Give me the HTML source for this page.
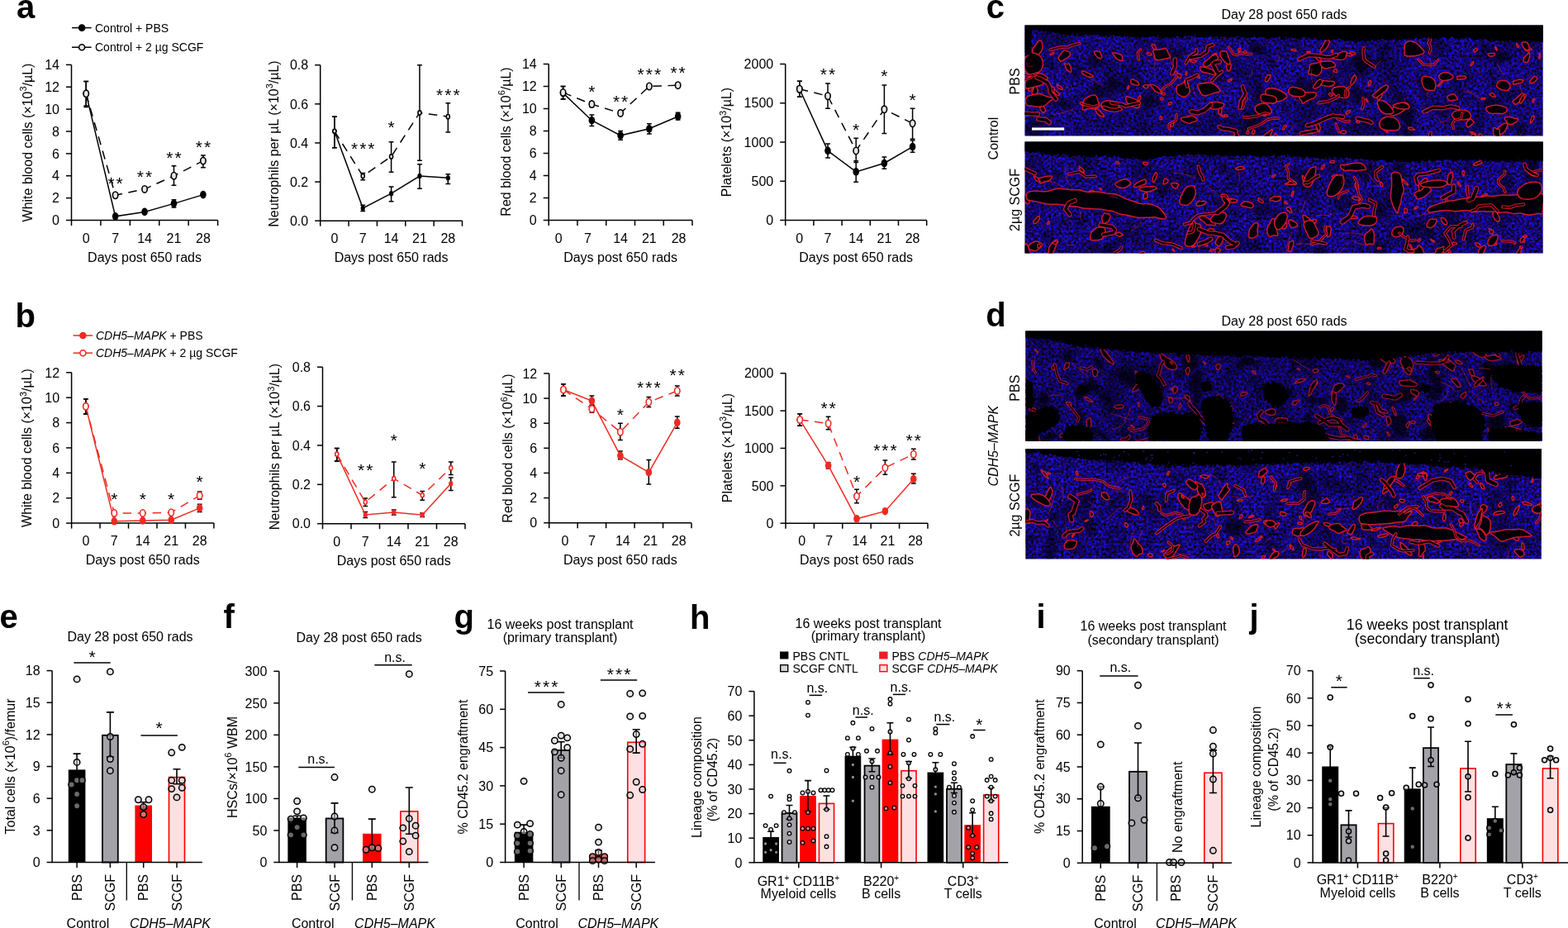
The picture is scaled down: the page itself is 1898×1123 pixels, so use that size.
<!DOCTYPE html>
<html><head><meta charset="utf-8"><title>Figure</title>
<style>html,body{margin:0;padding:0;background:#fff;width:1898px;height:1123px;overflow:hidden}svg{display:block}</style>
</head><body>
<svg width="1898" height="1123" viewBox="0 0 1898 1123" font-family='"Liberation Sans", sans-serif' font-size="16" fill="#000">
<rect width="1898" height="1123" fill="#fff"/>
<defs><filter id="tex0" x="1200" y="0" width="700" height="720" filterUnits="userSpaceOnUse" color-interpolation-filters="sRGB">
<feTurbulence type="fractalNoise" baseFrequency="0.33" numOctaves="3" seed="7" result="n"/>
<feColorMatrix in="n" type="matrix" values="0.05 0.32 0 0 -0.1  0.12 0 0 0 -0.03  1.85 0 0 0 -0.45  0 0 0 0 1" result="c0"/>
<feGaussianBlur in="c0" stdDeviation="0.45" result="c"/>
<feTurbulence type="fractalNoise" baseFrequency="0.03" numOctaves="2" seed="3" result="m"/>
<feColorMatrix in="m" type="matrix" values="1.3 0 0 0 0.28  1.3 0 0 0 0.28  1.3 0 0 0 0.28  0 0 0 0 1" result="mm"/>
<feComposite in="c" in2="mm" operator="arithmetic" k1="1" k2="0" k3="0" k4="0"/>
</filter><filter id="tex1" x="1200" y="0" width="700" height="720" filterUnits="userSpaceOnUse" color-interpolation-filters="sRGB">
<feTurbulence type="fractalNoise" baseFrequency="0.33" numOctaves="3" seed="11" result="n"/>
<feColorMatrix in="n" type="matrix" values="0.05 0.32 0 0 -0.1  0.12 0 0 0 -0.03  1.85 0 0 0 -0.45  0 0 0 0 1" result="c0"/>
<feGaussianBlur in="c0" stdDeviation="0.45" result="c"/>
<feTurbulence type="fractalNoise" baseFrequency="0.03" numOctaves="2" seed="5" result="m"/>
<feColorMatrix in="m" type="matrix" values="1.3 0 0 0 0.28  1.3 0 0 0 0.28  1.3 0 0 0 0.28  0 0 0 0 1" result="mm"/>
<feComposite in="c" in2="mm" operator="arithmetic" k1="1" k2="0" k3="0" k4="0"/>
</filter><filter id="soft" x="-20%" y="-20%" width="140%" height="140%"><feGaussianBlur stdDeviation="2.2"/></filter><filter id="soft2" x="-5%" y="-5%" width="110%" height="110%"><feGaussianBlur stdDeviation="0.65"/></filter><filter id="rag" x="1230" y="20" width="650" height="670" filterUnits="userSpaceOnUse"><feTurbulence type="fractalNoise" baseFrequency="0.3" numOctaves="2" seed="4" result="t"/><feDisplacementMap in="SourceGraphic" in2="t" scale="7" xChannelSelector="R" yChannelSelector="G" result="d"/><feGaussianBlur in="d" stdDeviation="0.4"/></filter></defs>
<clipPath id="mc0"><rect x="1240.5" y="30.5" width="627.2" height="134.1"/></clipPath>
<g clip-path="url(#mc0)">
<rect x="1240.5" y="30.5" width="627.2" height="134.1" fill="#1a10a8" filter="url(#tex0)"/>
<g filter="url(#soft)" fill="#000" fill-opacity="0.5">
<path d="M1526.6 133.8 Q1523.8 134.6 1522.3 130.5 Q1520.8 126.4 1519.2 123.2 Q1517.5 120 1517.7 114.2 Q1518 108.3 1519.9 103.4 Q1521.8 98.5 1523.9 103 Q1526 107.4 1527.6 109.1 Q1529.3 110.8 1528.9 115 Q1528.5 119.3 1528.9 126.2 Q1529.3 133 1526.6 133.8Z"/>
<path d="M1671.2 77 Q1666.9 78.1 1666.9 72.9 Q1666.8 67.6 1668 64 Q1669.1 60.4 1670 55.1 Q1671 49.8 1674.5 50.9 Q1678 51.9 1680.6 52.3 Q1683.2 52.7 1684.1 56 Q1684.9 59.4 1682.6 62.9 Q1680.3 66.3 1677.9 71.1 Q1675.6 76 1671.2 77Z"/>
<path d="M1518.8 157.4 Q1516.8 160.5 1514.3 158.2 Q1511.8 156 1511 152.6 Q1510.3 149.3 1508.6 144.5 Q1506.8 139.7 1509.8 136.3 Q1512.8 132.8 1516.6 133.4 Q1520.4 134.1 1522.7 137.6 Q1525.1 141.1 1524.3 145.2 Q1523.6 149.3 1522.2 151.8 Q1520.8 154.3 1518.8 157.4Z"/>
<path d="M1412.5 71.8 Q1410.4 70.8 1408.2 68.9 Q1405.9 67 1410.6 63.2 Q1415.3 59.3 1419.6 59.8 Q1424 60.2 1427 59.5 Q1430 58.7 1434.5 58.9 Q1439 59 1434.7 62.7 Q1430.3 66.3 1426.5 70.2 Q1422.7 74.1 1418.7 73.4 Q1414.7 72.7 1412.5 71.8Z"/>
<path d="M1296.4 126.4 Q1298.2 128.2 1299 130.8 Q1299.8 133.4 1293.7 132.5 Q1287.6 131.6 1284.2 129 Q1280.8 126.5 1278.3 124.9 Q1275.7 123.3 1276.9 122.3 Q1278 121.3 1280.4 121.1 Q1282.7 120.9 1286.9 120.2 Q1291 119.6 1292.8 122.1 Q1294.7 124.7 1296.4 126.4Z"/>
<path d="M1599.9 105 Q1598.8 108.6 1596 109.5 Q1593.2 110.4 1591.2 111.8 Q1589.1 113.3 1587.8 111.4 Q1586.4 109.5 1585.8 107.4 Q1585.2 105.4 1584.7 101.5 Q1584.2 97.6 1587.6 96.1 Q1590.9 94.7 1593.1 96.9 Q1595.2 99.1 1598.1 100.2 Q1601.1 101.4 1599.9 105Z"/>
<path d="M1389.7 102.2 Q1393.1 106.3 1386.5 106.2 Q1379.9 106.1 1376.3 106.2 Q1372.7 106.3 1366.9 105.6 Q1361.1 104.9 1360.7 101.5 Q1360.2 98.1 1361.2 95.9 Q1362.1 93.7 1365.7 93.8 Q1369.4 93.8 1372.7 94.5 Q1375.9 95.2 1381.1 96.7 Q1386.3 98.2 1389.7 102.2Z"/>
<path d="M1385.8 124.3 Q1383.7 123 1384.2 120.7 Q1384.7 118.3 1387.2 116 Q1389.7 113.6 1392.7 115.4 Q1395.8 117.2 1397.4 118.3 Q1399 119.4 1402.1 121.4 Q1405.2 123.3 1402.5 125.8 Q1399.8 128.3 1396.1 127.7 Q1392.3 127.1 1390.2 126.4 Q1388 125.6 1385.8 124.3Z"/>
<path d="M1698.8 165 Q1696.8 161.1 1696.9 157.6 Q1697.1 154.2 1699 153.1 Q1700.9 152 1702.6 152.1 Q1704.3 152.1 1707.9 151.1 Q1711.4 150 1710.9 154.5 Q1710.3 158.9 1711.3 162.8 Q1712.2 166.7 1709.3 166.5 Q1706.3 166.3 1703.5 167.6 Q1700.7 168.9 1698.8 165Z"/>
<path d="M1619.9 87.6 Q1620 90 1619.4 92.9 Q1618.9 95.8 1616.3 97.9 Q1613.8 100.1 1611.4 98.1 Q1609 96.1 1608.9 93.1 Q1608.8 90 1607.7 86.5 Q1606.7 82.9 1609.9 82.8 Q1613.2 82.7 1614.8 83.3 Q1616.4 84 1618.1 84.6 Q1619.9 85.3 1619.9 87.6Z"/>
<path d="M1520.3 68.1 Q1518.9 68.6 1517.3 68.2 Q1515.7 67.7 1513.9 65.7 Q1512.1 63.7 1513.1 60.5 Q1514.1 57.3 1516.8 56.6 Q1519.5 55.9 1521.8 56.3 Q1524.1 56.8 1525.2 59 Q1526.3 61.3 1525.1 63.4 Q1523.8 65.6 1522.7 66.6 Q1521.6 67.6 1520.3 68.1Z"/>
<path d="M1266.3 151.3 Q1266.6 156 1264 159.2 Q1261.4 162.4 1257.5 165.1 Q1253.7 167.7 1249.6 165.1 Q1245.5 162.4 1239.5 160.7 Q1233.5 159 1238.7 155.5 Q1243.8 152.1 1244.6 148.5 Q1245.4 144.9 1250.4 143.7 Q1255.4 142.5 1260.7 144.6 Q1266 146.7 1266.3 151.3Z"/>
<path d="M1711.5 143.4 Q1710.3 147.8 1706 148.9 Q1701.6 150.1 1697 145.9 Q1692.4 141.8 1692.4 136.1 Q1692.3 130.5 1691.8 125.1 Q1691.3 119.6 1695.1 117.2 Q1698.9 114.8 1703.4 118.2 Q1707.8 121.7 1710.9 126 Q1714.1 130.3 1713.4 134.7 Q1712.6 139.1 1711.5 143.4Z"/>
<path d="M1599.3 125.9 Q1598.1 122.8 1599.2 119.7 Q1600.4 116.5 1602.6 116 Q1604.9 115.4 1607.1 114.8 Q1609.3 114.1 1610.6 116.8 Q1611.9 119.5 1611.6 122.3 Q1611.3 125.2 1610.7 128.4 Q1610 131.6 1607.7 129.7 Q1605.4 127.9 1603 128.5 Q1600.6 129.1 1599.3 125.9Z"/>
<path d="M1255.2 129.3 Q1252.9 130.6 1252 128.9 Q1251.1 127.2 1251.8 123.7 Q1252.5 120.1 1255.7 118.3 Q1259 116.4 1260.4 116.4 Q1261.9 116.4 1263.5 116.1 Q1265.2 115.8 1266 117.7 Q1266.7 119.6 1264 122.3 Q1261.3 125.1 1259.4 126.5 Q1257.5 128 1255.2 129.3Z"/>
<path d="M1815.7 134.6 Q1814.6 138.2 1811.1 136.9 Q1807.5 135.7 1804.4 135.1 Q1801.4 134.4 1798.6 131.4 Q1795.8 128.3 1796.8 123.8 Q1797.8 119.4 1801.8 117.1 Q1805.9 114.8 1809.4 117.4 Q1812.9 120 1815.8 122.1 Q1818.7 124.2 1817.7 127.6 Q1816.7 131 1815.7 134.6Z"/>
<path d="M1318.5 125.2 Q1313.2 126.9 1314.6 120.9 Q1316.1 114.8 1317.7 111.3 Q1319.3 107.8 1321.6 103.8 Q1323.9 99.9 1327.4 99.9 Q1330.8 99.9 1332.7 101.8 Q1334.5 103.7 1335.5 106.8 Q1336.4 109.9 1334.5 114.7 Q1332.5 119.4 1328.2 121.4 Q1323.8 123.5 1318.5 125.2Z"/>
<path d="M1447.9 148.1 Q1448.2 149.7 1450.8 153.2 Q1453.4 156.7 1446.3 154.2 Q1439.1 151.7 1433.1 151.6 Q1427.1 151.6 1424.3 148.7 Q1421.5 145.8 1423.7 144.1 Q1425.9 142.4 1427.8 140.2 Q1429.8 138 1435.3 141 Q1440.9 144 1444.3 145.3 Q1447.7 146.5 1447.9 148.1Z"/>
<path d="M1534.3 62.7 Q1534.1 63.9 1534.9 66.3 Q1535.8 68.6 1530.9 66.9 Q1526 65.2 1521.2 62.9 Q1516.3 60.7 1513.4 57.8 Q1510.6 54.9 1510.6 52.7 Q1510.7 50.5 1514.8 50.4 Q1518.9 50.2 1524.9 53.2 Q1530.9 56.2 1532.7 58.9 Q1534.5 61.5 1534.3 62.7Z"/>
<path d="M1537.9 81.6 Q1536.2 79.4 1535 78.1 Q1533.8 76.8 1533.6 75.1 Q1533.5 73.5 1534.2 71.7 Q1535 69.9 1537.4 70.5 Q1539.7 71.2 1541.8 72.6 Q1543.8 73.9 1544.9 76.2 Q1546 78.5 1544.4 79.7 Q1542.8 80.9 1541.2 82.3 Q1539.7 83.7 1537.9 81.6Z"/>
<path d="M1822.6 69.6 Q1823.2 72.8 1821.1 75.3 Q1819 77.8 1813.4 78.3 Q1807.8 78.8 1803.6 74.4 Q1799.5 70.1 1796.2 66.6 Q1792.9 63.2 1792.5 59.1 Q1792 55.1 1797.7 54.5 Q1803.4 53.9 1810.3 55.6 Q1817.1 57.3 1819.6 61.9 Q1822.1 66.4 1822.6 69.6Z"/>
<path d="M1646.2 94.7 Q1642.1 93.9 1641.7 89.2 Q1641.4 84.5 1638.8 80.6 Q1636.3 76.8 1639.5 71.2 Q1642.6 65.7 1647.6 63.4 Q1652.6 61.1 1655.2 64.9 Q1657.7 68.8 1659.8 72.4 Q1662 76 1658.7 80.3 Q1655.4 84.5 1652.9 90.1 Q1650.4 95.6 1646.2 94.7Z"/>
<path d="M1778.8 101.6 Q1776.1 102 1774.3 100.3 Q1772.4 98.5 1772.9 96.6 Q1773.3 94.7 1772.1 92.3 Q1770.8 89.9 1773.6 90.4 Q1776.4 91 1778.8 89.6 Q1781.1 88.2 1781.4 90.7 Q1781.6 93.2 1782.1 94.8 Q1782.6 96.5 1782 98.8 Q1781.5 101.2 1778.8 101.6Z"/>
<path d="M1320.1 81.8 Q1317.3 79.5 1315.9 75.9 Q1314.5 72.2 1318.7 69.4 Q1322.8 66.7 1326.5 63.5 Q1330.3 60.4 1332 64.3 Q1333.7 68.2 1335.2 69.8 Q1336.8 71.4 1337.1 74.4 Q1337.4 77.3 1334 78.8 Q1330.7 80.3 1326.8 82.2 Q1322.9 84.1 1320.1 81.8Z"/>
<path d="M1648.9 121.6 Q1648.8 124.7 1646.6 127 Q1644.4 129.3 1639.7 125.5 Q1635 121.8 1634.5 116.6 Q1634 111.4 1631.1 105.7 Q1628.2 100 1630.6 97.5 Q1633.1 95 1637.7 99.1 Q1642.4 103.3 1645.8 107.3 Q1649.2 111.4 1649.1 115 Q1649 118.6 1648.9 121.6Z"/>
<path d="M1566.2 113.3 Q1564.3 112.5 1566.1 111.4 Q1567.9 110.3 1570.7 108.9 Q1573.6 107.6 1578.2 107.7 Q1582.8 107.7 1585.3 108.4 Q1587.9 109.1 1589 110.2 Q1590.1 111.3 1585.4 112 Q1580.7 112.7 1577.7 113.7 Q1574.8 114.8 1571.4 114.4 Q1568.1 114.1 1566.2 113.3Z"/>
<path d="M1846.8 157.4 Q1847.8 159.4 1846.8 162 Q1845.9 164.6 1842.4 165 Q1838.9 165.4 1836.8 162.7 Q1834.7 160.1 1834.3 157.9 Q1833.8 155.7 1834.9 154.1 Q1836 152.6 1837.5 150.6 Q1839 148.7 1842.5 148.7 Q1846 148.8 1845.9 152 Q1845.8 155.3 1846.8 157.4Z"/>
<path d="M1727.3 64.7 Q1725.8 65 1725 63.7 Q1724.3 62.4 1724.2 60.2 Q1724.1 58 1726.2 57.1 Q1728.3 56.2 1730.2 54 Q1732.2 51.8 1732.5 54.1 Q1732.8 56.5 1733.8 57.7 Q1734.8 59 1733.3 60.8 Q1731.8 62.7 1730.4 63.6 Q1728.9 64.5 1727.3 64.7Z"/>
<path d="M1574.1 110.5 Q1572.5 110.9 1571.1 110.1 Q1569.6 109.4 1567.9 107.4 Q1566.1 105.4 1566.8 101.9 Q1567.5 98.3 1569.7 96.6 Q1571.8 94.9 1574.4 93.9 Q1577 92.9 1578.3 96.2 Q1579.6 99.5 1580.3 103.3 Q1581 107.1 1578.4 108.6 Q1575.8 110.1 1574.1 110.5Z"/>
<path d="M1714.2 155.9 Q1716.9 162.2 1712.4 157.8 Q1707.9 153.5 1704.4 152.6 Q1700.8 151.8 1697.4 145.4 Q1694 139 1696.2 137.7 Q1698.4 136.4 1699.2 135.1 Q1700 133.8 1702.3 133.5 Q1704.7 133.3 1707.3 138.5 Q1709.9 143.7 1710.7 146.7 Q1711.5 149.7 1714.2 155.9Z"/>
<path d="M1768.5 116.5 Q1767.5 118.5 1765.2 113.9 Q1763 109.3 1761.6 107.3 Q1760.2 105.2 1758.1 100.5 Q1756.1 95.8 1755.6 90.7 Q1755.2 85.7 1756.9 84.8 Q1758.5 83.9 1760.9 90.5 Q1763.2 97.2 1765.1 100.5 Q1767 103.8 1768.2 109.1 Q1769.5 114.5 1768.5 116.5Z"/>
<path d="M1562.2 131.4 Q1560 132.3 1560.3 133.7 Q1560.6 135 1558.2 134.8 Q1555.9 134.7 1553.5 133.7 Q1551.1 132.7 1551.1 131.4 Q1551 130.1 1551.2 129.3 Q1551.4 128.4 1552.7 128.1 Q1554 127.8 1556.4 127.5 Q1558.9 127.1 1561.6 128.8 Q1564.3 130.4 1562.2 131.4Z"/>
<path d="M1827 73.3 Q1822.7 74.5 1819.6 73.2 Q1816.5 72 1814.2 70.8 Q1811.9 69.7 1812.1 67.7 Q1812.3 65.8 1815.1 64.3 Q1817.8 62.9 1821.5 62.1 Q1825.1 61.3 1826 63.2 Q1827 65.2 1830.6 66.2 Q1834.1 67.2 1832.7 69.7 Q1831.3 72.1 1827 73.3Z"/>
<path d="M1363.3 110.2 Q1362.3 111.8 1361.5 113.6 Q1360.6 115.5 1357 112.7 Q1353.3 109.8 1347.9 108.2 Q1342.5 106.6 1340.9 102.7 Q1339.3 98.8 1341.2 97 Q1343.1 95.2 1347 95.1 Q1350.8 95.1 1355.6 98.5 Q1360.3 102 1362.3 105.3 Q1364.3 108.6 1363.3 110.2Z"/>
<path d="M1632.5 122.8 Q1632.1 127.8 1627 127.7 Q1622 127.7 1616.3 124.8 Q1610.7 121.9 1606.3 116.4 Q1601.8 110.8 1603.1 106.9 Q1604.4 102.9 1604.8 98.1 Q1605.2 93.2 1611 94.6 Q1616.8 96 1621.8 101.2 Q1626.8 106.4 1629.8 112.1 Q1632.8 117.7 1632.5 122.8Z"/>
<path d="M1726.7 110.2 Q1726.8 112.5 1724.5 109.7 Q1722.2 106.9 1720.5 105.5 Q1718.7 104.2 1716.3 100 Q1713.8 95.8 1713.1 92.4 Q1712.5 89 1714.5 90.3 Q1716.5 91.6 1718.1 91.1 Q1719.7 90.6 1722.5 95.9 Q1725.3 101.3 1725.9 104.6 Q1726.5 107.9 1726.7 110.2Z"/>
<path d="M1643.9 120.2 Q1641.5 118.4 1642.8 116.1 Q1644.1 113.8 1648 112.5 Q1651.9 111.1 1657.1 111 Q1662.3 111 1661.5 114.1 Q1660.7 117.2 1663.4 118.9 Q1666.1 120.7 1663.6 122.7 Q1661.2 124.8 1656.9 124 Q1652.7 123.2 1649.5 122.6 Q1646.3 122 1643.9 120.2Z"/>
<path d="M1278.9 83.9 Q1281.1 87.3 1278.4 86.4 Q1275.7 85.5 1273.2 83.8 Q1270.7 82.1 1267.4 79.5 Q1264.2 76.8 1264.4 74.7 Q1264.5 72.6 1264.5 70.3 Q1264.5 68 1267.8 70 Q1271 71.9 1274 74.2 Q1276.9 76.4 1276.8 78.5 Q1276.6 80.5 1278.9 83.9Z"/>
<path d="M1621.4 138 Q1620 141.4 1617.8 142.9 Q1615.6 144.5 1613.4 146.4 Q1611.2 148.2 1609.5 147.1 Q1607.9 146 1609.6 142.6 Q1611.3 139.2 1611.3 135.1 Q1611.4 131 1614.2 130.6 Q1617.1 130.1 1619.1 130.1 Q1621.2 130 1622 132.3 Q1622.8 134.6 1621.4 138Z"/>
<path d="M1481.2 97 Q1479.4 99.8 1475.6 98.3 Q1471.8 96.8 1469.5 94.3 Q1467.2 91.7 1464.9 89.5 Q1462.7 87.3 1463.3 85.2 Q1463.9 83.2 1464.8 81.7 Q1465.8 80.1 1468.4 78.6 Q1471 77 1473.6 81.1 Q1476.3 85.3 1479.7 89.7 Q1483 94.2 1481.2 97Z"/>
</g>
<g fill="#000" fill-opacity="0.92" stroke="#f01c2c" stroke-opacity="0.85" stroke-width="1.5" filter="url(#soft2)">
<path d="M1722.6 60.5 Q1725.5 63.8 1721.3 65.4 Q1717.2 66.9 1713.6 67.6 Q1710.1 68.2 1704.8 68 Q1699.5 67.8 1700.1 64 Q1700.8 60.2 1700.1 57.5 Q1699.3 54.8 1701.7 51.9 Q1704.1 49 1709.3 50.2 Q1714.4 51.5 1717.1 54.4 Q1719.7 57.3 1722.6 60.5Z"/>
<path d="M1853.1 148.9 Q1852.3 149.6 1852.3 148.4 Q1852.4 147.2 1852.8 145.9 Q1853.2 144.6 1853.6 142.9 Q1854.1 141.1 1854.8 140.9 Q1855.5 140.8 1856.2 140.3 Q1856.9 139.8 1857.1 140.9 Q1857.3 142 1856.4 144 Q1855.6 146 1854.7 147 Q1853.9 148.1 1853.1 148.9Z"/>
<path d="M1597.4 101.9 Q1594.3 100.9 1596.2 99.3 Q1598.1 97.7 1601.3 97.7 Q1604.5 97.7 1606.5 98 Q1608.4 98.4 1612.2 98.6 Q1616 98.8 1615.6 100.6 Q1615.3 102.4 1612.8 103.5 Q1610.3 104.6 1607.4 104.4 Q1604.4 104.3 1602.5 103.6 Q1600.6 102.9 1597.4 101.9Z"/>
<path d="M1667.8 120.3 Q1667.1 119.7 1666.9 118.9 Q1666.6 118.1 1666.4 116.4 Q1666.2 114.7 1668.3 113.1 Q1670.4 111.5 1672.3 111.2 Q1674.2 110.8 1673.6 112.9 Q1672.9 114.9 1672.8 115.8 Q1672.6 116.7 1671.9 117.9 Q1671.3 119 1669.9 120 Q1668.5 120.9 1667.8 120.3Z"/>
<path d="M1636.9 66.8 Q1637.1 67.5 1636.1 67.7 Q1635.2 67.9 1633.6 67.8 Q1632 67.7 1630.5 67 Q1629 66.4 1627.9 65.7 Q1626.8 65.1 1627.4 64.8 Q1628 64.6 1628.8 64.4 Q1629.6 64.3 1631.3 64.4 Q1633 64.5 1634.8 65.3 Q1636.7 66.1 1636.9 66.8Z"/>
<path d="M1283.1 73.5 Q1282.2 72.2 1281.4 71.1 Q1280.6 69.9 1282.2 67.9 Q1283.8 65.9 1285.8 63.1 Q1287.9 60.4 1289.8 61.1 Q1291.7 61.9 1293.5 62.4 Q1295.3 63 1295.4 65.5 Q1295.5 67.9 1292.1 69.8 Q1288.8 71.6 1286.4 73.2 Q1284 74.8 1283.1 73.5Z"/>
<path d="M1712 156.7 Q1713.5 157.5 1711.8 157.3 Q1710.1 157.2 1709.4 157.1 Q1708.6 157.1 1707.3 156.9 Q1706 156.7 1705.3 156 Q1704.7 155.3 1704.6 154.6 Q1704.5 153.9 1705.9 154.1 Q1707.2 154.2 1708.6 154.2 Q1709.9 154.2 1710.2 155 Q1710.6 155.8 1712 156.7Z"/>
<path d="M1373 129.3 Q1372.5 129.5 1372.8 128.8 Q1373 128.2 1373.3 127.7 Q1373.6 127.3 1374 126.8 Q1374.4 126.3 1375 125.8 Q1375.6 125.3 1375.7 125.7 Q1375.7 126.2 1375.4 126.7 Q1375.1 127.2 1374.9 127.8 Q1374.7 128.5 1374.1 128.8 Q1373.5 129.2 1373 129.3Z"/>
<path d="M1810.9 163.7 Q1809.4 163.1 1809.5 161.5 Q1809.6 159.9 1811.2 157.7 Q1812.8 155.5 1816 152.4 Q1819.2 149.3 1822.7 148.9 Q1826.1 148.6 1824.9 151.5 Q1823.7 154.5 1823.1 156.4 Q1822.5 158.2 1820.1 160.3 Q1817.7 162.3 1815 163.3 Q1812.4 164.3 1810.9 163.7Z"/>
<path d="M1487 99 Q1486.5 98.8 1486.2 98.4 Q1486 97.9 1486.7 97.2 Q1487.4 96.5 1488.2 96.2 Q1488.9 96 1489.8 95.6 Q1490.7 95.1 1491.1 95.4 Q1491.5 95.8 1490.8 96.6 Q1490 97.4 1489.4 97.7 Q1488.9 98 1488.2 98.6 Q1487.5 99.1 1487 99Z"/>
<path d="M1576.1 123.8 Q1575.8 121.3 1573.8 120.1 Q1571.9 118.9 1573.6 115.6 Q1575.3 112.2 1579.1 112.1 Q1582.8 112 1584.8 111.9 Q1586.7 111.8 1590.3 111.7 Q1593.9 111.6 1593.1 115.1 Q1592.3 118.5 1587.7 119.8 Q1583 121.1 1579.7 123.7 Q1576.4 126.4 1576.1 123.8Z"/>
<path d="M1336.2 140.2 Q1336.8 141.7 1335.2 141.3 Q1333.6 141 1331.8 140.3 Q1330 139.7 1328.7 137.9 Q1327.3 136.2 1326.8 135 Q1326.3 133.9 1325.6 132.1 Q1325 130.4 1327.2 131.5 Q1329.4 132.5 1331.2 134.1 Q1333 135.6 1334.3 137.2 Q1335.6 138.7 1336.2 140.2Z"/>
<path d="M1684.4 139.6 Q1682.4 138.8 1682 136.7 Q1681.7 134.7 1684.7 131.8 Q1687.7 128.8 1691.8 126.7 Q1695.8 124.6 1699.3 124.3 Q1702.8 123.9 1704.2 125.5 Q1705.5 127.2 1702.8 130.2 Q1700 133.2 1696.8 135.3 Q1693.5 137.4 1689.9 138.9 Q1686.3 140.4 1684.4 139.6Z"/>
<path d="M1741.1 104.2 Q1739.8 105.1 1740.6 103.8 Q1741.3 102.5 1742 101.6 Q1742.7 100.7 1743.4 100.1 Q1744.1 99.4 1744.9 98.8 Q1745.8 98.2 1745.9 98.6 Q1746 99 1746.4 99.5 Q1746.7 100 1745.3 100.9 Q1743.9 101.8 1743.2 102.6 Q1742.4 103.3 1741.1 104.2Z"/>
<path d="M1320.3 126.4 Q1320.3 127.4 1319.5 128.2 Q1318.8 129 1316.2 129.4 Q1313.7 129.8 1311.7 128.3 Q1309.8 126.8 1308.5 126.2 Q1307.3 125.5 1307.2 124.8 Q1307.1 124.1 1308.4 123.8 Q1309.8 123.5 1311.9 123.8 Q1314 124.1 1317.1 124.7 Q1320.2 125.3 1320.3 126.4Z"/>
<path d="M1615.7 80.3 Q1616.2 80.9 1615.4 80.7 Q1614.7 80.6 1614.1 80.4 Q1613.4 80.3 1612.5 79.8 Q1611.6 79.3 1611.5 78.8 Q1611.4 78.3 1611.7 78.2 Q1612 78.1 1612.4 77.8 Q1612.7 77.5 1613.7 78 Q1614.7 78.5 1615 79.1 Q1615.3 79.7 1615.7 80.3Z"/>
<path d="M1588.3 160.2 Q1590 160.8 1588.9 161.3 Q1587.9 161.8 1586.1 161.6 Q1584.3 161.4 1582.8 161.1 Q1581.3 160.9 1580.4 160.3 Q1579.5 159.7 1580 159.3 Q1580.5 158.9 1580.7 158.2 Q1580.9 157.5 1582.9 157.9 Q1585 158.3 1585.8 158.9 Q1586.6 159.5 1588.3 160.2Z"/>
<path d="M1245.7 110.3 Q1244.9 109.7 1245.1 108.6 Q1245.3 107.5 1245.6 106.8 Q1245.8 106 1246.4 105.2 Q1247 104.4 1247.8 104.3 Q1248.5 104.1 1249.7 103.9 Q1250.8 103.8 1250.4 105.1 Q1249.9 106.4 1249.4 107.5 Q1248.8 108.6 1247.6 109.8 Q1246.5 110.9 1245.7 110.3Z"/>
<path d="M1410.1 113 Q1410.7 113.4 1410.4 114 Q1410 114.6 1409.1 114.9 Q1408.2 115.2 1407.5 114.7 Q1406.9 114.2 1406.3 114 Q1405.8 113.8 1405.4 113.3 Q1405 112.8 1405.9 112.7 Q1406.9 112.6 1407.5 112.3 Q1408.1 112 1408.8 112.3 Q1409.5 112.5 1410.1 113Z"/>
<path d="M1833.5 126 Q1832.8 124.6 1831.4 123.7 Q1830 122.7 1833.7 120.3 Q1837.5 117.9 1839.8 115.1 Q1842.1 112.2 1843.3 113.2 Q1844.5 114.2 1846.2 114.3 Q1847.9 114.5 1846.8 116.6 Q1845.6 118.7 1843 120.3 Q1840.4 121.9 1837.4 124.6 Q1834.3 127.3 1833.5 126Z"/>
<path d="M1436.4 91.1 Q1436.1 91.5 1435.8 90.9 Q1435.5 90.4 1435.2 89.9 Q1434.9 89.4 1435.1 88.7 Q1435.2 88.1 1435.3 87.5 Q1435.3 86.9 1435.6 86.8 Q1435.9 86.7 1436.3 86.9 Q1436.7 87.1 1436.8 88.2 Q1437 89.2 1436.8 89.9 Q1436.6 90.7 1436.4 91.1Z"/>
<path d="M1247.8 102.5 Q1246.9 103 1246.7 101 Q1246.6 99.1 1245.5 98.1 Q1244.4 97.1 1245.4 94.1 Q1246.4 91.1 1247.5 91 Q1248.6 90.9 1249.6 90 Q1250.7 89 1250.7 91.3 Q1250.6 93.6 1250.5 95.6 Q1250.3 97.7 1249.5 99.9 Q1248.8 102.1 1247.8 102.5Z"/>
<path d="M1429.5 93.1 Q1429.5 93.8 1429.1 94.5 Q1428.8 95.3 1427.7 94.3 Q1426.7 93.3 1425.3 92.5 Q1424 91.6 1424.2 90.6 Q1424.4 89.6 1424.8 88.9 Q1425.2 88.2 1426.4 88.8 Q1427.5 89.5 1428.7 90 Q1430 90.5 1429.7 91.5 Q1429.5 92.5 1429.5 93.1Z"/>
<path d="M1333.3 66.9 Q1334.1 68.4 1333.4 69.8 Q1332.8 71.3 1330.2 70.2 Q1327.7 69.2 1326.7 67.4 Q1325.8 65.7 1324.9 64.5 Q1324.1 63.2 1324.8 62.5 Q1325.5 61.8 1326.8 61.8 Q1328.1 61.8 1329.9 62.2 Q1331.6 62.6 1332.1 64 Q1332.5 65.5 1333.3 66.9Z"/>
<path d="M1814.6 106 Q1813.4 105.7 1813.9 104.2 Q1814.4 102.7 1815.2 101.6 Q1815.9 100.4 1817 99.5 Q1818.2 98.5 1818.9 99 Q1819.5 99.4 1820.5 99.4 Q1821.5 99.4 1821.7 100.5 Q1821.8 101.7 1820.6 103.4 Q1819.5 105.1 1817.7 105.6 Q1815.9 106.2 1814.6 106Z"/>
<path d="M1656 123.4 Q1655.8 123.7 1655.3 123.2 Q1654.8 122.7 1654.4 122.5 Q1654.1 122.2 1653.7 121.6 Q1653.4 121 1653.2 120.2 Q1653 119.5 1653.4 119.3 Q1653.7 119.1 1654.2 119.6 Q1654.8 120.1 1655 120.8 Q1655.3 121.5 1655.7 122.3 Q1656.2 123 1656 123.4Z"/>
<path d="M1809.7 115.9 Q1810.5 116.7 1810 117.3 Q1809.6 117.9 1808.1 117.3 Q1806.7 116.7 1805.5 116.1 Q1804.3 115.6 1803.6 114.7 Q1802.8 113.8 1803.8 113.6 Q1804.9 113.5 1805.2 112.8 Q1805.6 112.2 1806.9 112.9 Q1808.2 113.6 1808.6 114.3 Q1809 115.1 1809.7 115.9Z"/>
<path d="M1296.7 86.1 Q1296.6 88 1294.8 86.8 Q1293.1 85.7 1291.9 84.8 Q1290.6 83.9 1290.4 82.4 Q1290.2 80.9 1288.9 78.5 Q1287.7 76.1 1289.6 77.1 Q1291.5 78.1 1292.7 77.3 Q1293.9 76.5 1294.9 78.6 Q1295.9 80.8 1296.4 82.5 Q1296.8 84.3 1296.7 86.1Z"/>
<path d="M1585.6 89.8 Q1582.4 89.9 1584 86.9 Q1585.6 84 1585.3 80.6 Q1585 77.3 1588.9 77.2 Q1592.7 77 1596.9 75.4 Q1601.2 73.8 1600.3 77.5 Q1599.5 81.2 1599.9 83.7 Q1600.3 86.3 1597.6 89.5 Q1595 92.7 1591.9 91.2 Q1588.9 89.8 1585.6 89.8Z"/>
<path d="M1582.1 63.2 Q1581.1 63.2 1581.6 62.9 Q1582.2 62.6 1583 62.5 Q1583.8 62.4 1584.6 62.3 Q1585.3 62.2 1586 62.4 Q1586.6 62.6 1586.3 62.9 Q1586 63.2 1585.7 63.4 Q1585.3 63.7 1584.5 63.8 Q1583.7 63.9 1583.4 63.6 Q1583.1 63.3 1582.1 63.2Z"/>
<path d="M1365.5 107.6 Q1365.3 107.8 1364.9 107.8 Q1364.6 107.8 1364.7 107 Q1364.8 106.3 1364.9 105.5 Q1365 104.7 1365.4 104.4 Q1365.8 104.1 1366.2 103.9 Q1366.6 103.7 1366.5 104.6 Q1366.3 105.5 1366.5 106.2 Q1366.7 106.8 1366.2 107.1 Q1365.8 107.5 1365.5 107.6Z"/>
<path d="M1841.2 124.7 Q1840.3 125.4 1839.8 124.6 Q1839.2 123.9 1839.5 122.2 Q1839.7 120.6 1840.6 119.3 Q1841.5 118 1842.5 116.4 Q1843.6 114.8 1844.3 115.4 Q1845 116 1845.1 117.4 Q1845.3 118.8 1844.4 120.4 Q1843.5 121.9 1842.8 123 Q1842.1 124 1841.2 124.7Z"/>
<path d="M1597.2 158.8 Q1596.9 160.7 1595.9 159.2 Q1594.9 157.6 1594.5 156.3 Q1594.1 155 1593.3 153.4 Q1592.4 151.8 1592.7 150.1 Q1593.1 148.3 1594.2 148.4 Q1595.3 148.5 1596.2 149.8 Q1597.1 151.1 1597.8 152.8 Q1598.5 154.6 1598 155.8 Q1597.4 157 1597.2 158.8Z"/>
<path d="M1612.9 64 Q1612.7 64.5 1612.5 63.9 Q1612.3 63.4 1611.9 63.1 Q1611.5 62.8 1611.6 61.9 Q1611.8 61.1 1612.1 60.8 Q1612.4 60.6 1612.7 60.5 Q1613 60.5 1613.3 60.9 Q1613.6 61.2 1613.5 61.9 Q1613.5 62.6 1613.3 63.1 Q1613.1 63.5 1612.9 64Z"/>
<path d="M1815.1 167.1 Q1814.1 169 1812.5 167.1 Q1811 165.2 1809.3 164.3 Q1807.5 163.5 1807.5 161 Q1807.4 158.5 1807.8 155.9 Q1808.1 153.3 1810.1 155 Q1812 156.7 1813.7 156.2 Q1815.5 155.8 1815.3 158.4 Q1815 161 1815.6 163.1 Q1816.1 165.3 1815.1 167.1Z"/>
<path d="M1838.6 56.4 Q1837.9 56.2 1837.8 56.9 Q1837.7 57.6 1836.9 56.8 Q1836.1 55.9 1835.8 55 Q1835.6 54.1 1835.5 53.5 Q1835.5 52.9 1835.6 52.5 Q1835.8 52.1 1836.4 52.9 Q1837 53.7 1837.3 54.1 Q1837.7 54.6 1838.4 55.6 Q1839.2 56.7 1838.6 56.4Z"/>
<path d="M1435.9 116.4 Q1434.3 117.6 1432.2 117.2 Q1430.2 116.7 1427 114.8 Q1423.8 112.9 1424 107.9 Q1424.3 102.9 1427.6 102.5 Q1431 102 1433.4 99 Q1435.7 96 1437.3 100.1 Q1438.9 104.2 1439.9 107.4 Q1441 110.7 1439.3 112.9 Q1437.6 115.2 1435.9 116.4Z"/>
<path d="M1794.4 165.2 Q1795.1 166 1794 165.6 Q1793 165.3 1792.5 165.1 Q1792 165 1791.1 164.7 Q1790.2 164.4 1790.2 163.8 Q1790.3 163.3 1790.1 162.5 Q1789.9 161.7 1790.8 161.8 Q1791.7 161.8 1792.7 162.4 Q1793.6 163.1 1793.7 163.7 Q1793.8 164.4 1794.4 165.2Z"/>
<path d="M1680 159.7 Q1679.7 160 1679.5 160.5 Q1679.3 160.9 1678.1 159.8 Q1676.8 158.8 1676.1 158.1 Q1675.3 157.4 1674.9 156.7 Q1674.5 156 1674.2 155.3 Q1673.9 154.5 1674.9 154.8 Q1675.8 155.1 1677 156.2 Q1678.2 157.4 1679.3 158.4 Q1680.3 159.4 1680 159.7Z"/>
<path d="M1793.1 120.2 Q1792.2 120.2 1792.8 119.8 Q1793.4 119.4 1793.9 118.9 Q1794.4 118.5 1795.2 118.6 Q1796 118.7 1797.3 118.5 Q1798.6 118.2 1798.1 118.7 Q1797.7 119.3 1797.2 119.7 Q1796.8 120.1 1795.9 120.4 Q1795 120.6 1794.5 120.4 Q1794.1 120.2 1793.1 120.2Z"/>
<path d="M1618.5 86.1 Q1618.9 86.6 1618.8 87.2 Q1618.8 87.9 1617.7 87.6 Q1616.6 87.3 1615.9 87.1 Q1615.2 86.8 1614.5 86.3 Q1613.8 85.8 1614.3 85.4 Q1614.9 85 1615.1 84.2 Q1615.4 83.5 1616.7 83.6 Q1617.9 83.8 1618 84.7 Q1618.1 85.6 1618.5 86.1Z"/>
<path d="M1531.1 140.3 Q1530 139.9 1529.2 140 Q1528.4 140.1 1527.9 139 Q1527.3 137.9 1527.7 136.7 Q1528.2 135.6 1528.6 134.4 Q1529.1 133.3 1530.1 133.1 Q1531.1 132.9 1531.6 134.1 Q1532.2 135.3 1532.3 136.6 Q1532.5 137.8 1532.3 139.3 Q1532.1 140.8 1531.1 140.3Z"/>
<path d="M1664 118.1 Q1663.4 117 1662.1 116.5 Q1660.8 115.9 1663.7 113.3 Q1666.7 110.7 1669.3 108.4 Q1671.8 106.1 1675.3 104.2 Q1678.7 102.4 1679.7 103.5 Q1680.8 104.7 1679.2 107.6 Q1677.6 110.5 1674 112.7 Q1670.3 115 1667.5 117.1 Q1664.6 119.1 1664 118.1Z"/>
<path d="M1378.3 122.8 Q1377.6 123.7 1377.5 122.8 Q1377.3 121.8 1377.4 120.4 Q1377.4 119 1378.2 117.8 Q1379 116.6 1379.5 116 Q1379.9 115.4 1380.1 115.7 Q1380.3 116 1380.6 116.3 Q1381 116.5 1380.6 118 Q1380.1 119.5 1379.6 120.7 Q1379 121.9 1378.3 122.8Z"/>
<path d="M1405.5 144.5 Q1404.9 144.7 1404.4 144.5 Q1403.8 144.3 1404 143.4 Q1404.2 142.5 1404.5 142 Q1404.7 141.5 1405 141 Q1405.4 140.6 1405.7 140.9 Q1406 141.2 1406.3 141.5 Q1406.7 141.7 1406.8 142.5 Q1406.9 143.2 1406.4 143.8 Q1406 144.4 1405.5 144.5Z"/>
<path d="M1408.1 119.9 Q1408.1 120.3 1407.7 120.4 Q1407.3 120.6 1406.7 120.8 Q1406.1 121 1405.3 120.5 Q1404.5 120 1404.2 119.2 Q1403.9 118.5 1404.7 118.5 Q1405.5 118.4 1405.9 118.1 Q1406.2 117.9 1406.8 118.2 Q1407.5 118.5 1407.7 119 Q1408 119.5 1408.1 119.9Z"/>
<path d="M1846.2 60.1 Q1846 59.4 1845.9 58.6 Q1845.8 57.7 1846.9 56.9 Q1848.1 56.1 1849.3 56.9 Q1850.6 57.8 1851.6 58.1 Q1852.6 58.4 1853.8 59.3 Q1855 60.2 1853 60.5 Q1850.9 60.8 1849.8 61.3 Q1848.6 61.7 1847.5 61.3 Q1846.4 60.9 1846.2 60.1Z"/>
<path d="M1505.5 64.8 Q1504.8 64.8 1505 64.1 Q1505.2 63.4 1505.4 62.9 Q1505.7 62.4 1506.1 61.8 Q1506.6 61.2 1507.1 61.4 Q1507.6 61.6 1508.1 61.9 Q1508.5 62.1 1508.8 62.7 Q1509.1 63.4 1508.2 63.8 Q1507.4 64.3 1506.8 64.5 Q1506.2 64.7 1505.5 64.8Z"/>
<path d="M1855.5 123.6 Q1855.3 123.1 1855.1 123 Q1854.8 122.9 1854.8 122.3 Q1854.8 121.7 1855.2 120.9 Q1855.6 120 1856.1 119.8 Q1856.6 119.7 1857.1 119.6 Q1857.6 119.5 1857.4 120.4 Q1857.1 121.2 1856.8 121.9 Q1856.5 122.5 1856.1 123.3 Q1855.7 124.1 1855.5 123.6Z"/>
<path d="M1481.9 141.6 Q1481.9 142.1 1481.2 141.9 Q1480.5 141.8 1480 141.6 Q1479.4 141.4 1478.9 141 Q1478.3 140.6 1477.8 140.1 Q1477.3 139.5 1477.6 139.3 Q1478 139.2 1478.5 139.1 Q1479 139.1 1479.9 139.4 Q1480.9 139.6 1481.4 140.4 Q1482 141.2 1481.9 141.6Z"/>
<path d="M1780.3 79.6 Q1779.8 79.8 1779.8 79.3 Q1779.9 78.7 1780.4 77.9 Q1780.9 77.1 1781.4 76.4 Q1781.8 75.7 1782.4 75.2 Q1782.9 74.7 1783.3 74.7 Q1783.6 74.7 1783.8 75.2 Q1784 75.8 1783.1 77.1 Q1782.2 78.4 1781.5 78.9 Q1780.8 79.3 1780.3 79.6Z"/>
<path d="M1459.5 80.7 Q1457.3 80.3 1456.7 78.2 Q1456 76.2 1460.2 73.3 Q1464.4 70.3 1466.3 68.1 Q1468.2 65.9 1470.6 65.1 Q1472.9 64.2 1472.8 66 Q1472.6 67.8 1474.2 69.1 Q1475.8 70.5 1472.1 72.9 Q1468.3 75.4 1465 78.3 Q1461.7 81.1 1459.5 80.7Z"/>
<path d="M1568.7 60.7 Q1568.8 61 1569 61.5 Q1569.2 62 1567.8 61.8 Q1566.5 61.5 1565.5 61.5 Q1564.5 61.4 1563.7 61.1 Q1562.9 60.7 1562.8 60.2 Q1562.6 59.7 1563.8 59.7 Q1565 59.7 1566.1 59.5 Q1567.2 59.2 1567.9 59.8 Q1568.6 60.3 1568.7 60.7Z"/>
<path d="M1696.9 129.3 Q1697.3 130.1 1696.8 129.8 Q1696.2 129.5 1695.7 129.1 Q1695.2 128.7 1694.5 128 Q1693.8 127.3 1694 127 Q1694.2 126.7 1694.4 126.5 Q1694.5 126.3 1694.9 126.5 Q1695.3 126.7 1695.8 127.2 Q1696.2 127.7 1696.3 128.2 Q1696.5 128.6 1696.9 129.3Z"/>
<path d="M1252.1 125.1 Q1251.4 124.3 1251.2 123.1 Q1251 121.9 1252.6 120.8 Q1254.3 119.7 1256 120.6 Q1257.8 121.6 1259.7 121.9 Q1261.6 122.2 1261.7 123.5 Q1261.8 124.8 1260.8 126.2 Q1259.9 127.6 1257.5 128 Q1255 128.3 1253.9 127.1 Q1252.8 125.9 1252.1 125.1Z"/>
<path d="M1640.8 64.6 Q1640.8 65.2 1640.2 65.6 Q1639.6 65.9 1638.6 66.1 Q1637.6 66.3 1636.5 65.9 Q1635.4 65.4 1634.9 64.9 Q1634.5 64.4 1634.2 63.9 Q1633.9 63.3 1634.7 63 Q1635.6 62.7 1636.7 63.1 Q1637.9 63.4 1639.4 63.7 Q1640.9 63.9 1640.8 64.6Z"/>
<path d="M1393.8 65.8 Q1394.1 66.5 1393.6 66.9 Q1393.1 67.2 1391.9 66.9 Q1390.8 66.5 1389.6 65.9 Q1388.5 65.3 1388.8 64.8 Q1389.1 64.3 1388.8 63.7 Q1388.6 63.1 1389.3 63.2 Q1390.1 63.2 1390.9 63.7 Q1391.7 64.2 1392.5 64.7 Q1393.4 65.2 1393.8 65.8Z"/>
<path d="M1277.7 112.4 Q1277.1 112.9 1276.2 112.4 Q1275.3 111.9 1274.3 111.4 Q1273.3 111 1271.8 109.3 Q1270.3 107.5 1270.6 106.2 Q1271 104.9 1272.1 105 Q1273.2 105.1 1274.2 105.1 Q1275.3 105 1276 106.9 Q1276.7 108.8 1277.5 110.3 Q1278.3 111.9 1277.7 112.4Z"/>
<path d="M1623.2 160.7 Q1622.1 160.4 1622.7 159.7 Q1623.2 158.9 1624.3 158.4 Q1625.4 157.8 1626.6 157.9 Q1627.7 157.9 1628.5 158.2 Q1629.3 158.5 1629.2 159.1 Q1629.1 159.6 1629 160.4 Q1629 161.2 1627.5 161.6 Q1626 162 1625.1 161.6 Q1624.2 161.1 1623.2 160.7Z"/>
<path d="M1812.5 60.3 Q1812.2 60.6 1811.9 61 Q1811.6 61.5 1811.1 60.5 Q1810.5 59.5 1810.2 59 Q1809.9 58.5 1809.8 58 Q1809.8 57.6 1809.9 57 Q1809.9 56.5 1810.5 57 Q1811.1 57.6 1811.4 58.1 Q1811.7 58.7 1812.2 59.3 Q1812.7 60 1812.5 60.3Z"/>
<path d="M1487.8 85.7 Q1486.8 86 1486.1 85.2 Q1485.3 84.4 1484.8 82.9 Q1484.3 81.5 1484.7 79.4 Q1485 77.3 1486.2 77.2 Q1487.4 77.1 1488.1 77.2 Q1488.9 77.3 1489.9 77.8 Q1490.9 78.4 1490.2 80.1 Q1489.5 81.9 1489.2 83.7 Q1488.8 85.4 1487.8 85.7Z"/>
<path d="M1686.1 133.3 Q1687.8 136.2 1684.9 137.3 Q1682.1 138.3 1678.5 138 Q1674.9 137.6 1672.2 135.1 Q1669.5 132.5 1668.7 130.1 Q1667.9 127.6 1667.3 124.5 Q1666.6 121.3 1670.6 121.5 Q1674.5 121.7 1677.6 123.9 Q1680.6 126.1 1682.6 128.2 Q1684.5 130.3 1686.1 133.3Z"/>
<path d="M1448.3 74.4 Q1447.4 74.8 1447 75 Q1446.6 75.3 1445.8 75.7 Q1445 76.1 1443.8 75.4 Q1442.6 74.7 1441.3 74.3 Q1440 73.8 1439.5 73.1 Q1439 72.5 1440.6 72.5 Q1442.2 72.5 1443.7 72.9 Q1445.1 73.3 1447.2 73.6 Q1449.3 73.9 1448.3 74.4Z"/>
<path d="M1784.2 62.6 Q1784 62.1 1783.7 61.6 Q1783.4 61.2 1784.2 60.6 Q1785.1 59.9 1785.8 59.1 Q1786.6 58.4 1787.1 58.6 Q1787.6 58.8 1787.9 59.1 Q1788.1 59.5 1788.2 60 Q1788.3 60.6 1787.4 61.5 Q1786.6 62.3 1785.5 62.7 Q1784.5 63.1 1784.2 62.6Z"/>
<path d="M1590.1 106.5 Q1588.6 105.5 1590.5 103.4 Q1592.3 101.4 1593 100 Q1593.7 98.6 1595.9 97 Q1598 95.5 1599.2 96.5 Q1600.4 97.4 1600.8 98.3 Q1601.2 99.2 1600.2 100.3 Q1599.2 101.5 1598.3 103.3 Q1597.3 105 1594.5 106.3 Q1591.6 107.6 1590.1 106.5Z"/>
<path d="M1847.7 75.6 Q1846.6 75.1 1845.2 75 Q1843.8 74.9 1844.2 72.1 Q1844.6 69.2 1846.6 68 Q1848.5 66.7 1849.8 64.3 Q1851.1 61.8 1851.3 63.7 Q1851.6 65.6 1851.5 66.8 Q1851.5 68 1851.3 69.6 Q1851 71.2 1849.9 73.7 Q1848.8 76.1 1847.7 75.6Z"/>
<path d="M1863.6 71 Q1863.3 71.1 1863.1 70.5 Q1862.9 70 1862.9 69.1 Q1862.9 68.2 1863 67 Q1863 65.7 1863.5 64.8 Q1863.9 63.9 1864.1 64.6 Q1864.3 65.4 1864.4 65.9 Q1864.6 66.5 1864.6 67.5 Q1864.5 68.6 1864.3 69.8 Q1864 71 1863.6 71Z"/>
<path d="M1852.9 100.4 Q1851.8 100.4 1851.7 99.4 Q1851.7 98.4 1852.7 97.3 Q1853.8 96.1 1855.5 93.7 Q1857.2 91.3 1858.3 92.5 Q1859.4 93.6 1860.6 94.1 Q1861.7 94.6 1860.3 96.1 Q1858.9 97.7 1857.8 99.1 Q1856.6 100.4 1855.3 100.4 Q1854 100.4 1852.9 100.4Z"/>
<path d="M1599.4 73.1 Q1600 74.4 1598.9 74.3 Q1597.7 74.1 1596.3 73.2 Q1594.9 72.3 1594.1 71.2 Q1593.2 70.1 1592.8 69.3 Q1592.4 68.4 1591.4 66.5 Q1590.4 64.6 1592.5 66.1 Q1594.6 67.5 1595.8 68.6 Q1596.9 69.8 1597.8 70.8 Q1598.7 71.9 1599.4 73.1Z"/>
<path d="M1544.6 166.8 Q1543.8 166.7 1543.2 166.8 Q1542.5 166.9 1542.4 165.8 Q1542.2 164.8 1542.5 164.1 Q1542.8 163.5 1542.9 162.6 Q1543 161.8 1543.6 161.6 Q1544.2 161.5 1544.7 162.1 Q1545.2 162.8 1545.1 163.7 Q1545.1 164.6 1545.2 165.8 Q1545.3 166.9 1544.6 166.8Z"/>
<path d="M1781.4 166.9 Q1780.8 166.3 1780.8 165.5 Q1780.8 164.8 1780.9 164 Q1781 163.2 1781.8 162.5 Q1782.5 161.9 1783.2 161.8 Q1784 161.7 1784.8 161.8 Q1785.6 161.9 1786.1 162.8 Q1786.5 163.8 1785.3 164.8 Q1784 165.8 1783 166.7 Q1782 167.5 1781.4 166.9Z"/>
<path d="M1246.8 87.9 Q1245.9 92.1 1244.8 90.2 Q1243.8 88.4 1243.6 84.1 Q1243.5 79.8 1244.3 76.1 Q1245.2 72.4 1246.1 68.3 Q1247 64.2 1248.2 64.2 Q1249.5 64.2 1250.1 67.6 Q1250.7 71 1250.8 76 Q1250.8 80.9 1249.3 82.3 Q1247.8 83.6 1246.8 87.9Z"/>
<path d="M1831.8 101.2 Q1832.4 100.1 1831.5 99.4 Q1830.5 98.8 1832.8 98 Q1835.1 97.2 1837.1 96.6 Q1839.1 96 1840.6 96.2 Q1842.1 96.4 1843.1 97.1 Q1844.2 97.7 1843 99 Q1841.7 100.3 1838.9 100.8 Q1836.2 101.4 1833.7 101.9 Q1831.2 102.4 1831.8 101.2Z"/>
<path d="M1469.8 86.6 Q1471.1 87.9 1471 89.6 Q1470.8 91.2 1466.9 89.9 Q1463 88.7 1459.2 88.1 Q1455.3 87.6 1453.9 85.7 Q1452.4 83.8 1452.4 82.1 Q1452.3 80.5 1456 81.1 Q1459.7 81.8 1462.1 82.4 Q1464.5 83.1 1466.5 84.2 Q1468.4 85.2 1469.8 86.6Z"/>
<path d="M1461.3 103.9 Q1460.8 103.8 1460.4 103.8 Q1460.1 103.9 1459.6 103.4 Q1459 102.9 1459.2 102.2 Q1459.3 101.4 1459.1 100.5 Q1459 99.5 1459.5 99.9 Q1460 100.2 1460.4 100.3 Q1460.9 100.4 1460.9 101.2 Q1461 102 1461.4 103 Q1461.8 104 1461.3 103.9Z"/>
<path d="M1509.4 162 Q1509.1 162.1 1508.9 161.8 Q1508.8 161.5 1508.8 160.8 Q1508.9 160.1 1509.6 159.2 Q1510.3 158.2 1510.8 158.4 Q1511.3 158.6 1511.4 158.9 Q1511.6 159.2 1511.6 159.6 Q1511.7 160.1 1511.4 161 Q1511.2 162 1510.5 162 Q1509.8 162 1509.4 162Z"/>
<path d="M1636.9 102.6 Q1635.6 104.1 1635.1 102.8 Q1634.6 101.5 1635.3 99 Q1635.9 96.5 1636.9 94.5 Q1638 92.6 1639 91.3 Q1640.1 90 1640.3 91.3 Q1640.5 92.6 1641.4 93 Q1642.3 93.3 1641.4 95.8 Q1640.5 98.3 1639.3 99.7 Q1638.2 101.1 1636.9 102.6Z"/>
<path d="M1657.2 103.6 Q1656.7 104.5 1656.4 103.8 Q1656.2 103.2 1656.6 102 Q1657 100.9 1657.2 99.7 Q1657.3 98.4 1657.9 98 Q1658.5 97.5 1659 97.4 Q1659.5 97.4 1659.6 98.3 Q1659.6 99.2 1659.5 100.7 Q1659.3 102.1 1658.5 102.5 Q1657.8 102.8 1657.2 103.6Z"/>
<path d="M1529.4 170.9 Q1527.2 171.8 1528.3 169.2 Q1529.5 166.6 1530 164.5 Q1530.4 162.5 1532.7 161.6 Q1534.9 160.7 1537.6 158 Q1540.3 155.4 1540.1 157.3 Q1540 159.2 1539 161.1 Q1537.9 163 1537 165.3 Q1536.1 167.6 1533.8 168.9 Q1531.6 170.1 1529.4 170.9Z"/>
<path d="M1823.5 146.9 Q1823.2 145.9 1821.6 144.2 Q1820 142.5 1823.4 141.8 Q1826.8 141.1 1829.4 142 Q1831.9 142.9 1835.3 143.4 Q1838.7 143.8 1837.5 145.4 Q1836.4 147 1834.7 148.2 Q1833.1 149.4 1830 150.3 Q1826.8 151.2 1825.3 149.5 Q1823.8 147.9 1823.5 146.9Z"/>
<path d="M1414.7 126.7 Q1414.1 126.8 1414.3 126.3 Q1414.5 125.8 1414.5 125.2 Q1414.6 124.6 1415.4 124.1 Q1416.2 123.5 1416.9 123.5 Q1417.6 123.4 1417.7 123.9 Q1417.9 124.4 1417.9 124.9 Q1417.9 125.5 1417.1 126.2 Q1416.4 126.8 1415.8 126.7 Q1415.2 126.6 1414.7 126.7Z"/>
<path d="M1467.8 67.1 Q1467.4 66.8 1468.1 66.3 Q1468.8 65.8 1469.1 65.5 Q1469.4 65.2 1470 64.9 Q1470.6 64.6 1471.4 64.4 Q1472.2 64.2 1472.2 64.6 Q1472.2 65 1472 65.5 Q1471.7 66 1470.9 66.1 Q1470 66.3 1469 66.8 Q1468.1 67.4 1467.8 67.1Z"/>
<path d="M1379.6 127.9 Q1379.4 130.4 1376.7 130.6 Q1374 130.8 1371.5 129 Q1369.1 127.1 1366.6 126 Q1364.2 124.8 1363.5 122.7 Q1362.8 120.6 1362.9 118.4 Q1363 116.1 1366.1 117.2 Q1369.2 118.2 1372.2 119.1 Q1375.2 119.9 1377.5 122.7 Q1379.8 125.5 1379.6 127.9Z"/>
<path d="M1358.5 69.7 Q1358.2 70.6 1358.8 72.4 Q1359.5 74.2 1356.6 73.3 Q1353.7 72.4 1351.8 71.1 Q1350 69.8 1349.5 68.6 Q1349 67.5 1347.4 65.6 Q1345.9 63.6 1348.6 63.9 Q1351.4 64.1 1354 65 Q1356.7 65.8 1357.8 67.3 Q1358.9 68.9 1358.5 69.7Z"/>
<path d="M1436.1 101.9 Q1435.8 102.5 1435.3 101.9 Q1434.8 101.4 1434.4 100.8 Q1434 100.2 1433.9 99.4 Q1433.7 98.6 1433.8 97.6 Q1433.8 96.7 1434.4 97.1 Q1435 97.5 1435.5 97.7 Q1436 97.9 1436.1 98.7 Q1436.1 99.6 1436.3 100.4 Q1436.4 101.2 1436.1 101.9Z"/>
<path d="M1418.3 152.9 Q1417.6 153.1 1416.9 152.7 Q1416.1 152.4 1416.8 151.2 Q1417.5 150.1 1418 149 Q1418.4 148 1419.3 147.8 Q1420.2 147.6 1420.7 148.1 Q1421.1 148.6 1420.9 149.5 Q1420.6 150.3 1420.5 151.1 Q1420.4 151.9 1419.7 152.3 Q1419 152.7 1418.3 152.9Z"/>
<path d="M1516.2 162.3 Q1515.8 161.7 1515.4 161.3 Q1515 160.9 1515.4 160.1 Q1515.8 159.3 1516.1 158.1 Q1516.4 156.8 1517.1 157.1 Q1517.8 157.4 1518.3 157.5 Q1518.9 157.6 1518.9 158.4 Q1518.8 159.1 1518.7 160.2 Q1518.5 161.3 1517.6 162.1 Q1516.7 162.9 1516.2 162.3Z"/>
<path d="M1613.1 114.7 Q1612.9 115.2 1612.6 115.6 Q1612.3 115.9 1611.6 116.2 Q1611 116.5 1610.1 116.1 Q1609.3 115.7 1609.2 115.2 Q1609.1 114.6 1608.7 113.9 Q1608.4 113.2 1609.2 112.9 Q1610 112.5 1610.7 113.2 Q1611.5 113.9 1612.3 114 Q1613.2 114.2 1613.1 114.7Z"/>
<path d="M1533 98.9 Q1532.4 98.5 1531.7 98.1 Q1531.1 97.6 1531.6 95.9 Q1532.2 94.1 1533.4 92.4 Q1534.5 90.7 1535.4 90.8 Q1536.2 90.9 1537.2 90.6 Q1538.1 90.3 1537.8 91.7 Q1537.5 93.2 1536.7 94.7 Q1536 96.2 1534.9 97.7 Q1533.7 99.3 1533 98.9Z"/>
<path d="M1286.1 107.6 Q1286.4 108.9 1284.9 108.3 Q1283.3 107.6 1282.4 107.4 Q1281.5 107.2 1281 106.4 Q1280.4 105.6 1279.9 104.8 Q1279.3 103.9 1279.4 103 Q1279.4 102.1 1280.7 102.9 Q1282 103.8 1282.8 104.2 Q1283.5 104.6 1284.6 105.5 Q1285.7 106.4 1286.1 107.6Z"/>
<path d="M1629.8 138.6 Q1628.9 138.9 1629.3 137.8 Q1629.7 136.8 1629.7 136.2 Q1629.7 135.5 1630.4 135.2 Q1631.1 135 1632 134.1 Q1633 133.1 1633.6 133.6 Q1634.3 134 1634.2 135.1 Q1634 136.2 1632.9 136.6 Q1631.8 137.1 1631.3 137.7 Q1630.7 138.3 1629.8 138.6Z"/>
<path d="M1578 114.6 Q1578 115.2 1577.4 114.9 Q1576.8 114.7 1576.2 114.6 Q1575.7 114.5 1575.6 113.8 Q1575.5 113.2 1575.5 112.8 Q1575.5 112.3 1575.6 111.8 Q1575.7 111.2 1576.3 111.6 Q1576.9 112 1577.6 112.3 Q1578.3 112.7 1578.1 113.4 Q1578 114 1578 114.6Z"/>
<path d="M1500.1 63.1 Q1499.6 63.1 1499.1 63.1 Q1498.6 63 1499 61.9 Q1499.3 60.8 1499.2 59.7 Q1499.1 58.7 1499.6 58.7 Q1500.1 58.8 1500.7 58 Q1501.3 57.3 1501.4 58.4 Q1501.4 59.5 1501.3 60.3 Q1501.1 61.2 1500.8 62.1 Q1500.5 63 1500.1 63.1Z"/>
<path d="M1786.6 162.3 Q1786.7 162.9 1785.9 162.9 Q1785.1 163 1783.8 162.5 Q1782.5 162 1781.6 161.3 Q1780.8 160.5 1779.8 159.8 Q1778.8 159.2 1779.6 159.3 Q1780.4 159.4 1780.9 159.4 Q1781.4 159.5 1782.3 159.8 Q1783.2 160.2 1784.8 161 Q1786.4 161.8 1786.6 162.3Z"/>
<path d="M1645.6 148 Q1645.5 148.3 1645.2 148.4 Q1644.8 148.5 1644.4 148.9 Q1644 149.2 1643.4 148.8 Q1642.7 148.3 1642.2 148 Q1641.7 147.7 1641.7 147.3 Q1641.6 146.9 1642.1 146.7 Q1642.7 146.4 1643.7 146.6 Q1644.7 146.7 1645.2 147.2 Q1645.7 147.6 1645.6 148Z"/>
<path d="M1552.8 156.9 Q1552.7 156.2 1552.5 155.8 Q1552.3 155.3 1552.8 154.4 Q1553.3 153.6 1554.2 152.7 Q1555.1 151.8 1555.8 151.7 Q1556.5 151.5 1556.9 151.7 Q1557.3 151.9 1557 152.7 Q1556.8 153.5 1555.9 154.2 Q1555.1 154.9 1554.1 156.2 Q1553 157.5 1552.8 156.9Z"/>
<path d="M1282.4 114.5 Q1281.9 114.9 1281.5 115.4 Q1281.1 116 1279.9 115.3 Q1278.6 114.6 1277.3 113.5 Q1276 112.5 1276 111.6 Q1275.9 110.7 1275.6 109.4 Q1275.3 108.2 1276.9 108.9 Q1278.5 109.6 1279.5 110.8 Q1280.5 112 1281.7 113 Q1282.9 114 1282.4 114.5Z"/>
<path d="M1850.3 60 Q1849.1 61.1 1847.6 60.5 Q1846.1 59.9 1845.1 58.7 Q1844 57.5 1843 55.8 Q1841.9 54.1 1842.4 52.4 Q1842.9 50.7 1844.3 50.8 Q1845.7 50.8 1847.1 51.1 Q1848.5 51.4 1849.5 53.1 Q1850.5 54.7 1851 56.9 Q1851.5 59 1850.3 60Z"/>
<path d="M1272.1 66.4 Q1271.6 66.4 1271.3 66.1 Q1271 65.8 1271.9 65.1 Q1272.8 64.4 1273.5 64 Q1274.3 63.6 1275.1 63.1 Q1276 62.7 1275.6 63.3 Q1275.3 64 1275.7 64.3 Q1276.1 64.7 1275.1 65.5 Q1274.1 66.3 1273.3 66.4 Q1272.6 66.4 1272.1 66.4Z"/>
<path d="M1448.8 144.6 Q1449.7 146.6 1446.4 146.9 Q1443.2 147.2 1441.7 148.6 Q1440.3 149.9 1437.4 148.9 Q1434.5 148 1431.6 146.4 Q1428.6 144.9 1429.9 143.2 Q1431.2 141.5 1434.3 141.7 Q1437.5 142 1440 140.5 Q1442.6 139.1 1445.2 140.9 Q1447.9 142.6 1448.8 144.6Z"/>
<path d="M1600.7 62.7 Q1598.4 64.3 1598 62.3 Q1597.5 60.4 1599.7 57.6 Q1601.9 54.8 1602.8 52.1 Q1603.7 49.4 1605.3 49.1 Q1606.9 48.9 1608.4 48.8 Q1610 48.6 1609.1 51.2 Q1608.2 53.7 1607.2 55.9 Q1606.2 58 1604.5 59.5 Q1602.9 61 1600.7 62.7Z"/>
<path d="M1323.1 92.1 Q1323.6 93.3 1321.9 93.5 Q1320.1 93.6 1317.6 93 Q1315 92.4 1313.3 91.2 Q1311.7 90.1 1310.7 89.3 Q1309.8 88.6 1309.4 87.8 Q1309.1 87.1 1309.8 86.3 Q1310.5 85.6 1313.5 86.9 Q1316.6 88.2 1319.6 89.6 Q1322.5 90.9 1323.1 92.1Z"/>
<path d="M1378.6 101.3 Q1379.1 102.8 1377.4 103.2 Q1375.7 103.5 1374.2 102.9 Q1372.7 102.2 1371.2 102 Q1369.7 101.8 1369.2 100.6 Q1368.6 99.5 1368.5 98.3 Q1368.3 97 1369.7 96.3 Q1371.2 95.5 1373 96.6 Q1374.9 97.7 1376.5 98.7 Q1378 99.8 1378.6 101.3Z"/>
<path d="M1486 140.9 Q1486 141.5 1485.3 141.5 Q1484.7 141.5 1484.1 141.5 Q1483.6 141.4 1483.1 141 Q1482.7 140.6 1482.4 140.1 Q1482 139.7 1482 139.2 Q1482.1 138.7 1482.8 138.6 Q1483.4 138.6 1484.1 139 Q1484.8 139.4 1485.4 139.9 Q1485.9 140.4 1486 140.9Z"/>
<path d="M1763.7 95.4 Q1764 94.3 1763.8 93.4 Q1763.7 92.4 1765.8 92.2 Q1767.9 92.1 1769.4 92.1 Q1770.9 92.1 1773 92.3 Q1775 92.6 1774.7 93.6 Q1774.4 94.6 1772.8 95.2 Q1771.1 95.7 1769.7 95.7 Q1768.3 95.7 1765.9 96.1 Q1763.5 96.5 1763.7 95.4Z"/>
<path d="M1477.3 138.4 Q1476.3 139 1475.5 138.1 Q1474.7 137.2 1474.9 135.5 Q1475.2 133.7 1475.5 132.4 Q1475.9 131.1 1476.6 130.8 Q1477.3 130.4 1478.2 129.7 Q1479 129 1478.9 130.7 Q1478.8 132.3 1478.9 133.3 Q1478.9 134.3 1478.6 136 Q1478.3 137.7 1477.3 138.4Z"/>
<path d="M1265.3 134.5 Q1264.4 134.8 1263.9 136.2 Q1263.3 137.6 1261.8 135.8 Q1260.3 134.1 1259.2 132 Q1258.2 130 1259.3 129.4 Q1260.3 128.8 1260.3 127.1 Q1260.3 125.4 1261.7 127.1 Q1263 128.8 1263.8 129.9 Q1264.6 131.1 1265.4 132.7 Q1266.2 134.2 1265.3 134.5Z"/>
<path d="M1615.8 71.4 Q1612.6 71.3 1613.9 69.3 Q1615.2 67.2 1618 66.1 Q1620.7 64.9 1623.7 63.2 Q1626.7 61.5 1628.8 62.5 Q1631 63.5 1630.1 65.3 Q1629.3 67.1 1629.3 68.9 Q1629.4 70.7 1626.2 71.9 Q1622.9 73 1620.9 72.3 Q1618.9 71.5 1615.8 71.4Z"/>
<path d="M1399.2 59.3 Q1399.2 60.1 1398.5 59.8 Q1397.8 59.5 1396.8 59.1 Q1395.9 58.7 1395.2 57.3 Q1394.5 56 1394.3 55 Q1394 54.1 1394.4 53.8 Q1394.9 53.5 1395.7 53.7 Q1396.5 53.9 1398 55.1 Q1399.4 56.3 1399.3 57.5 Q1399.2 58.6 1399.2 59.3Z"/>
<path d="M1776.6 153.8 Q1775.6 153.1 1775.1 152.1 Q1774.6 151 1775.2 149 Q1775.8 147 1777.8 145.4 Q1779.8 143.8 1780.9 144.3 Q1782 144.8 1782.2 145.6 Q1782.4 146.5 1783.7 147.2 Q1784.9 147.9 1782.9 149.5 Q1780.9 151 1779.3 152.7 Q1777.6 154.4 1776.6 153.8Z"/>
<path d="M1384.4 105.3 Q1383.4 105.1 1383.6 104.3 Q1383.8 103.6 1384.9 103.2 Q1386.1 102.8 1387 102.8 Q1388 102.8 1389.7 102.7 Q1391.3 102.7 1390.2 103.6 Q1389.2 104.5 1389.5 105.5 Q1389.7 106.4 1388.2 106.6 Q1386.6 106.8 1386 106.2 Q1385.3 105.6 1384.4 105.3Z"/>
<path d="M1801.4 66.6 Q1801.5 66 1801.1 65.3 Q1800.6 64.7 1803 64.8 Q1805.4 64.9 1807.3 64.5 Q1809.1 64.1 1809.2 64.8 Q1809.3 65.4 1809.2 65.7 Q1809.1 66.1 1809.1 66.7 Q1809 67.3 1806.9 67.7 Q1804.8 68.2 1803.1 67.7 Q1801.3 67.2 1801.4 66.6Z"/>
<path d="M1777 144 Q1776.7 144.5 1776.2 144.6 Q1775.7 144.7 1775.7 143.1 Q1775.7 141.6 1775.8 140 Q1776 138.4 1776.4 137.9 Q1776.9 137.5 1777.4 136.5 Q1778 135.6 1778.1 137.2 Q1778.3 138.8 1778.3 140.3 Q1778.2 141.9 1777.8 142.7 Q1777.3 143.4 1777 144Z"/>
<path d="M1557 118.1 Q1554.8 119.9 1553.2 121 Q1551.6 122.1 1548.4 122.6 Q1545.3 123.1 1540.5 121 Q1535.8 119 1533.3 115.6 Q1530.8 112.2 1532 109.7 Q1533.3 107.2 1537.4 106.8 Q1541.5 106.4 1546.5 108.3 Q1551.4 110.2 1555.3 113.2 Q1559.1 116.3 1557 118.1Z"/>
<path d="M1252.4 114.7 Q1251 114.3 1249.7 113.7 Q1248.5 113.1 1249.8 110.7 Q1251 108.4 1251.3 106.6 Q1251.5 104.8 1252.9 102.9 Q1254.3 101 1254.6 103.3 Q1254.9 105.7 1255.2 106.5 Q1255.6 107.3 1256.1 109.2 Q1256.6 111.1 1255.1 113.1 Q1253.7 115.1 1252.4 114.7Z"/>
<path d="M1256.6 66.3 Q1255 67.8 1253.1 67.1 Q1251.1 66.4 1250.1 63.1 Q1249.2 59.7 1251.2 57.6 Q1253.2 55.4 1254 54 Q1254.8 52.7 1256.6 50.2 Q1258.4 47.7 1260.3 49.9 Q1262.1 52.2 1262 56.4 Q1261.9 60.6 1260 62.7 Q1258.2 64.7 1256.6 66.3Z"/>
<path d="M1452.4 93.9 Q1452.6 94.5 1452 94.6 Q1451.5 94.6 1450.9 94.2 Q1450.4 93.8 1449.7 93.2 Q1449.1 92.7 1449.2 92.2 Q1449.3 91.6 1449.7 91.5 Q1450.1 91.3 1450.6 91 Q1451.1 90.7 1451.4 91.5 Q1451.8 92.3 1452 92.8 Q1452.2 93.2 1452.4 93.9Z"/>
<path d="M1405.5 111.7 Q1406.4 113.7 1404.2 112.9 Q1402 112 1400.1 111.4 Q1398.3 110.8 1396.9 108.8 Q1395.5 106.7 1393.2 104.1 Q1390.9 101.4 1393.3 102.1 Q1395.8 102.8 1397.2 103.1 Q1398.6 103.5 1400.4 104.8 Q1402.2 106.1 1403.5 107.9 Q1404.7 109.7 1405.5 111.7Z"/>
<path d="M1706 129.3 Q1706.1 131.3 1703.3 131.7 Q1700.5 132 1698.5 132.1 Q1696.4 132.1 1694 131.6 Q1691.5 131.1 1688.1 129.5 Q1684.8 128 1687.2 126.9 Q1689.6 125.8 1691.4 125.3 Q1693.3 124.8 1696.3 124.3 Q1699.4 123.9 1702.6 125.6 Q1705.9 127.3 1706 129.3Z"/>
<path d="M1488.9 76.1 Q1488.4 78.7 1486 77.4 Q1483.6 76 1482 74.3 Q1480.3 72.6 1478.7 70.2 Q1477 67.9 1476.9 65.1 Q1476.9 62.2 1478.9 62.1 Q1481 61.9 1483.3 62 Q1485.6 62.2 1486 65.5 Q1486.3 68.9 1487.8 71.2 Q1489.3 73.6 1488.9 76.1Z"/>
<path d="M1239.8 74.6 Q1240.1 69.2 1245.9 65.8 Q1251.7 62.4 1256.7 66 Q1261.6 69.6 1262.2 74 Q1262.9 78.3 1261.5 82.5 Q1260 86.8 1253.7 89 Q1247.4 91.1 1244.6 89.4 Q1241.8 87.6 1240.6 83.8 Q1239.4 80 1239.8 74.6Z"/>
<path d="M1241.1 101.4 Q1241.6 95.2 1246.2 93.3 Q1250.8 91.4 1254.5 89.4 Q1258.1 87.4 1264 90.6 Q1269.8 93.8 1267.5 95.7 Q1265.2 97.6 1263.6 100.4 Q1262 103.1 1258.3 103.8 Q1254.6 104.5 1250.6 105.6 Q1246.7 106.6 1243.7 107.1 Q1240.6 107.7 1241.1 101.4Z"/>
<path d="M1241.4 122 Q1241.3 116.6 1246.6 115.4 Q1251.8 114.2 1255.8 113.7 Q1259.7 113.2 1263.5 115.3 Q1267.4 117.3 1272.1 117.9 Q1276.8 118.5 1273.1 120.8 Q1269.5 123 1267.6 125.4 Q1265.7 127.9 1261.9 128.7 Q1258 129.6 1253.4 128.9 Q1248.7 128.1 1245.1 127.8 Q1241.5 127.4 1241.4 122Z"/>
<path d="M1311.5 123.1 Q1311.6 119.8 1318.8 116.5 Q1325.9 113.1 1327.6 117.6 Q1329.3 122.2 1330.2 125.8 Q1331.2 129.5 1327.7 130.8 Q1324.2 132.2 1320.6 131.6 Q1317 131.1 1313.3 132.7 Q1309.7 134.4 1310.6 130.4 Q1311.5 126.5 1311.5 123.1Z"/>
<path d="M1450.1 105.3 Q1448.4 101.5 1452.7 101.2 Q1457 100.9 1462.1 100.3 Q1467.1 99.8 1470.5 102.4 Q1473.9 105.1 1476.1 108 Q1478.4 110.9 1474.4 111.5 Q1470.3 112.1 1467.3 113.4 Q1464.3 114.7 1459.8 115.7 Q1455.3 116.6 1453.6 112.8 Q1451.9 109 1450.1 105.3Z"/>
<path d="M1396 63.3 Q1394.7 59.7 1399 60.1 Q1403.3 60.6 1407.5 59 Q1411.6 57.5 1413.1 61.7 Q1414.5 66 1416.2 67.7 Q1417.9 69.5 1413.5 70.6 Q1409.2 71.7 1404 72.6 Q1398.8 73.5 1398 70.2 Q1397.3 66.9 1396 63.3Z"/>
<path d="M1599 79.4 Q1596.3 75.1 1600.4 74.4 Q1604.5 73.7 1608.5 73.7 Q1612.5 73.8 1615.5 77 Q1618.5 80.1 1613.8 81.1 Q1609 82 1605.4 82.9 Q1601.8 83.7 1599 79.4Z"/>
<path d="M1526.1 118.5 Q1525.9 113.4 1530.1 114.2 Q1534.3 115 1539.9 116 Q1545.4 116.9 1545.2 121.4 Q1544.9 125.8 1539.6 125 Q1534.3 124.3 1530.4 124 Q1526.4 123.7 1526.1 118.5Z"/>
<path d="M1333.8 130.6 Q1332.5 128.9 1333.1 126.1 Q1333.8 123.4 1338.3 122.3 Q1342.8 121.3 1346.6 122.5 Q1350.4 123.8 1353 126 Q1355.6 128.3 1353.7 131.6 Q1351.8 134.9 1348 134.5 Q1344.3 134 1339.7 133.2 Q1335.1 132.3 1333.8 130.6Z"/>
<path d="M1463.1 129.3 Q1462.5 127.9 1464.1 126.1 Q1465.7 124.2 1468.7 123.8 Q1471.7 123.4 1474.8 123.7 Q1478 124.1 1480.2 125.2 Q1482.5 126.3 1481.1 128.4 Q1479.7 130.5 1475.4 131.6 Q1471.1 132.8 1467.4 131.7 Q1463.6 130.6 1463.1 129.3Z"/>
<path d="M1520.9 135.5 Q1518 132.4 1519.7 129.4 Q1521.3 126.4 1525.6 125.7 Q1529.8 124.9 1532 125.5 Q1534.1 126.1 1536.8 129.7 Q1539.4 133.3 1539.3 135.3 Q1539.1 137.2 1534.3 138.2 Q1529.6 139.1 1526.6 138.8 Q1523.7 138.6 1520.9 135.5Z"/>
<path d="M1560.1 112.8 Q1558.9 110.4 1560.4 107.6 Q1562 104.8 1565.9 105.5 Q1569.9 106.3 1573.2 106.9 Q1576.5 107.5 1578.7 110.3 Q1580.8 113.1 1579.5 115 Q1578.1 116.9 1574 117 Q1569.9 117.1 1565.6 116.2 Q1561.3 115.3 1560.1 112.8Z"/>
<path d="M1613.8 112.9 Q1611.4 110.2 1612.7 108.1 Q1614 106 1618.2 105.3 Q1622.3 104.5 1625.5 104.7 Q1628.7 104.8 1631.2 108.3 Q1633.7 111.8 1632.8 115 Q1632 118.2 1627.4 118.5 Q1622.7 118.8 1619.5 117.2 Q1616.3 115.6 1613.8 112.9Z"/>
<path d="M1670.6 153.7 Q1668.9 150.4 1670.6 146.8 Q1672.4 143.2 1676.4 142 Q1680.4 140.8 1685.2 141.8 Q1690.1 142.7 1692.6 147.1 Q1695.2 151.5 1694.2 154.5 Q1693.1 157.6 1688.5 157.7 Q1683.8 157.7 1678 157.4 Q1672.3 157 1670.6 153.7Z"/>
<path d="M1723.2 105.1 Q1720.7 101 1721 96.5 Q1721.2 92.1 1724.4 92.3 Q1727.7 92.6 1731.4 93.4 Q1735 94.3 1736.7 98 Q1738.4 101.7 1737.6 105.6 Q1736.7 109.5 1735 109.4 Q1733.2 109.4 1729.4 109.3 Q1725.6 109.3 1723.2 105.1Z"/>
<path d="M1742.3 94.9 Q1741.3 92.7 1742.3 91 Q1743.4 89.3 1747 88 Q1750.7 86.8 1753.1 88.2 Q1755.5 89.7 1757.6 90.8 Q1759.7 91.8 1758.8 93.7 Q1757.8 95.7 1753.7 96.7 Q1749.5 97.7 1746.4 97.4 Q1743.4 97.2 1742.3 94.9Z"/>
<path d="M1752.5 119.7 Q1751.2 118 1752.1 116.7 Q1753 115.3 1755.3 114.9 Q1757.6 114.4 1759.4 114.1 Q1761.2 113.9 1762.8 117 Q1764.5 120.1 1764.2 120.4 Q1763.9 120.8 1760.3 121.3 Q1756.7 121.8 1755.3 121.7 Q1753.8 121.5 1752.5 119.7Z"/>
<path d="M1758.7 142 Q1756.4 139.3 1758.6 136.6 Q1760.8 133.9 1764.8 133.4 Q1768.9 132.9 1773.2 133.4 Q1777.5 133.9 1779.4 137.2 Q1781.2 140.5 1779.8 142.5 Q1778.3 144.5 1774.5 144.8 Q1770.8 145.1 1765.9 144.9 Q1761 144.8 1758.7 142Z"/>
<path d="M1799.8 134.2 Q1797.4 130.8 1800.3 129.5 Q1803.2 128.1 1807.5 127.4 Q1811.8 126.8 1816 127.8 Q1820.2 128.8 1822.8 130.2 Q1825.4 131.7 1823.4 134.9 Q1821.3 138 1816.8 137.6 Q1812.2 137.2 1807.2 137.4 Q1802.1 137.6 1799.8 134.2Z"/>
<path d="M1813.5 106.3 Q1810.8 104.4 1812.3 101.2 Q1813.9 97.9 1816.3 97.6 Q1818.6 97.3 1821.5 97.6 Q1824.3 97.8 1826.6 100.7 Q1829 103.5 1827.5 106.6 Q1826.1 109.7 1823.5 109.6 Q1820.8 109.4 1818.5 108.8 Q1816.2 108.2 1813.5 106.3Z"/>
</g>
<g fill="none" stroke-linejoin="round" stroke-linecap="round" filter="url(#soft2)">
<path d="M1476.3 153.7L1480 155.8L1486.2 156.2L1495.7 158.5L1496.9 164.4L1501.8 167.9" stroke="#f01c2c" stroke-opacity="0.77" stroke-width="5.5"/>
<path d="M1617.3 66.5L1610.2 69.3L1603.6 69L1597.7 67.6L1583.8 66.7L1572.8 71.7" stroke="#f01c2c" stroke-opacity="0.77" stroke-width="5.2"/>
<path d="M1278 119.9L1271.3 111.4L1271 106.3L1268.1 100.4L1259.9 95.6L1255 93.7" stroke="#f01c2c" stroke-opacity="0.77" stroke-width="5.8"/>
<path d="M1256.3 138.1L1246.7 137.8L1237.8 137.2" stroke="#f01c2c" stroke-opacity="0.77" stroke-width="5.6"/>
<path d="M1345.3 124.4L1358.6 126.5L1362.7 128.5L1370.7 126.3L1378.8 124.8" stroke="#f01c2c" stroke-opacity="0.77" stroke-width="4.8"/>
<path d="M1254.6 88.5L1247.5 94.3L1236.4 98" stroke="#f01c2c" stroke-opacity="0.77" stroke-width="3.3"/>
<path d="M1478.9 86.7L1473.4 90.7L1467.1 97.7" stroke="#f01c2c" stroke-opacity="0.77" stroke-width="4.3"/>
<path d="M1633.4 146.8L1628.6 147.3L1618.6 143.5" stroke="#f01c2c" stroke-opacity="0.77" stroke-width="3.4"/>
<path d="M1406.3 109.8L1409 105.9L1417.6 101.1L1424.1 93.4L1423.4 87.3" stroke="#f01c2c" stroke-opacity="0.77" stroke-width="3.3"/>
<path d="M1437.3 104.7L1435.9 100.5L1436.2 96.6L1442.7 94.1L1449.4 90.7" stroke="#f01c2c" stroke-opacity="0.77" stroke-width="4.4"/>
<path d="M1759.6 155.5L1757.9 150.4L1760.5 145.7L1768.5 143.2L1770 137" stroke="#f01c2c" stroke-opacity="0.77" stroke-width="3.4"/>
<path d="M1660 148.5L1656.5 146.6L1643.3 143.5" stroke="#f01c2c" stroke-opacity="0.77" stroke-width="5.4"/>
<path d="M1616.9 149.8L1619.7 156.7L1620.4 159.7" stroke="#f01c2c" stroke-opacity="0.77" stroke-width="3.3"/>
<path d="M1336.3 130.1L1343 132.5L1349.4 133.3L1355.7 131.9" stroke="#f01c2c" stroke-opacity="0.77" stroke-width="5.4"/>
<path d="M1250.7 90.6L1245.8 91.2L1240 90.3" stroke="#f01c2c" stroke-opacity="0.77" stroke-width="3.6"/>
<path d="M1582.3 151.8L1590.7 149.4L1597.4 146.5L1604.7 143.2L1613 140.1L1625.8 141.4" stroke="#f01c2c" stroke-opacity="0.77" stroke-width="5.5"/>
<path d="M1381 59.7L1377.2 63.7L1378.4 72.5" stroke="#f01c2c" stroke-opacity="0.77" stroke-width="3.3"/>
<path d="M1764.9 130.7L1756.3 128.8L1746.9 130.8L1734.2 130.4L1730.1 132.5L1723.9 135.2" stroke="#f01c2c" stroke-opacity="0.77" stroke-width="5.2"/>
<path d="M1508.1 117L1509.2 120.2L1506.2 122.1L1505.7 127.7L1503.8 131" stroke="#f01c2c" stroke-opacity="0.77" stroke-width="3.6"/>
<path d="M1593.2 158.1L1587.7 159L1575.2 161.7" stroke="#f01c2c" stroke-opacity="0.77" stroke-width="5.3"/>
<path d="M1663.3 80.6L1653.6 74.3L1651.4 71.9L1650.2 62.7L1651.1 58.2" stroke="#f01c2c" stroke-opacity="0.77" stroke-width="4.3"/>
<path d="M1435.6 76.3L1440 68.4L1448.7 63.1L1448.2 60.1" stroke="#f01c2c" stroke-opacity="0.77" stroke-width="4.3"/>
<path d="M1740.9 72.4L1735.5 78.6L1723.4 78.3L1716.6 71.9" stroke="#f01c2c" stroke-opacity="0.77" stroke-width="3.3"/>
<path d="M1440.9 69.7L1452.9 67.8L1461 62.5L1462 56.2L1467.9 54.4" stroke="#f01c2c" stroke-opacity="0.77" stroke-width="4.9"/>
<path d="M1415.4 155.8L1415.1 150.3L1423.5 145.7L1424.3 138.5" stroke="#f01c2c" stroke-opacity="0.77" stroke-width="3.3"/>
<path d="M1648.9 131.5L1650.6 125.4L1650 118.9" stroke="#f01c2c" stroke-opacity="0.77" stroke-width="3.7"/>
<path d="M1271.1 60.3L1283.7 57.1L1293.8 56.8L1296.9 55L1306.8 52.6" stroke="#f01c2c" stroke-opacity="0.77" stroke-width="3.8"/>
<path d="M1633.6 105.4L1628.8 109.8L1628.3 115.6" stroke="#f01c2c" stroke-opacity="0.77" stroke-width="3.3"/>
<path d="M1476.1 74.8L1470.7 75.4L1467.9 77.7L1472.3 86.1L1475.1 88.9" stroke="#f01c2c" stroke-opacity="0.77" stroke-width="6"/>
<path d="M1269.8 148.1L1265.6 144.8L1257.2 144" stroke="#f01c2c" stroke-opacity="0.77" stroke-width="6.2"/>
<path d="M1514.6 65.2L1506.8 65.5L1502.4 63.9L1496.6 66.7L1492.8 65.4L1487.3 56.9" stroke="#f01c2c" stroke-opacity="0.77" stroke-width="3.3"/>
<path d="M1505.7 141.9L1511 142.1L1521.8 140.4L1531.5 136.7L1535.6 137.8" stroke="#f01c2c" stroke-opacity="0.77" stroke-width="3.6"/>
<path d="M1418.9 88.7L1422.5 80.2L1422.1 75.7L1422.4 72" stroke="#f01c2c" stroke-opacity="0.77" stroke-width="5.5"/>
<path d="M1500.9 130.7L1502.1 122.1L1507.8 113.4L1505.1 108.1L1504 104.5" stroke="#f01c2c" stroke-opacity="0.77" stroke-width="4.9"/>
<path d="M1730.2 64L1732.1 58.6L1729.2 51.4L1731.4 48.8L1729.9 42.6" stroke="#f01c2c" stroke-opacity="0.77" stroke-width="3.6"/>
<path d="M1620.3 115.5L1617.4 118.5L1608.8 122.3L1600.3 123.8L1596.2 124.6" stroke="#f01c2c" stroke-opacity="0.77" stroke-width="3.8"/>
<path d="M1511 155.9L1522.9 151.8L1528.7 148.8L1533.3 145L1541.5 143L1547 143.3" stroke="#f01c2c" stroke-opacity="0.77" stroke-width="3.4"/>
<path d="M1731.5 161L1730.6 166.7L1723.3 171L1721.2 178.4" stroke="#f01c2c" stroke-opacity="0.77" stroke-width="4.6"/>
<path d="M1465.5 126.7L1458 133.4L1449.7 136.6L1442.3 135.2" stroke="#f01c2c" stroke-opacity="0.77" stroke-width="6.3"/>
<path d="M1311.3 126.2L1323.1 129.2L1330 127.1" stroke="#f01c2c" stroke-opacity="0.77" stroke-width="3.5"/>
<path d="M1476.3 153.7L1480 155.8L1486.2 156.2L1495.7 158.5L1496.9 164.4L1501.8 167.9" stroke="#010004" stroke-width="3"/>
<path d="M1617.3 66.5L1610.2 69.3L1603.6 69L1597.7 67.6L1583.8 66.7L1572.8 71.7" stroke="#010004" stroke-width="2.7"/>
<path d="M1278 119.9L1271.3 111.4L1271 106.3L1268.1 100.4L1259.9 95.6L1255 93.7" stroke="#010004" stroke-width="3.3"/>
<path d="M1256.3 138.1L1246.7 137.8L1237.8 137.2" stroke="#010004" stroke-width="3.1"/>
<path d="M1345.3 124.4L1358.6 126.5L1362.7 128.5L1370.7 126.3L1378.8 124.8" stroke="#010004" stroke-width="2.3"/>
<path d="M1254.6 88.5L1247.5 94.3L1236.4 98" stroke="#010004" stroke-width="0.8"/>
<path d="M1478.9 86.7L1473.4 90.7L1467.1 97.7" stroke="#010004" stroke-width="1.8"/>
<path d="M1633.4 146.8L1628.6 147.3L1618.6 143.5" stroke="#010004" stroke-width="0.9"/>
<path d="M1406.3 109.8L1409 105.9L1417.6 101.1L1424.1 93.4L1423.4 87.3" stroke="#010004" stroke-width="0.8"/>
<path d="M1437.3 104.7L1435.9 100.5L1436.2 96.6L1442.7 94.1L1449.4 90.7" stroke="#010004" stroke-width="1.9"/>
<path d="M1759.6 155.5L1757.9 150.4L1760.5 145.7L1768.5 143.2L1770 137" stroke="#010004" stroke-width="0.9"/>
<path d="M1660 148.5L1656.5 146.6L1643.3 143.5" stroke="#010004" stroke-width="2.9"/>
<path d="M1616.9 149.8L1619.7 156.7L1620.4 159.7" stroke="#010004" stroke-width="0.8"/>
<path d="M1336.3 130.1L1343 132.5L1349.4 133.3L1355.7 131.9" stroke="#010004" stroke-width="2.9"/>
<path d="M1250.7 90.6L1245.8 91.2L1240 90.3" stroke="#010004" stroke-width="1.1"/>
<path d="M1582.3 151.8L1590.7 149.4L1597.4 146.5L1604.7 143.2L1613 140.1L1625.8 141.4" stroke="#010004" stroke-width="3"/>
<path d="M1381 59.7L1377.2 63.7L1378.4 72.5" stroke="#010004" stroke-width="0.8"/>
<path d="M1764.9 130.7L1756.3 128.8L1746.9 130.8L1734.2 130.4L1730.1 132.5L1723.9 135.2" stroke="#010004" stroke-width="2.7"/>
<path d="M1508.1 117L1509.2 120.2L1506.2 122.1L1505.7 127.7L1503.8 131" stroke="#010004" stroke-width="1.1"/>
<path d="M1593.2 158.1L1587.7 159L1575.2 161.7" stroke="#010004" stroke-width="2.8"/>
<path d="M1663.3 80.6L1653.6 74.3L1651.4 71.9L1650.2 62.7L1651.1 58.2" stroke="#010004" stroke-width="1.8"/>
<path d="M1435.6 76.3L1440 68.4L1448.7 63.1L1448.2 60.1" stroke="#010004" stroke-width="1.8"/>
<path d="M1740.9 72.4L1735.5 78.6L1723.4 78.3L1716.6 71.9" stroke="#010004" stroke-width="0.8"/>
<path d="M1440.9 69.7L1452.9 67.8L1461 62.5L1462 56.2L1467.9 54.4" stroke="#010004" stroke-width="2.4"/>
<path d="M1415.4 155.8L1415.1 150.3L1423.5 145.7L1424.3 138.5" stroke="#010004" stroke-width="0.8"/>
<path d="M1648.9 131.5L1650.6 125.4L1650 118.9" stroke="#010004" stroke-width="1.2"/>
<path d="M1271.1 60.3L1283.7 57.1L1293.8 56.8L1296.9 55L1306.8 52.6" stroke="#010004" stroke-width="1.3"/>
<path d="M1633.6 105.4L1628.8 109.8L1628.3 115.6" stroke="#010004" stroke-width="0.8"/>
<path d="M1476.1 74.8L1470.7 75.4L1467.9 77.7L1472.3 86.1L1475.1 88.9" stroke="#010004" stroke-width="3.5"/>
<path d="M1269.8 148.1L1265.6 144.8L1257.2 144" stroke="#010004" stroke-width="3.7"/>
<path d="M1514.6 65.2L1506.8 65.5L1502.4 63.9L1496.6 66.7L1492.8 65.4L1487.3 56.9" stroke="#010004" stroke-width="0.8"/>
<path d="M1505.7 141.9L1511 142.1L1521.8 140.4L1531.5 136.7L1535.6 137.8" stroke="#010004" stroke-width="1.1"/>
<path d="M1418.9 88.7L1422.5 80.2L1422.1 75.7L1422.4 72" stroke="#010004" stroke-width="3"/>
<path d="M1500.9 130.7L1502.1 122.1L1507.8 113.4L1505.1 108.1L1504 104.5" stroke="#010004" stroke-width="2.4"/>
<path d="M1730.2 64L1732.1 58.6L1729.2 51.4L1731.4 48.8L1729.9 42.6" stroke="#010004" stroke-width="1.1"/>
<path d="M1620.3 115.5L1617.4 118.5L1608.8 122.3L1600.3 123.8L1596.2 124.6" stroke="#010004" stroke-width="1.3"/>
<path d="M1511 155.9L1522.9 151.8L1528.7 148.8L1533.3 145L1541.5 143L1547 143.3" stroke="#010004" stroke-width="0.9"/>
<path d="M1731.5 161L1730.6 166.7L1723.3 171L1721.2 178.4" stroke="#010004" stroke-width="2.1"/>
<path d="M1465.5 126.7L1458 133.4L1449.7 136.6L1442.3 135.2" stroke="#010004" stroke-width="3.8"/>
<path d="M1311.3 126.2L1323.1 129.2L1330 127.1" stroke="#010004" stroke-width="1"/>
</g>
<g fill="none" stroke="#e0203c" stroke-opacity="0.55" stroke-width="0.9" filter="url(#soft2)">
<path d="M1298.9 132.5 Q1285.4 137.5 1274.8 138.8"/>
<path d="M1473.4 103 Q1475.4 110.4 1488 116.8"/>
<path d="M1445.4 105 Q1443.4 110.2 1448.3 116.9"/>
<path d="M1775 109 Q1783.6 115.7 1797.9 121.3"/>
<path d="M1465.9 96.5 Q1464.7 91.9 1457.9 97.6"/>
<path d="M1622.1 102.4 Q1618.3 108.3 1610.1 103.9"/>
<path d="M1668.4 149 Q1674.4 150.8 1675.6 151.8"/>
<path d="M1844 159.6 Q1837.5 164 1840.6 175"/>
<path d="M1333.4 127 Q1340.6 135.8 1338 139"/>
<path d="M1242.5 75.4 Q1241.9 82.2 1250.5 79.9"/>
<path d="M1700.7 118.1 Q1699.2 127.9 1705.4 126.2"/>
<path d="M1416.9 62.5 Q1414.4 73.6 1422 83.4"/>
<path d="M1852.5 93 Q1848.5 98.8 1838.2 96.7"/>
<path d="M1812 76.5 Q1815.9 86.7 1821.7 90.3"/>
<path d="M1841.2 102.3 Q1838 101.7 1842.4 111.7"/>
<path d="M1501.9 157.1 Q1487.3 168.8 1478.9 172.1"/>
<path d="M1563.5 116 Q1568.9 123.6 1574 122.2"/>
<path d="M1613.7 85.5 Q1615.1 95.6 1607.8 95.2"/>
<path d="M1380.9 64 Q1384.3 68.8 1393.8 75.5"/>
<path d="M1771.4 109.4 Q1773.1 112 1781.4 111.9"/>
<path d="M1395.9 67 Q1401.2 79.5 1394.9 84.1"/>
<path d="M1738 141.2 Q1749.5 151.4 1749.5 151.7"/>
<path d="M1730.9 70.5 Q1732.2 73.5 1732.1 82"/>
<path d="M1672.2 73.8 Q1663.5 77.6 1665.6 84.2"/>
<path d="M1597.3 161.3 Q1593.6 164.3 1587.8 164"/>
<path d="M1679.4 162.5 Q1676.3 173.9 1672.4 178.7"/>
<path d="M1547.6 67.4 Q1550.7 74.1 1543.2 73.5"/>
<path d="M1825.4 143.8 Q1822.4 151 1826.3 156.5"/>
<path d="M1729 110.6 Q1724.8 116.6 1730.6 116.6"/>
<path d="M1588 83.3 Q1586.1 91.6 1588.6 99.6"/>
<path d="M1515.4 85 Q1516.8 91.3 1512.1 93.3"/>
<path d="M1317.9 94 Q1328.2 99.3 1334.8 104.4"/>
<path d="M1352.6 123.5 Q1353.6 126.3 1359.4 134.1"/>
<path d="M1289.6 106 Q1290.5 102.8 1295.8 108.7"/>
<path d="M1566.1 150.8 Q1562.6 160.6 1549.6 167.9"/>
<path d="M1755.7 139.4 Q1752 148 1742.4 147.9"/>
</g>
<path d="M1232.5 22.5 L1232.5 66.5 L1236.5 67.6 L1240.5 66.5 L1244 67.7 L1247.5 67.5 L1249.5 37.5 L1253.5 36.3 L1257.5 37 L1260.5 36.6 L1263.5 37.1 L1266.5 38.5 L1269.5 39.1 L1272.5 39.5 L1275.5 38.8 L1278.5 39.8 L1281.5 40.4 L1284.5 41.1 L1287.5 41.3 L1290.5 42 L1293.6 43 L1296.8 41.4 L1299.9 41.8 L1303 42.6 L1306.1 42.7 L1309.2 43 L1312.4 41.7 L1315.5 42.1 L1318.6 42.9 L1321.8 42.5 L1324.9 41.6 L1328 41.7 L1331.1 42.7 L1334.2 43 L1337.4 43.2 L1340.5 43 L1343.5 43.3 L1346.5 43.4 L1349.5 43.4 L1352.5 44.7 L1355.5 43.1 L1358.5 44.3 L1361.5 44.4 L1364.5 44.1 L1367.5 44.7 L1370.5 44.5 L1373.6 44.4 L1376.7 45.1 L1379.7 45.6 L1382.8 44.8 L1385.9 45.1 L1389 45.3 L1392 44.7 L1395.1 44.9 L1398.2 46.2 L1401.3 44.3 L1404.3 44.2 L1407.4 46.2 L1410.5 45.5 L1413.7 46.3 L1416.9 44.2 L1420 44.4 L1423.2 45.6 L1426.4 44.7 L1429.6 44 L1432.8 45.3 L1436 42.9 L1439.1 44.5 L1442.3 44.4 L1445.5 43.5 L1448.5 43.6 L1451.5 44.8 L1454.5 44.8 L1457.5 45.2 L1460.5 44.6 L1463.5 43.5 L1466.5 44.5 L1469.5 44.7 L1472.5 45.7 L1475.5 45 L1478.5 45.9 L1481.5 45.5 L1484.5 44.6 L1487.5 45 L1490.5 45.5 L1493.5 44.5 L1496.5 44.9 L1499.5 44.6 L1502.5 46.3 L1505.5 44.6 L1508.5 46.1 L1511.5 46 L1514.5 45.3 L1517.5 45 L1520.5 45.4 L1523.5 45.6 L1526.5 46.4 L1529.5 45.1 L1532.5 46.6 L1535.5 46.9 L1538.5 45.2 L1541.5 45.6 L1544.5 45.9 L1547.5 45 L1550.5 46 L1553.7 46.9 L1556.9 45 L1560 46.1 L1563.2 45.2 L1566.4 45.3 L1569.6 47.4 L1572.8 47.4 L1576 45.3 L1579.1 45.9 L1582.3 46.1 L1585.5 46.5 L1588.6 46.8 L1591.8 46 L1594.9 48 L1598 47 L1601.1 48.6 L1604.2 47.1 L1607.4 47.9 L1610.5 49.2 L1613.6 47.4 L1616.8 48.9 L1619.9 48.5 L1623 48.1 L1626.1 49.1 L1629.2 50.3 L1632.4 48.7 L1635.5 50 L1638.7 49.4 L1641.9 50.7 L1645 50.3 L1648.2 49.2 L1651.4 48.3 L1654.6 50 L1657.8 48.8 L1661 48.7 L1664.1 48.5 L1667.3 48.9 L1670.5 48.5 L1673.6 48.3 L1676.8 48.3 L1679.9 48.9 L1683 47.7 L1686.1 47.5 L1689.2 47.4 L1692.4 48.9 L1695.5 47.8 L1698.6 47.3 L1701.8 47.5 L1704.9 46.4 L1708 47.6 L1711.1 48 L1714.2 46.2 L1717.4 47.4 L1720.5 47 L1723.6 45.8 L1726.8 47.5 L1729.9 46 L1733 46.1 L1736.1 47.4 L1739.2 46.9 L1742.4 47.1 L1745.5 45.4 L1748.6 45.3 L1751.8 46.5 L1754.9 45.5 L1758 46.1 L1761.1 46 L1764.2 46.9 L1767.4 46.4 L1770.5 46 L1773.7 45.3 L1776.9 46.2 L1780 46.1 L1783.2 46.6 L1786.4 48.3 L1789.6 47.8 L1792.8 48.3 L1796 47 L1799.1 47.6 L1802.3 49.4 L1805.5 48.5 L1808.5 49.6 L1811.5 49.5 L1814.5 48.9 L1817.5 50.1 L1820.5 50.1 L1823.5 50 L1826.5 50.1 L1829.5 49.5 L1832.5 49.7 L1835.5 50.6 L1838.5 50 L1841.5 49 L1844.5 48.9 L1847.5 50.4 L1850.5 51.2 L1853.5 49.9 L1856.5 51.5 L1859.5 51.3 L1862.5 49.8 L1865.5 51.2 L1868.5 51 L1872.1 51.8 L1875.7 51 L1875.7 22.5Z" fill="#020004" filter="url(#rag)"/>
</g>
<rect x="1249" y="154.4" width="39.2" height="3.2" fill="#fff"/>
<clipPath id="mc1"><rect x="1240.5" y="171.4" width="627.2" height="135"/></clipPath>
<g clip-path="url(#mc1)">
<rect x="1240.5" y="171.4" width="627.2" height="135" fill="#1a10a8" filter="url(#tex1)"/>
<g filter="url(#soft)" fill="#000" fill-opacity="0.45">
<path d="M1818.1 311.9 Q1816.4 314.9 1815.6 313.5 Q1814.8 312 1816.2 307 Q1817.7 301.9 1818.8 298.3 Q1820 294.6 1821.7 290.8 Q1823.4 287 1824.1 288.7 Q1824.7 290.3 1825.2 292.4 Q1825.7 294.5 1823.9 298.8 Q1822.2 303 1821 305.9 Q1819.8 308.8 1818.1 311.9Z"/>
<path d="M1691.2 249.4 Q1688.8 250.2 1686.4 253.3 Q1684 256.5 1681.1 253.1 Q1678.2 249.8 1676.7 245.9 Q1675.2 241.9 1676.5 238.4 Q1677.8 234.9 1680.6 231.9 Q1683.4 228.9 1686.6 232.7 Q1689.8 236.5 1693.1 239 Q1696.4 241.5 1695.1 245 Q1693.7 248.6 1691.2 249.4Z"/>
<path d="M1600.8 277.3 Q1600.1 280.1 1598.7 278.6 Q1597.3 277.2 1596.6 274.3 Q1595.9 271.5 1595.6 268.3 Q1595.3 265.1 1596.6 264.5 Q1597.9 263.8 1598.8 263.7 Q1599.7 263.7 1600.7 264.7 Q1601.7 265.8 1602.9 268.5 Q1604 271.3 1602.7 272.9 Q1601.5 274.6 1600.8 277.3Z"/>
<path d="M1312.2 214 Q1310.6 215.8 1309.6 213.9 Q1308.6 211.9 1308.1 210.4 Q1307.6 208.8 1308.3 207.4 Q1309.1 206 1310.4 205.3 Q1311.7 204.5 1313.7 204 Q1315.8 203.4 1316.6 205.4 Q1317.4 207.3 1316.7 209 Q1316 210.7 1314.9 211.5 Q1313.7 212.3 1312.2 214Z"/>
<path d="M1731.6 292.2 Q1729.2 294.8 1728.1 290.6 Q1727 286.5 1726 281.9 Q1725 277.4 1727.4 273.2 Q1729.8 269 1731.2 262 Q1732.6 255 1733.5 260.6 Q1734.4 266.2 1735.7 267.3 Q1737 268.5 1735.9 272.6 Q1734.8 276.7 1734.4 283.2 Q1734 289.6 1731.6 292.2Z"/>
<path d="M1672.3 318.3 Q1669 324.1 1665.4 320.1 Q1661.7 316.1 1662 310.4 Q1662.2 304.7 1661.1 298.3 Q1660 291.8 1664.9 291.4 Q1669.8 290.9 1672.6 292.3 Q1675.4 293.7 1676.7 296.7 Q1677.9 299.6 1679.6 303.4 Q1681.3 307.2 1678.4 309.9 Q1675.5 312.5 1672.3 318.3Z"/>
<path d="M1827.1 307.8 Q1825.5 306.5 1824.3 306.7 Q1823 306.8 1822.1 304.6 Q1821.1 302.3 1822.4 300 Q1823.7 297.8 1824.6 296.1 Q1825.4 294.3 1827 293 Q1828.6 291.7 1829.1 294.7 Q1829.5 297.7 1829.4 300.1 Q1829.2 302.5 1828.9 305.8 Q1828.6 309 1827.1 307.8Z"/>
<path d="M1744.5 308.8 Q1741.3 309 1741 305.4 Q1740.7 301.8 1743.3 297.8 Q1745.9 293.8 1748.1 290.9 Q1750.3 288 1753 286.2 Q1755.8 284.5 1758.8 284.2 Q1761.8 284 1760.7 288.3 Q1759.5 292.6 1757.2 296.7 Q1754.8 300.7 1751.3 304.7 Q1747.8 308.7 1744.5 308.8Z"/>
<path d="M1303.7 272 Q1302.4 270.1 1299.7 267.8 Q1297 265.5 1301.1 264.2 Q1305.3 262.9 1307.3 260.6 Q1309.2 258.3 1312 259.1 Q1314.8 259.9 1315 262.5 Q1315.2 265 1315.6 267.6 Q1316 270.1 1313.4 271.9 Q1310.8 273.6 1307.9 273.7 Q1305.1 273.8 1303.7 272Z"/>
<path d="M1701.2 200.4 Q1702.3 204.2 1698.2 204.7 Q1694.1 205.2 1691.2 207.2 Q1688.2 209.2 1686.8 205.9 Q1685.4 202.6 1683.7 200.2 Q1682 197.9 1683.4 195.2 Q1684.8 192.5 1687.7 192.7 Q1690.5 192.8 1694 191.4 Q1697.4 190 1698.7 193.3 Q1700.1 196.6 1701.2 200.4Z"/>
<path d="M1681 264.7 Q1681.9 269.2 1677.8 266.1 Q1673.7 263.1 1670.2 263.7 Q1666.7 264.3 1664.1 259.8 Q1661.6 255.3 1662.9 252.3 Q1664.2 249.3 1665.6 246.6 Q1667.1 243.9 1670.7 245.5 Q1674.4 247 1677.3 250.4 Q1680.2 253.8 1680.1 257.1 Q1680.1 260.3 1681 264.7Z"/>
<path d="M1446.4 240.5 Q1444.7 243 1441.5 243.8 Q1438.3 244.6 1434.3 244.4 Q1430.2 244.2 1430.6 240.5 Q1431 236.8 1432.3 233.6 Q1433.6 230.5 1437 229.8 Q1440.4 229.1 1443.2 229.3 Q1445.9 229.5 1446.7 231.6 Q1447.5 233.7 1447.7 235.9 Q1448 238.1 1446.4 240.5Z"/>
<path d="M1408.4 298.7 Q1406.9 297.9 1405.7 298.8 Q1404.4 299.6 1403.5 296.1 Q1402.6 292.7 1401.7 288.3 Q1400.8 283.8 1402.4 283.1 Q1404 282.4 1405.1 279.6 Q1406.1 276.9 1407.1 281.4 Q1408.1 285.8 1409.9 289.2 Q1411.7 292.5 1410.8 296 Q1409.9 299.5 1408.4 298.7Z"/>
<path d="M1276.2 287.6 Q1276.8 290.3 1273.4 290 Q1269.9 289.7 1267.8 291.1 Q1265.7 292.6 1263.8 290.3 Q1261.8 288.1 1260 285.9 Q1258.2 283.7 1260.2 282.4 Q1262.2 281.2 1264.3 281.3 Q1266.3 281.4 1269.4 280.4 Q1272.5 279.4 1274.1 282.2 Q1275.6 284.9 1276.2 287.6Z"/>
<path d="M1362.3 303.2 Q1364.3 304.9 1359.8 305.6 Q1355.3 306.3 1352.6 307.8 Q1349.9 309.3 1344.4 308.2 Q1339 307.1 1334.1 305.8 Q1329.2 304.6 1330.2 302.9 Q1331.2 301.3 1334.3 299.9 Q1337.4 298.5 1344.1 298.5 Q1350.8 298.5 1355.6 300 Q1360.4 301.5 1362.3 303.2Z"/>
<path d="M1607.2 237.2 Q1606.9 235.9 1606.6 234.8 Q1606.2 233.7 1607.7 232.5 Q1609.2 231.3 1611.2 230.1 Q1613.1 228.9 1614.9 229.3 Q1616.6 229.7 1618 230.7 Q1619.4 231.7 1617.5 233.4 Q1615.6 235.1 1613.8 236.1 Q1611.9 237.1 1609.7 237.8 Q1607.5 238.6 1607.2 237.2Z"/>
<path d="M1697.7 302.9 Q1695.4 299.1 1699.1 296.6 Q1702.8 294.2 1704.3 291.8 Q1705.7 289.5 1709.1 288.4 Q1712.4 287.3 1715.1 290.3 Q1717.9 293.3 1715.3 296.7 Q1712.8 300.2 1712.4 303.1 Q1712.1 306.1 1709.3 308.2 Q1706.5 310.2 1703.3 308.5 Q1700 306.7 1697.7 302.9Z"/>
<path d="M1580.8 226.9 Q1581.2 228.9 1580.1 229.8 Q1579 230.7 1576.5 227.7 Q1574 224.7 1572.7 221.8 Q1571.3 218.8 1571.3 217.2 Q1571.3 215.5 1572 214.8 Q1572.7 214 1574.3 214.3 Q1575.9 214.5 1577.8 217.6 Q1579.7 220.7 1580.1 222.8 Q1580.5 224.8 1580.8 226.9Z"/>
<path d="M1752.8 274 Q1750 275 1748 273.3 Q1745.9 271.5 1745.7 266 Q1745.4 260.5 1748.7 253.5 Q1752.1 246.4 1756 244.8 Q1759.9 243.1 1761.8 245.5 Q1763.6 247.8 1762.6 252.5 Q1761.6 257.2 1762.3 262.3 Q1763 267.5 1759.3 270.2 Q1755.5 272.9 1752.8 274Z"/>
<path d="M1475.2 207 Q1473.9 205.1 1474.5 202.7 Q1475.1 200.4 1476.9 199.1 Q1478.7 197.8 1480.5 199 Q1482.2 200.1 1483.1 201.4 Q1483.9 202.8 1485 204.6 Q1486.1 206.4 1484.2 207.1 Q1482.4 207.8 1481.1 209.4 Q1479.9 211.1 1478.2 210 Q1476.5 208.9 1475.2 207Z"/>
<path d="M1587.8 211.6 Q1586.6 214.4 1584.5 215.4 Q1582.5 216.4 1580.5 217.5 Q1578.5 218.6 1576.5 217.5 Q1574.5 216.3 1574.4 213.7 Q1574.3 211.1 1575.5 209 Q1576.8 206.9 1578.8 206.8 Q1580.7 206.6 1582.4 206.6 Q1584.1 206.7 1586.6 207.7 Q1589.1 208.8 1587.8 211.6Z"/>
<path d="M1402.8 238 Q1401.8 234.6 1398.8 232.8 Q1395.7 231 1400.6 228.7 Q1405.4 226.4 1407.4 222.5 Q1409.5 218.7 1412.7 219.5 Q1415.9 220.3 1418.9 221.9 Q1421.9 223.4 1418.3 226.8 Q1414.8 230.3 1413.6 233.7 Q1412.4 237.1 1408.1 239.2 Q1403.8 241.3 1402.8 238Z"/>
<path d="M1674.1 213.1 Q1678.1 217.5 1671.5 217.5 Q1664.8 217.5 1661.5 217.5 Q1658.2 217.6 1651.9 217.8 Q1645.5 218.1 1643 213.3 Q1640.6 208.5 1640.8 203.6 Q1641 198.6 1647.5 198.2 Q1654 197.8 1659.6 199.6 Q1665.2 201.4 1667.7 205.1 Q1670.1 208.7 1674.1 213.1Z"/>
<path d="M1610.1 310.2 Q1612.2 314.5 1608.5 316.5 Q1604.8 318.6 1601.1 315.1 Q1597.3 311.5 1592.1 310.7 Q1586.8 309.8 1589 306.2 Q1591.2 302.5 1592.6 300.3 Q1593.9 298.1 1596.8 298.5 Q1599.7 298.8 1604 298.4 Q1608.4 297.9 1608.2 301.9 Q1608 305.9 1610.1 310.2Z"/>
<path d="M1853 214.2 Q1849.1 213.6 1845.7 212.1 Q1842.3 210.6 1842.2 204.8 Q1842.1 199 1845.2 195.6 Q1848.2 192.2 1850.3 186.5 Q1852.4 180.7 1855.1 183.9 Q1857.7 187.1 1860 189.8 Q1862.4 192.5 1861.5 197.7 Q1860.7 202.9 1858.8 208.8 Q1856.8 214.8 1853 214.2Z"/>
<path d="M1499.3 297.4 Q1497.1 296.2 1495.2 294.7 Q1493.4 293.3 1494.9 291.2 Q1496.4 289.1 1496.7 286.7 Q1497.1 284.2 1499.5 283.8 Q1501.9 283.3 1502.7 285.6 Q1503.5 287.9 1504 289.2 Q1504.4 290.5 1504.6 292.5 Q1504.9 294.5 1503.2 296.6 Q1501.5 298.7 1499.3 297.4Z"/>
<path d="M1628.3 255.6 Q1624.6 256 1621.4 254.7 Q1618.2 253.3 1615.4 249.8 Q1612.6 246.4 1614.1 241.7 Q1615.7 237 1618.9 234 Q1622.2 231 1625.4 233.7 Q1628.6 236.5 1631.7 237.8 Q1634.7 239.2 1635.9 243.6 Q1637.1 247.9 1634.5 251.5 Q1631.9 255.1 1628.3 255.6Z"/>
<path d="M1841.6 300.7 Q1839.6 301.7 1837.6 302.7 Q1835.5 303.7 1832.4 303.3 Q1829.3 302.9 1829.2 299.9 Q1829 296.9 1831.6 295.6 Q1834.3 294.3 1835.7 293.2 Q1837.1 292.1 1839.1 292.2 Q1841.1 292.3 1843.8 293.4 Q1846.4 294.6 1845 297.2 Q1843.5 299.7 1841.6 300.7Z"/>
<path d="M1339 265.2 Q1337.3 268.6 1336.6 266.4 Q1335.9 264.3 1336.1 261.3 Q1336.3 258.3 1337.9 256.4 Q1339.4 254.5 1340.5 252.2 Q1341.7 249.9 1342.9 250.1 Q1344.1 250.2 1344.7 252.2 Q1345.3 254.2 1344.2 257.1 Q1343.2 260 1341.9 260.9 Q1340.7 261.9 1339 265.2Z"/>
<path d="M1814.5 237 Q1813.2 234.7 1814.2 232.1 Q1815.2 229.4 1815.9 226.6 Q1816.6 223.8 1820.3 221 Q1823.9 218.3 1828.5 216.4 Q1833 214.5 1832.9 217.8 Q1832.9 221 1832.8 224.1 Q1832.7 227.1 1828.6 230.1 Q1824.5 233 1820.2 236.1 Q1815.9 239.2 1814.5 237Z"/>
<path d="M1334.9 301.8 Q1331.6 302.1 1333.6 299.9 Q1335.6 297.6 1341.4 295 Q1347.2 292.4 1352.2 289.3 Q1357.2 286.3 1361.7 285.2 Q1366.2 284.1 1365.9 285.7 Q1365.6 287.2 1363.6 289.6 Q1361.7 292 1354.9 295.5 Q1348.1 299 1343.2 300.3 Q1338.2 301.5 1334.9 301.8Z"/>
<path d="M1822.2 223 Q1819.8 225.7 1817.4 223.3 Q1815 220.9 1813.9 217.9 Q1812.7 215 1813.4 211.9 Q1814.1 208.7 1816.1 205.7 Q1818.1 202.6 1820.8 204.7 Q1823.5 206.7 1826 208 Q1828.5 209.3 1828.4 212.7 Q1828.3 216.1 1826.4 218.2 Q1824.5 220.2 1822.2 223Z"/>
<path d="M1455.9 216.7 Q1455.1 217.7 1453.8 219 Q1452.5 220.3 1451.1 219.4 Q1449.6 218.5 1447.7 217.3 Q1445.7 216.1 1446.7 213.8 Q1447.7 211.6 1449.7 210.4 Q1451.7 209.3 1454 208.9 Q1456.3 208.6 1456.8 210.7 Q1457.2 212.9 1457 214.3 Q1456.7 215.7 1455.9 216.7Z"/>
<path d="M1609.3 231.2 Q1610.5 227.6 1612.3 225.5 Q1614 223.4 1615.7 220.5 Q1617.4 217.6 1623.6 215.5 Q1629.8 213.5 1631.9 215.2 Q1634.1 216.9 1639.1 217.6 Q1644 218.2 1640.3 222.1 Q1636.6 226.1 1629.5 228.5 Q1622.3 231 1615.1 232.9 Q1608 234.7 1609.3 231.2Z"/>
<path d="M1852.3 222.8 Q1849.2 223.3 1847.3 220.9 Q1845.4 218.6 1846.9 214.3 Q1848.3 210 1852 205.5 Q1855.6 201.1 1858.3 204.1 Q1861.1 207.1 1864 207.3 Q1866.9 207.6 1866.4 211 Q1865.9 214.4 1864.6 219.2 Q1863.4 223.9 1859.3 223.1 Q1855.3 222.3 1852.3 222.8Z"/>
<path d="M1275.1 215.2 Q1274.1 213.2 1274.6 211.4 Q1275.1 209.7 1275.1 207.2 Q1275 204.7 1277.4 205 Q1279.7 205.3 1281.9 205.7 Q1284 206.1 1285.5 208.2 Q1286.9 210.3 1285.6 212.4 Q1284.2 214.5 1282.7 216.5 Q1281.1 218.4 1278.6 217.8 Q1276.2 217.3 1275.1 215.2Z"/>
<path d="M1783.5 288.7 Q1784.8 293 1781.7 294.9 Q1778.7 296.7 1773.5 293.5 Q1768.4 290.3 1765 284.8 Q1761.6 279.3 1760.6 273.8 Q1759.6 268.4 1762.7 266 Q1765.8 263.6 1770.8 266.5 Q1775.8 269.3 1780.1 273.1 Q1784.3 276.9 1783.3 280.6 Q1782.2 284.3 1783.5 288.7Z"/>
</g>
<g fill="#000" fill-opacity="0.92" stroke="#f01c2c" stroke-opacity="0.85" stroke-width="1.5" filter="url(#soft2)">
<path d="M1544.8 285.2 Q1541.5 284.2 1539 285.9 Q1536.4 287.7 1534.7 283.7 Q1533.1 279.6 1534 276.4 Q1535 273.1 1536.2 271.8 Q1537.4 270.5 1538.9 266.6 Q1540.4 262.8 1542.7 266.1 Q1544.9 269.5 1544.7 273 Q1544.5 276.5 1546.3 281.4 Q1548.1 286.2 1544.8 285.2Z"/>
<path d="M1609.3 286 Q1608.4 286 1607.2 286.4 Q1606.1 286.8 1605.9 283.9 Q1605.8 280.9 1605.8 277.5 Q1605.8 274 1607.1 274.1 Q1608.5 274.1 1609.3 273.9 Q1610.1 273.6 1610.8 274.8 Q1611.6 275.9 1611.1 278.3 Q1610.6 280.7 1610.4 283.3 Q1610.3 285.9 1609.3 286Z"/>
<path d="M1845.6 292.3 Q1845.7 292.8 1845.4 293.3 Q1845.1 293.8 1844.4 293.3 Q1843.7 292.7 1843.3 292.2 Q1842.8 291.7 1842.8 291.2 Q1842.8 290.8 1843 290.5 Q1843.2 290.1 1843.7 290.1 Q1844.2 290.2 1845.1 290.2 Q1846 290.3 1845.8 291.1 Q1845.5 291.8 1845.6 292.3Z"/>
<path d="M1582.4 225.2 Q1582.8 227.3 1581.4 225 Q1580 222.6 1579.1 221.8 Q1578.2 220.9 1577.5 218.9 Q1576.8 216.8 1576.4 215 Q1576 213.1 1576.5 212.5 Q1576.9 211.8 1578.1 214.2 Q1579.3 216.6 1580.7 218.2 Q1582.1 219.8 1582.1 221.4 Q1582 223 1582.4 225.2Z"/>
<path d="M1726.2 210.6 Q1726.5 210.9 1726.2 211 Q1725.8 211.1 1725.3 211 Q1724.9 211 1724 210.9 Q1723.1 210.9 1722.8 210.5 Q1722.5 210.1 1722.6 209.9 Q1722.7 209.6 1723.3 209.5 Q1723.8 209.5 1724.6 209.5 Q1725.5 209.6 1725.7 210 Q1725.9 210.4 1726.2 210.6Z"/>
<path d="M1268.4 271.7 Q1267.9 272.1 1268 271.1 Q1268.2 270.2 1268.1 269.8 Q1267.9 269.4 1268.3 268.9 Q1268.6 268.3 1269 267.8 Q1269.4 267.3 1269.5 267.8 Q1269.6 268.4 1270.1 268.5 Q1270.5 268.6 1270.3 269.6 Q1270.1 270.5 1269.5 270.9 Q1268.9 271.3 1268.4 271.7Z"/>
<path d="M1661 295.5 Q1658.6 294.2 1656.3 295.7 Q1654.1 297.2 1652.6 293.9 Q1651.1 290.5 1651.7 286.7 Q1652.3 282.9 1654.3 281.9 Q1656.4 280.8 1658.5 278.3 Q1660.6 275.8 1662.1 279.3 Q1663.6 282.8 1663.4 286.1 Q1663.2 289.3 1663.2 293.1 Q1663.3 296.8 1661 295.5Z"/>
<path d="M1373.6 226.5 Q1372.4 226.1 1372.5 225 Q1372.6 223.9 1375.2 222.1 Q1377.9 220.2 1382 218.4 Q1386.1 216.5 1386.9 217.6 Q1387.6 218.7 1387.4 219.5 Q1387.2 220.4 1387.1 221.5 Q1386.9 222.5 1383.8 223.7 Q1380.7 224.9 1377.8 225.9 Q1374.9 226.9 1373.6 226.5Z"/>
<path d="M1312.4 208.3 Q1312.9 209.3 1312 208.7 Q1311 208.1 1310 207.9 Q1309.1 207.8 1307.5 205.9 Q1305.9 204.1 1306.6 203.8 Q1307.3 203.6 1306.6 202 Q1305.8 200.5 1307.4 202 Q1309 203.6 1310.3 204.5 Q1311.7 205.3 1311.8 206.3 Q1311.8 207.2 1312.4 208.3Z"/>
<path d="M1709.9 301.5 Q1709.9 302.2 1709.3 301.9 Q1708.7 301.7 1708.2 300.6 Q1707.7 299.5 1706.9 298.7 Q1706.2 297.8 1706.2 297 Q1706.2 296.3 1706.4 295.9 Q1706.7 295.4 1707.4 296 Q1708.1 296.6 1708.5 297.8 Q1708.8 298.9 1709.4 299.9 Q1710 300.9 1709.9 301.5Z"/>
<path d="M1259.9 219.3 Q1259.3 219.8 1258.7 220 Q1258.1 220.2 1256.7 219.9 Q1255.3 219.5 1254 218 Q1252.7 216.5 1252.1 215.4 Q1251.6 214.3 1251.8 213.5 Q1251.9 212.8 1253.5 213.8 Q1255.1 214.9 1256.6 215.4 Q1258.1 215.9 1259.3 217.4 Q1260.4 218.8 1259.9 219.3Z"/>
<path d="M1752.2 250 Q1752 251.2 1751.3 251.2 Q1750.6 251.1 1750.1 249 Q1749.5 247 1749.7 245.2 Q1749.8 243.5 1749.9 241.6 Q1749.9 239.8 1750.4 239.5 Q1751 239.2 1751.8 240.5 Q1752.5 241.8 1752.7 244.1 Q1753 246.3 1752.7 247.6 Q1752.5 248.8 1752.2 250Z"/>
<path d="M1783.9 200.1 Q1782.8 199.7 1784 198.6 Q1785.1 197.5 1786.1 196.8 Q1787.1 196.1 1788.3 195.9 Q1789.5 195.7 1791.6 195 Q1793.8 194.3 1794.2 195.3 Q1794.7 196.2 1793 197.3 Q1791.4 198.4 1789.9 199 Q1788.4 199.5 1786.7 200.1 Q1784.9 200.6 1783.9 200.1Z"/>
<path d="M1362 256.4 Q1361.6 256.2 1361.4 255.8 Q1361.2 255.4 1361.4 254.6 Q1361.6 253.7 1362.4 252.5 Q1363.1 251.2 1363.6 251.6 Q1364.1 252 1364.5 252 Q1364.9 252 1364.8 252.7 Q1364.7 253.4 1364.2 254.2 Q1363.7 255 1363.1 255.8 Q1362.4 256.6 1362 256.4Z"/>
<path d="M1754.7 223.6 Q1753.3 223 1752.4 222.1 Q1751.4 221.2 1751.9 218.7 Q1752.5 216.1 1752.7 213.6 Q1752.9 211.1 1754.1 210.2 Q1755.4 209.3 1756.8 208.5 Q1758.2 207.7 1758.6 210.1 Q1758.9 212.6 1758.2 215.1 Q1757.6 217.6 1756.9 220.9 Q1756.1 224.2 1754.7 223.6Z"/>
<path d="M1355 197.5 Q1355.5 198 1354.6 198.1 Q1353.8 198.1 1353.3 198.2 Q1352.8 198.4 1352 198.2 Q1351.2 198.1 1351.3 197.6 Q1351.5 197.1 1351.2 196.7 Q1350.9 196.2 1351.3 195.7 Q1351.7 195.2 1352.7 195.5 Q1353.7 195.9 1354.1 196.4 Q1354.6 197 1355 197.5Z"/>
<path d="M1814.9 266.8 Q1814 268.3 1812.3 267.8 Q1810.7 267.4 1808.9 264.6 Q1807.1 261.8 1807.1 259.2 Q1807.1 256.6 1806.8 254.3 Q1806.4 252 1807.5 251.9 Q1808.7 251.8 1810 253.3 Q1811.2 254.7 1812 256.7 Q1812.8 258.8 1814.3 262 Q1815.8 265.3 1814.9 266.8Z"/>
<path d="M1329 236.2 Q1328.7 236.2 1328 236.4 Q1327.3 236.6 1327.4 235.6 Q1327.4 234.7 1328 233.9 Q1328.6 233.1 1329.2 232.7 Q1329.8 232.3 1330.2 232.5 Q1330.7 232.8 1330.4 233.7 Q1330.1 234.5 1330.1 235 Q1330.1 235.5 1329.7 235.9 Q1329.3 236.3 1329 236.2Z"/>
<path d="M1251.4 270.3 Q1251 269.5 1250.8 268.8 Q1250.7 268 1251.6 266.9 Q1252.5 265.7 1253.5 264.7 Q1254.5 263.7 1256.3 262.2 Q1258.2 260.7 1258.3 261.9 Q1258.4 263.1 1258.3 264.4 Q1258.2 265.6 1256.8 267.5 Q1255.3 269.4 1253.6 270.3 Q1251.8 271.1 1251.4 270.3Z"/>
<path d="M1464.9 304 Q1464.6 303.7 1465 303.2 Q1465.4 302.8 1465.8 302.3 Q1466.1 301.8 1467 301.6 Q1467.9 301.3 1468.6 301.4 Q1469.2 301.5 1469 302 Q1468.7 302.4 1468.7 302.8 Q1468.6 303.2 1467.8 303.6 Q1467 304 1466.1 304.1 Q1465.2 304.3 1464.9 304Z"/>
<path d="M1561.6 304.4 Q1560.9 303.9 1559.9 304 Q1558.9 304.2 1559.4 301.6 Q1559.9 299.1 1560.2 295.9 Q1560.4 292.7 1561.7 292.6 Q1562.9 292.5 1564.1 291.5 Q1565.3 290.5 1565.7 292.6 Q1566.1 294.7 1565.1 297.4 Q1564.1 300.2 1563.3 302.6 Q1562.4 304.9 1561.6 304.4Z"/>
<path d="M1387.2 240.3 Q1386.4 240.2 1385.6 240.5 Q1384.7 240.8 1384.4 239.3 Q1384.1 237.9 1384.3 236.5 Q1384.5 235.1 1385.1 234.3 Q1385.8 233.5 1386.7 232.9 Q1387.7 232.2 1388.3 233.6 Q1388.8 235 1389 236.6 Q1389.1 238.1 1388.5 239.3 Q1387.9 240.5 1387.2 240.3Z"/>
<path d="M1497.7 243.2 Q1497.6 244.1 1496.5 244.5 Q1495.4 244.9 1494.1 244.9 Q1492.8 245 1490.9 244.8 Q1489.1 244.6 1487.9 243.6 Q1486.7 242.6 1486.7 241.7 Q1486.7 240.7 1488.6 240.6 Q1490.4 240.5 1492.2 240.7 Q1493.9 240.9 1495.8 241.6 Q1497.8 242.2 1497.7 243.2Z"/>
<path d="M1426.5 224.2 Q1425.3 225.1 1425.5 226 Q1425.7 226.9 1424.3 227.6 Q1423 228.3 1421.3 227.5 Q1419.6 226.7 1419.2 225.7 Q1418.7 224.7 1417.8 223.4 Q1417 222.1 1418.8 221.8 Q1420.6 221.4 1422.4 221.4 Q1424.3 221.4 1425.9 222.3 Q1427.6 223.2 1426.5 224.2Z"/>
<path d="M1258.9 220.7 Q1259.7 218.9 1257.6 218 Q1255.5 217 1258.8 215.5 Q1262.1 214.1 1264.9 213.7 Q1267.7 213.3 1270.9 213 Q1274 212.6 1273.5 214.3 Q1273 215.9 1271.4 217.4 Q1269.7 218.9 1267.2 219.5 Q1264.6 220.1 1261.4 221.3 Q1258.1 222.5 1258.9 220.7Z"/>
<path d="M1333.2 230 Q1333.1 230.1 1333 230.3 Q1332.9 230.5 1332.5 230 Q1332 229.5 1331.8 229 Q1331.6 228.6 1331.2 228 Q1330.8 227.4 1331.1 227.4 Q1331.3 227.4 1331.7 227.7 Q1332 228 1332.5 228.4 Q1332.9 228.9 1333.2 229.4 Q1333.4 229.9 1333.2 230Z"/>
<path d="M1270.3 310.6 Q1268.7 309.7 1269.1 306.8 Q1269.4 303.9 1269.7 301.2 Q1270 298.6 1272.2 295.9 Q1274.4 293.3 1276.1 291.8 Q1277.9 290.4 1279.4 290.3 Q1280.9 290.2 1279.6 293.4 Q1278.3 296.7 1277.5 299.2 Q1276.7 301.6 1274.3 306.6 Q1271.9 311.6 1270.3 310.6Z"/>
<path d="M1714.4 239.3 Q1714.3 237.1 1712.5 235.7 Q1710.6 234.3 1715.2 231.8 Q1719.7 229.2 1723.9 226.6 Q1728.2 223.9 1729.1 225.8 Q1730.1 227.8 1731.8 228.4 Q1733.5 229 1731.7 231.1 Q1729.9 233.3 1726.9 236 Q1723.9 238.8 1719.2 240.2 Q1714.5 241.5 1714.4 239.3Z"/>
<path d="M1327.2 241.6 Q1327 241.7 1326.9 241.9 Q1326.9 242.1 1326.3 242 Q1325.7 241.9 1324.7 241.5 Q1323.7 241.2 1323.3 240.7 Q1323 240.3 1323 240 Q1323 239.7 1323.9 239.9 Q1324.8 240.2 1325.4 240.4 Q1326.1 240.7 1326.7 241.1 Q1327.3 241.4 1327.2 241.6Z"/>
<path d="M1389.5 197.6 Q1389.4 198.4 1388.7 198.8 Q1388 199.2 1387.4 199.8 Q1386.7 200.4 1386.1 199.6 Q1385.4 198.8 1384.5 198.5 Q1383.6 198.1 1383.5 197.4 Q1383.3 196.6 1384.3 196.3 Q1385.3 196 1386.2 196.3 Q1387 196.6 1388.4 196.7 Q1389.7 196.7 1389.5 197.6Z"/>
<path d="M1247.4 301.9 Q1245.3 301.5 1244.6 299.6 Q1244 297.6 1246.4 295.8 Q1248.9 293.9 1251.8 292.7 Q1254.7 291.4 1256.6 292.5 Q1258.6 293.6 1261 294.9 Q1263.4 296.2 1260.5 298.4 Q1257.6 300.6 1255.6 302.5 Q1253.5 304.4 1251.5 303.3 Q1249.5 302.2 1247.4 301.9Z"/>
<path d="M1273.8 294.3 Q1273.2 293.9 1274.2 293.5 Q1275.3 293.1 1276 292.7 Q1276.6 292.2 1277.7 292.3 Q1278.9 292.4 1279.9 292.7 Q1280.8 293 1280.4 293.5 Q1279.9 294 1279.3 294.3 Q1278.7 294.6 1277.6 295.2 Q1276.5 295.7 1275.5 295.2 Q1274.4 294.8 1273.8 294.3Z"/>
<path d="M1581.3 277 Q1580 277.2 1581 275.6 Q1581.9 274 1582.8 272.7 Q1583.7 271.3 1586 268.8 Q1588.3 266.3 1590.5 265.8 Q1592.6 265.4 1593.5 266.2 Q1594.4 267 1592.4 269.2 Q1590.4 271.5 1588.5 273.5 Q1586.6 275.4 1584.6 276.2 Q1582.7 276.9 1581.3 277Z"/>
<path d="M1702.1 257.4 Q1701.3 257.1 1700.4 257.8 Q1699.4 258.4 1699.6 256.9 Q1699.8 255.4 1699.7 254.5 Q1699.7 253.6 1700.1 252.7 Q1700.6 251.9 1701.3 252.2 Q1702 252.5 1702.7 252.9 Q1703.3 253.3 1703.5 254.5 Q1703.6 255.6 1703.3 256.7 Q1702.9 257.7 1702.1 257.4Z"/>
<path d="M1651.7 272 Q1651.3 272.3 1651.1 272.4 Q1650.9 272.6 1650.2 272.7 Q1649.6 272.7 1649.2 272.2 Q1648.7 271.7 1647.8 271.3 Q1646.9 271 1647.6 270.9 Q1648.2 270.9 1648.4 270.6 Q1648.6 270.3 1649.4 270.6 Q1650.3 270.8 1651.2 271.3 Q1652 271.8 1651.7 272Z"/>
<path d="M1600.2 204.9 Q1599.3 205.4 1599.2 204.6 Q1599 203.8 1599.8 202.8 Q1600.6 201.7 1601 201.1 Q1601.4 200.5 1602.1 199.7 Q1602.8 198.8 1602.9 199.5 Q1602.9 200.2 1603.2 200.6 Q1603.4 201.1 1602.9 202 Q1602.4 203 1601.7 203.7 Q1601.1 204.4 1600.2 204.9Z"/>
<path d="M1462 297.3 Q1461.7 297.7 1461.1 297.7 Q1460.6 297.7 1460 297.9 Q1459.3 298 1458.8 297.3 Q1458.4 296.6 1457.8 296.1 Q1457.3 295.7 1457 295 Q1456.6 294.2 1457.5 294.2 Q1458.4 294.3 1459.4 295 Q1460.4 295.8 1461.4 296.4 Q1462.4 297 1462 297.3Z"/>
<path d="M1751.6 270.9 Q1751.3 272.1 1750.1 271.9 Q1749 271.8 1747.8 270.8 Q1746.7 269.8 1745.4 268.3 Q1744.2 266.8 1744.3 265.1 Q1744.3 263.4 1745.6 263.5 Q1747 263.6 1748.1 264.3 Q1749.2 264.9 1749.9 266 Q1750.6 267.1 1751.3 268.4 Q1751.9 269.7 1751.6 270.9Z"/>
<path d="M1336.5 270.8 Q1334.8 271.8 1334.9 269.7 Q1334.9 267.6 1334 265.7 Q1333 263.9 1334.8 260.8 Q1336.7 257.6 1338.3 258.2 Q1340 258.8 1341.3 258.8 Q1342.6 258.7 1343.5 260.3 Q1344.5 261.8 1343.3 265 Q1342.1 268.2 1340.1 269 Q1338.1 269.7 1336.5 270.8Z"/>
<path d="M1486.8 239.4 Q1487.5 240.4 1487.2 241.9 Q1486.9 243.3 1484.9 242 Q1482.9 240.7 1481.8 240 Q1480.7 239.4 1479 238.1 Q1477.3 236.9 1478.1 235.9 Q1479 234.9 1480.6 234.9 Q1482.2 234.8 1483.8 235.4 Q1485.4 236 1485.8 237.2 Q1486.1 238.3 1486.8 239.4Z"/>
<path d="M1643.2 228 Q1642.6 228.8 1641.8 228.3 Q1641 227.8 1640.6 226.7 Q1640.3 225.6 1640.1 224.2 Q1639.8 222.7 1640.6 221.6 Q1641.3 220.4 1642.2 221.4 Q1643.1 222.3 1643.5 223 Q1643.9 223.7 1644.4 224.7 Q1645 225.6 1644.4 226.4 Q1643.8 227.2 1643.2 228Z"/>
<path d="M1612.9 214.2 Q1612 213.9 1612.5 213.2 Q1613 212.6 1614.1 212.2 Q1615.1 211.7 1616.8 211.4 Q1618.5 211.1 1619 211.9 Q1619.4 212.6 1619.5 213.2 Q1619.5 213.8 1619.3 214.7 Q1619 215.5 1617.2 215.7 Q1615.4 215.8 1614.6 215.2 Q1613.8 214.6 1612.9 214.2Z"/>
<path d="M1772 212.3 Q1771.9 213.5 1771.4 212.5 Q1770.9 211.5 1770.3 211 Q1769.8 210.6 1770 209.7 Q1770.3 208.8 1770.5 208.3 Q1770.8 207.8 1771.1 207.1 Q1771.5 206.3 1772.1 207 Q1772.7 207.6 1772.6 208.8 Q1772.4 210 1772.3 210.5 Q1772.2 211.1 1772 212.3Z"/>
<path d="M1368.8 258.9 Q1369.1 259.5 1368.8 260.1 Q1368.5 260.6 1367.6 260.7 Q1366.7 260.7 1365.8 260.8 Q1364.9 260.9 1364.9 260.2 Q1364.9 259.6 1364.4 259.1 Q1363.9 258.5 1364.6 258.2 Q1365.3 257.9 1366.2 257.7 Q1367 257.4 1367.8 257.8 Q1368.6 258.2 1368.8 258.9Z"/>
<path d="M1736.6 292.6 Q1737 293.1 1736.4 293 Q1735.7 292.9 1734.9 292.6 Q1734.1 292.2 1733.3 291.7 Q1732.5 291.2 1732.6 290.9 Q1732.6 290.6 1731.8 289.9 Q1731.1 289.2 1732.1 289.6 Q1733.1 290 1734 290.4 Q1734.9 290.9 1735.5 291.5 Q1736.2 292 1736.6 292.6Z"/>
<path d="M1800.9 249.5 Q1801.2 250.9 1799.7 251.4 Q1798.2 251.9 1796.6 251.3 Q1794.9 250.7 1793.9 249.8 Q1792.9 248.9 1791.7 247.9 Q1790.6 246.8 1791.4 246.1 Q1792.2 245.5 1793.5 245.7 Q1794.8 246 1796.4 245.5 Q1798.1 245 1799.4 246.5 Q1800.7 248 1800.9 249.5Z"/>
<path d="M1807.5 281.6 Q1807 282.2 1806.4 282.7 Q1805.8 283.2 1804.5 283 Q1803.3 282.7 1803.1 281.5 Q1802.8 280.3 1802.8 279.6 Q1802.7 279 1802.4 277.4 Q1802 275.9 1803.4 277.1 Q1804.8 278.4 1806.1 278.4 Q1807.4 278.5 1807.7 279.7 Q1807.9 280.9 1807.5 281.6Z"/>
<path d="M1841.2 293.6 Q1840.5 293.6 1840.6 292.8 Q1840.7 292 1840.1 290.9 Q1839.5 289.9 1840.9 288.9 Q1842.3 287.8 1843.5 287 Q1844.8 286.1 1845.2 287 Q1845.6 287.8 1845 289.1 Q1844.3 290.4 1843.9 291.2 Q1843.4 292 1842.7 292.8 Q1841.9 293.5 1841.2 293.6Z"/>
<path d="M1843.8 286.5 Q1842.9 286.3 1843.4 285.9 Q1843.9 285.5 1844.6 285.1 Q1845.3 284.7 1846.1 284.9 Q1847 285 1848 285.1 Q1848.9 285.2 1848.4 285.7 Q1847.8 286.1 1847.7 286.6 Q1847.6 287.1 1846.7 287 Q1845.7 287 1845.2 286.8 Q1844.6 286.7 1843.8 286.5Z"/>
<path d="M1712.1 252.9 Q1712.1 252.4 1712.3 252 Q1712.5 251.6 1712.9 251.2 Q1713.4 250.8 1714.3 250.3 Q1715.2 249.9 1715.8 250.1 Q1716.3 250.4 1716.3 250.8 Q1716.3 251.2 1716 251.6 Q1715.7 252.1 1714.9 252.3 Q1714.1 252.6 1713.1 253 Q1712 253.4 1712.1 252.9Z"/>
<path d="M1408.8 222.9 Q1407.4 223.3 1408.2 221.9 Q1409.1 220.5 1408.7 219.2 Q1408.3 218 1409.9 216.7 Q1411.5 215.4 1412.3 216.5 Q1413.1 217.5 1413.6 217.9 Q1414.2 218.3 1414 219.2 Q1413.8 220.2 1413 220.9 Q1412.1 221.7 1411.2 222.1 Q1410.3 222.5 1408.8 222.9Z"/>
<path d="M1553.4 277 Q1552.3 277.2 1551.7 276.3 Q1551.2 275.4 1552 273.7 Q1552.8 272 1553.9 270.9 Q1555 269.8 1555.7 270 Q1556.4 270.2 1557.1 270.2 Q1557.8 270.1 1557.6 271.1 Q1557.4 272 1557.3 273.6 Q1557.2 275.1 1555.9 276 Q1554.5 276.8 1553.4 277Z"/>
<path d="M1317.5 234.2 Q1317.6 233.4 1317.4 232.6 Q1317.3 231.8 1318.7 231.5 Q1320.2 231.2 1321.8 230.8 Q1323.4 230.4 1324 231.3 Q1324.6 232.1 1325.1 232.9 Q1325.6 233.6 1324.4 234.3 Q1323.3 234.9 1321.8 235.3 Q1320.4 235.6 1318.9 235.4 Q1317.4 235.1 1317.5 234.2Z"/>
<path d="M1484.8 249.3 Q1483.8 250.2 1482.9 249.5 Q1481.9 248.9 1481.8 247 Q1481.7 245.1 1482.6 243.4 Q1483.5 241.7 1484.6 241 Q1485.7 240.2 1486.4 241 Q1487.1 241.9 1487.4 242.8 Q1487.7 243.8 1487.6 245.2 Q1487.4 246.5 1486.6 247.5 Q1485.9 248.4 1484.8 249.3Z"/>
<path d="M1472.6 307 Q1471.3 307.3 1471.1 306 Q1470.8 304.7 1470.8 303.3 Q1470.8 301.8 1472 300.6 Q1473.2 299.5 1474.1 300.1 Q1475 300.7 1475.4 301.1 Q1475.7 301.5 1476.9 302 Q1478.1 302.5 1476.9 303.6 Q1475.6 304.6 1474.7 305.7 Q1473.8 306.7 1472.6 307Z"/>
<path d="M1837.8 310.3 Q1836.9 310.5 1836.9 308.8 Q1837 307.1 1836.4 306.2 Q1835.8 305.3 1836.9 304.3 Q1837.9 303.3 1838.5 302 Q1839.1 300.7 1840 300 Q1841 299.4 1841.3 300.9 Q1841.6 302.4 1841.1 304.5 Q1840.6 306.7 1839.6 308.4 Q1838.7 310.1 1837.8 310.3Z"/>
<path d="M1529.1 244.5 Q1529 245.3 1528.3 245.6 Q1527.6 245.9 1526.5 245 Q1525.4 244 1524.1 243.4 Q1522.8 242.8 1523.1 242.1 Q1523.5 241.4 1523.2 240.4 Q1522.9 239.3 1524.2 240.1 Q1525.5 240.9 1526.4 241.4 Q1527.3 241.9 1528.3 242.8 Q1529.3 243.8 1529.1 244.5Z"/>
<path d="M1720.9 312.8 Q1718.8 313.1 1717 312.6 Q1715.2 312.1 1713 310.2 Q1710.8 308.4 1710.7 304.8 Q1710.6 301.1 1712.9 301 Q1715.2 300.9 1716.3 298.5 Q1717.3 296.1 1719.2 297.8 Q1721.2 299.4 1722.5 302.5 Q1723.9 305.6 1723.5 309 Q1723.1 312.5 1720.9 312.8Z"/>
<path d="M1486.3 243.2 Q1486 242.8 1486.1 242.4 Q1486.2 241.9 1487.3 241.5 Q1488.4 241 1489.3 240.5 Q1490.2 240.1 1490.3 240.5 Q1490.4 240.8 1491 240.9 Q1491.5 240.9 1491 241.4 Q1490.4 241.8 1489.7 242.1 Q1488.9 242.5 1487.8 243 Q1486.6 243.5 1486.3 243.2Z"/>
<path d="M1246.4 308.1 Q1245.1 309.9 1243.1 308.7 Q1241.1 307.4 1239.6 305.7 Q1238.2 304 1237.7 301.6 Q1237.2 299.2 1238.5 298.1 Q1239.8 297 1241 295.7 Q1242.2 294.4 1243.4 296.3 Q1244.6 298.2 1245 299.8 Q1245.4 301.3 1246.5 303.7 Q1247.7 306.2 1246.4 308.1Z"/>
<path d="M1259 299.5 Q1259 300.3 1258.2 300 Q1257.4 299.7 1256.6 299.5 Q1255.8 299.3 1255.7 298.4 Q1255.7 297.5 1255.7 296.9 Q1255.7 296.3 1256 296 Q1256.4 295.7 1257.1 295.3 Q1257.9 294.9 1258.7 295.9 Q1259.5 296.9 1259.3 297.8 Q1259.1 298.7 1259 299.5Z"/>
<path d="M1843.2 300.1 Q1842.9 300.5 1842.4 300.6 Q1842 300.7 1841.4 300.4 Q1840.9 300.1 1840.2 299.7 Q1839.5 299.3 1839.6 298.9 Q1839.7 298.4 1839.8 298 Q1839.9 297.7 1840.5 297.9 Q1841 298.1 1841.6 298.3 Q1842.1 298.6 1842.9 299.2 Q1843.6 299.8 1843.2 300.1Z"/>
<path d="M1422.2 304.3 Q1422.2 304.7 1421.8 304.5 Q1421.4 304.3 1420.9 304 Q1420.4 303.7 1419.8 303.1 Q1419.1 302.5 1418.9 301.9 Q1418.6 301.4 1419 301.6 Q1419.5 301.7 1419.7 301.6 Q1420 301.4 1420.6 302.2 Q1421.2 302.9 1421.7 303.5 Q1422.2 304 1422.2 304.3Z"/>
<path d="M1469.5 280.7 Q1469.5 281.3 1469.1 281.9 Q1468.7 282.4 1467.2 282.7 Q1465.8 283 1463.7 281.6 Q1461.6 280.2 1461.8 279 Q1461.9 277.7 1462.9 277.5 Q1463.9 277.3 1464.7 277.1 Q1465.5 277 1467.5 277 Q1469.4 277.1 1469.5 278.6 Q1469.5 280 1469.5 280.7Z"/>
<path d="M1496.1 204.8 Q1495 204.1 1496.5 203.4 Q1497.9 202.7 1499.2 202 Q1500.4 201.4 1502.3 201.6 Q1504.1 201.7 1505 202.3 Q1505.8 202.9 1506.4 203.6 Q1507 204.2 1505 204.4 Q1503 204.6 1502.1 204.9 Q1501.1 205.1 1499.1 205.3 Q1497.1 205.5 1496.1 204.8Z"/>
<path d="M1569.6 273.8 Q1568.1 274.4 1567.2 274.9 Q1566.3 275.3 1564.5 275.5 Q1562.7 275.6 1561.7 273.6 Q1560.8 271.5 1560 269.6 Q1559.3 267.7 1560.4 266.6 Q1561.4 265.5 1563.4 266.5 Q1565.3 267.6 1567.2 268.4 Q1569.1 269.2 1570.1 271.2 Q1571.1 273.2 1569.6 273.8Z"/>
<path d="M1563.3 255.7 Q1564 256.8 1563.4 257.4 Q1562.8 257.9 1561.3 256.7 Q1559.9 255.5 1558.8 254.7 Q1557.7 253.9 1557.4 253 Q1557 252.1 1557.5 251.7 Q1558 251.4 1558.7 250.8 Q1559.4 250.2 1561 251.4 Q1562.5 252.6 1562.6 253.6 Q1562.6 254.6 1563.3 255.7Z"/>
<path d="M1563.9 237.3 Q1563.5 237.3 1563.2 237.2 Q1562.8 237.1 1563.3 235.8 Q1563.7 234.5 1564 233.5 Q1564.2 232.4 1564.7 231.8 Q1565.2 231.3 1565.6 231.1 Q1566.1 231 1565.8 232.2 Q1565.4 233.5 1565.5 234.5 Q1565.5 235.5 1564.9 236.4 Q1564.3 237.2 1563.9 237.3Z"/>
<path d="M1397.2 219.9 Q1396.3 221.3 1395.9 220.4 Q1395.5 219.5 1395.1 217.5 Q1394.7 215.4 1396.3 213.1 Q1397.8 210.9 1398.6 209.5 Q1399.4 208.2 1399.7 208.9 Q1400 209.6 1400.5 210.2 Q1401 210.9 1400.2 213.2 Q1399.4 215.5 1398.7 217 Q1398 218.4 1397.2 219.9Z"/>
<path d="M1667.4 300.9 Q1667.4 300.5 1667.6 300.2 Q1667.8 299.8 1668.2 299.4 Q1668.6 299.1 1669.2 299.3 Q1669.9 299.5 1670.7 299.5 Q1671.6 299.5 1671.9 300 Q1672.2 300.5 1671.6 301 Q1671 301.5 1670 301.4 Q1669 301.2 1668.2 301.3 Q1667.3 301.4 1667.4 300.9Z"/>
<path d="M1558.5 246.3 Q1559.2 247 1558.3 246.8 Q1557.5 246.7 1557 246.6 Q1556.5 246.4 1555.5 246.3 Q1554.5 246.2 1554.5 245.6 Q1554.6 245 1554.7 244.6 Q1554.8 244.2 1555.4 244.1 Q1556 244 1556.8 244.3 Q1557.6 244.7 1557.7 245.2 Q1557.9 245.7 1558.5 246.3Z"/>
<path d="M1756.4 306.1 Q1756.3 306.7 1755.7 306.5 Q1755 306.4 1754.3 305.8 Q1753.5 305.2 1752.8 304.3 Q1752.1 303.4 1752.2 302.9 Q1752.3 302.4 1752.4 301.9 Q1752.5 301.5 1753.1 301.8 Q1753.8 302.1 1754.6 302.9 Q1755.4 303.6 1755.9 304.6 Q1756.4 305.5 1756.4 306.1Z"/>
<path d="M1860.6 211.6 Q1859.7 212.4 1858.8 212.6 Q1857.9 212.8 1856.7 212.9 Q1855.5 212.9 1853.9 212 Q1852.3 211.1 1852.4 210.1 Q1852.4 209.1 1852.5 208.3 Q1852.5 207.4 1853.8 207.7 Q1855.1 208 1856.4 208.3 Q1857.7 208.7 1859.7 209.8 Q1861.6 210.8 1860.6 211.6Z"/>
<path d="M1793.4 237.7 Q1792.8 237.4 1794.1 236.7 Q1795.4 235.9 1795.8 235.5 Q1796.2 235 1797.2 234.7 Q1798.2 234.4 1798.7 234.5 Q1799.2 234.6 1799.9 234.7 Q1800.6 234.9 1800 235.5 Q1799.5 236.1 1798.2 236.5 Q1796.9 236.9 1795.5 237.4 Q1794.1 238 1793.4 237.7Z"/>
<path d="M1624.4 227.8 Q1624.4 229.6 1623.4 228 Q1622.5 226.5 1621.9 225.1 Q1621.3 223.7 1620.6 221.8 Q1620 220 1619.6 217.3 Q1619.2 214.7 1620.4 216.2 Q1621.6 217.7 1622.4 218.2 Q1623.2 218.8 1624.1 221 Q1625 223.1 1624.7 224.5 Q1624.4 226 1624.4 227.8Z"/>
<path d="M1474.3 297.5 Q1473.3 296.2 1472.3 295.9 Q1471.3 295.5 1471.3 293.5 Q1471.4 291.4 1472.7 289.9 Q1474.1 288.3 1475.5 286.2 Q1476.9 284.1 1478.5 284.2 Q1480.1 284.3 1480.5 286.5 Q1480.9 288.8 1479.9 291.9 Q1478.8 294.9 1477 296.8 Q1475.3 298.8 1474.3 297.5Z"/>
<path d="M1768.1 224.7 Q1768.5 225.7 1767.7 225.2 Q1766.9 224.7 1766.1 224.3 Q1765.3 223.9 1764.8 222.9 Q1764.4 221.8 1764.3 221.2 Q1764.2 220.6 1764.3 220.1 Q1764.5 219.7 1765.2 220.5 Q1765.9 221.4 1766.6 221.8 Q1767.2 222.3 1767.5 223 Q1767.8 223.8 1768.1 224.7Z"/>
<path d="M1550.4 239.2 Q1550.3 240.8 1549.3 241.9 Q1548.3 242.9 1546.5 243.4 Q1544.6 243.9 1542.9 243.5 Q1541.2 243 1538.5 242.7 Q1535.8 242.3 1537.4 241.1 Q1539.1 239.9 1540 239.1 Q1541 238.3 1542.8 238 Q1544.6 237.8 1547.5 237.7 Q1550.4 237.7 1550.4 239.2Z"/>
<path d="M1539.9 214.2 Q1540 213.7 1539.8 213.5 Q1539.7 213.3 1539.9 212.7 Q1540.2 212.2 1541 212.1 Q1541.7 212 1542.5 211.6 Q1543.4 211.2 1543.8 211.4 Q1544.3 211.6 1543.6 212.3 Q1542.8 213 1542.2 213.6 Q1541.5 214.2 1540.7 214.4 Q1539.9 214.6 1539.9 214.2Z"/>
<path d="M1790.9 309.3 Q1789.4 308.8 1789.6 306.9 Q1789.7 305.1 1789.9 303.4 Q1790.1 301.7 1791.7 300.5 Q1793.2 299.3 1795 297.9 Q1796.7 296.5 1797.8 297.5 Q1798.9 298.4 1798 300.4 Q1797.1 302.5 1796.5 304.2 Q1795.8 305.8 1794.1 307.8 Q1792.4 309.7 1790.9 309.3Z"/>
<path d="M1704.5 223.7 Q1704.7 224.7 1703.4 223.7 Q1702.2 222.7 1701.3 222.4 Q1700.5 222 1699.3 220.6 Q1698.1 219.3 1697.4 217.9 Q1696.6 216.5 1697.6 216.8 Q1698.6 217.2 1699.6 218 Q1700.5 218.9 1701.4 219.5 Q1702.3 220.2 1703.3 221.5 Q1704.2 222.7 1704.5 223.7Z"/>
<path d="M1716.7 292.2 Q1716.5 291.8 1716.1 291.7 Q1715.7 291.6 1716 290.8 Q1716.3 290 1717 289.6 Q1717.8 289.3 1718.4 288.9 Q1718.9 288.5 1718.8 289.1 Q1718.7 289.6 1719 289.9 Q1719.3 290.2 1718.8 291 Q1718.4 291.8 1717.6 292.2 Q1716.9 292.6 1716.7 292.2Z"/>
<path d="M1446.5 298.3 Q1446.8 298.6 1446.4 298.8 Q1446 299.1 1445.4 299 Q1444.9 299 1444 299.1 Q1443.1 299.2 1442.6 298.7 Q1442.1 298.2 1442.4 297.8 Q1442.8 297.4 1443.4 297.4 Q1444.1 297.4 1444.7 297.3 Q1445.4 297.2 1445.8 297.6 Q1446.2 297.9 1446.5 298.3Z"/>
<path d="M1590.9 275.3 Q1590.1 276.3 1589.9 278.7 Q1589.8 281.2 1586.2 278.3 Q1582.5 275.3 1580.8 271.9 Q1579.1 268.6 1578.1 266.2 Q1577 263.7 1577 261.4 Q1577 259.1 1580.2 261.2 Q1583.4 263.3 1586.3 266.1 Q1589.1 268.9 1590.4 271.7 Q1591.6 274.4 1590.9 275.3Z"/>
<path d="M1610.5 196.8 Q1610 196.4 1610.1 195.8 Q1610.2 195.2 1611 194.8 Q1611.8 194.4 1612.6 194.4 Q1613.3 194.3 1614.1 194.5 Q1614.9 194.6 1615.2 195.2 Q1615.5 195.7 1615.1 196.4 Q1614.6 197.1 1613.6 197.1 Q1612.5 197 1611.8 197.1 Q1611 197.2 1610.5 196.8Z"/>
<path d="M1514.1 288.1 Q1511.4 287.7 1511.6 284.5 Q1511.7 281.4 1512.2 279.3 Q1512.6 277.3 1514 275.8 Q1515.3 274.2 1517.5 271.3 Q1519.8 268.5 1521.8 269.9 Q1523.9 271.3 1522.6 274.5 Q1521.4 277.7 1522.3 281.3 Q1523.2 284.9 1520 286.7 Q1516.7 288.6 1514.1 288.1Z"/>
<path d="M1673.8 225.1 Q1674 226 1673.4 226 Q1672.7 226.1 1672 225.3 Q1671.2 224.5 1671 223.6 Q1670.7 222.6 1670.2 221.3 Q1669.6 220 1670.6 220.5 Q1671.6 221 1672.2 221 Q1672.8 221.1 1673.3 222 Q1673.8 222.9 1673.7 223.5 Q1673.6 224.2 1673.8 225.1Z"/>
<path d="M1471.3 271.5 Q1471.2 273.3 1468.1 272.6 Q1465 271.8 1463.1 272.2 Q1461.2 272.6 1459.4 270.7 Q1457.6 268.7 1454.6 266.6 Q1451.5 264.5 1452.1 262.9 Q1452.7 261.2 1455.6 261.3 Q1458.5 261.3 1461.6 263.5 Q1464.7 265.7 1468.1 267.7 Q1471.5 269.6 1471.3 271.5Z"/>
<path d="M1556.7 223.1 Q1554 223 1556.9 222 Q1559.7 221.1 1560.4 220 Q1561.2 218.9 1563.7 218.9 Q1566.1 218.9 1566.6 219.6 Q1567.1 220.3 1568.4 220.8 Q1569.7 221.3 1568.5 222.3 Q1567.3 223.2 1564.9 223.2 Q1562.5 223.1 1560.9 223.2 Q1559.3 223.3 1556.7 223.1Z"/>
<path d="M1718.9 231 Q1717.3 232 1717.6 229.8 Q1717.9 227.6 1717.1 225.7 Q1716.4 223.9 1718.5 221.7 Q1720.7 219.5 1722.7 217.4 Q1724.7 215.4 1726.3 215.6 Q1727.9 215.9 1727.5 218.9 Q1727.1 221.8 1725.3 224.4 Q1723.4 227 1722 228.5 Q1720.5 230 1718.9 231Z"/>
<path d="M1757.7 295.9 Q1757.6 295.5 1757.4 294.9 Q1757.2 294.4 1758.1 293.7 Q1758.9 293.1 1760.2 293.2 Q1761.6 293.2 1762.3 293.7 Q1763.1 294.1 1763.5 294.8 Q1763.8 295.4 1762.7 295.9 Q1761.5 296.3 1760.6 296.4 Q1759.6 296.6 1758.7 296.5 Q1757.9 296.4 1757.7 295.9Z"/>
<path d="M1437.9 247 Q1437.3 247.1 1436.9 246.5 Q1436.6 246 1436.6 245.1 Q1436.7 244.3 1437.3 243.7 Q1437.9 243.1 1438.4 243 Q1438.9 242.9 1439.2 243.1 Q1439.6 243.3 1439.6 243.8 Q1439.6 244.3 1439.8 245.2 Q1440 246 1439.3 246.5 Q1438.5 247 1437.9 247Z"/>
<path d="M1642.6 262.7 Q1643.3 263.4 1642.4 263.9 Q1641.4 264.4 1640.2 264.2 Q1639 264.1 1637.3 264.5 Q1635.6 264.8 1635.2 263.9 Q1634.8 263 1635.6 262.6 Q1636.5 262.1 1636.9 261.7 Q1637.3 261.3 1638.4 261.3 Q1639.5 261.3 1640.7 261.6 Q1641.9 262 1642.6 262.7Z"/>
<path d="M1245.5 246.1 Q1244.7 247.6 1243 246.1 Q1241.2 244.6 1240.3 243.5 Q1239.4 242.4 1238.9 241.2 Q1238.4 239.9 1238.2 238.6 Q1238 237.2 1238.3 235.2 Q1238.5 233.1 1240.2 235.1 Q1241.9 237 1243.9 238.4 Q1245.9 239.8 1246.1 242.2 Q1246.3 244.7 1245.5 246.1Z"/>
<path d="M1738.1 308.2 Q1737 307 1737.5 305.4 Q1738 303.8 1738.9 302 Q1739.7 300.3 1741.7 300.2 Q1743.7 300.1 1746.1 298.8 Q1748.4 297.5 1747.6 299.5 Q1746.7 301.5 1747.9 302.7 Q1749.1 304 1746.7 305.5 Q1744.3 307 1741.7 308.2 Q1739.2 309.3 1738.1 308.2Z"/>
<path d="M1646 241 Q1647.3 242 1645.5 242 Q1643.7 242 1642.6 242 Q1641.6 242 1640.3 241.6 Q1639.1 241.2 1637.7 240.4 Q1636.3 239.6 1637 239 Q1637.7 238.4 1638.9 238.3 Q1640 238.2 1641.5 238.3 Q1643 238.3 1643.8 239.2 Q1644.7 240 1646 241Z"/>
<path d="M1358.6 283.8 Q1360.5 284.5 1358.6 284.9 Q1356.8 285.3 1355.9 285.9 Q1355.1 286.5 1354 285.9 Q1352.9 285.3 1352 284.8 Q1351.1 284.4 1350.4 283.4 Q1349.7 282.5 1351.1 282.1 Q1352.6 281.7 1354.2 281.2 Q1355.9 280.8 1356.3 282 Q1356.8 283.1 1358.6 283.8Z"/>
<path d="M1792 298.3 Q1791.6 299.1 1790.6 298.9 Q1789.6 298.6 1788.7 298.3 Q1787.9 298 1787.1 297.1 Q1786.4 296.2 1786.1 295 Q1785.8 293.8 1786.9 293.8 Q1787.9 293.8 1788.7 294.2 Q1789.4 294.6 1790.1 295 Q1790.8 295.4 1791.6 296.4 Q1792.4 297.4 1792 298.3Z"/>
<path d="M1448.7 248.8 Q1447.8 248.2 1448 247.2 Q1448.2 246.2 1449.4 244.7 Q1450.7 243.2 1452.7 243.6 Q1454.7 243.9 1456.4 243.6 Q1458.2 243.3 1459.2 243.9 Q1460.3 244.6 1459 246 Q1457.8 247.3 1455.6 248.1 Q1453.3 248.9 1451.5 249.1 Q1449.6 249.4 1448.7 248.8Z"/>
<path d="M1812 294.9 Q1812.1 295.2 1812.1 295.6 Q1812.1 296 1811.3 296.1 Q1810.6 296.3 1809.5 296.4 Q1808.5 296.4 1808.4 295.9 Q1808.3 295.4 1807.9 295.1 Q1807.6 294.7 1808 294.2 Q1808.4 293.7 1809.5 294 Q1810.6 294.3 1811.2 294.5 Q1811.9 294.6 1812 294.9Z"/>
<path d="M1242.3 237.4 Q1242.1 232.6 1246.9 231.8 Q1251.8 230.9 1255.1 231.2 Q1258.4 231.5 1262.9 231.7 Q1267.5 231.9 1271.6 230.5 Q1275.7 229.1 1278.9 228.6 Q1282 228.1 1285.6 228.4 Q1289.1 228.6 1293.3 229.3 Q1297.4 230.1 1301.8 229.7 Q1306.1 229.4 1309.7 230.7 Q1313.3 232 1315.6 232.3 Q1317.9 232.7 1321.4 232.2 Q1325 231.7 1329.4 232.2 Q1333.7 232.7 1337.3 233.5 Q1340.9 234.4 1344.4 234.6 Q1348 234.8 1351.3 235.6 Q1354.6 236.3 1358.3 238.4 Q1362.1 240.5 1364.7 241.4 Q1367.3 242.2 1370.3 243.3 Q1373.3 244.3 1377.8 245.7 Q1382.4 247.1 1386.5 246.6 Q1390.7 246.2 1396.2 248.1 Q1401.7 250 1404.5 252.8 Q1407.4 255.7 1410.3 260.4 Q1413.3 265.1 1409 265 Q1404.7 265 1401.7 263.8 Q1398.8 262.6 1394.9 262.9 Q1391.1 263.2 1387.7 263.2 Q1384.4 263.3 1380.7 263.4 Q1377 263.5 1372.8 262.5 Q1368.5 261.5 1365.7 260.7 Q1363 259.9 1358.9 259.6 Q1354.9 259.4 1350.7 257.2 Q1346.6 255.1 1344 255.1 Q1341.4 255.1 1336.9 254.1 Q1332.3 253.1 1329.5 253.1 Q1326.6 253.2 1323.3 252.7 Q1320.1 252.2 1315.6 252.3 Q1311 252.3 1307.8 251.2 Q1304.5 250.1 1300.5 249.7 Q1296.6 249.4 1293 248.9 Q1289.4 248.4 1285.7 247.7 Q1282.1 247 1277.3 247.2 Q1272.5 247.5 1268.3 247 Q1264 246.4 1259.6 245.1 Q1255.1 243.8 1251.8 243.4 Q1248.4 243 1245.5 242.6 Q1242.5 242.1 1242.3 237.4Z"/>
<path d="M1728.4 255.2 Q1727.3 252.5 1730.9 250.8 Q1734.4 249.2 1738.6 247.6 Q1742.7 245.9 1748.1 244.5 Q1753.5 243.1 1756.3 243 Q1759.2 242.8 1763.1 241.9 Q1767 240.9 1771.2 240.5 Q1775.4 240.1 1780.5 239 Q1785.5 237.9 1789.6 238.3 Q1793.8 238.7 1796.6 237.6 Q1799.4 236.5 1803.8 237.2 Q1808.2 237.9 1812.9 236.8 Q1817.6 235.7 1821.6 236.1 Q1825.6 236.5 1828.4 236.2 Q1831.1 235.9 1835.5 235.8 Q1839.8 235.6 1844.1 234.7 Q1848.3 233.8 1850.8 233.4 Q1853.2 233.1 1857.4 233.8 Q1861.6 234.6 1864.7 234.3 Q1867.8 234.1 1868.7 238 Q1869.6 242 1868.4 245.6 Q1867.3 249.3 1867.3 254.7 Q1867.3 260.1 1864.9 258.9 Q1862.4 257.7 1858.7 258.9 Q1854.9 260.1 1850.9 260.1 Q1846.9 260 1844.1 258.7 Q1841.4 257.5 1836.5 258.2 Q1831.6 259 1827.7 257.6 Q1823.9 256.2 1819.5 257 Q1815 257.7 1812 256.8 Q1809 255.8 1805.4 255.9 Q1801.7 256 1796.7 255.7 Q1791.7 255.4 1788.4 256.1 Q1785 256.8 1781.3 255.7 Q1777.6 254.5 1773.2 254.8 Q1768.9 255.1 1764.1 255.5 Q1759.3 255.9 1755.6 255.1 Q1752 254.4 1749.5 254.5 Q1746.9 254.6 1742.4 255.2 Q1738 255.8 1733.7 256.8 Q1729.5 257.9 1728.4 255.2Z"/>
<path d="M1684.4 212.3 Q1684.2 208.1 1689.6 208.4 Q1695 208.7 1695.8 212.7 Q1696.7 216.7 1697.2 220.2 Q1697.7 223.6 1698.8 226.9 Q1699.9 230.2 1698.2 234 Q1696.4 237.9 1696.2 241.6 Q1695.9 245.4 1694.2 249.3 Q1692.5 253.3 1692.2 256.6 Q1692 259.9 1689 254.6 Q1686.1 249.4 1684.7 244.7 Q1683.4 240.1 1683.4 237.4 Q1683.4 234.8 1684 230.4 Q1684.7 226.1 1684.6 221.3 Q1684.5 216.5 1684.4 212.3Z"/>
<path d="M1578.2 271.7 Q1578 268.2 1583.8 267.1 Q1589.6 266.1 1591.3 270.7 Q1592.9 275.2 1595.3 279.5 Q1597.7 283.7 1591.5 287.1 Q1585.4 290.5 1583.8 286.3 Q1582.3 282 1580.4 278.6 Q1578.5 275.2 1578.2 271.7Z"/>
<path d="M1623.4 203.3 Q1620.8 199.3 1625.1 199.6 Q1629.4 199.9 1632.2 198.8 Q1635.1 197.8 1639 197.5 Q1643 197.2 1646.5 197.5 Q1650.1 197.9 1652.4 201.8 Q1654.7 205.7 1651.9 205.6 Q1649.2 205.4 1645.2 206.2 Q1641.2 206.9 1637 206.3 Q1632.9 205.7 1629.4 206.4 Q1625.9 207.2 1623.4 203.3Z"/>
<path d="M1350.3 223.7 Q1349.3 221.6 1352.7 220.1 Q1356.1 218.5 1359.1 217.4 Q1362 216.2 1364.3 217.3 Q1366.7 218.5 1368.1 220.3 Q1369.5 222.1 1365.8 224.8 Q1362.1 227.6 1359.9 227.6 Q1357.6 227.5 1354.5 226.7 Q1351.3 225.9 1350.3 223.7Z"/>
<path d="M1379.5 229.4 Q1378 227.8 1380.3 227.2 Q1382.7 226.6 1387.6 226.1 Q1392.6 225.6 1395.4 225.8 Q1398.2 226 1399.8 226.9 Q1401.3 227.8 1397.8 229.4 Q1394.3 231 1391.6 231.7 Q1388.8 232.4 1384.9 231.7 Q1381 231.1 1379.5 229.4Z"/>
<path d="M1428.2 241.8 Q1429.4 237.2 1432.4 231.7 Q1435.3 226.2 1439.5 225.2 Q1443.8 224.2 1445.2 225.4 Q1446.6 226.7 1447.2 232 Q1447.7 237.3 1443.3 242.9 Q1439 248.5 1435.6 248.4 Q1432.2 248.3 1429.6 247.4 Q1427 246.5 1428.2 241.8Z"/>
<path d="M1465.3 266.3 Q1465.4 264 1469 260.8 Q1472.6 257.6 1475.3 257 Q1478.1 256.4 1481.2 257.1 Q1484.4 257.9 1484.3 260.9 Q1484.1 263.9 1481.8 267.5 Q1479.4 271.1 1475.4 270.7 Q1471.3 270.3 1468.2 269.4 Q1465.1 268.5 1465.3 266.3Z"/>
<path d="M1434.9 290.2 Q1436.2 284.9 1437.8 280.4 Q1439.4 276 1440.9 273 Q1442.4 270 1445.2 269.9 Q1448 269.7 1451.4 271.2 Q1454.7 272.6 1454 278.2 Q1453.2 283.9 1451.3 287 Q1449.4 290.2 1447.1 294 Q1444.7 297.8 1441 298.3 Q1437.4 298.8 1435.5 297.1 Q1433.6 295.4 1434.9 290.2Z"/>
<path d="M1319.6 286.5 Q1319.7 282 1323.6 278.6 Q1327.6 275.1 1329.6 275 Q1331.5 274.8 1334.9 275.3 Q1338.3 275.7 1337.9 280 Q1337.6 284.3 1335.3 287.4 Q1333 290.4 1329.4 290.4 Q1325.8 290.4 1322.7 290.7 Q1319.6 291.1 1319.6 286.5Z"/>
<path d="M1502.2 248.7 Q1501.7 248 1503.8 245.8 Q1505.8 243.6 1508.7 243.9 Q1511.6 244.2 1513.9 245.2 Q1516.2 246.2 1517 247.7 Q1517.8 249.3 1516.3 250.8 Q1514.8 252.3 1511.7 251.1 Q1508.5 250 1505.6 249.7 Q1502.6 249.4 1502.2 248.7Z"/>
<path d="M1542.8 271.1 Q1542.4 266.6 1545.5 262.5 Q1548.6 258.4 1552 257.5 Q1555.4 256.5 1557 258.1 Q1558.7 259.7 1557.9 264.4 Q1557.2 269 1554.3 272.5 Q1551.4 275.9 1549.7 277.2 Q1547.9 278.5 1545.5 277.1 Q1543.2 275.7 1542.8 271.1Z"/>
<path d="M1578.4 219 Q1579.5 214.1 1582.7 208.7 Q1586 203.2 1589 202.4 Q1592 201.6 1592.6 201.8 Q1593.2 202 1592.6 207.7 Q1591.9 213.4 1589.2 219.9 Q1586.4 226.4 1583.8 226.4 Q1581.2 226.4 1579.3 225.2 Q1577.3 223.9 1578.4 219Z"/>
<path d="M1606.5 231.3 Q1607.5 226.4 1611.3 219.6 Q1615.1 212.9 1617.8 212.2 Q1620.4 211.5 1623.8 212.2 Q1627.1 212.8 1626.8 219.6 Q1626.5 226.3 1622.2 231.3 Q1617.9 236.3 1614.3 237.2 Q1610.7 238 1608.1 237.2 Q1605.6 236.3 1606.5 231.3Z"/>
<path d="M1719.9 224.6 Q1718.2 222.8 1723.1 221 Q1728 219.1 1733.9 218.4 Q1739.7 217.7 1744 218 Q1748.3 218.2 1750.7 220.2 Q1753.2 222.1 1749.4 224.7 Q1745.7 227.2 1739.6 226.8 Q1733.6 226.3 1727.6 226.4 Q1721.5 226.4 1719.9 224.6Z"/>
<path d="M1644.3 269.9 Q1643.9 268.1 1647.5 264.9 Q1651.1 261.6 1655 261.5 Q1658.9 261.4 1662.6 261.5 Q1666.2 261.6 1666.6 264.9 Q1667.1 268.1 1664.8 270.4 Q1662.5 272.6 1658.5 273 Q1654.5 273.3 1649.6 272.5 Q1644.8 271.7 1644.3 269.9Z"/>
<path d="M1684.8 281.8 Q1685.4 279.5 1686.5 277.5 Q1687.6 275.6 1690.4 274.8 Q1693.2 274 1695.7 274.3 Q1698.1 274.7 1698.9 277.6 Q1699.6 280.5 1697 283.4 Q1694.5 286.3 1691.8 286.7 Q1689.1 287.1 1686.7 285.7 Q1684.2 284.2 1684.8 281.8Z"/>
<path d="M1727.1 272.5 Q1727.4 270.4 1729.2 267.6 Q1731 264.8 1733.6 265.1 Q1736.2 265.4 1737.9 265.6 Q1739.5 265.8 1739.2 267.6 Q1739 269.4 1736.6 272.2 Q1734.2 275 1732.8 275.4 Q1731.4 275.8 1729.2 275.2 Q1726.9 274.7 1727.1 272.5Z"/>
<path d="M1837.1 235.2 Q1835.6 231.1 1840.3 226.8 Q1845 222.4 1850.7 221.1 Q1856.3 219.8 1860.9 220.4 Q1865.5 221 1866.3 226.1 Q1867 231.3 1862.8 235.9 Q1858.5 240.5 1852.2 241 Q1845.9 241.5 1842.3 240.4 Q1838.6 239.3 1837.1 235.2Z"/>
<path d="M1800.9 293.9 Q1800.9 291.7 1803 288.4 Q1805 285.1 1807.8 284.7 Q1810.6 284.4 1812 284.2 Q1813.3 284 1813.2 287.3 Q1813.1 290.6 1810.2 294.2 Q1807.3 297.8 1804.9 297.5 Q1802.4 297.2 1801.7 296.7 Q1801 296.1 1800.9 293.9Z"/>
</g>
<g fill="none" stroke-linejoin="round" stroke-linecap="round" filter="url(#soft2)">
<path d="M1451.4 277.2L1462.9 281.9L1469.2 282.1L1480.2 284.4L1488.4 292.1L1495.9 295.9" stroke="#f01c2c" stroke-opacity="0.77" stroke-width="5.9"/>
<path d="M1860.4 212L1854.5 209.8L1847.1 204.4L1845.5 198.8" stroke="#f01c2c" stroke-opacity="0.77" stroke-width="4.9"/>
<path d="M1819 250.4L1828 251.1L1834.4 248.5L1844.4 247.4" stroke="#f01c2c" stroke-opacity="0.77" stroke-width="4.1"/>
<path d="M1639.2 214.7L1642.1 219L1642.9 226.8L1644.9 235.7L1648.6 241.2L1645.5 244.7" stroke="#f01c2c" stroke-opacity="0.77" stroke-width="3.4"/>
<path d="M1673.4 201.9L1665.2 207.9L1665.5 214.7L1667.9 217.7" stroke="#f01c2c" stroke-opacity="0.77" stroke-width="4.1"/>
<path d="M1704.1 286.8L1703.2 294.3L1701.1 301.4L1705.4 304.1L1710.2 304.1" stroke="#f01c2c" stroke-opacity="0.77" stroke-width="4.5"/>
<path d="M1777.8 242.2L1782.6 240.2L1785.6 233.1L1787.2 227.9" stroke="#f01c2c" stroke-opacity="0.77" stroke-width="6.3"/>
<path d="M1578.7 221.3L1584.1 220.5L1592.3 214.5L1596.2 212.8" stroke="#f01c2c" stroke-opacity="0.77" stroke-width="4.6"/>
<path d="M1604.6 294.7L1593.1 292.5L1588.1 291.5" stroke="#f01c2c" stroke-opacity="0.77" stroke-width="4.2"/>
<path d="M1335.6 283.9L1347.8 281.5L1349.6 278.4L1346 274.4L1338.5 273.1L1332.2 272.1" stroke="#f01c2c" stroke-opacity="0.77" stroke-width="5.6"/>
<path d="M1604.2 274L1603.7 278.9L1606.1 282.7L1598.7 290L1596.5 293.5L1587.5 295.5" stroke="#f01c2c" stroke-opacity="0.77" stroke-width="3.4"/>
<path d="M1821.7 207.3L1821.4 210.8L1813.4 217.8L1814.3 222.5L1819.9 227L1822.1 232.6" stroke="#f01c2c" stroke-opacity="0.77" stroke-width="3.4"/>
<path d="M1568.2 222.4L1565.7 219.7L1559.3 216.1L1559.5 208.5L1556.6 200.9L1560.1 198.5" stroke="#f01c2c" stroke-opacity="0.77" stroke-width="3.3"/>
<path d="M1850.7 209.3L1862.6 206.1L1867 205.8L1870.4 208.9" stroke="#f01c2c" stroke-opacity="0.77" stroke-width="3.3"/>
<path d="M1834 294.5L1830.8 292.4L1817.9 291.6" stroke="#f01c2c" stroke-opacity="0.77" stroke-width="3.3"/>
<path d="M1383.6 306.2L1374.9 310L1368.4 310.4" stroke="#f01c2c" stroke-opacity="0.77" stroke-width="5.1"/>
<path d="M1746.3 239.5L1751.5 236.3L1759.8 232.2L1759.6 225.2" stroke="#f01c2c" stroke-opacity="0.77" stroke-width="5.8"/>
<path d="M1748.3 304.4L1757.1 297L1754 290L1749.2 282.3L1756 274.2L1769.1 274.3" stroke="#f01c2c" stroke-opacity="0.77" stroke-width="3.9"/>
<path d="M1252.7 209.9L1243.1 205.5L1237.9 203.3L1226.4 204L1222.2 205.5" stroke="#f01c2c" stroke-opacity="0.77" stroke-width="4.9"/>
<path d="M1662.9 261.1L1663.3 255.1L1665.5 246L1657.5 241.7" stroke="#f01c2c" stroke-opacity="0.77" stroke-width="4.1"/>
<path d="M1325.9 213.4L1314.5 213.8L1306.1 208L1294 210.5" stroke="#f01c2c" stroke-opacity="0.77" stroke-width="3.8"/>
<path d="M1465.3 289.2L1461.3 291.9L1451.5 295.5" stroke="#f01c2c" stroke-opacity="0.77" stroke-width="5.9"/>
<path d="M1301 242.6L1293.6 245.7L1291 250.3L1289.9 253.3L1294.7 259.6" stroke="#f01c2c" stroke-opacity="0.77" stroke-width="5.8"/>
<path d="M1812.9 255.8L1805.4 248.3L1796.1 248.6L1789.6 249.6L1786.7 253.6L1781.6 255.3" stroke="#f01c2c" stroke-opacity="0.77" stroke-width="4.1"/>
<path d="M1497.9 294.2L1493.2 298.5L1485.8 299.6" stroke="#f01c2c" stroke-opacity="0.77" stroke-width="5.8"/>
<path d="M1777 237L1776 231.4L1776 225.5" stroke="#f01c2c" stroke-opacity="0.77" stroke-width="4"/>
<path d="M1771.6 289.4L1773.1 282.9L1774.1 278.8L1782.1 275.2L1782.7 271.5" stroke="#f01c2c" stroke-opacity="0.77" stroke-width="4"/>
<path d="M1713.1 290.3L1708.7 291.5L1697.8 285.7L1693.8 282" stroke="#f01c2c" stroke-opacity="0.77" stroke-width="3.4"/>
<path d="M1398.9 290.7L1407.4 294.2L1418.5 295.3L1430 300.2" stroke="#f01c2c" stroke-opacity="0.77" stroke-width="4.2"/>
<path d="M1444.8 269L1445.8 272.8L1443.8 280.5L1438.5 281.9" stroke="#f01c2c" stroke-opacity="0.77" stroke-width="4.2"/>
<path d="M1760.2 287.7L1759.1 279.7L1767.5 272.4L1774.6 269.1" stroke="#f01c2c" stroke-opacity="0.77" stroke-width="4.8"/>
<path d="M1475.9 257.6L1463 258.6L1450.7 260.1L1444.2 265.4L1441.3 269.4L1433.6 271.5" stroke="#f01c2c" stroke-opacity="0.77" stroke-width="3.9"/>
<path d="M1456.2 217.3L1455.6 213.9L1453.3 210.7L1451.8 206.7L1450.7 201.6" stroke="#f01c2c" stroke-opacity="0.77" stroke-width="4.3"/>
<path d="M1656 249.9L1650.1 248.7L1639 250.6L1635.4 258.9L1633.4 262.3L1624.9 268.6" stroke="#f01c2c" stroke-opacity="0.77" stroke-width="6.3"/>
<path d="M1631.6 231L1621.5 234.9L1620 239.9" stroke="#f01c2c" stroke-opacity="0.77" stroke-width="3.3"/>
<path d="M1473.5 257.3L1482.4 250.5L1485.9 245.8L1481.7 240.2" stroke="#f01c2c" stroke-opacity="0.77" stroke-width="6.3"/>
<path d="M1741.6 206.1L1732.7 208.6L1726.6 210.3L1716.1 211.4L1713.4 215.1L1715.7 222.5" stroke="#f01c2c" stroke-opacity="0.77" stroke-width="4.9"/>
<path d="M1357.4 299.5L1354.7 303.1L1350.5 305.1L1344.7 312.4" stroke="#f01c2c" stroke-opacity="0.77" stroke-width="3.8"/>
<path d="M1451.4 277.2L1462.9 281.9L1469.2 282.1L1480.2 284.4L1488.4 292.1L1495.9 295.9" stroke="#010004" stroke-width="3.4"/>
<path d="M1860.4 212L1854.5 209.8L1847.1 204.4L1845.5 198.8" stroke="#010004" stroke-width="2.4"/>
<path d="M1819 250.4L1828 251.1L1834.4 248.5L1844.4 247.4" stroke="#010004" stroke-width="1.6"/>
<path d="M1639.2 214.7L1642.1 219L1642.9 226.8L1644.9 235.7L1648.6 241.2L1645.5 244.7" stroke="#010004" stroke-width="0.9"/>
<path d="M1673.4 201.9L1665.2 207.9L1665.5 214.7L1667.9 217.7" stroke="#010004" stroke-width="1.6"/>
<path d="M1704.1 286.8L1703.2 294.3L1701.1 301.4L1705.4 304.1L1710.2 304.1" stroke="#010004" stroke-width="2"/>
<path d="M1777.8 242.2L1782.6 240.2L1785.6 233.1L1787.2 227.9" stroke="#010004" stroke-width="3.8"/>
<path d="M1578.7 221.3L1584.1 220.5L1592.3 214.5L1596.2 212.8" stroke="#010004" stroke-width="2.1"/>
<path d="M1604.6 294.7L1593.1 292.5L1588.1 291.5" stroke="#010004" stroke-width="1.7"/>
<path d="M1335.6 283.9L1347.8 281.5L1349.6 278.4L1346 274.4L1338.5 273.1L1332.2 272.1" stroke="#010004" stroke-width="3.1"/>
<path d="M1604.2 274L1603.7 278.9L1606.1 282.7L1598.7 290L1596.5 293.5L1587.5 295.5" stroke="#010004" stroke-width="0.9"/>
<path d="M1821.7 207.3L1821.4 210.8L1813.4 217.8L1814.3 222.5L1819.9 227L1822.1 232.6" stroke="#010004" stroke-width="0.9"/>
<path d="M1568.2 222.4L1565.7 219.7L1559.3 216.1L1559.5 208.5L1556.6 200.9L1560.1 198.5" stroke="#010004" stroke-width="0.8"/>
<path d="M1850.7 209.3L1862.6 206.1L1867 205.8L1870.4 208.9" stroke="#010004" stroke-width="0.8"/>
<path d="M1834 294.5L1830.8 292.4L1817.9 291.6" stroke="#010004" stroke-width="0.8"/>
<path d="M1383.6 306.2L1374.9 310L1368.4 310.4" stroke="#010004" stroke-width="2.6"/>
<path d="M1746.3 239.5L1751.5 236.3L1759.8 232.2L1759.6 225.2" stroke="#010004" stroke-width="3.3"/>
<path d="M1748.3 304.4L1757.1 297L1754 290L1749.2 282.3L1756 274.2L1769.1 274.3" stroke="#010004" stroke-width="1.4"/>
<path d="M1252.7 209.9L1243.1 205.5L1237.9 203.3L1226.4 204L1222.2 205.5" stroke="#010004" stroke-width="2.4"/>
<path d="M1662.9 261.1L1663.3 255.1L1665.5 246L1657.5 241.7" stroke="#010004" stroke-width="1.6"/>
<path d="M1325.9 213.4L1314.5 213.8L1306.1 208L1294 210.5" stroke="#010004" stroke-width="1.3"/>
<path d="M1465.3 289.2L1461.3 291.9L1451.5 295.5" stroke="#010004" stroke-width="3.4"/>
<path d="M1301 242.6L1293.6 245.7L1291 250.3L1289.9 253.3L1294.7 259.6" stroke="#010004" stroke-width="3.3"/>
<path d="M1812.9 255.8L1805.4 248.3L1796.1 248.6L1789.6 249.6L1786.7 253.6L1781.6 255.3" stroke="#010004" stroke-width="1.6"/>
<path d="M1497.9 294.2L1493.2 298.5L1485.8 299.6" stroke="#010004" stroke-width="3.3"/>
<path d="M1777 237L1776 231.4L1776 225.5" stroke="#010004" stroke-width="1.5"/>
<path d="M1771.6 289.4L1773.1 282.9L1774.1 278.8L1782.1 275.2L1782.7 271.5" stroke="#010004" stroke-width="1.5"/>
<path d="M1713.1 290.3L1708.7 291.5L1697.8 285.7L1693.8 282" stroke="#010004" stroke-width="0.9"/>
<path d="M1398.9 290.7L1407.4 294.2L1418.5 295.3L1430 300.2" stroke="#010004" stroke-width="1.7"/>
<path d="M1444.8 269L1445.8 272.8L1443.8 280.5L1438.5 281.9" stroke="#010004" stroke-width="1.7"/>
<path d="M1760.2 287.7L1759.1 279.7L1767.5 272.4L1774.6 269.1" stroke="#010004" stroke-width="2.3"/>
<path d="M1475.9 257.6L1463 258.6L1450.7 260.1L1444.2 265.4L1441.3 269.4L1433.6 271.5" stroke="#010004" stroke-width="1.4"/>
<path d="M1456.2 217.3L1455.6 213.9L1453.3 210.7L1451.8 206.7L1450.7 201.6" stroke="#010004" stroke-width="1.8"/>
<path d="M1656 249.9L1650.1 248.7L1639 250.6L1635.4 258.9L1633.4 262.3L1624.9 268.6" stroke="#010004" stroke-width="3.8"/>
<path d="M1631.6 231L1621.5 234.9L1620 239.9" stroke="#010004" stroke-width="0.8"/>
<path d="M1473.5 257.3L1482.4 250.5L1485.9 245.8L1481.7 240.2" stroke="#010004" stroke-width="3.8"/>
<path d="M1741.6 206.1L1732.7 208.6L1726.6 210.3L1716.1 211.4L1713.4 215.1L1715.7 222.5" stroke="#010004" stroke-width="2.4"/>
<path d="M1357.4 299.5L1354.7 303.1L1350.5 305.1L1344.7 312.4" stroke="#010004" stroke-width="1.3"/>
</g>
<g fill="none" stroke="#e0203c" stroke-opacity="0.55" stroke-width="0.9" filter="url(#soft2)">
<path d="M1403.3 256.1 Q1404.1 253.6 1413.1 259.9"/>
<path d="M1612.4 259.2 Q1600.4 262.1 1593.2 259.8"/>
<path d="M1381.2 268.5 Q1381 272.8 1373.3 276.9"/>
<path d="M1372.6 272.5 Q1376.4 275.2 1368.3 280.1"/>
<path d="M1634.1 293.7 Q1630.1 296.3 1617.2 309.9"/>
<path d="M1343.2 238.2 Q1342.2 237.4 1352.9 239.5"/>
<path d="M1420.5 209.5 Q1428.5 208.1 1447.5 215.3"/>
<path d="M1654.8 208.8 Q1665 222.5 1669.6 226"/>
<path d="M1261.8 219.3 Q1276.7 218.2 1286.9 226.7"/>
<path d="M1563.8 280.9 Q1556.3 294.3 1557.2 307.6"/>
<path d="M1457.9 265.2 Q1461.2 263 1467.1 268.2"/>
<path d="M1497.9 203.5 Q1501.2 212.3 1500.2 219.4"/>
<path d="M1424.1 217.3 Q1423.8 231.3 1432 236"/>
<path d="M1772.4 268.4 Q1777.4 268.7 1793.2 277.4"/>
<path d="M1568.4 295.5 Q1581 293.5 1590 297.3"/>
<path d="M1627.4 199.4 Q1625.2 211 1624.4 222.8"/>
<path d="M1775.3 278 Q1770.2 289.3 1775.6 295.7"/>
<path d="M1308.6 255.5 Q1306.9 264.5 1309.9 267"/>
<path d="M1452.6 294.2 Q1448.7 307.3 1452.7 314.8"/>
<path d="M1755.6 205.4 Q1754.8 210.8 1763.9 218.8"/>
<path d="M1300 296.6 Q1292.4 296.3 1292.4 296.6"/>
<path d="M1732.1 258 Q1717.9 259.6 1714.8 262.7"/>
<path d="M1576.6 289.9 Q1573.4 296.5 1570.7 297.9"/>
<path d="M1313.2 299.1 Q1318.4 302.9 1318.8 304.1"/>
<path d="M1462.1 227.6 Q1471.6 230.8 1474.6 236.6"/>
<path d="M1398.1 261.4 Q1395.5 263.7 1392.3 269"/>
<path d="M1580.1 242.4 Q1579.1 246.4 1575.5 257.9"/>
<path d="M1628.4 282 Q1639.8 280.6 1653.2 285.2"/>
<path d="M1290.1 201.5 Q1288 216.7 1296.7 224.9"/>
<path d="M1636 291.1 Q1648.9 297.6 1656.1 296.2"/>
</g>
<path d="M1232.5 163.4 L1232.5 184.4 L1236.5 183.9 L1240.5 184.4 L1243.6 184.3 L1246.8 185.2 L1249.9 184.2 L1253 184.4 L1256.1 184.8 L1259.2 185.5 L1262.4 185.3 L1265.5 187 L1268.6 186.4 L1271.8 187.2 L1274.9 188 L1278 186.9 L1281.1 188.3 L1284.2 188.2 L1287.4 188 L1290.5 188.4 L1293.6 188.4 L1296.8 189.6 L1299.9 188.3 L1303 188.4 L1306.1 188.2 L1309.2 189.8 L1312.4 188.7 L1315.5 189.8 L1318.6 189.7 L1321.8 190.1 L1324.9 188.5 L1328 188.8 L1331.1 190.4 L1334.2 188.2 L1337.4 189.4 L1340.5 189.4 L1343.6 190.1 L1346.8 189.5 L1349.9 189 L1353 189.9 L1356.1 191.6 L1359.2 190.9 L1362.4 190.8 L1365.5 190.4 L1368.6 192.7 L1371.8 192.2 L1374.9 191 L1378 192.7 L1381.1 193.4 L1384.2 193.1 L1387.4 193.3 L1390.5 193.4 L1393.8 193.3 L1397.2 191 L1400.5 190.9 L1403.8 189.8 L1407.2 189.7 L1410.5 188.4 L1413.6 189.1 L1416.8 188.8 L1419.9 189.3 L1423 188.7 L1426.1 188.4 L1429.2 188 L1432.4 187.6 L1435.5 187.6 L1438.6 188.3 L1441.8 187.8 L1444.9 188.6 L1448 187.6 L1451.1 188.3 L1454.2 187.4 L1457.4 188.4 L1460.5 188.4 L1463.6 188.3 L1466.8 188.9 L1469.9 188.4 L1473 187.8 L1476.1 188 L1479.2 187.8 L1482.4 188.6 L1485.5 188.2 L1488.6 189.6 L1491.8 189 L1494.9 188.5 L1498 188 L1501.1 189.2 L1504.2 189 L1507.4 189 L1510.5 188.4 L1513.6 188 L1516.8 189.3 L1519.9 188.9 L1523 189.6 L1526.1 189.8 L1529.2 189.3 L1532.4 189.9 L1535.5 189.8 L1538.6 188.8 L1541.8 188.3 L1544.9 190.3 L1548 188.4 L1551.1 189.1 L1554.2 188.3 L1557.4 189.5 L1560.5 189.4 L1563.6 190.1 L1566.7 189.7 L1569.7 190.1 L1572.8 189.7 L1575.9 190.7 L1579 190.1 L1582 190.8 L1585.1 189.9 L1588.2 191.5 L1591.3 190.9 L1594.3 190.9 L1597.4 192.4 L1600.5 191.4 L1603.6 191.1 L1606.7 192.1 L1609.7 190.7 L1612.8 192.6 L1615.9 190.6 L1619 191.8 L1622 191.1 L1625.1 192.4 L1628.2 192.5 L1631.3 191.3 L1634.3 193.1 L1637.4 192.7 L1640.5 192.4 L1643.5 192.2 L1646.5 191.8 L1649.5 192 L1652.5 193.8 L1655.5 193.1 L1658.5 193.9 L1661.5 194.4 L1664.5 194.9 L1667.5 194.1 L1670.5 194.4 L1673.5 194.5 L1676.5 194.8 L1679.5 195.8 L1682.5 194.7 L1685.5 196.1 L1688.5 195.8 L1691.5 195.3 L1694.5 196.2 L1697.5 195.1 L1700.5 196.4 L1703.6 196 L1706.7 196.9 L1709.7 194.9 L1712.8 194.9 L1715.9 195.7 L1719 196.7 L1722 194.4 L1725.1 195.1 L1728.2 194.3 L1731.3 193.9 L1734.3 195 L1737.4 194.8 L1740.5 194.4 L1743.6 193.9 L1746.8 193.4 L1749.9 193.2 L1753 193.5 L1756.1 194 L1759.2 194.7 L1762.4 194.1 L1765.5 194.1 L1768.6 193.1 L1771.8 193 L1774.9 193.9 L1778 194.2 L1781.1 193.8 L1784.2 194.4 L1787.4 192.4 L1790.5 193.4 L1793.6 194.3 L1796.8 194.2 L1799.9 194.4 L1803 194.4 L1806.1 194.3 L1809.2 193.2 L1812.4 194.8 L1815.5 194.2 L1818.6 194.3 L1821.8 194.7 L1824.9 193.2 L1828 195 L1831.1 195.1 L1834.2 195.2 L1837.4 193.2 L1840.5 194.4 L1843.5 193.6 L1846.5 195.4 L1849.5 193.7 L1852.5 193.6 L1855.5 195.2 L1858.5 195.8 L1861.5 193.9 L1864.5 194.1 L1867.5 194.9 L1871.6 195 L1875.7 194.9 L1875.7 163.4Z" fill="#020004" filter="url(#rag)"/>
</g>
<clipPath id="mc2"><rect x="1241.3" y="400.5" width="625.3" height="133.5"/></clipPath>
<g clip-path="url(#mc2)">
<rect x="1241.3" y="400.5" width="625.3" height="133.5" fill="#1a10a8" filter="url(#tex0)"/>
<rect x="1241.3" y="400.5" width="625.3" height="133.5" fill="#000" fill-opacity="0.15"/>
<g filter="url(#soft)" fill="#000" fill-opacity="0.7">
<path d="M1660 444.7 Q1656.9 443.2 1656 439.7 Q1655.1 436.2 1658.5 433.4 Q1661.8 430.5 1665.4 428.4 Q1669 426.3 1671.2 428.7 Q1673.4 431.2 1677.4 432.4 Q1681.3 433.6 1679.7 437.6 Q1678.1 441.6 1674.1 443.1 Q1670.1 444.7 1666.6 445.4 Q1663.1 446.1 1660 444.7Z"/>
<path d="M1692.8 483.7 Q1692.1 479.9 1692.2 477.3 Q1692.3 474.7 1693.8 471.4 Q1695.3 468.1 1699.6 466 Q1704 463.9 1709.7 462.9 Q1715.4 462 1718.3 465.5 Q1721.2 469.1 1717.6 474 Q1714 478.9 1709.3 482.7 Q1704.6 486.5 1699 487 Q1693.5 487.6 1692.8 483.7Z"/>
<path d="M1270.4 481.2 Q1271.1 483.7 1270.7 486.4 Q1270.2 489.1 1266.8 488.3 Q1263.3 487.4 1260.9 488.3 Q1258.4 489.2 1258.4 486.9 Q1258.3 484.6 1257.4 483 Q1256.4 481.4 1258.2 480.4 Q1260 479.5 1262.3 477.4 Q1264.5 475.4 1267.1 477.1 Q1269.6 478.8 1270.4 481.2Z"/>
<path d="M1804.1 464.7 Q1801.3 468.9 1798.4 465.3 Q1795.4 461.8 1795.2 457 Q1794.9 452.2 1794.1 447.2 Q1793.4 442.1 1796.4 440 Q1799.4 437.8 1801.9 439.3 Q1804.5 440.8 1807.4 442.1 Q1810.3 443.3 1808.7 447.7 Q1807.1 452.1 1807 456.4 Q1806.9 460.6 1804.1 464.7Z"/>
<path d="M1585.8 437.2 Q1584.4 437.3 1585 434.7 Q1585.5 432.1 1584.4 430 Q1583.4 427.9 1586.4 425.4 Q1589.5 422.9 1591 421.2 Q1592.5 419.4 1594.3 418.4 Q1596 417.3 1595 420.7 Q1594 424.1 1592.9 427.7 Q1591.8 431.2 1589.5 434.1 Q1587.2 437.1 1585.8 437.2Z"/>
<path d="M1598.9 491.8 Q1597.2 491.8 1596.3 490.4 Q1595.5 489 1595.5 486.1 Q1595.6 483.3 1598.4 482.6 Q1601.3 481.8 1602.9 480.5 Q1604.5 479.2 1606.2 479.2 Q1608 479.3 1606.7 481.9 Q1605.4 484.5 1605.4 487.2 Q1605.4 489.9 1603 490.9 Q1600.6 491.8 1598.9 491.8Z"/>
<path d="M1425.4 458.1 Q1422.7 458.3 1422.9 456.4 Q1423.2 454.6 1428.7 450.5 Q1434.2 446.5 1439 444.2 Q1443.9 442 1448.1 440.1 Q1452.2 438.3 1455 438.2 Q1457.8 438 1451.1 442.4 Q1444.4 446.8 1441.3 450.2 Q1438.3 453.6 1433.2 455.7 Q1428.1 457.8 1425.4 458.1Z"/>
<path d="M1371.1 536 Q1370.2 536.9 1368.2 535.6 Q1366.2 534.2 1364.6 534 Q1363.1 533.8 1361.4 531.4 Q1359.8 529.1 1359.4 527.5 Q1359.1 525.9 1358.9 524.1 Q1358.8 522.3 1361.1 523.7 Q1363.4 525 1366.1 527.1 Q1368.9 529.2 1370.5 532.2 Q1372 535.2 1371.1 536Z"/>
<path d="M1790.6 527.8 Q1793.3 529.9 1792 532.1 Q1790.6 534.3 1785.7 535.6 Q1780.7 536.9 1775 534.2 Q1769.3 531.6 1766.6 528.8 Q1763.8 526.1 1767.1 524.7 Q1770.4 523.4 1771.3 520.9 Q1772.2 518.5 1776.9 520.8 Q1781.6 523.1 1784.7 524.3 Q1787.8 525.6 1790.6 527.8Z"/>
<path d="M1282 507.7 Q1287.2 510.8 1281.6 511.1 Q1276.1 511.4 1272.6 513.2 Q1269.1 515 1263.2 512.7 Q1257.2 510.3 1252.2 506.8 Q1247.1 503.3 1252.7 502 Q1258.2 500.6 1260.9 499.7 Q1263.6 498.7 1268 499.3 Q1272.4 499.9 1274.7 502.2 Q1276.9 504.6 1282 507.7Z"/>
<path d="M1839.7 493.6 Q1840.8 496.4 1838 497.5 Q1835.3 498.7 1833.6 498.1 Q1831.9 497.6 1829.3 498.5 Q1826.7 499.3 1826.9 496.7 Q1827 494.1 1827 491.6 Q1826.9 489.2 1829 487.4 Q1831 485.5 1832.7 487.7 Q1834.4 489.8 1836.5 490.3 Q1838.6 490.9 1839.7 493.6Z"/>
<path d="M1845.3 449.5 Q1845.4 453.3 1843.6 456.4 Q1841.8 459.5 1838.5 461.3 Q1835.3 463 1832 461.4 Q1828.7 459.7 1827.9 456.4 Q1827 453.1 1827.9 450.3 Q1828.8 447.4 1830.8 445.4 Q1832.8 443.4 1835.7 443 Q1838.6 442.7 1841.9 444.2 Q1845.2 445.6 1845.3 449.5Z"/>
<path d="M1347 483.8 Q1347.8 486.4 1345.1 486.8 Q1342.3 487.2 1339 486.6 Q1335.6 486 1333.5 483.5 Q1331.3 481 1329.4 478.9 Q1327.4 476.7 1329.3 476.1 Q1331.1 475.5 1333 475.5 Q1334.9 475.6 1337.1 476.6 Q1339.3 477.7 1342.8 479.5 Q1346.2 481.3 1347 483.8Z"/>
<path d="M1771.7 497.8 Q1770.7 498.2 1769.5 498.8 Q1768.3 499.3 1768.3 494.7 Q1768.4 490 1768.7 486.2 Q1769.1 482.4 1769.9 476.2 Q1770.6 469.9 1772 472.1 Q1773.4 474.3 1773.7 478.5 Q1774.1 482.7 1774.4 486.8 Q1774.7 490.9 1773.7 494.1 Q1772.7 497.3 1771.7 497.8Z"/>
<path d="M1734.1 484.1 Q1730.8 484.3 1729.4 481.3 Q1727.9 478.3 1730.6 473.6 Q1733.3 468.9 1734.3 463.2 Q1735.2 457.5 1739.1 456 Q1742.9 454.5 1744 457.7 Q1745.2 460.9 1746.5 463.5 Q1747.8 466 1746.9 471.9 Q1746.1 477.7 1741.8 480.8 Q1737.4 483.9 1734.1 484.1Z"/>
<path d="M1590.4 489 Q1588 490.2 1585.8 489.4 Q1583.6 488.5 1582.8 487 Q1582.1 485.6 1580.1 483.7 Q1578.2 481.8 1581 480.9 Q1583.9 480 1585.7 479.7 Q1587.5 479.3 1589.6 479.6 Q1591.6 480 1593.9 481.6 Q1596.1 483.2 1594.5 485.5 Q1592.8 487.8 1590.4 489Z"/>
<path d="M1335 441 Q1335.4 442.3 1335.8 444.5 Q1336.1 446.8 1332.4 444.7 Q1328.7 442.5 1325.2 439.1 Q1321.7 435.7 1320.9 433.2 Q1320 430.8 1322.7 431.7 Q1325.4 432.7 1326.7 432.7 Q1328 432.6 1331.2 434.2 Q1334.5 435.7 1334.5 437.7 Q1334.6 439.8 1335 441Z"/>
<path d="M1551.4 519.5 Q1549.2 520.6 1548.9 517.9 Q1548.7 515.2 1547.2 513 Q1545.8 510.9 1548.4 509.7 Q1551 508.5 1552.5 507.6 Q1553.9 506.7 1555.5 506.9 Q1557.1 507.1 1557.3 509.1 Q1557.6 511 1557.5 513.4 Q1557.4 515.7 1555.5 517.1 Q1553.6 518.5 1551.4 519.5Z"/>
<path d="M1704.8 521.2 Q1706.6 525.9 1702.9 527.8 Q1699.2 529.6 1693.9 527.5 Q1688.6 525.4 1686.8 520.3 Q1684.9 515.3 1682.2 510 Q1679.6 504.8 1684.3 504.4 Q1689.1 503.9 1692.9 501.8 Q1696.7 499.7 1701 504.2 Q1705.2 508.6 1704.1 512.6 Q1703 516.5 1704.8 521.2Z"/>
<path d="M1804.4 517.9 Q1801.1 514.9 1801.3 510.4 Q1801.6 505.8 1804.8 502.4 Q1808 499 1812.1 500.8 Q1816.1 502.6 1820.1 502.3 Q1824.1 502 1822.7 505.8 Q1821.3 509.6 1822.3 513 Q1823.3 516.5 1819.6 516.9 Q1815.9 517.4 1811.9 519.2 Q1807.8 521 1804.4 517.9Z"/>
<path d="M1802.9 451.7 Q1801.8 449.9 1804.3 448.5 Q1806.7 447.1 1808.7 445.2 Q1810.7 443.4 1814.7 443.8 Q1818.8 444.2 1821.6 445.3 Q1824.5 446.3 1824.3 448.2 Q1824.1 450 1821 451 Q1817.8 452 1815.1 452.3 Q1812.3 452.7 1808.1 453.1 Q1804 453.4 1802.9 451.7Z"/>
<path d="M1332.2 470.5 Q1331.2 473.6 1328.3 474.3 Q1325.3 475 1322.6 475.4 Q1319.9 475.7 1314.6 475.2 Q1309.3 474.7 1308.9 470.2 Q1308.4 465.7 1312.5 464.6 Q1316.6 463.5 1318.3 459.1 Q1319.9 454.7 1323.5 458.6 Q1327.2 462.5 1330.2 465 Q1333.3 467.5 1332.2 470.5Z"/>
<path d="M1734.4 461.2 Q1731.7 462.1 1731.6 458.3 Q1731.5 454.5 1729.4 452.5 Q1727.4 450.5 1729.6 447.8 Q1731.8 445 1733.9 444 Q1735.9 443 1736.9 444.7 Q1738 446.4 1740.1 447.1 Q1742.2 447.9 1740.3 450.3 Q1738.3 452.8 1737.7 456.5 Q1737.1 460.2 1734.4 461.2Z"/>
<path d="M1419.1 522.8 Q1419.9 526.2 1417 525.6 Q1414.2 525.1 1411 522.4 Q1407.8 519.7 1403.3 515.5 Q1398.9 511.2 1400.6 508.9 Q1402.3 506.6 1403.6 505.5 Q1405 504.4 1407.7 504.2 Q1410.4 504.1 1413.5 508.5 Q1416.5 512.9 1417.5 516.2 Q1418.4 519.4 1419.1 522.8Z"/>
<path d="M1506.2 445 Q1503.7 446.3 1500.7 445.8 Q1497.7 445.4 1497 443.3 Q1496.3 441.2 1496.7 439.5 Q1497.2 437.8 1499 436.9 Q1500.7 436 1503.3 434.1 Q1505.8 432.2 1507.7 434.1 Q1509.6 436 1511.8 437.9 Q1513.9 439.9 1511.3 441.8 Q1508.7 443.6 1506.2 445Z"/>
<path d="M1737.5 528.6 Q1738 531.5 1735.1 532.3 Q1732.2 533 1729.4 533.3 Q1726.7 533.7 1723.1 532.3 Q1719.5 531 1718.4 527.3 Q1717.2 523.7 1720.2 521.9 Q1723.2 520.1 1725.8 518.4 Q1728.4 516.8 1731.5 518.5 Q1734.7 520.2 1735.9 522.9 Q1737.1 525.7 1737.5 528.6Z"/>
<path d="M1299.6 435.7 Q1297 436.6 1295.5 437.4 Q1293.9 438.1 1292.1 437.5 Q1290.3 436.8 1288.2 435.2 Q1286.2 433.5 1286.6 430.8 Q1287 428 1289.2 426.4 Q1291.3 424.8 1293.9 425.5 Q1296.4 426.3 1297 428.6 Q1297.5 430.9 1299.8 432.8 Q1302.1 434.8 1299.6 435.7Z"/>
<path d="M1740.6 443 Q1741.5 446.2 1738.3 446.7 Q1735.1 447.2 1732.4 446.5 Q1729.6 445.7 1728.5 443.4 Q1727.5 441 1726.8 438.9 Q1726.1 436.8 1727.1 434.8 Q1728.1 432.8 1730.7 431.8 Q1733.2 430.8 1735.2 433.2 Q1737.1 435.6 1738.4 437.7 Q1739.6 439.7 1740.6 443Z"/>
<path d="M1450 489 Q1447.9 490.8 1446 489.2 Q1444 487.6 1443.6 483.8 Q1443.2 480 1445.2 477.3 Q1447.2 474.7 1448.6 471.1 Q1450 467.5 1451.2 470.7 Q1452.4 473.8 1453.3 475.1 Q1454.2 476.4 1453.9 478.7 Q1453.5 481.1 1452.9 484.1 Q1452.2 487.2 1450 489Z"/>
<path d="M1401 463.8 Q1398.7 464.3 1396.1 462.7 Q1393.4 461.1 1391.9 458.3 Q1390.4 455.5 1392 452.9 Q1393.5 450.4 1397.2 451.9 Q1401 453.5 1404.4 453.2 Q1407.8 452.9 1408.9 455.7 Q1410.1 458.6 1409.9 461.2 Q1409.7 463.8 1406.5 463.5 Q1403.3 463.3 1401 463.8Z"/>
<path d="M1851.2 471 Q1849.3 473.2 1846.6 473.6 Q1843.9 474 1841.2 473.4 Q1838.6 472.7 1837.6 470.2 Q1836.5 467.7 1837.9 465 Q1839.2 462.4 1842 461.9 Q1844.7 461.4 1847 461.2 Q1849.2 461 1850.7 462.6 Q1852.1 464.2 1852.5 466.5 Q1853 468.8 1851.2 471Z"/>
<path d="M1629.4 498.5 Q1627 500.5 1623.9 500.8 Q1620.7 501.1 1618.5 497.8 Q1616.4 494.4 1616.6 491.3 Q1616.8 488.1 1617.9 486.2 Q1619 484.3 1620.5 481 Q1622.1 477.7 1625.4 479.5 Q1628.7 481.3 1630.3 485.1 Q1632 488.8 1631.9 492.7 Q1631.8 496.5 1629.4 498.5Z"/>
<path d="M1583.2 519.1 Q1581.6 521.8 1581.2 517.7 Q1580.7 513.7 1580.1 510.9 Q1579.5 508.1 1580.8 505.3 Q1582 502.4 1582.8 498.5 Q1583.6 494.6 1584.6 496 Q1585.6 497.3 1587 498.3 Q1588.4 499.3 1587.5 504 Q1586.6 508.7 1585.7 512.6 Q1584.8 516.4 1583.2 519.1Z"/>
<path d="M1443.1 476 Q1439.4 481 1440.2 475 Q1441.1 469.1 1440.6 466.1 Q1440.2 463.1 1441.5 457.2 Q1442.9 451.4 1446.5 449.7 Q1450 448.1 1453 448.4 Q1456 448.8 1456 453.6 Q1456 458.5 1454.6 463.9 Q1453.2 469.3 1449.9 470.2 Q1446.7 471.1 1443.1 476Z"/>
<path d="M1311.6 522.5 Q1310.6 526.8 1307.9 525.1 Q1305.3 523.5 1304.6 517.5 Q1303.9 511.4 1301.8 505.9 Q1299.7 500.3 1301 495.8 Q1302.4 491.3 1305 494.4 Q1307.7 497.4 1309.6 499.3 Q1311.5 501.3 1311.7 505.6 Q1311.9 510 1312.2 514.1 Q1312.6 518.2 1311.6 522.5Z"/>
<path d="M1374.3 470.7 Q1371 474.2 1367.6 469.2 Q1364.2 464.2 1360.4 463.2 Q1356.6 462.2 1354.7 456.7 Q1352.8 451.2 1357.6 450.4 Q1362.3 449.7 1364.5 448.6 Q1366.7 447.5 1369.7 448.3 Q1372.8 449 1373.5 452.9 Q1374.2 456.7 1375.9 462 Q1377.6 467.2 1374.3 470.7Z"/>
<path d="M1565.9 435.7 Q1563.9 433.8 1561.3 433.6 Q1558.7 433.5 1559.7 430.1 Q1560.6 426.7 1561.8 423.8 Q1563 420.9 1565.3 420.2 Q1567.7 419.5 1570.6 418.8 Q1573.6 418.2 1572.2 422.3 Q1570.9 426.3 1571.8 429.3 Q1572.7 432.2 1570.3 434.9 Q1567.9 437.7 1565.9 435.7Z"/>
<path d="M1835.9 435.6 Q1834.2 434 1834.8 431.7 Q1835.4 429.4 1836.7 427.3 Q1838.1 425.2 1840.7 424.7 Q1843.4 424.3 1846.4 424.3 Q1849.4 424.3 1849.2 426.9 Q1849.1 429.4 1848.1 431.4 Q1847.1 433.3 1845 434 Q1842.9 434.7 1840.3 436 Q1837.7 437.3 1835.9 435.6Z"/>
<path d="M1307.4 484.1 Q1304.6 484.5 1303.1 482.1 Q1301.7 479.7 1301.1 477.2 Q1300.5 474.8 1303 474.1 Q1305.5 473.4 1307.1 472.5 Q1308.8 471.7 1310 473.2 Q1311.2 474.8 1313.2 476.1 Q1315.3 477.3 1314.3 479.1 Q1313.3 480.9 1311.7 482.3 Q1310.1 483.7 1307.4 484.1Z"/>
<path d="M1254.7 539.6 Q1253.9 537.8 1254.2 535.7 Q1254.6 533.6 1259.1 530.5 Q1263.6 527.5 1269.3 524.1 Q1274.9 520.7 1275.6 522.8 Q1276.3 524.9 1280.9 524.2 Q1285.5 523.5 1282 526.9 Q1278.4 530.3 1273.1 533.3 Q1267.8 536.3 1261.7 538.9 Q1255.5 541.5 1254.7 539.6Z"/>
<path d="M1837.2 435.2 Q1834.4 435.8 1831.9 434 Q1829.5 432.2 1828.1 429.3 Q1826.7 426.5 1829.7 425.1 Q1832.6 423.7 1834.4 422.7 Q1836.1 421.7 1838.4 422.1 Q1840.6 422.5 1842.7 424.2 Q1844.8 425.9 1844.7 428.7 Q1844.7 431.5 1842.4 433 Q1840 434.6 1837.2 435.2Z"/>
<path d="M1449.9 496.1 Q1448.8 494.4 1450.7 493.2 Q1452.5 492 1453.7 490.9 Q1455 489.8 1456.8 490.1 Q1458.7 490.4 1460.3 491.3 Q1462 492.1 1463.1 493.8 Q1464.1 495.6 1462.3 497.2 Q1460.5 498.8 1458.1 497.8 Q1455.7 496.8 1453.4 497.2 Q1451 497.7 1449.9 496.1Z"/>
<path d="M1842.4 477.4 Q1843.9 481.1 1841.2 479.3 Q1838.4 477.4 1836.7 475.8 Q1834.9 474.1 1833.4 472 Q1831.9 469.8 1830.4 466.5 Q1829 463.1 1832 464.9 Q1835 466.6 1836.2 467.2 Q1837.4 467.8 1839.8 468.8 Q1842.2 469.8 1841.5 471.7 Q1840.8 473.6 1842.4 477.4Z"/>
<path d="M1401.1 479 Q1399.3 479 1397.7 478.1 Q1396.1 477.2 1396.1 473.7 Q1396.1 470.2 1398.8 466.7 Q1401.5 463.3 1404.5 461.2 Q1407.6 459.1 1407.7 462.7 Q1407.9 466.4 1408.8 468 Q1409.6 469.5 1408.7 472.9 Q1407.8 476.2 1405.3 477.6 Q1402.8 479 1401.1 479Z"/>
<path d="M1445 444 Q1440 443.5 1437.2 444.6 Q1434.5 445.6 1433.5 443.1 Q1432.6 440.7 1429.2 438.2 Q1425.9 435.8 1429.8 434.2 Q1433.7 432.5 1436.4 430.1 Q1439.2 427.8 1443.8 427.9 Q1448.3 428.1 1448.5 432.2 Q1448.6 436.3 1449.3 440.4 Q1450 444.4 1445 444Z"/>
<path d="M1563.3 452.9 Q1562 454 1561 453.2 Q1560.1 452.3 1561.1 449 Q1562.1 445.6 1563 443 Q1563.8 440.3 1565.6 436.6 Q1567.3 432.8 1568.4 434.1 Q1569.5 435.3 1569.8 438 Q1570 440.7 1568.6 444.1 Q1567.1 447.5 1565.9 449.7 Q1564.6 451.9 1563.3 452.9Z"/>
<path d="M1525 440.7 Q1525.1 442.1 1524.4 443.2 Q1523.6 444.4 1519.8 443.5 Q1516 442.7 1510.4 441.3 Q1504.8 439.9 1502.8 437.2 Q1500.8 434.6 1501.7 433 Q1502.5 431.5 1505.5 430.6 Q1508.4 429.7 1513.7 432.6 Q1519 435.4 1521.9 437.4 Q1524.9 439.3 1525 440.7Z"/>
<path d="M1681.8 491.2 Q1678.8 492.1 1680.5 489.8 Q1682.2 487.5 1683.2 485.2 Q1684.2 482.9 1687.6 481.8 Q1691 480.8 1692.7 480.7 Q1694.5 480.5 1697.1 480.3 Q1699.8 480 1696.3 482.6 Q1692.8 485.3 1691 486.7 Q1689.1 488.1 1686.9 489.2 Q1684.7 490.3 1681.8 491.2Z"/>
<path d="M1542.8 485.4 Q1541.5 482.2 1541.5 478.9 Q1541.6 475.7 1545.9 473.9 Q1550.2 472.1 1553.8 471.5 Q1557.4 470.9 1561.6 471.2 Q1565.8 471.5 1566.1 474.6 Q1566.5 477.7 1563.5 480.1 Q1560.5 482.5 1557.5 485.5 Q1554.4 488.5 1549.3 488.6 Q1544.2 488.6 1542.8 485.4Z"/>
<path d="M1804 464.2 Q1802.3 463.2 1800.8 465.6 Q1799.2 467.9 1798.6 461 Q1798 454.1 1797.4 449.6 Q1796.8 445.1 1797.8 443.5 Q1798.7 442 1799.6 436.9 Q1800.4 431.7 1802.4 436.1 Q1804.4 440.6 1804.3 446.9 Q1804.2 453.3 1805 459.3 Q1805.7 465.2 1804 464.2Z"/>
<path d="M1343.6 532.8 Q1346.8 536.1 1343.7 535.6 Q1340.7 535.1 1337.1 533.4 Q1333.5 531.8 1331.2 529 Q1328.9 526.3 1324.6 522.8 Q1320.3 519.3 1321.3 517.7 Q1322.2 516.1 1326.2 517.5 Q1330.3 518.9 1334.9 521.6 Q1339.6 524.3 1340 526.9 Q1340.5 529.4 1343.6 532.8Z"/>
<path d="M1469.5 513.4 Q1471.3 510 1471.3 507.6 Q1471.4 505.1 1475.2 502.8 Q1479 500.5 1485.4 500.5 Q1491.7 500.5 1496.2 503.1 Q1500.7 505.7 1501.2 509.5 Q1501.6 513.2 1495.3 514.6 Q1489.1 516 1484 518.5 Q1478.9 521 1473.3 518.9 Q1467.7 516.8 1469.5 513.4Z"/>
</g>
<g fill="#000" fill-opacity="0.92" stroke="#f01c2c" stroke-opacity="0.6" stroke-width="1.5" filter="url(#soft2)">
<path d="M1813.8 488.7 Q1814 489.3 1813.6 489.6 Q1813.2 490 1812.4 490.3 Q1811.7 490.6 1810.8 490.2 Q1809.9 489.8 1809.3 489.2 Q1808.7 488.6 1809.6 488.3 Q1810.5 488.1 1810.5 487.3 Q1810.6 486.5 1811.6 486.7 Q1812.7 486.9 1813.1 487.6 Q1813.5 488.2 1813.8 488.7Z"/>
<path d="M1349.2 493.2 Q1348.3 492.4 1349.4 491.6 Q1350.5 490.7 1352.1 490.6 Q1353.6 490.4 1355.2 489.8 Q1356.9 489.2 1358 489.9 Q1359.2 490.5 1359.9 491.5 Q1360.7 492.4 1359 493.2 Q1357.3 493.9 1355.5 494 Q1353.7 494 1351.9 494 Q1350.1 494 1349.2 493.2Z"/>
<path d="M1841.2 523.7 Q1840.1 523.8 1839.7 524 Q1839.2 524.2 1838 524.1 Q1836.7 524 1835.4 522.5 Q1834.1 521 1834.4 520.4 Q1834.6 519.9 1834.7 519.4 Q1834.8 519 1835.5 518.8 Q1836.1 518.5 1837.9 519.5 Q1839.6 520.4 1840.9 522 Q1842.2 523.6 1841.2 523.7Z"/>
<path d="M1755 489.2 Q1754.9 488.7 1755 488.3 Q1755.2 487.8 1755.4 487.3 Q1755.5 486.7 1756.3 486.5 Q1757.1 486.3 1757.6 486.2 Q1758.2 486.1 1758.3 486.4 Q1758.3 486.8 1758.1 487.2 Q1758 487.6 1757.5 488.3 Q1757 488.9 1756.1 489.3 Q1755.1 489.7 1755 489.2Z"/>
<path d="M1798.3 428.4 Q1799.7 429.6 1799.4 430.9 Q1799 432.2 1795.8 432.5 Q1792.5 432.7 1789.8 431.2 Q1787 429.6 1785.2 428.4 Q1783.4 427.2 1782.5 425.7 Q1781.7 424.1 1783.7 422.9 Q1785.7 421.6 1790.4 422.3 Q1795.1 423 1796 425.1 Q1796.8 427.2 1798.3 428.4Z"/>
<path d="M1798.9 465.3 Q1799.5 467.5 1796.6 467 Q1793.8 466.5 1791.1 466.3 Q1788.5 466.1 1786.2 463.6 Q1783.9 461 1782.3 458.9 Q1780.8 456.8 1781.4 455.5 Q1782.1 454.2 1784.9 455.1 Q1787.6 456 1790 457.4 Q1792.3 458.9 1795.4 461 Q1798.4 463.1 1798.9 465.3Z"/>
<path d="M1633.6 456.5 Q1634.1 456.9 1633.8 457.1 Q1633.5 457.3 1632.8 457 Q1632 456.7 1631.5 456.4 Q1631 456.1 1630.2 455.7 Q1629.4 455.2 1629.6 455 Q1629.9 454.7 1630.5 454.7 Q1631.2 454.7 1632 455 Q1632.8 455.3 1632.9 455.7 Q1633.1 456.1 1633.6 456.5Z"/>
<path d="M1412.7 519.7 Q1412.4 520.1 1412 520.2 Q1411.5 520.4 1410.5 519.6 Q1409.5 518.8 1408.9 517.9 Q1408.3 517 1408.2 516.5 Q1408.2 516 1408.3 515.8 Q1408.4 515.6 1408.8 515.4 Q1409.2 515.1 1410.1 516.2 Q1411 517.2 1412 518.3 Q1413 519.4 1412.7 519.7Z"/>
<path d="M1765.7 528.2 Q1764.6 529 1763.7 527.3 Q1762.7 525.5 1761.9 524 Q1761.1 522.5 1761 520.3 Q1760.9 518.1 1761.5 517 Q1762.1 515.8 1762.9 515 Q1763.7 514.1 1764.6 515.8 Q1765.5 517.4 1766.5 519.8 Q1767.6 522.2 1767.1 524.8 Q1766.7 527.4 1765.7 528.2Z"/>
<path d="M1372.9 517.8 Q1372.9 518.2 1372.5 518.4 Q1372.2 518.6 1371.4 517.8 Q1370.6 517.1 1369.8 516.5 Q1369.1 515.9 1368.6 515.1 Q1368.1 514.3 1368.6 514.3 Q1369.2 514.4 1369.7 514.4 Q1370.2 514.4 1371 515.2 Q1371.7 516 1372.3 516.7 Q1372.9 517.4 1372.9 517.8Z"/>
<path d="M1274.8 447.5 Q1273.9 447.2 1273.5 446.4 Q1273 445.7 1273 444.6 Q1273 443.5 1273.8 442.7 Q1274.6 441.9 1275.3 441.8 Q1276 441.8 1276.4 442.2 Q1276.7 442.6 1276.9 443.2 Q1277.2 443.7 1277.2 444.6 Q1277.2 445.5 1276.4 446.6 Q1275.7 447.8 1274.8 447.5Z"/>
<path d="M1688.9 436.7 Q1689.9 439 1686.6 439.3 Q1683.2 439.5 1680.6 439.7 Q1678 439.8 1675.9 438.2 Q1673.7 436.6 1671.9 435.2 Q1670.1 433.8 1668.8 431.7 Q1667.6 429.6 1670.6 429 Q1673.6 428.5 1677.4 429.6 Q1681.2 430.7 1684.6 432.6 Q1688 434.4 1688.9 436.7Z"/>
<path d="M1802.4 522.2 Q1802.3 522.4 1802.1 522.4 Q1801.9 522.5 1801.6 521.9 Q1801.3 521.2 1801.2 520.6 Q1801.2 519.9 1801 519.1 Q1800.8 518.2 1801.1 518.2 Q1801.3 518.2 1801.6 519.1 Q1801.9 519.9 1802.2 520.4 Q1802.5 520.9 1802.5 521.5 Q1802.6 522.1 1802.4 522.2Z"/>
<path d="M1682.3 513 Q1681.7 513 1680.8 514.6 Q1679.8 516.2 1679.4 513.3 Q1678.9 510.4 1678.4 507.6 Q1677.9 504.9 1679 504.5 Q1680 504.2 1680.7 503.9 Q1681.3 503.7 1681.9 504.9 Q1682.6 506.2 1683.4 508.1 Q1684.3 510 1683.6 511.4 Q1682.9 512.9 1682.3 513Z"/>
<path d="M1707.7 451.6 Q1706.2 454.9 1703.3 452.7 Q1700.4 450.6 1699.3 447.4 Q1698.2 444.2 1696.1 440.7 Q1694 437.2 1696 434.8 Q1697.9 432.4 1700.3 431.7 Q1702.6 431 1705.4 432.4 Q1708.1 433.8 1709.7 437.8 Q1711.3 441.7 1710.3 445 Q1709.2 448.4 1707.7 451.6Z"/>
<path d="M1407.3 514.4 Q1407.1 515 1406.4 515.1 Q1405.8 515.1 1405.4 514.2 Q1405.1 513.3 1405 512.8 Q1404.8 512.3 1404.9 511.9 Q1405 511.6 1405.2 511 Q1405.4 510.5 1405.9 510.9 Q1406.5 511.2 1407.2 511.7 Q1407.9 512.2 1407.7 513 Q1407.5 513.8 1407.3 514.4Z"/>
<path d="M1708 511.9 Q1707.5 511.4 1707.9 510.8 Q1708.4 510.2 1709.2 509.8 Q1709.9 509.5 1710.8 509.4 Q1711.7 509.4 1712.1 509.9 Q1712.4 510.4 1712.7 511 Q1713 511.5 1712.5 512.1 Q1712.1 512.7 1711.2 512.4 Q1710.3 512 1709.4 512.2 Q1708.5 512.4 1708 511.9Z"/>
<path d="M1424.3 445.3 Q1423.2 447.4 1420.7 447.6 Q1418.2 447.8 1414.7 446.3 Q1411.2 444.7 1409.8 441.6 Q1408.5 438.5 1406.7 435.9 Q1405 433.4 1404.2 430 Q1403.5 426.5 1407.9 429.6 Q1412.3 432.7 1415.7 434.2 Q1419.1 435.8 1422.3 439.5 Q1425.5 443.2 1424.3 445.3Z"/>
<path d="M1438.7 452.6 Q1438.3 453.9 1437.3 453.5 Q1436.2 453 1436 451.6 Q1435.7 450.2 1435.3 449 Q1434.9 447.8 1435.6 447.1 Q1436.3 446.4 1437.2 445.2 Q1438 443.9 1439.2 445.1 Q1440.3 446.2 1440.1 447.9 Q1440 449.6 1439.5 450.4 Q1439 451.2 1438.7 452.6Z"/>
<path d="M1318.3 518 Q1317 517.9 1316.3 516.7 Q1315.6 515.5 1315.5 514 Q1315.4 512.6 1315.2 510.3 Q1315 507.9 1316.4 507.4 Q1317.7 506.8 1319.1 506.2 Q1320.4 505.6 1320.4 508 Q1320.3 510.4 1320.9 512.2 Q1321.4 514 1320.5 516.1 Q1319.5 518.2 1318.3 518Z"/>
<path d="M1427.9 494.3 Q1427.2 495.5 1427.2 494.3 Q1427.1 493.2 1427 492.4 Q1427 491.6 1427.3 490.6 Q1427.7 489.6 1428.3 488.7 Q1428.8 487.8 1429 488.6 Q1429.3 489.4 1429.5 489.9 Q1429.8 490.3 1429.6 491.2 Q1429.3 492.1 1428.9 492.7 Q1428.5 493.2 1427.9 494.3Z"/>
<path d="M1735.4 514.9 Q1734.7 516.9 1733.2 516.4 Q1731.6 515.9 1731.1 513.1 Q1730.6 510.3 1729.6 507.8 Q1728.7 505.2 1729.4 502.7 Q1730.2 500.1 1731.8 501.7 Q1733.5 503.3 1734.6 504.3 Q1735.7 505.3 1736.3 507.4 Q1736.8 509.4 1736.5 511.2 Q1736.1 512.9 1735.4 514.9Z"/>
<path d="M1656.6 529.2 Q1656.8 530.1 1656.6 531 Q1656.4 531.9 1655 531.6 Q1653.7 531.4 1653 531.1 Q1652.4 530.8 1651.5 530.4 Q1650.6 530.1 1650.9 529.5 Q1651.3 528.9 1651.5 527.9 Q1651.7 527 1652.9 527.4 Q1654.1 527.9 1655.2 528.1 Q1656.4 528.4 1656.6 529.2Z"/>
<path d="M1815.6 451.3 Q1812.2 451.7 1815.5 449.9 Q1818.8 448.1 1819.9 446.7 Q1820.9 445.4 1824 444.6 Q1827.1 443.9 1828.7 444.2 Q1830.2 444.5 1830.3 445.3 Q1830.4 446.1 1830 447.3 Q1829.6 448.5 1826.4 449.4 Q1823.1 450.3 1821 450.6 Q1818.9 450.8 1815.6 451.3Z"/>
<path d="M1594.7 522.9 Q1593.8 522.8 1593.7 522.1 Q1593.7 521.3 1594.6 520.6 Q1595.5 519.9 1596.6 518.6 Q1597.8 517.3 1599.2 517.4 Q1600.7 517.5 1599.9 518.9 Q1599 520.3 1599.6 521.2 Q1600.3 522 1598.7 522.3 Q1597.1 522.6 1596.3 522.8 Q1595.5 523 1594.7 522.9Z"/>
<path d="M1347.9 439.6 Q1347.9 441.8 1345 439.5 Q1342.1 437.3 1340.5 435.9 Q1338.8 434.5 1336.7 432.3 Q1334.6 430.1 1333.5 427.5 Q1332.4 424.9 1332.1 422 Q1331.8 419.1 1335.4 422.3 Q1338.9 425.6 1340.8 428.5 Q1342.7 431.3 1345.3 434.4 Q1347.9 437.4 1347.9 439.6Z"/>
<path d="M1613.1 476.4 Q1609.7 477.4 1611.9 474.5 Q1614.1 471.6 1614.1 469.2 Q1614 466.7 1617.3 465.4 Q1620.7 464 1623.2 464.1 Q1625.7 464.1 1626.7 465.6 Q1627.6 467.1 1625.5 469.3 Q1623.3 471.4 1621.8 472.8 Q1620.4 474.2 1618.5 474.8 Q1616.6 475.3 1613.1 476.4Z"/>
<path d="M1240.4 485.7 Q1239.8 486.3 1239.7 485.9 Q1239.7 485.5 1240.2 484.7 Q1240.8 483.9 1241.2 483.5 Q1241.6 483.1 1242.1 482.4 Q1242.7 481.7 1242.5 482.3 Q1242.4 482.9 1242.3 483.2 Q1242.3 483.5 1242.1 484.1 Q1241.8 484.7 1241.4 484.9 Q1241.1 485 1240.4 485.7Z"/>
<path d="M1256.6 426.5 Q1256.2 426.5 1256.2 426.9 Q1256.1 427.4 1255.4 426.4 Q1254.6 425.4 1253.8 424.6 Q1253 423.9 1253.1 423.4 Q1253.1 423 1253.3 422.9 Q1253.5 422.8 1253.9 423 Q1254.4 423.2 1254.8 424 Q1255.3 424.7 1256.2 425.6 Q1257 426.6 1256.6 426.5Z"/>
<path d="M1703.6 517.5 Q1703.3 516.4 1702.8 516.5 Q1702.3 516.5 1702.2 515.3 Q1702 514.2 1702.9 513.1 Q1703.9 511.9 1704.3 511.6 Q1704.8 511.3 1705.6 510.4 Q1706.4 509.5 1706.4 510.7 Q1706.4 511.9 1705.7 513.3 Q1705 514.7 1704.5 516.6 Q1703.9 518.6 1703.6 517.5Z"/>
<path d="M1837.5 439.2 Q1836.6 439.4 1836.4 438.6 Q1836.3 437.9 1836.6 436.3 Q1836.8 434.7 1839.1 432.7 Q1841.4 430.8 1843.1 430.2 Q1844.8 429.6 1844.9 430.7 Q1845.1 431.7 1843.9 433.3 Q1842.8 434.9 1841.9 436.6 Q1841 438.2 1839.7 438.6 Q1838.4 439 1837.5 439.2Z"/>
<path d="M1573.5 447 Q1573.9 447.3 1573.3 447.3 Q1572.7 447.2 1572.3 447.3 Q1571.9 447.3 1571.4 447.1 Q1570.9 446.9 1570.6 446.7 Q1570.3 446.5 1570.4 446.4 Q1570.6 446.2 1570.5 445.9 Q1570.5 445.5 1571.3 445.9 Q1572.2 446.3 1572.6 446.5 Q1573.1 446.7 1573.5 447Z"/>
<path d="M1769.8 439.7 Q1770.7 440.6 1769.6 440.6 Q1768.4 440.6 1767 440.4 Q1765.7 440.2 1763.8 439.4 Q1761.9 438.5 1762.3 437.9 Q1762.7 437.3 1762 436.5 Q1761.3 435.7 1762.7 436.1 Q1764.1 436.4 1765.5 436.8 Q1767 437.2 1767.9 438 Q1768.8 438.8 1769.8 439.7Z"/>
<path d="M1372.2 473.9 Q1370.3 474.6 1371.1 472.4 Q1371.8 470.1 1373.9 467.7 Q1375.9 465.3 1377.6 463.5 Q1379.3 461.7 1382.3 458.8 Q1385.3 455.9 1386.4 456.6 Q1387.5 457.3 1385.5 460.5 Q1383.5 463.7 1381.6 467.1 Q1379.7 470.6 1377 471.9 Q1374.2 473.2 1372.2 473.9Z"/>
<path d="M1761.6 444 Q1760.2 445.2 1760 447.6 Q1759.7 449.9 1756.2 447.8 Q1752.7 445.6 1750.2 443.7 Q1747.7 441.9 1743.8 438.5 Q1739.8 435 1744.2 435.4 Q1748.5 435.8 1750.1 434.1 Q1751.6 432.5 1754.5 435.5 Q1757.3 438.5 1760.1 440.6 Q1762.9 442.7 1761.6 444Z"/>
<path d="M1616.5 489.4 Q1615.6 491.3 1614.5 489.8 Q1613.4 488.3 1612.6 485.7 Q1611.8 483 1612.1 480 Q1612.4 477 1613.2 475 Q1613.9 473.1 1614.9 474.3 Q1615.8 475.5 1616.8 476.2 Q1617.7 477 1617.5 479.6 Q1617.2 482.1 1617.3 484.8 Q1617.4 487.5 1616.5 489.4Z"/>
<path d="M1544.2 510.4 Q1542 509 1544.2 507.4 Q1546.5 505.8 1548.9 505.7 Q1551.2 505.7 1552.7 505.8 Q1554.2 505.9 1556.4 506.2 Q1558.6 506.5 1558.8 508 Q1558.9 509.5 1557.9 511.2 Q1556.8 512.8 1554.1 512.3 Q1551.5 511.7 1549 511.7 Q1546.5 511.8 1544.2 510.4Z"/>
<path d="M1754.3 436.8 Q1755.2 437.9 1753.9 438.3 Q1752.6 438.7 1751.3 438.3 Q1750 437.9 1748.9 437.7 Q1747.8 437.5 1747.5 436.8 Q1747.2 436.2 1747.5 435.7 Q1747.7 435.2 1748.1 434.4 Q1748.4 433.5 1750 433.8 Q1751.5 434 1752.5 434.9 Q1753.4 435.8 1754.3 436.8Z"/>
<path d="M1474.5 447.3 Q1473.7 447.2 1473.1 446.8 Q1472.4 446.5 1472.1 445.5 Q1471.8 444.5 1472 443.2 Q1472.2 441.8 1473.1 441.2 Q1474 440.6 1475 440.4 Q1476 440.3 1476.7 441.4 Q1477.3 442.5 1477.1 444.1 Q1476.9 445.6 1476.1 446.5 Q1475.3 447.4 1474.5 447.3Z"/>
<path d="M1676.5 452 Q1675.7 451.8 1674.6 452 Q1673.5 452.1 1674.5 449.3 Q1675.4 446.4 1676.4 444.4 Q1677.4 442.4 1678.8 439.8 Q1680.2 437.2 1681.6 436.9 Q1683 436.6 1682.7 439.5 Q1682.4 442.4 1680.8 445 Q1679.2 447.6 1678.3 449.9 Q1677.3 452.2 1676.5 452Z"/>
<path d="M1732.1 513.3 Q1732.4 514.8 1731.5 514.3 Q1730.6 513.8 1729.9 512.8 Q1729.2 511.8 1728.2 510.5 Q1727.3 509.2 1727.6 508.2 Q1727.8 507.3 1728.4 507 Q1729 506.6 1729.8 507.8 Q1730.6 508.9 1731.1 509.7 Q1731.7 510.4 1731.7 511.1 Q1731.7 511.9 1732.1 513.3Z"/>
<path d="M1423.1 475.4 Q1422.4 476 1421.6 475.9 Q1420.7 475.8 1420.1 474.4 Q1419.5 472.9 1419.8 471.4 Q1420.2 469.8 1420.8 468.9 Q1421.3 468 1422 467.9 Q1422.8 467.8 1423.9 468.2 Q1425 468.5 1425.1 470.6 Q1425.2 472.7 1424.4 473.8 Q1423.7 474.9 1423.1 475.4Z"/>
<path d="M1394.8 466.9 Q1397.7 469.1 1395.4 469.6 Q1393.1 470 1390 469.5 Q1387 468.9 1384.6 467.1 Q1382.2 465.3 1382 464.1 Q1381.8 462.9 1380.5 461.1 Q1379.2 459.3 1381.8 459.5 Q1384.4 459.7 1387.7 460.2 Q1391 460.7 1391.4 462.7 Q1391.9 464.8 1394.8 466.9Z"/>
<path d="M1828.4 514.5 Q1827.8 513.1 1827.9 511.5 Q1828.1 510 1830.7 509.4 Q1833.3 508.8 1835.3 508 Q1837.3 507.1 1838.3 508 Q1839.3 508.9 1841.1 509.8 Q1842.9 510.7 1841 512.1 Q1839 513.5 1836.8 513.8 Q1834.7 514 1831.9 515 Q1829.1 516 1828.4 514.5Z"/>
<path d="M1762.2 528.6 Q1763.4 529.5 1762.6 529.6 Q1761.9 529.7 1760.4 529.1 Q1758.9 528.6 1757.9 527.8 Q1757 526.9 1755.7 526.1 Q1754.4 525.3 1754 524.5 Q1753.6 523.8 1755.2 524.3 Q1756.9 524.8 1758.6 525.5 Q1760.4 526.1 1760.7 526.9 Q1760.9 527.7 1762.2 528.6Z"/>
<path d="M1564.9 489.6 Q1563.9 489.5 1564.4 488.5 Q1564.9 487.5 1565.5 486.4 Q1566.2 485.2 1567.6 485 Q1569 484.8 1570.3 484.3 Q1571.5 483.9 1572.5 484.2 Q1573.4 484.5 1571.8 485.7 Q1570.2 486.9 1569.5 488.3 Q1568.8 489.8 1567.4 489.8 Q1565.9 489.8 1564.9 489.6Z"/>
<path d="M1254.2 496.2 Q1254.9 496.9 1254.4 497.6 Q1253.9 498.3 1252.3 497.9 Q1250.7 497.5 1249.7 497.2 Q1248.7 497 1247.2 496.4 Q1245.6 495.9 1245.7 495 Q1245.8 494.2 1247.2 493.9 Q1248.6 493.6 1250.2 493.7 Q1251.9 493.8 1252.8 494.6 Q1253.6 495.5 1254.2 496.2Z"/>
<path d="M1520.6 452.5 Q1520.6 452.9 1520 452.7 Q1519.3 452.5 1518.6 452.3 Q1517.8 452.1 1517.2 451.2 Q1516.5 450.3 1516.3 449.8 Q1516.1 449.4 1515.9 448.9 Q1515.8 448.4 1516.4 448.4 Q1516.9 448.5 1518.1 449.4 Q1519.2 450.3 1519.9 451.2 Q1520.7 452.1 1520.6 452.5Z"/>
<path d="M1411.3 509.1 Q1409.5 509.1 1409.9 507.4 Q1410.4 505.8 1410.6 503.6 Q1410.8 501.5 1413.4 501.2 Q1415.9 500.9 1417.7 500.9 Q1419.4 500.9 1419.8 502.2 Q1420.1 503.4 1420.1 504.9 Q1420.1 506.5 1418.6 508.8 Q1417.1 511.1 1415.1 510.1 Q1413.1 509.1 1411.3 509.1Z"/>
<path d="M1419.6 440.2 Q1419.8 440.7 1419.1 440.6 Q1418.5 440.4 1418 440.2 Q1417.4 440 1417.2 439.5 Q1416.9 439 1416.4 438.4 Q1415.9 437.9 1416.4 437.9 Q1416.9 437.9 1417.2 437.5 Q1417.5 437.1 1418.2 437.8 Q1419 438.4 1419.2 439 Q1419.5 439.6 1419.6 440.2Z"/>
<path d="M1682.2 527.3 Q1682.1 528 1681.5 527.8 Q1681 527.7 1680.4 526.9 Q1679.8 526 1679.5 525.3 Q1679.2 524.5 1678.9 523.6 Q1678.6 522.7 1679.2 523 Q1679.8 523.4 1680.2 523.8 Q1680.6 524.2 1681.3 524.6 Q1682 524.9 1682.2 525.8 Q1682.3 526.7 1682.2 527.3Z"/>
<path d="M1380.3 457 Q1380.1 457.9 1379 457.2 Q1377.9 456.5 1377.1 455.4 Q1376.3 454.3 1375.5 453.2 Q1374.7 452 1374.1 450.4 Q1373.5 448.7 1374.6 449.2 Q1375.7 449.7 1376.5 450.2 Q1377.3 450.7 1378.1 451.8 Q1378.9 452.9 1379.8 454.5 Q1380.6 456.1 1380.3 457Z"/>
<path d="M1439.6 437.9 Q1439.4 439.1 1438.6 437.9 Q1437.8 436.6 1437.4 435.5 Q1437 434.4 1436.1 432.7 Q1435.1 431 1436 430.9 Q1436.8 430.8 1437 429.1 Q1437.2 427.5 1438.2 428.6 Q1439.2 429.7 1439.6 431.8 Q1439.9 433.9 1439.9 435.3 Q1439.9 436.6 1439.6 437.9Z"/>
<path d="M1690.1 502.8 Q1689.9 503.7 1688.9 502.3 Q1688 500.9 1687.4 499.7 Q1686.8 498.5 1686.4 497.4 Q1685.9 496.2 1685.2 494.2 Q1684.5 492.1 1685.3 492.3 Q1686 492.5 1686.8 493.4 Q1687.6 494.4 1688.5 496.2 Q1689.3 498 1689.8 499.9 Q1690.4 501.8 1690.1 502.8Z"/>
<path d="M1321.6 484.8 Q1323.6 486 1322.5 486.2 Q1321.5 486.4 1319.5 485.7 Q1317.5 485.1 1315.9 484.1 Q1314.4 483.1 1314.1 482.6 Q1313.7 482 1312.7 481 Q1311.7 480 1313.5 480.5 Q1315.3 481 1316.8 481.7 Q1318.4 482.3 1319 483 Q1319.6 483.6 1321.6 484.8Z"/>
<path d="M1591.4 467.1 Q1590.7 467.1 1590.1 466.7 Q1589.6 466.2 1590.3 465.2 Q1591 464.1 1591.8 463.5 Q1592.6 462.9 1593.6 462.3 Q1594.6 461.7 1595 462.2 Q1595.4 462.8 1594.8 463.8 Q1594.2 464.7 1593.7 465.2 Q1593.2 465.7 1592.7 466.4 Q1592.1 467 1591.4 467.1Z"/>
<path d="M1440.4 483.6 Q1441.1 484.9 1440.4 485.2 Q1439.6 485.6 1438.1 484.2 Q1436.6 482.9 1435.4 481.6 Q1434.2 480.2 1434.2 479.3 Q1434.2 478.4 1434.8 478.3 Q1435.4 478.2 1436.1 478.1 Q1436.8 478.1 1438.4 479.1 Q1439.9 480.1 1439.8 481.2 Q1439.7 482.2 1440.4 483.6Z"/>
<path d="M1785.2 468.3 Q1784.1 467.6 1785 465.8 Q1785.9 464 1786.8 462.4 Q1787.7 460.7 1789.5 459.7 Q1791.4 458.8 1794 456.8 Q1796.6 454.8 1795.6 456.9 Q1794.7 459.1 1794.6 460.2 Q1794.6 461.3 1792.9 462.7 Q1791.2 464.1 1788.8 466.5 Q1786.4 468.9 1785.2 468.3Z"/>
<path d="M1650.8 516.9 Q1650.6 516.8 1649.9 517 Q1649.2 517.2 1649.8 516 Q1650.4 514.8 1651.3 514.1 Q1652.2 513.4 1653.1 512.4 Q1654 511.5 1653.8 512.3 Q1653.5 513.1 1653.8 513.4 Q1654.2 513.7 1653.4 515.1 Q1652.6 516.4 1651.8 516.7 Q1651 517.1 1650.8 516.9Z"/>
<path d="M1379.1 491.2 Q1379 491.8 1378.5 491.9 Q1378 491.9 1377.9 490.8 Q1377.8 489.7 1377.4 488.8 Q1376.9 487.8 1377.5 487.8 Q1378 487.7 1378.2 487.1 Q1378.5 486.5 1378.8 487.2 Q1379.2 488 1379.4 488.7 Q1379.6 489.5 1379.4 490 Q1379.3 490.6 1379.1 491.2Z"/>
<path d="M1712 484.3 Q1711.5 484.6 1711.7 483.9 Q1711.8 483.2 1711.8 482.6 Q1711.9 482 1712.4 481.4 Q1712.9 480.7 1713.4 480.4 Q1713.8 480.2 1714.2 480.1 Q1714.7 480 1714.7 480.6 Q1714.8 481.2 1714.2 482 Q1713.5 482.9 1713 483.4 Q1712.6 484 1712 484.3Z"/>
<path d="M1816.3 433.2 Q1818.8 434.9 1814.8 435.3 Q1810.8 435.7 1809 436.4 Q1807.2 437.1 1804.4 436.6 Q1801.5 436.1 1800 434.9 Q1798.4 433.8 1797.4 432.3 Q1796.4 430.8 1799.8 430.8 Q1803.2 430.8 1805.8 430 Q1808.4 429.3 1811.1 430.4 Q1813.8 431.6 1816.3 433.2Z"/>
<path d="M1589.5 533.2 Q1589 533.5 1588.4 533.5 Q1587.8 533.5 1587.8 532.4 Q1587.7 531.2 1587.7 530.1 Q1587.6 529.1 1588.2 528.7 Q1588.7 528.4 1589.3 527.8 Q1589.9 527.3 1590.3 528.2 Q1590.7 529.1 1590.4 530.1 Q1590.1 531.1 1590 532.1 Q1590 533 1589.5 533.2Z"/>
<path d="M1544.1 498.4 Q1543.4 499.6 1543.3 500.8 Q1543.1 502.1 1540.9 502.3 Q1538.7 502.6 1535.9 502 Q1533 501.4 1531.8 499.7 Q1530.6 498 1532.4 497.2 Q1534.1 496.4 1535.3 496 Q1536.5 495.6 1538.6 495 Q1540.7 494.5 1542.7 495.9 Q1544.7 497.2 1544.1 498.4Z"/>
<path d="M1611.4 497.7 Q1610.9 497.4 1610.3 497.1 Q1609.8 496.9 1610.4 495.9 Q1611 494.9 1611.5 493.9 Q1611.9 492.8 1612.6 493 Q1613.2 493.1 1613.9 493 Q1614.6 492.9 1614.3 493.9 Q1614 494.8 1613.6 495.6 Q1613.2 496.4 1612.5 497.2 Q1611.8 498 1611.4 497.7Z"/>
<path d="M1290.5 446.2 Q1289.8 446.8 1288.6 447.2 Q1287.4 447.6 1288 445.2 Q1288.6 442.9 1289.5 440.9 Q1290.4 438.9 1291.3 439.1 Q1292.2 439.2 1292.9 438.9 Q1293.7 438.6 1294.1 439.6 Q1294.5 440.6 1294 442.7 Q1293.5 444.8 1292.4 445.2 Q1291.3 445.6 1290.5 446.2Z"/>
<path d="M1417.4 472.2 Q1417.3 472 1417.1 471.9 Q1416.9 471.8 1417.2 471.3 Q1417.6 470.8 1418 469.9 Q1418.4 469.1 1418.7 469.2 Q1419.1 469.4 1419.4 469.4 Q1419.7 469.4 1419.3 470 Q1419 470.6 1418.8 471.1 Q1418.5 471.7 1418 472.1 Q1417.5 472.5 1417.4 472.2Z"/>
<path d="M1296.6 489.3 Q1296.6 490.1 1296.2 491 Q1295.9 491.8 1294.6 491.4 Q1293.3 490.9 1292.8 490.2 Q1292.3 489.5 1291.3 488.8 Q1290.3 488.2 1290.4 487.2 Q1290.5 486.2 1291.9 486.8 Q1293.3 487.4 1294.4 487 Q1295.5 486.5 1296.1 487.5 Q1296.6 488.5 1296.6 489.3Z"/>
<path d="M1741.4 532.3 Q1741.3 528.9 1742.5 526.5 Q1743.7 524.1 1745.5 520.7 Q1747.4 517.4 1751.5 519 Q1755.6 520.7 1761.1 520.4 Q1766.6 520.1 1766.9 523.7 Q1767.2 527.3 1762.8 529.5 Q1758.5 531.6 1754.9 534.2 Q1751.4 536.8 1746.4 536.3 Q1741.4 535.7 1741.4 532.3Z"/>
<path d="M1568.9 463.6 Q1566.7 464.1 1567.3 463.1 Q1567.9 462 1569.8 460.8 Q1571.6 459.5 1573.8 458.9 Q1576.1 458.3 1577.2 458.4 Q1578.4 458.5 1580.1 458.6 Q1581.8 458.7 1579.3 460 Q1576.8 461.3 1575.2 462 Q1573.5 462.7 1572.3 462.9 Q1571.1 463.1 1568.9 463.6Z"/>
<path d="M1493.7 511.6 Q1493.6 512 1493.1 512.1 Q1492.6 512.1 1492.1 512.2 Q1491.6 512.2 1490.7 512 Q1489.8 511.9 1489.5 511.3 Q1489.1 510.7 1489.1 510.1 Q1489.1 509.6 1490 509.5 Q1490.8 509.5 1491.5 510.1 Q1492.2 510.6 1492.9 510.9 Q1493.7 511.2 1493.7 511.6Z"/>
<path d="M1501.8 478.5 Q1502.6 477.4 1501.8 477 Q1501.1 476.6 1502.5 475.9 Q1504 475.2 1505.5 475 Q1506.9 474.7 1508 474.8 Q1509 475 1509.7 475.4 Q1510.3 475.9 1509.3 476.7 Q1508.2 477.6 1506.6 478.1 Q1505 478.6 1503 479.1 Q1501 479.5 1501.8 478.5Z"/>
<path d="M1589.6 449.9 Q1588.9 449.3 1589.2 448.3 Q1589.5 447.4 1590.6 446.8 Q1591.8 446.1 1592.8 446.6 Q1593.8 447.1 1594.5 447.2 Q1595.3 447.4 1596 448 Q1596.7 448.6 1595.6 449.2 Q1594.6 449.7 1593.7 450.4 Q1592.7 451.1 1591.5 450.9 Q1590.3 450.6 1589.6 449.9Z"/>
<path d="M1767.7 466.8 Q1767.5 468.6 1765.7 468.4 Q1764 468.1 1762.5 466.2 Q1761.1 464.2 1759.3 462.9 Q1757.5 461.6 1757 459.5 Q1756.5 457.5 1758.4 458.1 Q1760.4 458.8 1761.4 458.2 Q1762.5 457.6 1763.5 459.5 Q1764.5 461.4 1766.2 463.2 Q1767.9 465.1 1767.7 466.8Z"/>
<path d="M1771 482.1 Q1770.3 482 1769.6 481.8 Q1768.9 481.7 1768.5 480.3 Q1768.1 478.9 1769.2 477.6 Q1770.3 476.3 1771 476 Q1771.8 475.8 1772.9 474.7 Q1774.1 473.6 1774.5 475.1 Q1774.9 476.6 1774 478.3 Q1773 480.1 1772.3 481.2 Q1771.6 482.2 1771 482.1Z"/>
<path d="M1419.1 485.9 Q1418.9 486.7 1418.2 487.1 Q1417.5 487.5 1416.1 487 Q1414.8 486.4 1415 484.9 Q1415.1 483.4 1414.7 482.1 Q1414.3 480.9 1415.3 481.3 Q1416.4 481.7 1417.1 481.5 Q1417.8 481.3 1418.6 482.3 Q1419.5 483.2 1419.4 484.2 Q1419.3 485.2 1419.1 485.9Z"/>
<path d="M1325.7 455.8 Q1324.6 455.8 1323.9 455 Q1323.2 454.2 1322.9 452.9 Q1322.6 451.6 1322.5 449.3 Q1322.3 447.1 1323.8 446.9 Q1325.2 446.7 1326.2 446.8 Q1327.2 446.9 1328 448 Q1328.8 449 1328.7 450.9 Q1328.6 452.8 1327.7 454.3 Q1326.8 455.7 1325.7 455.8Z"/>
<path d="M1658.7 464.9 Q1659.1 465.4 1658.5 465.4 Q1657.8 465.3 1657.3 465.4 Q1656.8 465.5 1656.2 465.2 Q1655.5 464.9 1654.8 464.4 Q1654.1 464 1654.2 463.5 Q1654.3 463.1 1655 463 Q1655.7 462.9 1656.8 463.1 Q1657.8 463.4 1658 463.9 Q1658.3 464.5 1658.7 464.9Z"/>
<path d="M1459.5 440 Q1458.9 440 1458.9 440.4 Q1459 440.9 1458.3 440.2 Q1457.6 439.5 1457.2 439.1 Q1456.8 438.7 1456.6 438.3 Q1456.3 437.9 1456.4 437.6 Q1456.5 437.4 1457 437.7 Q1457.5 437.9 1457.9 438.3 Q1458.3 438.7 1459.2 439.4 Q1460 440.1 1459.5 440Z"/>
<path d="M1773.1 528.1 Q1772.9 528.8 1772.7 530.1 Q1772.4 531.5 1770.8 529.7 Q1769.1 528 1767.5 526.4 Q1765.9 524.9 1765.6 523.2 Q1765.3 521.6 1766.2 521.2 Q1767.2 520.8 1768.6 521.7 Q1770.1 522.7 1771.6 523.7 Q1773.1 524.7 1773.2 526 Q1773.3 527.4 1773.1 528.1Z"/>
<path d="M1708 449.2 Q1707.4 449.7 1706.6 449.3 Q1705.9 448.9 1705.2 448.2 Q1704.5 447.6 1704 446.3 Q1703.5 445 1704.3 444.7 Q1705.2 444.4 1705.6 444.2 Q1706 444 1706.6 444.3 Q1707.2 444.6 1707.7 445.5 Q1708.2 446.3 1708.4 447.5 Q1708.7 448.8 1708 449.2Z"/>
<path d="M1585.2 478.8 Q1583.4 480.7 1584.1 477.2 Q1584.9 473.8 1585.2 471.6 Q1585.4 469.5 1586.8 466.5 Q1588.2 463.6 1589.6 462.5 Q1590.9 461.4 1592.4 460.4 Q1594 459.4 1594.2 461.7 Q1594.5 463.9 1592.1 467.3 Q1589.6 470.8 1588.3 473.9 Q1587 477 1585.2 478.8Z"/>
<path d="M1643.6 533.2 Q1643.6 534.5 1642.6 534 Q1641.6 533.4 1640.9 532.1 Q1640.1 530.8 1639.2 529.4 Q1638.3 528 1638.6 527.1 Q1638.9 526.2 1639.6 526.4 Q1640.2 526.7 1641 526 Q1641.8 525.4 1642.3 527.4 Q1642.8 529.4 1643.2 530.7 Q1643.6 531.9 1643.6 533.2Z"/>
<path d="M1717.4 476.4 Q1716.8 477.4 1716.7 478.9 Q1716.5 480.3 1714.3 479 Q1712 477.7 1710.3 477 Q1708.6 476.2 1708 474.9 Q1707.5 473.7 1707.5 472.5 Q1707.6 471.2 1709.3 471.3 Q1711.1 471.4 1713.1 472 Q1715 472.5 1716.5 474 Q1718 475.4 1717.4 476.4Z"/>
<path d="M1742.3 450.7 Q1742.3 451.3 1741.6 451.6 Q1740.9 451.8 1740.3 452 Q1739.7 452.2 1739.1 451.9 Q1738.5 451.6 1738.2 451.1 Q1737.8 450.7 1737.4 450 Q1737 449.3 1738.1 449.4 Q1739.1 449.5 1739.8 449.5 Q1740.4 449.5 1741.3 449.7 Q1742.2 450 1742.3 450.7Z"/>
<path d="M1401.7 532.3 Q1401.4 532.9 1400.8 532.7 Q1400.1 532.6 1399.6 532 Q1399.1 531.4 1398.5 530.8 Q1397.9 530.3 1398.2 529.8 Q1398.5 529.4 1398.6 528.7 Q1398.7 528 1399.4 528.2 Q1400.2 528.5 1400.6 529.3 Q1401 530.1 1401.5 530.9 Q1401.9 531.6 1401.7 532.3Z"/>
<path d="M1784.9 453.1 Q1785.5 454.7 1784.2 454.7 Q1782.8 454.8 1781.2 454.2 Q1779.6 453.6 1779.5 451.9 Q1779.3 450.2 1778 448.3 Q1776.6 446.5 1778.5 447 Q1780.3 447.6 1781.3 446.7 Q1782.2 445.9 1782.9 447.7 Q1783.6 449.5 1784 450.5 Q1784.4 451.4 1784.9 453.1Z"/>
<path d="M1713.8 463.5 Q1717.1 465 1714.9 466.5 Q1712.7 468 1708.8 467.5 Q1704.8 467 1701.3 467.2 Q1697.7 467.4 1695.6 465.8 Q1693.5 464.2 1693.5 462.6 Q1693.5 460.9 1697 460.6 Q1700.5 460.4 1703.3 459.8 Q1706.2 459.2 1708.3 460.5 Q1710.5 461.9 1713.8 463.5Z"/>
<path d="M1481.6 520.5 Q1481 520.6 1480.6 520.6 Q1480.2 520.7 1479.5 520.8 Q1478.9 520.9 1478.8 520.1 Q1478.7 519.3 1478.6 518.8 Q1478.5 518.3 1478.8 518.1 Q1479.1 518 1479.6 517.6 Q1480.1 517.1 1480.7 517.9 Q1481.4 518.7 1481.8 519.5 Q1482.3 520.3 1481.6 520.5Z"/>
<path d="M1256.3 527.4 Q1257.8 529.4 1258.6 532.8 Q1259.4 536.2 1254.4 535.9 Q1249.3 535.6 1244.9 536.3 Q1240.5 537.1 1241 533.7 Q1241.5 530.4 1238.4 527.9 Q1235.4 525.4 1239 523.8 Q1242.6 522.2 1246.3 521.9 Q1250.1 521.5 1252.5 523.4 Q1254.8 525.3 1256.3 527.4Z"/>
</g>
<g fill="none" stroke-linejoin="round" stroke-linecap="round" filter="url(#soft2)">
<path d="M1842.3 533.3L1849 536.1L1858 537.5L1865.5 543.3L1873.3 549.8" stroke="#f01c2c" stroke-opacity="0.54" stroke-width="3.3"/>
<path d="M1249.3 437.1L1250.7 442.3L1250.2 445.2L1253.5 451.6" stroke="#f01c2c" stroke-opacity="0.54" stroke-width="3.3"/>
<path d="M1623.6 513.5L1620.2 508.4L1614.3 505.7L1607 507L1597.1 511.5" stroke="#f01c2c" stroke-opacity="0.54" stroke-width="5.1"/>
<path d="M1695.1 478.2L1688.9 481.7L1675.4 479.3" stroke="#f01c2c" stroke-opacity="0.54" stroke-width="6.2"/>
<path d="M1660.3 487.2L1667.3 488.5L1671.8 496.8L1678.3 498.3" stroke="#f01c2c" stroke-opacity="0.54" stroke-width="4.7"/>
<path d="M1819 498.2L1808.1 502.8L1798.6 501.5L1788.6 498.6" stroke="#f01c2c" stroke-opacity="0.54" stroke-width="3.5"/>
<path d="M1860.1 481.6L1851.6 482.2L1843.2 474.5" stroke="#f01c2c" stroke-opacity="0.54" stroke-width="3.3"/>
<path d="M1526.8 527.7L1529.9 535.5L1521.5 543.1L1513.8 550.1L1512.3 552.8" stroke="#f01c2c" stroke-opacity="0.54" stroke-width="6"/>
<path d="M1366.6 518.6L1371.5 521.8L1383.8 518.9L1390.9 510.8L1388.9 507.2L1379.1 504.8" stroke="#f01c2c" stroke-opacity="0.54" stroke-width="3.5"/>
<path d="M1630.8 519.8L1623.4 514L1609.4 513.7L1602.3 508.6L1599 506.8L1593.7 503.2" stroke="#f01c2c" stroke-opacity="0.54" stroke-width="5.5"/>
<path d="M1817.9 525.1L1820.8 518.3L1828.2 517.3L1840.4 520.8L1841.2 525.3" stroke="#f01c2c" stroke-opacity="0.54" stroke-width="3.9"/>
<path d="M1439.8 488.5L1442 491.5L1449.1 499.1L1451.8 504L1457.9 510.7" stroke="#f01c2c" stroke-opacity="0.54" stroke-width="5.2"/>
<path d="M1784.2 522.3L1775.7 516.8L1762.3 518.8L1758.8 516.9" stroke="#f01c2c" stroke-opacity="0.54" stroke-width="4.6"/>
<path d="M1736.1 430L1740.7 428.8L1747.9 424L1760.3 422.6" stroke="#f01c2c" stroke-opacity="0.54" stroke-width="3.4"/>
<path d="M1514.8 533.5L1516.3 540.5L1522.8 542.2L1528.7 544.6L1530.7 549.6" stroke="#f01c2c" stroke-opacity="0.54" stroke-width="3.9"/>
<path d="M1813.7 429.8L1807.4 423.9L1803.4 422.5L1796.1 419.7L1792 416.1L1793.5 412" stroke="#f01c2c" stroke-opacity="0.54" stroke-width="5.1"/>
<path d="M1665.4 454.6L1660.4 453.2L1656.2 455.7L1651.3 456.3L1641.1 459.3" stroke="#f01c2c" stroke-opacity="0.54" stroke-width="3.6"/>
<path d="M1390.3 531L1381.8 534L1375.5 534.8" stroke="#f01c2c" stroke-opacity="0.54" stroke-width="3.8"/>
<path d="M1437 528.4L1435.5 532.6L1428.9 534.4L1423.8 542.6" stroke="#f01c2c" stroke-opacity="0.54" stroke-width="5.2"/>
<path d="M1863.9 482.1L1871.3 476.1L1878 469.1L1876.5 459.5L1882.2 456L1893.6 452.3" stroke="#f01c2c" stroke-opacity="0.54" stroke-width="3.5"/>
<path d="M1592.1 428.6L1586.4 423.1L1579 416.5L1573.7 417.1" stroke="#f01c2c" stroke-opacity="0.54" stroke-width="6.5"/>
<path d="M1624.5 508L1615.8 505.8L1610 500.8L1607.4 491.8L1603.1 490.6L1597.4 492.7" stroke="#f01c2c" stroke-opacity="0.54" stroke-width="3.3"/>
<path d="M1527.9 510L1536.2 515.8L1547.7 513.9L1555.5 516.7L1566.5 520.3" stroke="#f01c2c" stroke-opacity="0.54" stroke-width="3.5"/>
<path d="M1861.3 508.3L1868.3 508.7L1874.3 510.3L1880.6 516.4L1879.1 521.4" stroke="#f01c2c" stroke-opacity="0.54" stroke-width="3.3"/>
<path d="M1714 438.7L1719 438.8L1732.3 439.7L1742.7 439.5L1749.2 437.7L1752.8 431.7" stroke="#f01c2c" stroke-opacity="0.54" stroke-width="4.6"/>
<path d="M1603.2 526L1610.7 528.6L1622.7 530.9L1633.1 529.9L1637.1 532L1645.6 533.8" stroke="#f01c2c" stroke-opacity="0.54" stroke-width="4.9"/>
<path d="M1366.7 528.5L1364.4 531.4L1358.1 531.8" stroke="#f01c2c" stroke-opacity="0.54" stroke-width="4.6"/>
<path d="M1408 437.7L1405.3 442.6L1403.2 451.1L1401.7 454.1L1404.8 457L1409.6 465.4" stroke="#f01c2c" stroke-opacity="0.54" stroke-width="4.4"/>
<path d="M1834 493.8L1839.9 491L1841.2 483.5L1843.7 480.6" stroke="#f01c2c" stroke-opacity="0.54" stroke-width="4.9"/>
<path d="M1643.6 484.9L1647.6 483.6L1655.2 475.4" stroke="#f01c2c" stroke-opacity="0.54" stroke-width="4"/>
<path d="M1311.9 530L1307.7 533.2L1294.2 532.7L1289.5 527.5L1285.2 527" stroke="#f01c2c" stroke-opacity="0.54" stroke-width="6"/>
<path d="M1252.7 517.7L1242.2 522.4L1234.2 519.3L1231.6 513.6L1226.4 508.3L1216.8 505.2" stroke="#f01c2c" stroke-opacity="0.54" stroke-width="3.3"/>
<path d="M1490.5 494.3L1482.9 490.1L1481 486.9L1475.1 479.6" stroke="#f01c2c" stroke-opacity="0.54" stroke-width="5.6"/>
<path d="M1664.5 489L1665.8 494.1L1666.7 498.6L1674.8 503.1" stroke="#f01c2c" stroke-opacity="0.54" stroke-width="4.2"/>
<path d="M1321.4 444.4L1316.1 447.1L1308.5 445.2" stroke="#f01c2c" stroke-opacity="0.54" stroke-width="3.7"/>
<path d="M1294 490.1L1297.7 494.8L1302.8 501L1306.1 505.7L1304.1 509.6" stroke="#f01c2c" stroke-opacity="0.54" stroke-width="3.6"/>
<path d="M1841.9 446L1840 440.5L1839.2 437.4L1836.5 429.2L1837 423.1" stroke="#f01c2c" stroke-opacity="0.54" stroke-width="4.9"/>
<path d="M1621.1 517.3L1623.9 526.2L1629.5 527.9L1631.3 532.1L1634.5 535.8L1632.3 539.4" stroke="#f01c2c" stroke-opacity="0.54" stroke-width="3.3"/>
<path d="M1545.6 519.1L1536 515.4L1530.7 509.3L1524.6 507L1523.4 502.4L1527.1 498" stroke="#f01c2c" stroke-opacity="0.54" stroke-width="5.3"/>
<path d="M1291.7 464.1L1282.9 461L1280.6 456.2L1278.9 450.1L1276.7 441.3" stroke="#f01c2c" stroke-opacity="0.54" stroke-width="4.1"/>
<path d="M1842.3 533.3L1849 536.1L1858 537.5L1865.5 543.3L1873.3 549.8" stroke="#010004" stroke-width="0.8"/>
<path d="M1249.3 437.1L1250.7 442.3L1250.2 445.2L1253.5 451.6" stroke="#010004" stroke-width="0.8"/>
<path d="M1623.6 513.5L1620.2 508.4L1614.3 505.7L1607 507L1597.1 511.5" stroke="#010004" stroke-width="2.6"/>
<path d="M1695.1 478.2L1688.9 481.7L1675.4 479.3" stroke="#010004" stroke-width="3.7"/>
<path d="M1660.3 487.2L1667.3 488.5L1671.8 496.8L1678.3 498.3" stroke="#010004" stroke-width="2.2"/>
<path d="M1819 498.2L1808.1 502.8L1798.6 501.5L1788.6 498.6" stroke="#010004" stroke-width="1"/>
<path d="M1860.1 481.6L1851.6 482.2L1843.2 474.5" stroke="#010004" stroke-width="0.8"/>
<path d="M1526.8 527.7L1529.9 535.5L1521.5 543.1L1513.8 550.1L1512.3 552.8" stroke="#010004" stroke-width="3.5"/>
<path d="M1366.6 518.6L1371.5 521.8L1383.8 518.9L1390.9 510.8L1388.9 507.2L1379.1 504.8" stroke="#010004" stroke-width="1"/>
<path d="M1630.8 519.8L1623.4 514L1609.4 513.7L1602.3 508.6L1599 506.8L1593.7 503.2" stroke="#010004" stroke-width="3"/>
<path d="M1817.9 525.1L1820.8 518.3L1828.2 517.3L1840.4 520.8L1841.2 525.3" stroke="#010004" stroke-width="1.4"/>
<path d="M1439.8 488.5L1442 491.5L1449.1 499.1L1451.8 504L1457.9 510.7" stroke="#010004" stroke-width="2.7"/>
<path d="M1784.2 522.3L1775.7 516.8L1762.3 518.8L1758.8 516.9" stroke="#010004" stroke-width="2.1"/>
<path d="M1736.1 430L1740.7 428.8L1747.9 424L1760.3 422.6" stroke="#010004" stroke-width="0.9"/>
<path d="M1514.8 533.5L1516.3 540.5L1522.8 542.2L1528.7 544.6L1530.7 549.6" stroke="#010004" stroke-width="1.4"/>
<path d="M1813.7 429.8L1807.4 423.9L1803.4 422.5L1796.1 419.7L1792 416.1L1793.5 412" stroke="#010004" stroke-width="2.6"/>
<path d="M1665.4 454.6L1660.4 453.2L1656.2 455.7L1651.3 456.3L1641.1 459.3" stroke="#010004" stroke-width="1.1"/>
<path d="M1390.3 531L1381.8 534L1375.5 534.8" stroke="#010004" stroke-width="1.3"/>
<path d="M1437 528.4L1435.5 532.6L1428.9 534.4L1423.8 542.6" stroke="#010004" stroke-width="2.7"/>
<path d="M1863.9 482.1L1871.3 476.1L1878 469.1L1876.5 459.5L1882.2 456L1893.6 452.3" stroke="#010004" stroke-width="1"/>
<path d="M1592.1 428.6L1586.4 423.1L1579 416.5L1573.7 417.1" stroke="#010004" stroke-width="4"/>
<path d="M1624.5 508L1615.8 505.8L1610 500.8L1607.4 491.8L1603.1 490.6L1597.4 492.7" stroke="#010004" stroke-width="0.8"/>
<path d="M1527.9 510L1536.2 515.8L1547.7 513.9L1555.5 516.7L1566.5 520.3" stroke="#010004" stroke-width="1"/>
<path d="M1861.3 508.3L1868.3 508.7L1874.3 510.3L1880.6 516.4L1879.1 521.4" stroke="#010004" stroke-width="0.8"/>
<path d="M1714 438.7L1719 438.8L1732.3 439.7L1742.7 439.5L1749.2 437.7L1752.8 431.7" stroke="#010004" stroke-width="2.1"/>
<path d="M1603.2 526L1610.7 528.6L1622.7 530.9L1633.1 529.9L1637.1 532L1645.6 533.8" stroke="#010004" stroke-width="2.4"/>
<path d="M1366.7 528.5L1364.4 531.4L1358.1 531.8" stroke="#010004" stroke-width="2.1"/>
<path d="M1408 437.7L1405.3 442.6L1403.2 451.1L1401.7 454.1L1404.8 457L1409.6 465.4" stroke="#010004" stroke-width="1.9"/>
<path d="M1834 493.8L1839.9 491L1841.2 483.5L1843.7 480.6" stroke="#010004" stroke-width="2.4"/>
<path d="M1643.6 484.9L1647.6 483.6L1655.2 475.4" stroke="#010004" stroke-width="1.5"/>
<path d="M1311.9 530L1307.7 533.2L1294.2 532.7L1289.5 527.5L1285.2 527" stroke="#010004" stroke-width="3.5"/>
<path d="M1252.7 517.7L1242.2 522.4L1234.2 519.3L1231.6 513.6L1226.4 508.3L1216.8 505.2" stroke="#010004" stroke-width="0.8"/>
<path d="M1490.5 494.3L1482.9 490.1L1481 486.9L1475.1 479.6" stroke="#010004" stroke-width="3.1"/>
<path d="M1664.5 489L1665.8 494.1L1666.7 498.6L1674.8 503.1" stroke="#010004" stroke-width="1.7"/>
<path d="M1321.4 444.4L1316.1 447.1L1308.5 445.2" stroke="#010004" stroke-width="1.2"/>
<path d="M1294 490.1L1297.7 494.8L1302.8 501L1306.1 505.7L1304.1 509.6" stroke="#010004" stroke-width="1.1"/>
<path d="M1841.9 446L1840 440.5L1839.2 437.4L1836.5 429.2L1837 423.1" stroke="#010004" stroke-width="2.4"/>
<path d="M1621.1 517.3L1623.9 526.2L1629.5 527.9L1631.3 532.1L1634.5 535.8L1632.3 539.4" stroke="#010004" stroke-width="0.8"/>
<path d="M1545.6 519.1L1536 515.4L1530.7 509.3L1524.6 507L1523.4 502.4L1527.1 498" stroke="#010004" stroke-width="2.8"/>
<path d="M1291.7 464.1L1282.9 461L1280.6 456.2L1278.9 450.1L1276.7 441.3" stroke="#010004" stroke-width="1.6"/>
</g>
<g fill="none" stroke="#e0203c" stroke-opacity="0.55" stroke-width="0.9" filter="url(#soft2)">
<path d="M1746 527.7 Q1748.6 530.1 1751.7 531.8"/>
<path d="M1411.3 479.5 Q1429.1 483.9 1436.6 480.7"/>
<path d="M1363.2 508.5 Q1359.9 516.7 1346.3 519.7"/>
<path d="M1344.2 500.4 Q1360.9 504.7 1367.4 508"/>
<path d="M1664.2 522.1 Q1664.4 518.1 1657.4 525.2"/>
<path d="M1682.9 439.4 Q1687.6 443.3 1680.4 449.1"/>
<path d="M1752 472.2 Q1753.3 478.3 1744 486.8"/>
<path d="M1252.5 432 Q1253.6 438.7 1249.5 449"/>
<path d="M1820.4 527.1 Q1831.9 536.4 1839.1 537.3"/>
<path d="M1565.8 456.4 Q1570.7 464.5 1572.8 461.2"/>
<path d="M1337.5 434.4 Q1339.8 432.8 1342.5 439.8"/>
<path d="M1790.1 445.5 Q1796.1 445.7 1805.1 447"/>
<path d="M1516.3 516.4 Q1531.1 521.8 1534.9 527.3"/>
<path d="M1318.8 530.3 Q1313.7 542.8 1307.8 548.1"/>
<path d="M1565.7 435.4 Q1578.5 443.7 1586.4 448.5"/>
<path d="M1858.2 457.2 Q1858.3 470.2 1864.1 471.2"/>
<path d="M1751.1 528.4 Q1750.9 532.6 1759.6 531.6"/>
<path d="M1743.8 462.4 Q1758.2 467.4 1761.8 473.8"/>
<path d="M1296.8 438.9 Q1302.1 442.4 1317.7 457.4"/>
<path d="M1768.7 444.3 Q1773.5 454.7 1780.5 467.5"/>
<path d="M1269.1 479.6 Q1276.6 476.5 1286.7 479.9"/>
<path d="M1577.3 427.9 Q1586.9 429.3 1599.1 429.4"/>
<path d="M1836.1 440.5 Q1831 449.6 1835.1 466"/>
<path d="M1690 441.6 Q1698.8 446.2 1703.8 446.6"/>
<path d="M1781.7 473.7 Q1790.7 484.4 1796.6 486.8"/>
<path d="M1368 494 Q1366 504.9 1359.6 509.2"/>
<path d="M1805.9 453.8 Q1803.2 460.4 1806.7 470.2"/>
</g>
<g fill="#020006" filter="url(#rag)">
<path d="M1241.4 462.5 Q1242.7 458.4 1245.6 459.4 Q1248.6 460.4 1250.1 464.8 Q1251.6 469.1 1251 474.2 Q1250.3 479.4 1251.3 484.6 Q1252.3 489.9 1249.3 491.5 Q1246.2 493 1244.4 493.8 Q1242.5 494.7 1242.1 491.4 Q1241.7 488.1 1241.4 484 Q1241.2 479.9 1240.8 477.1 Q1240.5 474.3 1240.3 470.4 Q1240.1 466.6 1241.4 462.5Z"/>
<path d="M1241.3 505.2 Q1241 500.2 1246.6 499.3 Q1252.2 498.3 1256.4 495.8 Q1260.6 493.2 1266.4 492.2 Q1272.2 491.1 1277.4 493 Q1282.7 494.9 1283 500.1 Q1283.4 505.4 1280.4 510.9 Q1277.4 516.4 1273 518.1 Q1268.7 519.8 1263.4 522.2 Q1258.1 524.6 1254.2 529.2 Q1250.3 533.7 1246.3 534.4 Q1242.2 535.2 1241.3 530.9 Q1240.3 526.6 1240.7 522.6 Q1241.1 518.6 1241.3 514.4 Q1241.6 510.2 1241.3 505.2Z"/>
<path d="M1287.2 522.1 Q1288.4 517.7 1293.6 515.8 Q1298.9 513.8 1304.8 514.6 Q1310.8 515.4 1315.7 516.5 Q1320.6 517.6 1322.4 521.4 Q1324.2 525.1 1323.6 529.5 Q1323 533.9 1320.1 534.5 Q1317.1 535 1313.6 534.6 Q1310.1 534.1 1305.8 534.6 Q1301.5 535 1298.1 534.8 Q1294.6 534.5 1291.5 534.5 Q1288.4 534.4 1287.2 530.5 Q1286 526.6 1287.2 522.1Z"/>
<path d="M1374 455.6 Q1374.5 449.9 1380.5 449.1 Q1386.4 448.4 1390.5 452.2 Q1394.6 456 1398.3 461.4 Q1402.1 466.8 1404.6 472 Q1407.1 477.2 1407.3 483.7 Q1407.5 490.2 1401.9 492.2 Q1396.2 494.1 1391.4 490.1 Q1386.7 486.1 1384.4 480.4 Q1382.2 474.6 1377.8 468 Q1373.4 461.3 1374 455.6Z"/>
<path d="M1393.3 506.8 Q1394.4 502.9 1397.5 502.5 Q1400.6 502 1404.8 500.2 Q1409 498.4 1413.6 498.8 Q1418.1 499.1 1423 499.8 Q1427.9 500.5 1430.7 500.3 Q1433.5 500 1437.9 498.8 Q1442.2 497.7 1447.7 501.5 Q1453.3 505.4 1454.2 509.4 Q1455.1 513.5 1455.9 516.6 Q1456.7 519.7 1454.7 524.1 Q1452.6 528.5 1452.6 531.6 Q1452.5 534.7 1448.4 534.2 Q1444.2 533.7 1439.6 534.7 Q1435 535.8 1431.9 534.8 Q1428.7 533.9 1424.4 534.3 Q1420 534.7 1417.5 533.9 Q1415 533 1410.6 533.2 Q1406.2 533.5 1402.4 534.3 Q1398.6 535.1 1395.6 535.4 Q1392.6 535.8 1390.8 531.1 Q1389 526.4 1388.6 523.1 Q1388.2 519.8 1390.2 515.3 Q1392.1 510.7 1393.3 506.8Z"/>
<path d="M1452.7 468.9 Q1451.7 463.5 1457.1 461.9 Q1462.5 460.2 1465.5 462.6 Q1468.6 465 1466.5 469.5 Q1464.4 473.9 1459 474.1 Q1453.7 474.3 1452.7 468.9Z"/>
<path d="M1456.1 484.1 Q1457.2 481 1460.8 480.8 Q1464.3 480.6 1468.6 479.4 Q1473 478.2 1476.7 479.6 Q1480.4 481 1484.2 482.4 Q1488 483.8 1489.1 487 Q1490.2 490.2 1491.8 493.6 Q1493.4 497 1493.4 502.2 Q1493.3 507.4 1492.7 512 Q1492.2 516.6 1490.8 521.3 Q1489.4 526 1487.8 529.7 Q1486.1 533.4 1482 534.4 Q1477.8 535.4 1474.3 535.6 Q1470.9 535.7 1467.5 535.7 Q1464.2 535.8 1462.3 530.6 Q1460.4 525.3 1459.6 520.7 Q1458.7 516 1457.5 510.1 Q1456.4 504.1 1455.6 500 Q1454.8 495.9 1454.9 491.6 Q1455 487.2 1456.1 484.1Z"/>
<path d="M1503.1 518.9 Q1503.3 514.5 1508.2 513.8 Q1513.2 513.2 1517.5 512 Q1521.8 510.9 1526.5 512.4 Q1531.3 513.9 1536.1 513.1 Q1540.9 512.3 1546.4 511.6 Q1551.9 510.9 1556 510 Q1560.2 509.2 1565.1 510.3 Q1569.9 511.4 1574.9 511.3 Q1580 511.3 1584.8 511.3 Q1589.6 511.3 1592.5 512.9 Q1595.3 514.4 1599.2 514.7 Q1603 515 1603.8 518.4 Q1604.6 521.8 1605.6 524.3 Q1606.6 526.8 1607.6 531 Q1608.6 535.1 1603.8 535.4 Q1599 535.8 1595.1 535.6 Q1591.2 535.5 1588.7 534.9 Q1586.2 534.3 1582 535 Q1577.8 535.8 1573.8 535.4 Q1569.7 535 1565.9 534.7 Q1562.2 534.4 1558.8 533.9 Q1555.4 533.4 1551.9 533.4 Q1548.3 533.3 1544.3 534.3 Q1540.4 535.2 1537.4 534.6 Q1534.4 534 1529.8 534.4 Q1525.2 534.8 1521.4 534.2 Q1517.6 533.5 1514.8 534.7 Q1512.1 535.9 1507.9 535.5 Q1503.7 535.1 1503.3 529.2 Q1502.8 523.4 1503.1 518.9Z"/>
<path d="M1528.5 469.6 Q1528.4 464.5 1534.7 463.1 Q1541.1 461.7 1547.3 464.3 Q1553.6 466.8 1556.7 472.2 Q1559.8 477.6 1556.8 483.3 Q1553.8 489.1 1551.1 491 Q1548.4 493 1545.1 492.7 Q1541.9 492.4 1536.7 488.2 Q1531.5 484 1530.1 479.4 Q1528.7 474.7 1528.5 469.6Z"/>
<path d="M1718.6 470.5 Q1718.4 465.5 1723.3 464.8 Q1728.1 464.1 1731 466.2 Q1733.8 468.4 1733.4 470.9 Q1732.9 473.3 1730.1 474.8 Q1727.3 476.3 1723 475.9 Q1718.8 475.6 1718.6 470.5Z"/>
<path d="M1735.4 492.5 Q1736.7 489.9 1739.5 488.5 Q1742.2 487 1746 487 Q1749.7 486.9 1753.2 486 Q1756.7 485.2 1760.8 485.2 Q1765 485.3 1768.9 487.6 Q1772.9 489.9 1777 490.2 Q1781 490.5 1784.2 491.9 Q1787.3 493.2 1790.9 495.4 Q1794.5 497.7 1795.8 502.6 Q1797 507.5 1797.3 512.7 Q1797.5 517.9 1796.2 521.5 Q1794.8 525.1 1794.4 530.1 Q1793.9 535 1790.7 535.2 Q1787.5 535.4 1783.2 534.8 Q1779 534.2 1776.2 535 Q1773.3 535.8 1770.1 534.6 Q1766.9 533.5 1762.8 534.2 Q1758.6 535 1755.3 534.7 Q1752 534.5 1747.7 534.8 Q1743.4 535.1 1741 535.3 Q1738.7 535.6 1737.9 531 Q1737.2 526.4 1735.3 523.8 Q1733.4 521.2 1732.7 517.4 Q1731.9 513.5 1732.4 509.7 Q1732.9 505.8 1733.5 500.5 Q1734.2 495.1 1735.4 492.5Z"/>
<path d="M1804.6 447.2 Q1803.8 443.6 1808.3 442.6 Q1812.8 441.5 1816.3 441.7 Q1819.8 442 1826.2 441.1 Q1832.5 440.1 1836.9 441 Q1841.4 441.9 1845.8 441.8 Q1850.2 441.6 1854.3 442.1 Q1858.4 442.7 1862.2 443 Q1865.9 443.3 1866.7 446.4 Q1867.5 449.5 1867 454.5 Q1866.5 459.5 1866.6 464.2 Q1866.8 469 1867 473 Q1867.3 477.1 1862.7 476.6 Q1858 476 1855 474.7 Q1852 473.3 1846.5 473.6 Q1841 473.8 1836 473.7 Q1830.9 473.5 1826.7 471.7 Q1822.6 469.9 1818.4 469.2 Q1814.2 468.4 1810.2 462.8 Q1806.3 457.2 1805.8 454 Q1805.4 450.9 1804.6 447.2Z"/>
<path d="M1837.5 490.7 Q1836.6 486.6 1840.6 486.6 Q1844.7 486.6 1849.4 486 Q1854 485.4 1856.8 486 Q1859.6 486.6 1863.7 486.8 Q1867.8 487.1 1867.5 490.4 Q1867.2 493.7 1867.3 497.5 Q1867.5 501.4 1867.8 505 Q1868.1 508.7 1867.5 513.2 Q1866.8 517.7 1862.7 517.6 Q1858.7 517.5 1854.2 516.6 Q1849.8 515.7 1847.2 512.9 Q1844.6 510.1 1841.7 507.9 Q1838.8 505.7 1838.6 500.3 Q1838.5 494.9 1837.5 490.7Z"/>
<path d="M1801.5 521.8 Q1801.4 517 1805.8 517.8 Q1810.2 518.6 1816.5 516.9 Q1822.7 515.2 1827.5 517.4 Q1832.3 519.5 1836.9 520.5 Q1841.5 521.4 1845.5 521.4 Q1849.4 521.3 1854.3 522.3 Q1859.1 523.2 1863.3 522.9 Q1867.6 522.7 1867.4 528.4 Q1867.2 534.1 1864.3 534 Q1861.4 533.8 1857.8 534.6 Q1854.1 535.4 1849.5 535.5 Q1844.8 535.6 1840.9 535.8 Q1837 535.9 1833.3 535.5 Q1829.7 535.1 1826.7 534.6 Q1823.8 534.1 1819.1 535 Q1814.5 536 1811.7 535.3 Q1808.9 534.7 1805.6 534.5 Q1802.4 534.3 1802 530.4 Q1801.7 526.5 1801.5 521.8Z"/>
<path d="M1302.6 471.8 Q1302 466 1308 465.9 Q1313.9 465.7 1317.1 469.1 Q1320.2 472.5 1315.5 475 Q1310.8 477.5 1307 477.5 Q1303.2 477.6 1302.6 471.8Z"/>
<path d="M1635.9 498.6 Q1635.2 492.6 1640.1 492.4 Q1644.9 492.3 1648 491.3 Q1651 490.2 1655.3 494.2 Q1659.6 498.3 1654.9 502.5 Q1650.3 506.8 1647.2 506.5 Q1644.1 506.3 1640.3 505.5 Q1636.5 504.7 1635.9 498.6Z"/>
</g>
<path d="M1233.3 392.5 L1233.3 408.5 L1237.3 409.2 L1241.3 408.5 L1244.3 408.8 L1247.3 409.1 L1250.3 408.7 L1253.3 410 L1256.3 410.3 L1259.3 410.5 L1262.3 410 L1265.3 410.5 L1268.3 410.1 L1271.3 410.5 L1274.4 412.2 L1277.5 412.8 L1280.5 411.9 L1283.6 413.9 L1286.7 413.6 L1289.8 416 L1292.8 416.6 L1295.9 416.4 L1299 418.1 L1302.1 418.7 L1305.1 417.9 L1308.2 419.8 L1311.3 420.5 L1314.4 420.4 L1317.5 419.9 L1320.7 420.2 L1323.8 422.4 L1326.9 422.1 L1330 421.1 L1333.2 422.2 L1336.3 422.4 L1339.4 421.9 L1342.5 422.3 L1345.7 423.9 L1348.8 424 L1351.9 424 L1355 424.3 L1358.2 425.8 L1361.3 425 L1364.4 425.3 L1367.5 425.2 L1370.7 425.4 L1373.8 425.7 L1376.9 427.1 L1380 425.7 L1383.2 425.6 L1386.3 425.4 L1389.4 426.2 L1392.5 425.8 L1395.7 428 L1398.8 426.5 L1401.9 426.9 L1405 428.6 L1408.2 427 L1411.3 428 L1414.4 427.8 L1417.5 427.3 L1420.7 427.8 L1423.8 429.7 L1426.9 429.7 L1430 429.5 L1433.2 427.9 L1436.3 427.8 L1439.4 428.6 L1442.5 429.7 L1445.7 429.5 L1448.8 428.7 L1451.9 428.9 L1455 430.9 L1458.2 429.8 L1461.3 430 L1464.4 430.4 L1467.5 431.1 L1470.7 431.2 L1473.8 430.6 L1476.9 429.5 L1480 431.7 L1483.2 430.5 L1486.3 429.6 L1489.4 431.9 L1492.5 430.3 L1495.7 432 L1498.8 431.5 L1501.9 431.7 L1505 431.2 L1508.2 431.3 L1511.3 431.5 L1514.4 430.4 L1517.5 432.8 L1520.7 430.9 L1523.8 431.9 L1526.9 432.1 L1530 431.3 L1533.2 431.8 L1536.3 431.8 L1539.4 431.7 L1542.5 432.9 L1545.7 432.2 L1548.8 433.7 L1551.9 432.5 L1555 431.8 L1558.2 433 L1561.3 433 L1564.4 432.9 L1567.5 432.4 L1570.5 432.7 L1573.6 433.1 L1576.7 432.7 L1579.8 433.2 L1582.8 433 L1585.9 434.7 L1589 432.8 L1592.1 432.6 L1595.1 434.9 L1598.2 434.6 L1601.3 434 L1604.4 433.5 L1607.5 433.4 L1610.7 435 L1613.8 433.5 L1616.9 433.8 L1620 433.8 L1623.2 435.1 L1626.3 434.3 L1629.4 435.5 L1632.5 434.6 L1635.7 436.2 L1638.8 436.3 L1641.9 435.9 L1645 435.3 L1648.2 436.1 L1651.3 436.5 L1654.4 435.8 L1657.5 437 L1660.5 434.7 L1663.6 435.5 L1666.7 435.8 L1669.8 435.1 L1672.8 433.7 L1675.9 434.5 L1679 433.6 L1682.1 433.7 L1685.1 434.9 L1688.2 434.4 L1691.3 433.5 L1694.4 432 L1697.5 431.9 L1700.5 432.8 L1703.6 432 L1706.7 431 L1709.8 431.3 L1712.8 429.3 L1715.9 428.7 L1719 430.3 L1722.1 429.9 L1725.1 429.3 L1728.2 427.6 L1731.3 427.5 L1734.4 427.8 L1737.5 428.1 L1740.7 427.8 L1743.8 427.2 L1746.9 427.2 L1750 427.1 L1753.2 426.1 L1756.3 426.4 L1759.4 427.9 L1762.5 425.9 L1765.7 427.6 L1768.8 426.3 L1771.9 427.9 L1775 425.5 L1778.2 426.3 L1781.3 426.5 L1784.4 425.6 L1787.5 427.2 L1790.5 426.1 L1793.6 427.5 L1796.7 426.7 L1799.8 427.5 L1802.8 427.4 L1805.9 426.2 L1809 426.6 L1812.1 426.5 L1815.1 427.2 L1818.2 426.1 L1821.3 426.5 L1824.4 425.8 L1827.4 426.8 L1830.5 425.1 L1833.6 426.7 L1836.6 425.8 L1839.7 426.3 L1842.8 426.1 L1845.8 427.1 L1848.9 426.9 L1852 425.2 L1855 426.3 L1858.1 425.6 L1861.2 426.8 L1864.2 424.7 L1867.3 425.5 L1870.9 426.2 L1874.6 425.5 L1874.6 392.5Z" fill="#020004" filter="url(#rag)"/>
</g>
<clipPath id="mc3"><rect x="1241.3" y="543.3" width="624.5" height="133.3"/></clipPath>
<g clip-path="url(#mc3)">
<rect x="1241.3" y="543.3" width="624.5" height="133.3" fill="#1a10a8" filter="url(#tex1)"/>
<g filter="url(#soft)" fill="#000" fill-opacity="0.4">
<path d="M1618.8 668.8 Q1616.3 667 1616.1 663.6 Q1616 660.2 1619.3 657.8 Q1622.6 655.3 1627 654.6 Q1631.4 653.9 1631.8 657.9 Q1632.2 661.9 1633.2 663.7 Q1634.1 665.6 1635.1 669.7 Q1636.1 673.9 1631.3 674.7 Q1626.6 675.4 1624 673 Q1621.3 670.5 1618.8 668.8Z"/>
<path d="M1710.1 590.6 Q1709.8 592.3 1708.7 594.1 Q1707.6 595.9 1704.6 595.3 Q1701.6 594.6 1700.2 591.8 Q1698.8 589 1697.3 586.2 Q1695.8 583.4 1696.8 580.5 Q1697.8 577.5 1701.4 580.5 Q1705.1 583.4 1707.2 584.2 Q1709.4 584.9 1709.8 587 Q1710.3 589 1710.1 590.6Z"/>
<path d="M1658.3 620.3 Q1654.7 622 1655.6 619.3 Q1656.5 616.5 1657.5 613.6 Q1658.5 610.7 1661.8 609.8 Q1665.1 608.8 1667.4 608.1 Q1669.7 607.4 1672.9 607.3 Q1676 607.1 1672.7 610.5 Q1669.4 613.9 1667.5 615.7 Q1665.5 617.4 1663.7 618 Q1661.9 618.5 1658.3 620.3Z"/>
<path d="M1665.1 661.3 Q1662.7 662 1660.9 661.9 Q1659 661.7 1657.4 661 Q1655.7 660.3 1656.2 658.6 Q1656.6 656.9 1656.2 654.3 Q1655.9 651.7 1658.7 652.4 Q1661.6 653.2 1663.8 653 Q1666 652.8 1667.3 654.4 Q1668.6 656.1 1668 658.3 Q1667.4 660.5 1665.1 661.3Z"/>
<path d="M1548.6 632.2 Q1548.4 633.7 1548 635.5 Q1547.6 637.3 1542.4 633.9 Q1537.3 630.6 1533.4 627.4 Q1529.5 624.2 1529.3 622.5 Q1529 620.7 1529.3 619.7 Q1529.7 618.7 1531.1 617.8 Q1532.6 616.9 1536.9 620.6 Q1541.2 624.3 1545 627.5 Q1548.8 630.6 1548.6 632.2Z"/>
<path d="M1390.2 610 Q1387 609.8 1385.2 607.5 Q1383.4 605.2 1380.3 602.5 Q1377.1 599.7 1379.8 597.9 Q1382.5 596 1385.9 596.9 Q1389.3 597.8 1391.7 598.6 Q1394 599.5 1398.5 601.3 Q1403 603.1 1400.1 605.3 Q1397.3 607.4 1395.4 608.8 Q1393.4 610.2 1390.2 610Z"/>
<path d="M1298.7 670.7 Q1296.2 669.4 1295.4 666.9 Q1294.6 664.5 1295.4 662.3 Q1296.2 660.2 1297.4 657.4 Q1298.7 654.7 1301.2 656 Q1303.7 657.3 1306.3 658 Q1308.9 658.7 1310.4 661.7 Q1311.9 664.7 1309.9 667.9 Q1307.9 671 1304.6 671.5 Q1301.2 672 1298.7 670.7Z"/>
<path d="M1621.8 594.9 Q1617.7 595.1 1615.2 597.7 Q1612.8 600.3 1609.4 596.8 Q1606 593.4 1602.4 588.6 Q1598.7 583.7 1600.3 578.8 Q1601.8 573.9 1606 573.8 Q1610.2 573.7 1614.1 574.8 Q1617.9 575.9 1620.6 580.2 Q1623.4 584.4 1624.7 589.6 Q1626 594.7 1621.8 594.9Z"/>
<path d="M1647.4 638.1 Q1646.8 641.3 1646.2 644.4 Q1645.7 647.6 1643.2 646.7 Q1640.6 645.9 1637.9 647.1 Q1635.2 648.3 1634.8 645.2 Q1634.3 642 1634.7 639.2 Q1635.1 636.5 1637.2 635.6 Q1639.2 634.7 1641.3 633.5 Q1643.3 632.3 1645.6 633.6 Q1648 635 1647.4 638.1Z"/>
<path d="M1271.3 677.3 Q1268.2 680.1 1266.2 676.4 Q1264.2 672.6 1263.7 666.9 Q1263.2 661.1 1265.1 655.6 Q1267 650 1269.4 646.4 Q1271.8 642.9 1273.9 644.3 Q1276.1 645.7 1276.4 650 Q1276.7 654.3 1278.2 659.2 Q1279.7 664.1 1277.1 669.3 Q1274.5 674.4 1271.3 677.3Z"/>
<path d="M1232.1 658.1 Q1231.5 656.2 1230.2 654.2 Q1228.9 652.3 1233.6 649.3 Q1238.4 646.4 1244.2 646.3 Q1250.1 646.1 1253.1 647 Q1256 647.9 1255.4 649.8 Q1254.9 651.6 1254.3 653.9 Q1253.8 656.2 1248.3 657.4 Q1242.8 658.6 1237.7 659.3 Q1232.7 660 1232.1 658.1Z"/>
<path d="M1622.1 603.7 Q1620.1 605.2 1620.7 602.4 Q1621.2 599.5 1622.1 597.2 Q1623.1 594.9 1624.4 591.7 Q1625.7 588.6 1627.5 587.6 Q1629.3 586.6 1631.1 586 Q1632.9 585.4 1632.3 588.4 Q1631.8 591.4 1629.8 594.7 Q1627.8 597.9 1626 600 Q1624.1 602.1 1622.1 603.7Z"/>
<path d="M1609.8 642.2 Q1608.8 645.3 1605.8 644.2 Q1602.8 643.1 1601.3 640.1 Q1599.8 637 1597.4 634.1 Q1595 631.2 1596.8 629 Q1598.5 626.8 1600.5 625.9 Q1602.4 625 1605.1 625.4 Q1607.9 625.9 1610.7 629.1 Q1613.6 632.3 1612.2 635.7 Q1610.8 639 1609.8 642.2Z"/>
<path d="M1483.9 640.3 Q1482.8 638.4 1481.5 635.4 Q1480.2 632.3 1485 631.2 Q1489.7 630 1494.3 630.3 Q1498.8 630.6 1501.5 632.8 Q1504.3 634.9 1506.1 637.9 Q1507.9 641 1504.9 644.3 Q1502 647.6 1495.9 648.2 Q1489.8 648.7 1487.4 645.5 Q1485.1 642.2 1483.9 640.3Z"/>
<path d="M1537.4 665 Q1537.2 667.6 1535 666.3 Q1532.7 664.9 1531.2 662.9 Q1529.8 660.9 1529.3 658.8 Q1528.9 656.8 1528.9 654.9 Q1528.8 653.1 1529.3 650.5 Q1529.9 647.9 1531.9 651 Q1533.8 654.1 1535.5 655.8 Q1537.2 657.5 1537.4 659.9 Q1537.6 662.4 1537.4 665Z"/>
<path d="M1752.2 660.5 Q1750.8 661.2 1750 662.2 Q1749.2 663.2 1747.1 663.2 Q1745.1 663.2 1744.5 661 Q1744 658.9 1743.4 657.1 Q1742.8 655.3 1744.2 654.5 Q1745.5 653.7 1747.2 653 Q1749 652.4 1750.2 654.4 Q1751.4 656.5 1752.5 658.1 Q1753.6 659.7 1752.2 660.5Z"/>
<path d="M1316 615.5 Q1313.5 613.4 1311.4 612.5 Q1309.3 611.6 1308.3 609.5 Q1307.3 607.4 1309.3 606.4 Q1311.3 605.4 1313.1 603.7 Q1314.9 602 1316.4 604.7 Q1317.9 607.3 1319.5 608.5 Q1321 609.7 1322.3 612.3 Q1323.5 614.9 1321 616.3 Q1318.5 617.6 1316 615.5Z"/>
<path d="M1556.6 595.5 Q1554 596.3 1551.9 596 Q1549.8 595.7 1546.8 594.9 Q1543.9 594 1545 590.8 Q1546.2 587.6 1544.7 583.8 Q1543.2 580 1546 580.5 Q1548.8 581 1551.7 580.4 Q1554.5 579.7 1556.6 583.4 Q1558.7 587 1558.9 590.9 Q1559.2 594.7 1556.6 595.5Z"/>
<path d="M1575.3 661.4 Q1575.2 662.7 1575.5 665.5 Q1575.7 668.4 1573 667.2 Q1570.3 666 1568.9 664.8 Q1567.6 663.5 1565.1 661.8 Q1562.7 660.1 1564 657.9 Q1565.2 655.7 1567.7 655.2 Q1570.2 654.7 1572.2 655.9 Q1574.1 657.2 1574.8 658.7 Q1575.5 660.2 1575.3 661.4Z"/>
<path d="M1327.5 640.8 Q1327.7 643.4 1326.8 647.2 Q1325.9 651.1 1320.5 647.7 Q1315.1 644.3 1312.2 639.3 Q1309.3 634.3 1307.9 629.9 Q1306.5 625.6 1310.5 626.4 Q1314.6 627.2 1317 627.5 Q1319.5 627.7 1325 629 Q1330.6 630.2 1328.9 634.2 Q1327.2 638.3 1327.5 640.8Z"/>
<path d="M1758.1 590.8 Q1759.3 592.8 1758.1 594.4 Q1756.9 595.9 1751.1 594.3 Q1745.3 592.7 1739.7 591.2 Q1734 589.8 1731.8 587.3 Q1729.6 584.9 1729.2 582.9 Q1728.8 580.9 1733.7 581.5 Q1738.6 582.1 1743.8 582.9 Q1749 583.7 1752.9 586.2 Q1756.8 588.7 1758.1 590.8Z"/>
<path d="M1496.6 622.7 Q1495.8 623.4 1494.5 625.8 Q1493.2 628.3 1492.5 622.3 Q1491.7 616.3 1491.1 610.2 Q1490.6 604 1491.8 602.3 Q1493.1 600.6 1494.2 600.2 Q1495.3 599.8 1496.4 602.6 Q1497.6 605.3 1498.3 610.6 Q1499 615.9 1498.2 619 Q1497.4 622.1 1496.6 622.7Z"/>
<path d="M1281.1 624.1 Q1281.3 626.5 1279.5 628.2 Q1277.7 629.9 1275.7 629.2 Q1273.7 628.4 1271 628.6 Q1268.3 628.9 1268.6 626.1 Q1268.9 623.3 1269 620.3 Q1269.2 617.2 1272 617.6 Q1274.9 617.9 1276.9 617.8 Q1279 617.8 1279.9 619.7 Q1280.8 621.7 1281.1 624.1Z"/>
<path d="M1692.8 612.3 Q1695.3 616.4 1690.7 615.2 Q1686.1 614.1 1682.5 614.7 Q1679 615.3 1676.1 611.5 Q1673.1 607.8 1672.7 604.9 Q1672.3 602 1673.8 600.4 Q1675.2 598.9 1678.1 599.4 Q1681.1 600 1683.5 601.8 Q1685.9 603.7 1688.1 605.9 Q1690.3 608.1 1692.8 612.3Z"/>
<path d="M1833.3 591.8 Q1831.9 592.7 1830.6 595.5 Q1829.3 598.4 1826.5 595.3 Q1823.8 592.2 1821.9 588.7 Q1820.1 585.3 1820.8 582.5 Q1821.6 579.8 1822.8 576.7 Q1824.1 573.7 1827.4 576.4 Q1830.8 579.2 1833.5 582.1 Q1836.2 585 1835.5 587.9 Q1834.7 590.9 1833.3 591.8Z"/>
<path d="M1484.7 646.6 Q1482.1 644.2 1480.6 641 Q1479 637.8 1482.8 633 Q1486.6 628.1 1492.6 625.1 Q1498.7 622.1 1501 625.2 Q1503.4 628.2 1508.2 628.7 Q1513 629.2 1511.9 634.1 Q1510.8 639.1 1504.7 643.1 Q1498.5 647 1492.9 648 Q1487.2 648.9 1484.7 646.6Z"/>
<path d="M1249.5 613 Q1246.6 614 1245.7 611.1 Q1244.8 608.3 1242.8 606.5 Q1240.8 604.8 1240.8 602.2 Q1240.8 599.6 1244.4 599.4 Q1248 599.1 1250.2 601.6 Q1252.4 604.2 1254.4 605.5 Q1256.5 606.8 1258.3 609.5 Q1260 612.2 1256.2 612.1 Q1252.5 612 1249.5 613Z"/>
<path d="M1588.5 592.5 Q1585.7 593.3 1582.9 594.1 Q1580 594.9 1576.4 591.9 Q1572.8 588.9 1570.7 582.3 Q1568.7 575.7 1572.3 572.5 Q1575.9 569.4 1579.4 569.2 Q1582.8 568.9 1585.4 572.4 Q1587.9 575.9 1590 579.5 Q1592.2 583.2 1591.7 587.5 Q1591.2 591.7 1588.5 592.5Z"/>
<path d="M1767.4 618.3 Q1765.8 619.6 1764.4 620.3 Q1763 621 1760.4 622.5 Q1757.9 623.9 1753 621.7 Q1748.2 619.5 1746.3 617.9 Q1744.4 616.2 1746 615.4 Q1747.7 614.6 1749.3 614 Q1751 613.3 1755.4 613.2 Q1759.7 613.1 1764.3 615 Q1768.9 616.9 1767.4 618.3Z"/>
<path d="M1583.8 609.1 Q1582.9 608.1 1578.6 607.9 Q1574.4 607.8 1579.5 603.8 Q1584.7 599.9 1589.6 596.1 Q1594.5 592.3 1599.6 591.2 Q1604.7 590 1601.7 594.5 Q1598.8 599 1597.2 601.1 Q1595.6 603.2 1593.3 605.7 Q1591 608.2 1587.9 609.1 Q1584.8 610.1 1583.8 609.1Z"/>
<path d="M1691.3 635.2 Q1690.9 639.3 1686.9 638.2 Q1683 637.1 1679.1 636.6 Q1675.2 636.2 1671.5 632.2 Q1667.8 628.1 1672.6 625.7 Q1677.3 623.2 1678.5 619.3 Q1679.7 615.4 1684.4 614.7 Q1689.2 614 1692.5 618.4 Q1695.8 622.8 1693.8 626.9 Q1691.7 631 1691.3 635.2Z"/>
<path d="M1683.5 615.9 Q1681.5 617.8 1682 615.4 Q1682.6 613 1683.6 610.5 Q1684.7 608 1686.3 606 Q1687.8 604 1690.5 599.9 Q1693.2 595.8 1693.3 598.1 Q1693.3 600.3 1692.4 602.8 Q1691.6 605.3 1690.7 608.9 Q1689.8 612.5 1687.6 613.2 Q1685.5 614 1683.5 615.9Z"/>
<path d="M1484.8 578.6 Q1484.5 581.5 1481.4 581.2 Q1478.2 580.8 1475.7 582 Q1473.1 583.1 1471.8 580.5 Q1470.5 578 1469.6 575.4 Q1468.7 572.8 1470.2 570.4 Q1471.7 568.1 1474.7 567.3 Q1477.6 566.6 1480.6 568.2 Q1483.5 569.7 1484.3 572.7 Q1485.1 575.7 1484.8 578.6Z"/>
<path d="M1314.7 612.1 Q1310 612.3 1309.8 607.5 Q1309.5 602.7 1305.2 599.4 Q1300.9 596.2 1303.8 592.3 Q1306.8 588.4 1311.5 587.3 Q1316.2 586.1 1319.1 589.7 Q1321.9 593.2 1323.2 596.1 Q1324.6 599 1324.7 602.4 Q1324.8 605.9 1322.1 608.9 Q1319.3 612 1314.7 612.1Z"/>
</g>
<g fill="#000" fill-opacity="0.92" stroke="#f01c2c" stroke-opacity="0.85" stroke-width="1.5" filter="url(#soft2)">
<path d="M1244.6 633.1 Q1242 631.7 1239.4 633.7 Q1236.8 635.7 1235.9 631.9 Q1234.9 628 1235 624.5 Q1235 620.9 1237.2 619.7 Q1239.4 618.5 1241.5 616.6 Q1243.7 614.6 1245.7 617.3 Q1247.7 620 1246.7 623.4 Q1245.7 626.7 1246.5 630.6 Q1247.3 634.5 1244.6 633.1Z"/>
<path d="M1853.1 609.9 Q1854.9 610.8 1853.6 611.2 Q1852.4 611.7 1850.5 611.2 Q1848.6 610.7 1846.6 610.7 Q1844.5 610.7 1843.8 609.7 Q1843.2 608.8 1843.1 608 Q1843.1 607.3 1844.8 607.3 Q1846.5 607.4 1848 607.6 Q1849.5 607.9 1850.4 608.5 Q1851.3 609.1 1853.1 609.9Z"/>
<path d="M1492.7 652.5 Q1492.3 652.5 1492.2 652.9 Q1492.1 653.3 1491.4 652.7 Q1490.6 652.1 1489.9 651.3 Q1489.3 650.5 1489.4 650.2 Q1489.5 649.9 1489.7 649.9 Q1490 650 1490.2 649.6 Q1490.3 649.3 1491 650.1 Q1491.7 650.9 1492.4 651.7 Q1493.1 652.5 1492.7 652.5Z"/>
<path d="M1727.7 575.3 Q1728 576.1 1727.4 576.7 Q1726.8 577.2 1724.5 576.8 Q1722.2 576.4 1719.6 575.9 Q1717 575.5 1716.1 574.5 Q1715.2 573.6 1716.5 573.3 Q1717.7 573.1 1718.8 573.1 Q1719.9 573.1 1721.8 572.8 Q1723.6 572.5 1725.5 573.5 Q1727.3 574.6 1727.7 575.3Z"/>
<path d="M1750.7 606.5 Q1751.1 605.6 1751.7 605 Q1752.3 604.5 1753.2 604.1 Q1754.1 603.7 1755.6 603.5 Q1757 603.3 1758.8 603.6 Q1760.6 603.9 1760 604.8 Q1759.5 605.8 1758.6 606.5 Q1757.7 607.2 1756 607 Q1754.4 606.8 1752.3 607.2 Q1750.3 607.5 1750.7 606.5Z"/>
<path d="M1741.4 606 Q1742.8 607.6 1741.1 608.4 Q1739.5 609.3 1737.1 608.3 Q1734.7 607.3 1732.7 607.2 Q1730.7 607.1 1729.4 605.7 Q1728.2 604.4 1728.1 602.9 Q1728.1 601.5 1730 600.9 Q1732 600.3 1734.2 601.5 Q1736.4 602.7 1738.2 603.5 Q1740 604.4 1741.4 606Z"/>
<path d="M1838.3 652.4 Q1838.6 653.2 1838.1 653.9 Q1837.6 654.7 1836.3 654.1 Q1835 653.6 1834 653.1 Q1832.9 652.7 1832.1 651.7 Q1831.4 650.8 1832.4 650.5 Q1833.4 650.2 1833.8 649.2 Q1834.2 648.2 1835.8 648.8 Q1837.3 649.4 1837.7 650.5 Q1838 651.6 1838.3 652.4Z"/>
<path d="M1740.3 657.3 Q1739.7 657.2 1740.2 656.6 Q1740.7 655.9 1741.2 655.2 Q1741.7 654.4 1742.7 654.1 Q1743.8 653.9 1744.6 653.6 Q1745.4 653.3 1745.1 653.8 Q1744.9 654.3 1745.1 654.7 Q1745.3 655 1744.2 655.6 Q1743.1 656.2 1741.9 656.8 Q1740.8 657.4 1740.3 657.3Z"/>
<path d="M1322.4 624.4 Q1322 624.7 1321.3 625.5 Q1320.7 626.3 1320.1 625 Q1319.6 623.6 1319.4 622.1 Q1319.2 620.7 1319.7 619.6 Q1320.2 618.5 1320.9 618.7 Q1321.7 618.9 1322.3 619.8 Q1322.8 620.7 1323.5 621.8 Q1324.2 622.9 1323.4 623.5 Q1322.7 624.2 1322.4 624.4Z"/>
<path d="M1628.4 639.7 Q1632 641.6 1628.2 642.6 Q1624.4 643.6 1622.3 644.9 Q1620.2 646.3 1618.1 644.5 Q1616 642.8 1612.8 641.8 Q1609.5 640.8 1608.4 637.9 Q1607.4 635 1611.5 634.4 Q1615.5 633.8 1618.9 633.5 Q1622.2 633.3 1623.4 635.5 Q1624.7 637.7 1628.4 639.7Z"/>
<path d="M1748.7 630.5 Q1747.8 631.1 1747.1 630.1 Q1746.3 629 1746.5 627.2 Q1746.6 625.4 1746.8 624.4 Q1746.9 623.4 1747.2 622.4 Q1747.5 621.4 1748 621.7 Q1748.5 621.9 1749.1 622.3 Q1749.6 622.7 1749.9 624.3 Q1750.1 625.8 1749.9 627.8 Q1749.6 629.8 1748.7 630.5Z"/>
<path d="M1771.9 606.9 Q1771.5 607.4 1771.2 607.8 Q1770.9 608.2 1770.1 608 Q1769.3 607.8 1768.6 607.4 Q1767.8 606.9 1767.8 606.3 Q1767.7 605.8 1767.7 605.3 Q1767.7 604.7 1768.4 604.7 Q1769.1 604.6 1770 604.8 Q1770.9 605 1771.6 605.7 Q1772.2 606.4 1771.9 606.9Z"/>
<path d="M1695.5 578.8 Q1693.5 579 1691.5 578.4 Q1689.5 577.7 1690.1 573.7 Q1690.6 569.7 1691.8 566.7 Q1693 563.6 1694.8 561.3 Q1696.6 559 1698.1 560.1 Q1699.6 561.2 1700.3 563.5 Q1700.9 565.9 1700.7 569 Q1700.5 572.1 1699 575.3 Q1697.5 578.5 1695.5 578.8Z"/>
<path d="M1304.8 574.6 Q1304.6 575.2 1304.1 575.2 Q1303.6 575.1 1303.3 574.2 Q1303 573.3 1302.6 572.6 Q1302.2 572 1302.4 571.6 Q1302.7 571.1 1302.9 570.5 Q1303.2 569.9 1303.8 570.5 Q1304.4 571 1304.6 571.9 Q1304.9 572.7 1304.9 573.4 Q1305 574 1304.8 574.6Z"/>
<path d="M1610.7 635.1 Q1610.5 635.9 1609.9 636.5 Q1609.2 637 1608 636.7 Q1606.8 636.5 1605.8 636.2 Q1604.8 636 1603.8 635.4 Q1602.9 634.7 1602.5 633.8 Q1602.1 632.8 1603.5 632.5 Q1604.9 632.2 1606.3 632.8 Q1607.7 633.4 1609.3 633.8 Q1610.9 634.3 1610.7 635.1Z"/>
<path d="M1297.8 650.2 Q1297.5 650.1 1297.5 649.8 Q1297.5 649.5 1297.5 648.9 Q1297.5 648.3 1298.2 647.6 Q1298.9 647 1299.5 646.4 Q1300.1 645.8 1300.6 645.7 Q1301.1 645.5 1300.7 646.5 Q1300.3 647.4 1299.7 648.2 Q1299.1 649.1 1298.5 649.7 Q1298 650.3 1297.8 650.2Z"/>
<path d="M1475.2 650.3 Q1474.8 650.5 1474.3 650.7 Q1473.8 651 1473.5 650 Q1473.2 649 1472.5 648.1 Q1471.9 647.1 1472.5 646.9 Q1473.1 646.7 1473.5 646.6 Q1473.8 646.6 1474.4 646.4 Q1475 646.3 1475.2 647.3 Q1475.5 648.4 1475.6 649.3 Q1475.7 650.2 1475.2 650.3Z"/>
<path d="M1660.7 642.3 Q1659.2 642.3 1660.4 641.4 Q1661.6 640.6 1662.9 639.9 Q1664.2 639.2 1665.6 639.2 Q1666.9 639.1 1669.3 638.5 Q1671.7 637.9 1671.7 638.6 Q1671.7 639.3 1669.9 640 Q1668 640.8 1666.5 641.5 Q1665 642.1 1663.6 642.2 Q1662.2 642.3 1660.7 642.3Z"/>
<path d="M1313.2 631.1 Q1312.6 631.1 1313.3 630.7 Q1314 630.2 1314.1 629.8 Q1314.3 629.4 1315.2 629.2 Q1316 629 1316.5 629.1 Q1317 629.1 1317.3 629.3 Q1317.7 629.5 1316.8 629.8 Q1315.9 630.2 1315.5 630.6 Q1315 631 1314.4 631.1 Q1313.7 631.2 1313.2 631.1Z"/>
<path d="M1814.2 612.8 Q1814 611.9 1814 611.3 Q1814.1 610.8 1814.5 610.2 Q1814.9 609.7 1815.6 608.6 Q1816.3 607.5 1816.9 608.2 Q1817.5 608.8 1817.6 609.4 Q1817.6 610 1818 610.6 Q1818.4 611.3 1817.5 612 Q1816.7 612.7 1815.5 613.2 Q1814.4 613.7 1814.2 612.8Z"/>
<path d="M1413.6 574.7 Q1413.3 574.2 1412.7 574.2 Q1412.1 574.3 1412.5 573.4 Q1412.9 572.6 1413.4 571.8 Q1413.8 571.1 1414.5 570.7 Q1415.1 570.3 1415.6 570.4 Q1416.1 570.5 1415.6 571.5 Q1415.1 572.5 1414.9 573 Q1414.8 573.5 1414.3 574.4 Q1413.8 575.3 1413.6 574.7Z"/>
<path d="M1801.1 646.3 Q1798.8 648.8 1797 644.9 Q1795.2 641 1792 639.9 Q1788.8 638.7 1791.1 635.6 Q1793.5 632.5 1793.5 627.8 Q1793.6 623.1 1796.5 624.4 Q1799.4 625.7 1801.8 627.5 Q1804.1 629.3 1804.3 633 Q1804.4 636.8 1803.9 640.4 Q1803.3 643.9 1801.1 646.3Z"/>
<path d="M1412.2 676.1 Q1411.4 673.9 1409.5 673.1 Q1407.5 672.2 1410.7 668.8 Q1414 665.4 1416.4 663.4 Q1418.8 661.4 1420.6 661.2 Q1422.4 660.9 1426.2 659.5 Q1429.9 658.1 1426.8 662.1 Q1423.8 666.1 1422.2 669.4 Q1420.5 672.7 1416.8 675.4 Q1413 678.2 1412.2 676.1Z"/>
<path d="M1709 671.1 Q1708.7 672.5 1706.8 671.7 Q1704.9 671 1702.5 669.3 Q1700.2 667.5 1697.6 664.7 Q1695 661.9 1695.2 660.6 Q1695.3 659.2 1695 657.5 Q1694.6 655.7 1697 657.4 Q1699.5 659.1 1701.7 661.4 Q1703.9 663.7 1706.6 666.7 Q1709.2 669.7 1709 671.1Z"/>
<path d="M1812 576.1 Q1811.9 575.4 1811.2 575.3 Q1810.5 575.1 1811.3 574.5 Q1812.1 573.9 1812.6 573.6 Q1813 573.3 1813.5 573.3 Q1814 573.2 1814.4 573.4 Q1814.9 573.6 1814.7 574.1 Q1814.5 574.7 1814.1 575.4 Q1813.6 576 1812.9 576.3 Q1812.1 576.7 1812 576.1Z"/>
<path d="M1647.1 629.1 Q1646.5 629.1 1646.2 628.6 Q1645.8 628.1 1646.3 627.4 Q1646.8 626.6 1647.4 626 Q1648 625.4 1648.6 625.6 Q1649.1 625.8 1650 625.7 Q1650.9 625.6 1650.1 626.5 Q1649.3 627.4 1649.3 628.3 Q1649.3 629.2 1648.5 629.1 Q1647.7 629.1 1647.1 629.1Z"/>
<path d="M1844.7 665 Q1844.4 665.8 1843.7 666.2 Q1843 666.7 1842.7 664.9 Q1842.3 663.2 1842.1 662.2 Q1842 661.1 1841.8 659.5 Q1841.7 658 1842.4 657.1 Q1843.2 656.3 1844 658 Q1844.8 659.7 1844.9 661.1 Q1844.9 662.5 1845 663.4 Q1845 664.3 1844.7 665Z"/>
<path d="M1714.9 579.1 Q1714.5 578.9 1714.3 578.5 Q1714.1 578 1714.3 577.4 Q1714.5 576.7 1715.2 576.3 Q1716 575.9 1716.4 576.1 Q1716.9 576.3 1717.4 576.4 Q1717.9 576.5 1718 577.2 Q1718 577.8 1717.3 578.3 Q1716.5 578.8 1715.9 579 Q1715.3 579.2 1714.9 579.1Z"/>
<path d="M1394.7 672.9 Q1394.5 673.3 1394 673.5 Q1393.6 673.7 1392.6 673.8 Q1391.7 673.9 1390.9 673 Q1390.1 672 1389.5 671.3 Q1389 670.6 1389.5 670.4 Q1390.1 670.2 1390.6 669.9 Q1391.2 669.6 1392.7 669.9 Q1394.2 670.3 1394.6 671.3 Q1394.9 672.4 1394.7 672.9Z"/>
<path d="M1645.6 651.7 Q1647.9 652.1 1646 652.4 Q1644 652.6 1642.8 652.7 Q1641.6 652.8 1639.9 652.8 Q1638.2 652.8 1637.3 652.3 Q1636.3 651.7 1635.6 651.1 Q1635 650.5 1636.6 650.2 Q1638.3 649.9 1640 650.3 Q1641.6 650.7 1642.4 651 Q1643.3 651.2 1645.6 651.7Z"/>
<path d="M1365.1 637.3 Q1364.7 638.2 1363.8 637.8 Q1363 637.5 1362.4 636.7 Q1361.8 635.9 1361.7 635.1 Q1361.6 634.2 1361.5 633.3 Q1361.3 632.3 1362.2 632.7 Q1363 633.2 1363.4 633.4 Q1363.8 633.6 1364.6 634 Q1365.3 634.5 1365.4 635.5 Q1365.5 636.5 1365.1 637.3Z"/>
<path d="M1575.6 628.5 Q1575.8 629.4 1575.2 629.2 Q1574.5 629 1573.8 628.3 Q1573.1 627.6 1573 626.8 Q1573 626 1572.8 625.4 Q1572.6 624.8 1572.9 624.7 Q1573.2 624.6 1573.7 624.7 Q1574.1 624.7 1574.9 625.4 Q1575.7 626.1 1575.6 626.8 Q1575.5 627.6 1575.6 628.5Z"/>
<path d="M1833.6 623.6 Q1832.6 624 1832.2 623.1 Q1831.7 622.2 1832.8 619.5 Q1833.8 616.8 1835.2 615.1 Q1836.7 613.4 1837.5 612.8 Q1838.3 612.1 1839.1 611.7 Q1839.8 611.4 1839.1 613.2 Q1838.4 615.1 1837.8 616.6 Q1837.3 618.1 1836 620.7 Q1834.6 623.3 1833.6 623.6Z"/>
<path d="M1532.6 634.5 Q1532 634.7 1531.5 634.5 Q1531 634.4 1530.5 633.7 Q1530.1 633 1530 631.9 Q1529.8 630.8 1530.6 630.8 Q1531.4 630.8 1531.9 629.9 Q1532.5 629 1532.8 630.1 Q1533.1 631.2 1533.3 631.9 Q1533.4 632.7 1533.3 633.5 Q1533.2 634.3 1532.6 634.5Z"/>
<path d="M1484.7 658.9 Q1484.7 658 1484.8 657.5 Q1484.8 657 1484.8 656.1 Q1484.8 655.2 1485.9 655.2 Q1486.9 655.2 1487.9 655 Q1488.9 654.8 1489.1 655.5 Q1489.2 656.2 1488.8 656.9 Q1488.4 657.6 1487.7 658.1 Q1486.9 658.7 1485.8 659.2 Q1484.6 659.8 1484.7 658.9Z"/>
<path d="M1544.1 633.8 Q1544.9 635.3 1543.2 636.2 Q1541.6 637.1 1539.8 637.6 Q1538 638.2 1536 637.4 Q1534.1 636.6 1532.9 635.5 Q1531.7 634.3 1531.9 633.1 Q1532.2 631.8 1533.3 630.6 Q1534.5 629.5 1537.1 629.4 Q1539.8 629.4 1541.5 630.8 Q1543.2 632.2 1544.1 633.8Z"/>
<path d="M1268.5 577.6 Q1269.5 579.5 1268.3 578.9 Q1267.1 578.4 1265.7 576.9 Q1264.3 575.5 1263.2 573.9 Q1262 572.4 1260.6 570.1 Q1259.2 567.9 1261 569.1 Q1262.8 570.4 1263.5 570.5 Q1264.2 570.6 1265.5 572 Q1266.7 573.5 1267.2 574.7 Q1267.6 575.8 1268.5 577.6Z"/>
<path d="M1771.1 631.9 Q1771.8 632.9 1770.7 633 Q1769.6 633.1 1768.7 633.1 Q1767.7 633 1767.1 632.3 Q1766.4 631.5 1765.9 630.8 Q1765.3 630 1765.8 629.4 Q1766.2 628.8 1766.9 627.9 Q1767.7 627.1 1769 628 Q1770.4 628.8 1770.4 629.9 Q1770.4 630.9 1771.1 631.9Z"/>
<path d="M1726.3 581.3 Q1725.8 582.4 1725 581.2 Q1724.1 579.9 1723.8 578.5 Q1723.5 577 1722.5 575.1 Q1721.5 573.2 1722 571.8 Q1722.5 570.4 1723.4 571 Q1724.3 571.6 1725.3 571.9 Q1726.3 572.2 1726.8 574.5 Q1727.2 576.9 1727 578.5 Q1726.8 580.2 1726.3 581.3Z"/>
<path d="M1652.7 680.7 Q1650.6 681.2 1649.7 678.6 Q1648.9 675.9 1647.4 674.2 Q1645.8 672.4 1646.2 668.4 Q1646.7 664.5 1649.2 664.5 Q1651.8 664.5 1654.2 662.5 Q1656.7 660.6 1658.2 663.6 Q1659.7 666.6 1658.7 670.5 Q1657.7 674.3 1656.3 677.2 Q1654.9 680.2 1652.7 680.7Z"/>
<path d="M1288.5 662.6 Q1288 660.8 1288.6 659.1 Q1289.1 657.5 1290.7 655.5 Q1292.3 653.5 1295.4 653.6 Q1298.5 653.6 1301.3 654.4 Q1304 655.2 1303.2 657.3 Q1302.5 659.4 1301.6 661.4 Q1300.8 663.3 1297.8 664 Q1294.9 664.7 1291.9 664.6 Q1289 664.5 1288.5 662.6Z"/>
<path d="M1618.1 670.1 Q1617.7 670 1617.4 670 Q1617 670 1616.4 669.7 Q1615.7 669.3 1615.2 668.1 Q1614.7 666.8 1614.5 665.6 Q1614.3 664.5 1615.1 665.1 Q1615.8 665.7 1616.3 665.8 Q1616.8 665.8 1617.5 666.9 Q1618.1 668 1618.3 669 Q1618.5 670.1 1618.1 670.1Z"/>
<path d="M1578.1 568.4 Q1577.7 567.8 1578.3 567.3 Q1578.9 566.8 1579.6 566.2 Q1580.2 565.6 1581.7 565.5 Q1583.2 565.4 1584.4 565.7 Q1585.6 566.1 1585.4 566.8 Q1585.1 567.6 1583.8 567.9 Q1582.6 568.2 1581.7 568.9 Q1580.7 569.5 1579.6 569.2 Q1578.4 568.9 1578.1 568.4Z"/>
<path d="M1543.4 639.8 Q1543.2 638.9 1542.8 638.5 Q1542.5 638.1 1542.3 636.9 Q1542.1 635.8 1543.5 634.9 Q1544.9 634 1546.1 633.3 Q1547.2 632.6 1548.2 632.7 Q1549.1 632.9 1547.9 634.6 Q1546.7 636.3 1546.2 637.2 Q1545.8 638.1 1544.7 639.3 Q1543.7 640.6 1543.4 639.8Z"/>
<path d="M1637.8 616.1 Q1636.5 615.5 1637.5 613.3 Q1638.5 611 1638.2 609.2 Q1637.9 607.5 1640.3 606.2 Q1642.7 605 1645 603 Q1647.3 601.1 1648.6 601.7 Q1649.9 602.4 1649.1 604.9 Q1648.3 607.4 1646.3 610.2 Q1644.2 612.9 1641.6 614.8 Q1639.1 616.7 1637.8 616.1Z"/>
<path d="M1441.8 614.5 Q1440.9 616.5 1438.8 616.9 Q1436.7 617.2 1433.2 614 Q1429.8 610.7 1427.7 606.5 Q1425.6 602.3 1425.9 600 Q1426.3 597.8 1427.4 596.9 Q1428.6 596 1430.8 598.3 Q1433.1 600.6 1436.6 602.3 Q1440 603.9 1441.4 608.2 Q1442.7 612.4 1441.8 614.5Z"/>
<path d="M1566 647.1 Q1564.3 646.7 1564.2 645 Q1564 643.4 1565.2 641.1 Q1566.4 638.8 1569.2 639.3 Q1572 639.9 1575 639 Q1578 638.2 1578.7 640.1 Q1579.3 641.9 1578.9 644.4 Q1578.4 646.9 1575 648.1 Q1571.5 649.3 1569.6 648.5 Q1567.7 647.6 1566 647.1Z"/>
<path d="M1678.5 632.9 Q1678.7 632 1678.4 631.8 Q1678.2 631.7 1678.8 630.9 Q1679.3 630.1 1679.9 629.5 Q1680.5 628.9 1681.5 627.9 Q1682.4 626.9 1682.3 627.5 Q1682.1 628.2 1682.4 628.6 Q1682.6 629 1681.5 630 Q1680.4 631 1679.3 632.4 Q1678.2 633.8 1678.5 632.9Z"/>
<path d="M1459.2 599.4 Q1458.6 601.4 1456.6 602.1 Q1454.6 602.8 1452.3 599.7 Q1449.9 596.5 1449.6 593.6 Q1449.3 590.7 1447.3 586.1 Q1445.3 581.6 1448.5 583.6 Q1451.7 585.6 1453.6 585.7 Q1455.5 585.9 1456.6 588.9 Q1457.8 591.8 1458.8 594.6 Q1459.8 597.3 1459.2 599.4Z"/>
<path d="M1712.6 645.4 Q1711.2 645.5 1712.1 644.5 Q1712.9 643.5 1713.5 643.1 Q1714.2 642.7 1715 641.6 Q1715.9 640.5 1717 640.8 Q1718.2 641.1 1717.5 642.2 Q1716.8 643.3 1716.8 643.9 Q1716.7 644.4 1716.1 645.1 Q1715.5 645.8 1714.7 645.5 Q1714 645.2 1712.6 645.4Z"/>
<path d="M1294.9 602.9 Q1295.1 602.3 1295.2 602 Q1295.3 601.7 1295.8 601.4 Q1296.3 601.1 1296.9 601.1 Q1297.6 601.1 1298 601.3 Q1298.5 601.5 1298.4 601.8 Q1298.3 602.2 1298.2 602.6 Q1298 602.9 1297.3 603.1 Q1296.6 603.3 1295.6 603.4 Q1294.6 603.4 1294.9 602.9Z"/>
<path d="M1798.9 653.1 Q1798.5 654.3 1797.3 654.4 Q1796 654.4 1793.4 652.8 Q1790.7 651.2 1790.1 648.1 Q1789.5 644.9 1787.1 641.3 Q1784.6 637.8 1787.1 639.5 Q1789.5 641.1 1790.6 640.4 Q1791.6 639.6 1794.6 642.8 Q1797.7 646 1798.5 648.9 Q1799.3 651.9 1798.9 653.1Z"/>
<path d="M1265.7 631.3 Q1265.6 630.9 1265 630.9 Q1264.5 630.9 1265 630.2 Q1265.5 629.5 1266.2 629.2 Q1266.8 628.9 1267.1 628.9 Q1267.5 628.9 1268.1 628.8 Q1268.7 628.6 1268.1 629.3 Q1267.6 629.9 1267.3 630.6 Q1267.1 631.2 1266.4 631.4 Q1265.8 631.6 1265.7 631.3Z"/>
<path d="M1854.7 584.1 Q1854.3 584 1854.1 583.6 Q1853.9 583.3 1854.1 582.4 Q1854.4 581.5 1854.5 580.9 Q1854.7 580.2 1855.1 579 Q1855.6 577.7 1855.8 578.3 Q1856 578.9 1856 579.7 Q1855.9 580.5 1855.9 581.4 Q1856 582.3 1855.5 583.3 Q1855 584.3 1854.7 584.1Z"/>
<path d="M1527.5 675.6 Q1526.8 675.7 1527.1 675.1 Q1527.3 674.5 1527.7 673.9 Q1528.1 673.4 1528.7 672.8 Q1529.4 672.3 1530.1 672.2 Q1530.8 672.1 1531.1 672.5 Q1531.4 672.9 1531.1 673.6 Q1530.8 674.2 1530.2 674.9 Q1529.5 675.6 1528.9 675.6 Q1528.2 675.5 1527.5 675.6Z"/>
<path d="M1633.7 646.4 Q1633.1 645.1 1631.5 645.5 Q1629.9 645.9 1631.9 642.7 Q1634 639.5 1635.1 637.8 Q1636.3 636 1637.5 635 Q1638.7 634 1639.2 634.4 Q1639.8 634.8 1640.2 635.9 Q1640.5 637.1 1639.5 640.1 Q1638.5 643.2 1636.4 645.4 Q1634.2 647.7 1633.7 646.4Z"/>
<path d="M1767.4 636.5 Q1767.4 635.6 1767 635.2 Q1766.5 634.8 1767.1 634.1 Q1767.8 633.4 1768.6 633.1 Q1769.4 632.7 1770.4 632.4 Q1771.4 632.2 1771.2 633 Q1771 633.8 1771.1 634.5 Q1771.2 635.1 1770.4 635.7 Q1769.6 636.3 1768.5 636.9 Q1767.4 637.5 1767.4 636.5Z"/>
<path d="M1410.8 588.4 Q1410.4 588.5 1410.2 589 Q1409.9 589.5 1409.1 589.1 Q1408.4 588.7 1408.1 587.7 Q1407.9 586.7 1407.8 585.8 Q1407.6 584.9 1408.3 584.9 Q1408.9 584.9 1409.5 585.2 Q1410.1 585.5 1410.6 586.2 Q1411.1 586.9 1411.1 587.6 Q1411.1 588.2 1410.8 588.4Z"/>
<path d="M1668.9 650.2 Q1667.9 649.9 1667.5 649.2 Q1667.2 648.4 1670.4 647.7 Q1673.5 647 1675.3 646.5 Q1677.1 646 1678.6 646 Q1680.1 646 1680.3 646.5 Q1680.5 647 1679.5 647.8 Q1678.5 648.6 1676.3 649.3 Q1674 650 1672 650.2 Q1669.9 650.5 1668.9 650.2Z"/>
<path d="M1721.2 671.5 Q1720.2 674.2 1718.6 673.4 Q1717.1 672.6 1717.6 668.8 Q1718.2 664.9 1717.3 660.8 Q1716.4 656.8 1718.1 653.8 Q1719.9 650.8 1721.2 653.9 Q1722.5 657.1 1723.6 658.4 Q1724.6 659.7 1725.2 663.1 Q1725.7 666.5 1724 667.6 Q1722.2 668.7 1721.2 671.5Z"/>
<path d="M1576.4 633.2 Q1576.5 633.8 1576 634.2 Q1575.6 634.6 1574.7 634.5 Q1573.7 634.4 1572.6 634.3 Q1571.4 634.2 1571 633.6 Q1570.6 633 1571 632.6 Q1571.5 632.3 1571.9 631.9 Q1572.2 631.4 1573.1 631.9 Q1574 632.4 1575.1 632.5 Q1576.3 632.7 1576.4 633.2Z"/>
<path d="M1446.6 623.4 Q1443.9 623.8 1441.5 622.6 Q1439 621.4 1439 616.2 Q1439 611 1440.5 606.3 Q1441.9 601.5 1444.4 601.6 Q1446.9 601.6 1449.3 599.4 Q1451.8 597.1 1453.6 600.2 Q1455.4 603.2 1454.6 608.7 Q1453.9 614.2 1451.6 618.6 Q1449.3 622.9 1446.6 623.4Z"/>
<path d="M1537.5 677.3 Q1536.4 676.2 1537.2 674.6 Q1538 673 1538.8 671.8 Q1539.6 670.5 1541.3 668.9 Q1543 667.3 1545.2 667.2 Q1547.3 667.2 1547.7 668.7 Q1548.2 670.2 1547.2 671.8 Q1546.2 673.5 1544.4 674.2 Q1542.7 674.9 1540.6 676.6 Q1538.6 678.3 1537.5 677.3Z"/>
<path d="M1406.2 667.8 Q1405.8 667.8 1405.7 667.6 Q1405.7 667.3 1406.4 667 Q1407.2 666.6 1407.8 666.2 Q1408.5 665.8 1409.2 665.7 Q1409.9 665.6 1409.6 666 Q1409.3 666.4 1409 666.7 Q1408.7 667 1408.1 667.4 Q1407.6 667.9 1407.1 667.8 Q1406.7 667.7 1406.2 667.8Z"/>
<path d="M1509.3 645.8 Q1506.8 645.2 1508.7 643.1 Q1510.5 640.9 1511.7 639.3 Q1512.8 637.6 1515.6 636 Q1518.4 634.5 1521.1 635.1 Q1523.8 635.7 1522.5 638 Q1521.3 640.4 1521 641.9 Q1520.7 643.5 1518.5 644.1 Q1516.3 644.7 1514.1 645.5 Q1511.8 646.3 1509.3 645.8Z"/>
<path d="M1809.3 579.7 Q1807.9 579.1 1808.5 577.7 Q1809.1 576.3 1812 575.2 Q1814.9 574.2 1817.1 573.6 Q1819.3 573.1 1823.2 572.2 Q1827 571.3 1825.6 573.1 Q1824.2 574.8 1824 576.4 Q1823.8 578 1820.1 578.3 Q1816.5 578.5 1813.6 579.5 Q1810.8 580.4 1809.3 579.7Z"/>
<path d="M1795.2 621.6 Q1794 623.4 1792.9 622.2 Q1791.7 621.1 1791.8 618.9 Q1791.8 616.7 1792.1 614.1 Q1792.4 611.6 1794 610.8 Q1795.6 610.1 1796.7 610.8 Q1797.9 611.5 1799.3 612.4 Q1800.7 613.3 1799.7 615.7 Q1798.8 618.2 1797.6 619 Q1796.4 619.9 1795.2 621.6Z"/>
<path d="M1575.9 648.3 Q1573.3 648.1 1573.8 645.6 Q1574.2 643.2 1577.8 640 Q1581.4 636.8 1585.8 634.3 Q1590.1 631.8 1593.8 630.9 Q1597.6 630 1595.1 633.3 Q1592.6 636.5 1592 637.9 Q1591.5 639.4 1589.1 641.7 Q1586.8 644 1582.6 646.3 Q1578.5 648.6 1575.9 648.3Z"/>
<path d="M1528.9 585.7 Q1528 586.3 1527.3 585.3 Q1526.6 584.3 1526.7 582.7 Q1526.9 581.1 1526.7 579.7 Q1526.6 578.3 1527.3 578.2 Q1528.1 578.1 1528.8 577 Q1529.5 576 1530.4 576.8 Q1531.2 577.6 1531.2 579.8 Q1531.3 582 1530.5 583.5 Q1529.8 585.1 1528.9 585.7Z"/>
<path d="M1544.1 667.4 Q1544.3 668.1 1543.7 667.7 Q1543.1 667.3 1542.6 667.1 Q1542.1 666.8 1541.5 666.1 Q1541 665.4 1540.8 664.9 Q1540.7 664.3 1540.9 664.1 Q1541.2 663.9 1541.8 664.4 Q1542.3 664.9 1542.7 665.3 Q1543.1 665.7 1543.5 666.2 Q1543.9 666.8 1544.1 667.4Z"/>
<path d="M1580 624.6 Q1577.8 623.8 1577.6 621.4 Q1577.3 619 1579 616.5 Q1580.7 614.1 1581.9 611.1 Q1583.1 608.1 1585.9 606.6 Q1588.7 605.2 1590.5 606.5 Q1592.4 607.7 1591.2 611 Q1590.1 614.2 1588.7 616.9 Q1587.3 619.7 1584.7 622.5 Q1582.1 625.4 1580 624.6Z"/>
<path d="M1612.8 673.6 Q1612.8 674.6 1612.1 675.4 Q1611.4 676.1 1610.2 674.9 Q1609.1 673.6 1608 672.6 Q1606.9 671.5 1606.7 670.1 Q1606.5 668.7 1607.3 667.8 Q1608.1 666.9 1609.5 667.9 Q1610.9 668.8 1612 669.6 Q1613.1 670.5 1613 671.6 Q1612.8 672.6 1612.8 673.6Z"/>
<path d="M1266.3 608.8 Q1264.4 610.3 1263.5 608.6 Q1262.6 606.9 1264.6 602.6 Q1266.6 598.3 1267.6 595.9 Q1268.6 593.5 1270.2 591 Q1271.7 588.5 1272.2 589.9 Q1272.8 591.3 1273.6 592.5 Q1274.4 593.6 1273.4 597.8 Q1272.5 601.9 1270.3 604.6 Q1268.1 607.4 1266.3 608.8Z"/>
<path d="M1458.3 615.5 Q1457.6 614.2 1456.6 612.6 Q1455.7 611 1458.7 610 Q1461.7 609 1464.3 608.1 Q1467 607.2 1468.2 608.5 Q1469.5 609.7 1470.4 610.9 Q1471.3 612.1 1469.5 613.4 Q1467.7 614.7 1465.7 616.6 Q1463.7 618.4 1461.4 617.6 Q1459 616.8 1458.3 615.5Z"/>
<path d="M1524.8 577.4 Q1522.8 578.3 1523.4 576.1 Q1524 574 1524.3 571.9 Q1524.5 569.9 1526.7 568.8 Q1529 567.7 1530.7 566.6 Q1532.4 565.4 1532.2 566.9 Q1532.1 568.5 1533.5 569.2 Q1534.9 569.9 1532.7 572.2 Q1530.5 574.6 1528.6 575.6 Q1526.8 576.6 1524.8 577.4Z"/>
<path d="M1876 612.2 Q1877.7 614.8 1874.8 616.8 Q1871.9 618.7 1869 619.9 Q1866 621.1 1862.1 621.1 Q1858.2 621.2 1855.9 619.1 Q1853.7 617.1 1854.8 615 Q1855.8 612.9 1858.4 612.1 Q1860.9 611.3 1863.3 610.5 Q1865.6 609.8 1870 609.7 Q1874.4 609.6 1876 612.2Z"/>
<path d="M1511.9 626.7 Q1511 626.7 1511.3 626 Q1511.6 625.4 1513.1 624.8 Q1514.5 624.1 1515.4 623.7 Q1516.3 623.3 1516.9 623.3 Q1517.6 623.3 1517.8 623.5 Q1518 623.8 1517.3 624.3 Q1516.7 624.8 1515.9 625.2 Q1515.2 625.7 1514 626.2 Q1512.8 626.8 1511.9 626.7Z"/>
<path d="M1449.5 589.8 Q1448.3 590.8 1447.6 592.1 Q1447 593.4 1444 592 Q1440.9 590.6 1439.1 588.5 Q1437.3 586.4 1436.3 584.8 Q1435.4 583.1 1436 582.3 Q1436.7 581.4 1438.1 580.6 Q1439.5 579.7 1442.9 581.6 Q1446.4 583.5 1448.6 586.1 Q1450.8 588.8 1449.5 589.8Z"/>
<path d="M1832.3 605 Q1832 605.5 1831.5 605.4 Q1831 605.3 1830.5 604.4 Q1830.1 603.6 1830.1 602.7 Q1830.1 601.8 1830.2 601.3 Q1830.4 600.7 1830.8 600.5 Q1831.1 600.3 1831.5 600.9 Q1831.9 601.5 1832.4 602.2 Q1832.9 602.9 1832.7 603.7 Q1832.6 604.5 1832.3 605Z"/>
<path d="M1681.5 633 Q1681.6 632.3 1681.8 631.8 Q1682 631.3 1683 631.1 Q1684 630.8 1685.2 630.1 Q1686.3 629.4 1687.2 629.8 Q1688.1 630.1 1688 630.7 Q1687.9 631.3 1687.6 632.1 Q1687.4 632.8 1685.9 633.1 Q1684.3 633.3 1682.9 633.5 Q1681.5 633.7 1681.5 633Z"/>
<path d="M1748.5 571.3 Q1747.9 571.3 1748.4 570.6 Q1748.9 569.8 1749 569.3 Q1749.1 568.7 1749.8 568.5 Q1750.5 568.4 1751 568.1 Q1751.5 567.9 1752.2 567.7 Q1752.9 567.6 1752.4 568.3 Q1751.9 569.1 1751.2 569.4 Q1750.4 569.8 1749.8 570.5 Q1749.1 571.2 1748.5 571.3Z"/>
<path d="M1709.4 635 Q1708.5 634.4 1709.6 633.7 Q1710.8 632.9 1711.2 632.3 Q1711.6 631.6 1712.6 631.5 Q1713.6 631.5 1714.8 631.6 Q1716 631.7 1715.7 632.6 Q1715.4 633.4 1715.2 634.2 Q1714.9 635.1 1713.7 635.6 Q1712.5 636.2 1711.3 635.9 Q1710.2 635.5 1709.4 635Z"/>
<path d="M1648.4 633.4 Q1648.4 633.1 1648.5 632.9 Q1648.6 632.6 1649.2 632.2 Q1649.8 631.8 1650.9 631.6 Q1651.9 631.5 1652 631.7 Q1652.2 631.9 1652.4 632 Q1652.6 632.1 1652.3 632.4 Q1652.1 632.7 1651.3 633 Q1650.4 633.3 1649.4 633.5 Q1648.3 633.7 1648.4 633.4Z"/>
<path d="M1556.9 622.3 Q1556.5 623 1556.2 623.7 Q1555.8 624.4 1554.2 624.3 Q1552.7 624.2 1551.1 623.3 Q1549.6 622.3 1549.5 621.5 Q1549.3 620.6 1549.6 620.2 Q1549.9 619.7 1550.8 619.7 Q1551.7 619.7 1553 619.7 Q1554.4 619.7 1555.8 620.6 Q1557.3 621.6 1556.9 622.3Z"/>
<path d="M1496 673.6 Q1494.3 674.6 1493.8 672.2 Q1493.3 669.7 1493 668.3 Q1492.7 666.9 1492.7 664.8 Q1492.6 662.7 1493.8 660.3 Q1495 657.9 1496.6 659 Q1498.1 660.1 1499 661.9 Q1499.9 663.6 1500.1 666.2 Q1500.4 668.8 1499 670.7 Q1497.6 672.6 1496 673.6Z"/>
<path d="M1503.8 605.3 Q1504.6 605.7 1503.7 606.1 Q1502.8 606.5 1501.9 606.6 Q1501.1 606.7 1500.3 606.6 Q1499.5 606.5 1498.3 606.3 Q1497.1 606.2 1497.1 605.6 Q1497.1 605 1498.4 604.9 Q1499.7 604.9 1500.5 604.4 Q1501.4 604 1502.2 604.4 Q1503.1 604.9 1503.8 605.3Z"/>
<path d="M1500.9 627.5 Q1499.8 628 1500.3 626.8 Q1500.8 625.7 1500.8 624.9 Q1500.8 624.2 1501.6 623.7 Q1502.4 623.2 1503 623 Q1503.6 622.8 1503.8 623.3 Q1503.9 623.8 1503.8 624.3 Q1503.7 624.8 1503.5 625.5 Q1503.3 626.2 1502.6 626.6 Q1501.9 627 1500.9 627.5Z"/>
<path d="M1755.5 599.3 Q1755.3 598.7 1754.6 598.8 Q1753.9 599 1754.3 598 Q1754.8 597.1 1755.1 596 Q1755.5 595 1756.2 594.9 Q1756.8 594.7 1757.2 594.9 Q1757.6 595.1 1757.7 595.8 Q1757.7 596.5 1757.2 597.2 Q1756.7 597.9 1756.2 598.9 Q1755.8 599.9 1755.5 599.3Z"/>
<path d="M1808.2 622.7 Q1807.3 621.7 1808.7 620.6 Q1810.1 619.6 1812 619.3 Q1813.9 619.1 1815.4 618.8 Q1816.9 618.5 1818.9 618.6 Q1820.8 618.7 1821.3 619.7 Q1821.7 620.6 1819.3 621.2 Q1816.8 621.7 1815.6 622 Q1814.4 622.4 1811.8 623 Q1809.2 623.7 1808.2 622.7Z"/>
<path d="M1551.4 606.3 Q1549.3 606.6 1550.5 605.9 Q1551.6 605.2 1552.8 604.5 Q1554.1 603.8 1555.3 603.9 Q1556.6 604 1557.4 604 Q1558.2 604 1558.6 604.2 Q1559 604.4 1558.2 604.8 Q1557.3 605.3 1556.1 606 Q1554.8 606.7 1554.2 606.4 Q1553.5 606 1551.4 606.3Z"/>
<path d="M1477.8 604.3 Q1476.8 602.3 1475.5 601.6 Q1474.2 600.8 1476.3 597.7 Q1478.4 594.5 1479.7 592 Q1481 589.5 1483.9 586.1 Q1486.7 582.7 1486 586.5 Q1485.3 590.4 1487.5 591 Q1489.7 591.6 1486.7 594.9 Q1483.6 598.2 1481.2 602.2 Q1478.8 606.3 1477.8 604.3Z"/>
<path d="M1782.8 589.5 Q1782.5 590.2 1781.6 589.5 Q1780.8 588.8 1780 588.6 Q1779.2 588.4 1779 587.4 Q1778.7 586.3 1778.8 585.9 Q1778.9 585.4 1778.9 584.7 Q1778.9 584.1 1779.6 584.5 Q1780.4 585 1780.9 585.8 Q1781.4 586.6 1782.2 587.7 Q1783 588.9 1782.8 589.5Z"/>
<path d="M1566 665.1 Q1566.3 666.1 1565.3 665.2 Q1564.3 664.3 1563.6 664.2 Q1562.8 664 1562.1 662.7 Q1561.5 661.3 1561.2 660.3 Q1561 659.3 1561.4 659.1 Q1561.9 658.8 1562.7 660 Q1563.6 661.1 1564.5 661.7 Q1565.3 662.2 1565.5 663.1 Q1565.7 664 1566 665.1Z"/>
<path d="M1700.6 605.7 Q1700 606.3 1699.8 606.8 Q1699.5 607.3 1698.6 607.8 Q1697.7 608.3 1696.3 607.7 Q1694.9 607.2 1694.3 606.4 Q1693.7 605.6 1694 605 Q1694.3 604.4 1695.2 604.1 Q1696.1 603.8 1697.2 604.2 Q1698.2 604.5 1699.7 604.8 Q1701.2 605 1700.6 605.7Z"/>
<path d="M1723.2 675.1 Q1723 675.6 1722.7 675.5 Q1722.5 675.4 1722.3 674.6 Q1722.1 673.9 1722.4 673.3 Q1722.7 672.6 1722.8 672.2 Q1722.9 671.7 1723.1 671.4 Q1723.3 671.1 1723.4 671.9 Q1723.5 672.6 1723.5 673.1 Q1723.5 673.7 1723.4 674.1 Q1723.3 674.6 1723.2 675.1Z"/>
<path d="M1658.5 637 Q1659.4 637.8 1660.4 639.3 Q1661.4 640.8 1658.1 641.1 Q1654.8 641.4 1651.3 640.9 Q1647.7 640.4 1648.4 638.9 Q1649.1 637.4 1648 636.4 Q1646.9 635.5 1648.3 634.7 Q1649.6 633.8 1652.6 633.7 Q1655.5 633.6 1656.5 634.9 Q1657.6 636.3 1658.5 637Z"/>
<path d="M1383.2 616.6 Q1382.9 617 1382.7 616.6 Q1382.5 616.2 1382.4 615.6 Q1382.2 615 1382.7 614.4 Q1383.1 613.8 1383.5 613 Q1384 612.2 1384.1 612.8 Q1384.3 613.5 1384.5 613.8 Q1384.7 614.2 1384.7 615.1 Q1384.7 615.9 1384.1 616.1 Q1383.6 616.3 1383.2 616.6Z"/>
<path d="M1381.2 670.2 Q1378.8 669.8 1377.5 672.3 Q1376.3 674.9 1373.1 671.8 Q1370 668.7 1369.4 664.2 Q1368.9 659.7 1370.4 658.5 Q1371.9 657.4 1372.2 653.6 Q1372.4 649.8 1374.9 653.6 Q1377.3 657.4 1380.1 660 Q1382.9 662.6 1383.2 666.6 Q1383.6 670.7 1381.2 670.2Z"/>
<path d="M1479.3 621.9 Q1477.2 622.8 1475 624.4 Q1472.8 626 1471.1 622.4 Q1469.4 618.8 1467.5 615.6 Q1465.5 612.4 1467.8 611 Q1470.1 609.6 1471.5 608.4 Q1472.9 607.1 1475.5 607.3 Q1478.1 607.5 1478.3 611.1 Q1478.4 614.7 1479.9 617.9 Q1481.4 621 1479.3 621.9Z"/>
<path d="M1463.3 576.8 Q1462.5 577.5 1462 577.9 Q1461.4 578.3 1460.3 578.6 Q1459.2 579 1457.5 578.4 Q1455.8 577.8 1453.7 577 Q1451.7 576.1 1453.5 575.8 Q1455.3 575.4 1456 575.1 Q1456.8 574.7 1458.3 575 Q1459.8 575.2 1461.9 575.7 Q1464 576.2 1463.3 576.8Z"/>
<path d="M1433.1 602.3 Q1433.2 602.7 1432.9 602.9 Q1432.6 603.2 1431.8 602.9 Q1431 602.6 1430.7 601.9 Q1430.4 601.2 1430.2 600.8 Q1429.9 600.4 1429.7 599.8 Q1429.5 599.3 1430.3 599.7 Q1431 600 1431.7 600.4 Q1432.3 600.8 1432.7 601.3 Q1433 601.9 1433.1 602.3Z"/>
<path d="M1600.5 608.9 Q1598.6 608.8 1599.6 607.3 Q1600.5 605.9 1601.9 605.3 Q1603.4 604.6 1604.8 603.5 Q1606.2 602.4 1606.7 603.5 Q1607.2 604.7 1608.3 605.2 Q1609.4 605.7 1609.2 607.1 Q1609 608.6 1607 609 Q1605 609.5 1603.7 609.2 Q1602.5 609 1600.5 608.9Z"/>
<path d="M1578.4 674.1 Q1577.4 675.2 1576.8 674.3 Q1576.1 673.4 1576.5 671.2 Q1576.9 669.1 1577.2 666.3 Q1577.5 663.5 1578.7 663.2 Q1579.9 662.8 1580.3 663.9 Q1580.7 665 1581.2 665.7 Q1581.6 666.5 1581 668.1 Q1580.5 669.8 1579.9 671.4 Q1579.3 673 1578.4 674.1Z"/>
<path d="M1520.8 655.4 Q1519.8 655.7 1519.5 655.1 Q1519.2 654.5 1521.2 653 Q1523.3 651.6 1524.3 650.8 Q1525.3 649.9 1526.8 649 Q1528.3 648 1527.7 649.1 Q1527.1 650.2 1526.5 650.9 Q1526 651.6 1525.3 652.5 Q1524.5 653.4 1523.2 654.3 Q1521.9 655.1 1520.8 655.4Z"/>
<path d="M1543.6 591.7 Q1543.2 591.2 1542.9 591.1 Q1542.5 591 1542.2 590.2 Q1541.8 589.4 1542.4 588.3 Q1543 587.2 1543.5 586.7 Q1544 586.1 1544.3 586.5 Q1544.6 586.9 1545.1 587.1 Q1545.7 587.3 1545.1 588.4 Q1544.5 589.6 1544.3 590.9 Q1544 592.2 1543.6 591.7Z"/>
<path d="M1688.6 614.9 Q1688 615 1687.8 614.6 Q1687.5 614.1 1687.8 613.2 Q1688 612.3 1688.8 611.8 Q1689.7 611.3 1690.5 610.8 Q1691.3 610.3 1691.7 610.7 Q1692.1 611 1692.3 611.8 Q1692.5 612.6 1691.4 613.3 Q1690.3 614 1689.7 614.4 Q1689.2 614.7 1688.6 614.9Z"/>
<path d="M1678.9 628 Q1677.7 628 1678.8 627.1 Q1680 626.3 1680.5 625.6 Q1681 624.9 1682.2 624.8 Q1683.4 624.6 1684.6 624.4 Q1685.9 624.2 1685.6 624.9 Q1685.3 625.6 1685.4 626.4 Q1685.4 627.1 1683.8 627.6 Q1682.2 628 1681.2 628 Q1680.1 628 1678.9 628Z"/>
<path d="M1786.7 637.6 Q1785.2 639.9 1784.8 638 Q1784.5 636.1 1785.5 632.7 Q1786.4 629.3 1787.3 625.5 Q1788.3 621.7 1789.9 619.5 Q1791.6 617.3 1793.4 615.9 Q1795.2 614.4 1794 619.3 Q1792.9 624.2 1792.1 627.9 Q1791.3 631.6 1789.7 633.4 Q1788.2 635.3 1786.7 637.6Z"/>
<path d="M1271.1 609.1 Q1271.9 611.7 1269.1 612.2 Q1266.3 612.6 1262.6 610.6 Q1258.9 608.5 1255.1 606.7 Q1251.3 604.9 1248.9 601.8 Q1246.5 598.7 1249.8 598.6 Q1253 598.6 1254.9 597.9 Q1256.8 597.3 1260.9 598.8 Q1264.9 600.3 1267.7 603.4 Q1270.4 606.5 1271.1 609.1Z"/>
<path d="M1267.5 573.5 Q1267.4 573.3 1267.1 573 Q1266.8 572.7 1267.6 572.4 Q1268.3 572 1269 572.1 Q1269.8 572.3 1270.3 572.4 Q1270.9 572.5 1271.3 572.8 Q1271.7 573.1 1270.9 573.3 Q1270 573.6 1269.4 573.8 Q1268.7 574 1268.1 573.9 Q1267.6 573.8 1267.5 573.5Z"/>
<path d="M1796.2 591.9 Q1795.1 591.2 1794.7 591.5 Q1794.2 591.8 1793.7 590.8 Q1793.1 589.8 1792.4 588.3 Q1791.8 586.8 1791.8 585.3 Q1791.8 583.7 1792.8 584.5 Q1793.7 585.3 1794.4 585.9 Q1795 586.4 1795.7 587.6 Q1796.4 588.9 1796.8 590.8 Q1797.2 592.6 1796.2 591.9Z"/>
<path d="M1378 620.8 Q1378.8 621.7 1378.4 622.5 Q1378 623.3 1375.6 623.1 Q1373.2 622.9 1370.6 621.8 Q1368 620.7 1365.6 619.3 Q1363.2 617.9 1363.7 616.9 Q1364.2 615.9 1365.7 614.8 Q1367.2 613.7 1371.3 615.3 Q1375.5 616.9 1376.4 618.4 Q1377.3 619.9 1378 620.8Z"/>
<path d="M1458.9 599.1 Q1459.2 599.6 1458.9 600.1 Q1458.6 600.5 1457.7 600.6 Q1456.9 600.7 1456.3 600 Q1455.7 599.4 1455.4 598.9 Q1455 598.4 1454.8 597.7 Q1454.7 597 1455.5 596.9 Q1456.4 596.8 1457.1 597.3 Q1457.8 597.9 1458.2 598.3 Q1458.6 598.6 1458.9 599.1Z"/>
<path d="M1782 579.5 Q1781.4 580.4 1780.3 580.9 Q1779.2 581.4 1777.7 580 Q1776.2 578.6 1774.8 575.6 Q1773.4 572.6 1775.3 571.9 Q1777.2 571.1 1778.4 570.7 Q1779.5 570.3 1780.7 571.3 Q1782 572.3 1784 574.1 Q1786.1 575.9 1784.4 577.3 Q1782.6 578.7 1782 579.5Z"/>
<path d="M1675.9 596.7 Q1674.2 598.3 1673.6 597 Q1673.1 595.7 1674.4 593.1 Q1675.8 590.6 1676.8 587.7 Q1677.9 584.9 1679.9 583.3 Q1681.9 581.8 1682.6 583.1 Q1683.3 584.3 1683.6 586.2 Q1683.8 588.1 1682.2 590.9 Q1680.6 593.8 1679.1 594.5 Q1677.5 595.2 1675.9 596.7Z"/>
<path d="M1342.5 603.8 Q1342.1 604.7 1341.1 604.8 Q1340.1 604.9 1338.9 604.5 Q1337.7 604 1335.9 602.8 Q1334.2 601.5 1333.5 599.4 Q1332.7 597.2 1334 596.3 Q1335.3 595.3 1337.3 595.8 Q1339.3 596.2 1340.5 598.2 Q1341.8 600.2 1342.3 601.6 Q1342.9 603 1342.5 603.8Z"/>
<path d="M1676.4 591.6 Q1674.7 592.4 1674.8 590.7 Q1675 589 1676.4 586.3 Q1677.8 583.7 1680.4 580.2 Q1682.9 576.7 1684.4 576.9 Q1685.8 577.1 1687.4 576.5 Q1689.1 576 1688.6 578.4 Q1688.2 580.7 1685.4 584.5 Q1682.7 588.3 1680.4 589.5 Q1678.1 590.8 1676.4 591.6Z"/>
<path d="M1844.9 669.4 Q1845.2 670.6 1844.5 671.6 Q1843.8 672.5 1841.9 673.8 Q1840.1 675.1 1838.3 673 Q1836.5 671 1835.2 669.8 Q1833.8 668.7 1833.3 667.1 Q1832.8 665.5 1834.9 665 Q1837.1 664.5 1839.8 664.8 Q1842.5 665.1 1843.5 666.7 Q1844.6 668.3 1844.9 669.4Z"/>
<path d="M1725 572.5 Q1725.8 572.8 1725.1 573.1 Q1724.5 573.4 1723.6 573.3 Q1722.6 573.3 1721.9 573.3 Q1721.3 573.3 1720.8 573 Q1720.3 572.8 1719.9 572.4 Q1719.5 572.1 1720.4 572 Q1721.4 572 1722.1 572 Q1722.7 572.1 1723.5 572.1 Q1724.2 572.2 1725 572.5Z"/>
<path d="M1587.2 624.2 Q1587.3 624.8 1587.4 625.7 Q1587.4 626.6 1585.8 626.3 Q1584.2 626 1582.6 624.7 Q1580.9 623.3 1580.3 622 Q1579.6 620.7 1580.3 620.1 Q1581 619.6 1582.3 619.5 Q1583.5 619.4 1584.9 620.8 Q1586.2 622.2 1586.6 622.9 Q1587 623.7 1587.2 624.2Z"/>
<path d="M1645.2 629.1 Q1644.4 624.5 1647.9 622.9 Q1651.5 621.2 1654.6 620.8 Q1657.7 620.4 1662.5 619.9 Q1667.3 619.4 1670.8 618.7 Q1674.2 618 1677.7 618.2 Q1681.1 618.4 1684.3 618.6 Q1687.6 618.8 1692.3 618.4 Q1697.1 618 1700.1 619.1 Q1703.1 620.2 1707.3 619.1 Q1711.4 618 1707.8 621.5 Q1704.2 624.9 1702.5 628.5 Q1700.7 632.1 1696.4 631.7 Q1692.2 631.4 1687.6 632.4 Q1683 633.5 1680.5 633.6 Q1677.9 633.7 1674 633.9 Q1670.1 634.2 1665.5 634.6 Q1660.9 635 1656.9 634.7 Q1652.9 634.5 1649.5 634.1 Q1646 633.8 1645.2 629.1Z"/>
<path d="M1675.4 641.4 Q1671.8 639.1 1675.7 638.4 Q1679.5 637.7 1683.6 637 Q1687.7 636.4 1691.5 637.4 Q1695.4 638.3 1699.4 637.1 Q1703.4 635.8 1708 636 Q1712.6 636.3 1715.2 636.4 Q1717.7 636.6 1721.8 636.1 Q1725.8 635.6 1729.5 637.3 Q1733.3 639 1736.3 639 Q1739.3 639 1743.7 639 Q1748.1 638.9 1750.4 639.1 Q1752.7 639.4 1756.7 641.1 Q1760.7 642.8 1765.3 645.2 Q1769.9 647.7 1773.4 649.1 Q1777 650.6 1773.4 651.8 Q1769.9 653 1766.3 652.6 Q1762.8 652.2 1758.8 653 Q1754.8 653.9 1750.4 653.9 Q1745.9 654 1743 654.2 Q1740 654.5 1735.3 654.7 Q1730.5 654.9 1727.4 654.5 Q1724.3 654.1 1720.5 653.3 Q1716.7 652.5 1713.4 652.8 Q1710 653.1 1705 652.3 Q1700 651.5 1697.5 651.4 Q1695 651.3 1691.2 650 Q1687.3 648.7 1683.1 646.2 Q1679 643.6 1675.4 641.4Z"/>
<path d="M1805.5 646.4 Q1801.1 644.2 1805.7 643.9 Q1810.3 643.7 1814.2 642.7 Q1818.2 641.7 1822.3 641.1 Q1826.4 640.5 1829.2 640.9 Q1832 641.4 1837.2 640.6 Q1842.5 639.8 1846 642.3 Q1849.5 644.7 1852.5 646.7 Q1855.5 648.8 1851.8 649 Q1848.2 649.3 1844.5 649.5 Q1840.8 649.6 1836.4 650.1 Q1831.9 650.6 1828.2 651.9 Q1824.5 653.2 1820.5 654.7 Q1816.5 656.1 1813.2 652.3 Q1809.9 648.5 1805.5 646.4Z"/>
<path d="M1743.5 609.2 Q1741.9 604.1 1746.9 603.5 Q1751.8 603 1756 602.4 Q1760.2 601.9 1763.9 607.7 Q1767.7 613.6 1762.7 613.2 Q1757.8 612.9 1751.4 613.6 Q1745.1 614.4 1743.5 609.2Z"/>
</g>
<g fill="none" stroke-linejoin="round" stroke-linecap="round" filter="url(#soft2)">
<path d="M1775.2 630.9L1770 621.8L1765.4 619.7L1758.3 615L1748.7 614.6L1745.2 612.3" stroke="#f01c2c" stroke-opacity="0.77" stroke-width="6.2"/>
<path d="M1361.8 617.7L1365.8 614.5L1369 605.7L1369.3 602.4L1368.4 598L1368.4 594.8" stroke="#f01c2c" stroke-opacity="0.77" stroke-width="4.4"/>
<path d="M1722.7 601L1726.5 607.4L1726.8 613.7L1731.4 618L1743.7 618.9L1748.3 618.9" stroke="#f01c2c" stroke-opacity="0.77" stroke-width="3.7"/>
<path d="M1403.6 617.4L1402.8 612.2L1399.9 609.3" stroke="#f01c2c" stroke-opacity="0.77" stroke-width="4.7"/>
<path d="M1411.7 606.1L1412.6 597.2L1420.7 593.6" stroke="#f01c2c" stroke-opacity="0.77" stroke-width="4"/>
<path d="M1718.9 590.7L1723.9 587.5L1734.2 581.4L1745.5 579.1L1755.6 581.6L1760.7 589.9" stroke="#f01c2c" stroke-opacity="0.77" stroke-width="4.9"/>
<path d="M1355.2 591.2L1342 588.2L1334.3 582.1L1323.1 580L1313 580.6L1301.3 579.6" stroke="#f01c2c" stroke-opacity="0.77" stroke-width="3.3"/>
<path d="M1495.3 587.6L1505.4 593L1507.6 599.7" stroke="#f01c2c" stroke-opacity="0.77" stroke-width="3.7"/>
<path d="M1725.2 601.3L1736.8 597.3L1748.3 597.9L1756.2 604" stroke="#f01c2c" stroke-opacity="0.77" stroke-width="3.3"/>
<path d="M1574.6 579L1567.4 580.6L1561.1 582.8L1560.8 586L1558.9 589.9" stroke="#f01c2c" stroke-opacity="0.77" stroke-width="4"/>
<path d="M1616.8 665.1L1607.2 663.4L1598.5 664.5L1588.4 664L1576.4 659.4L1572.7 652.3" stroke="#f01c2c" stroke-opacity="0.77" stroke-width="3.9"/>
<path d="M1710.8 666.2L1697.4 666.6L1692.5 664.9L1684.6 660L1685.9 652.5L1689.7 646" stroke="#f01c2c" stroke-opacity="0.77" stroke-width="3.8"/>
<path d="M1304.2 598.4L1314.3 596L1321 592.9" stroke="#f01c2c" stroke-opacity="0.77" stroke-width="3.3"/>
<path d="M1474.1 621.3L1482.1 621.1L1491.3 620.3" stroke="#f01c2c" stroke-opacity="0.77" stroke-width="5.5"/>
<path d="M1810.6 586L1801 581.5L1800 572L1795.7 566.4" stroke="#f01c2c" stroke-opacity="0.77" stroke-width="6.5"/>
<path d="M1741.2 660.6L1730 655.2L1717 657.7L1707.5 655.8" stroke="#f01c2c" stroke-opacity="0.77" stroke-width="4.6"/>
<path d="M1622 616.6L1616.8 621.4L1607.9 622.1" stroke="#f01c2c" stroke-opacity="0.77" stroke-width="3.3"/>
<path d="M1688.6 581.2L1692.5 582.3L1695.8 585.6L1698.9 587.6" stroke="#f01c2c" stroke-opacity="0.77" stroke-width="3.5"/>
<path d="M1716.1 613.1L1704.3 613.8L1698.7 617.6L1693.8 622.3" stroke="#f01c2c" stroke-opacity="0.77" stroke-width="3.6"/>
<path d="M1288 648.4L1293.3 643.7L1306.1 642.3L1309.6 639.7" stroke="#f01c2c" stroke-opacity="0.77" stroke-width="5.5"/>
<path d="M1437.1 675.3L1429.2 672.6L1416.6 675.6L1412.4 676.8" stroke="#f01c2c" stroke-opacity="0.77" stroke-width="3.5"/>
<path d="M1579.4 594.8L1578.3 598.3L1578.6 604L1572.1 609.2L1558.2 609.3" stroke="#f01c2c" stroke-opacity="0.77" stroke-width="3.6"/>
<path d="M1413.9 655.9L1419.8 661L1418.5 667.1L1412.9 670.5" stroke="#f01c2c" stroke-opacity="0.77" stroke-width="3.5"/>
<path d="M1453.8 616.8L1459.6 621.1L1460.6 623.9L1456.5 628.2L1458 631.5L1452 636.3" stroke="#f01c2c" stroke-opacity="0.77" stroke-width="4.6"/>
<path d="M1859.7 632.8L1865.1 625.8L1865.8 620.4L1868 617L1864.5 609.4" stroke="#f01c2c" stroke-opacity="0.77" stroke-width="3.5"/>
<path d="M1788.4 583.7L1784.3 579.4L1788.6 573L1793.6 572.7" stroke="#f01c2c" stroke-opacity="0.77" stroke-width="3.9"/>
<path d="M1295.2 600.6L1303.8 606.6L1300.7 615L1299.1 620.5L1295.4 622.8L1297.1 629.4" stroke="#f01c2c" stroke-opacity="0.77" stroke-width="6.4"/>
<path d="M1439.8 624.4L1432.9 625.5L1424.5 627.7L1414.4 634.3L1407.3 639.5L1400 645.3" stroke="#f01c2c" stroke-opacity="0.77" stroke-width="3.8"/>
<path d="M1756 634.5L1760.2 641.2L1762 649.2L1768.3 654.6L1779.8 654.6L1790.4 659.7" stroke="#f01c2c" stroke-opacity="0.77" stroke-width="3.3"/>
<path d="M1477.2 637.1L1471.9 645.6L1466.9 647.7L1459.4 655.1" stroke="#f01c2c" stroke-opacity="0.77" stroke-width="4"/>
<path d="M1687.1 599.5L1684.7 594.6L1678.6 586.6L1676.4 584.1L1672.6 580.8" stroke="#f01c2c" stroke-opacity="0.77" stroke-width="5.4"/>
<path d="M1406.1 620.9L1409 623.1L1413 623.5L1422.4 620.4L1430.9 622.5L1433.5 628.1" stroke="#f01c2c" stroke-opacity="0.77" stroke-width="3.3"/>
<path d="M1242 631.4L1250.6 630.5L1255.2 632.6L1264.1 632.2L1268.6 636.1" stroke="#f01c2c" stroke-opacity="0.77" stroke-width="4.6"/>
<path d="M1722.1 623.8L1713.9 616.1L1709.8 615L1700.7 620.4" stroke="#f01c2c" stroke-opacity="0.77" stroke-width="3.5"/>
<path d="M1660.3 670.2L1655.4 672.9L1655.8 678.1L1650.6 680.4L1645.2 679.2" stroke="#f01c2c" stroke-opacity="0.77" stroke-width="5.7"/>
<path d="M1507.2 631.6L1512.3 631.5L1524.8 628.8" stroke="#f01c2c" stroke-opacity="0.77" stroke-width="3.6"/>
<path d="M1542.3 592.8L1544.2 584.2L1538 577" stroke="#f01c2c" stroke-opacity="0.77" stroke-width="3.5"/>
<path d="M1630.8 663.6L1629 669.7L1621.2 671.3L1613.3 666L1607 661.1L1603.7 658.1" stroke="#f01c2c" stroke-opacity="0.77" stroke-width="5.1"/>
<path d="M1775.2 630.9L1770 621.8L1765.4 619.7L1758.3 615L1748.7 614.6L1745.2 612.3" stroke="#010004" stroke-width="3.7"/>
<path d="M1361.8 617.7L1365.8 614.5L1369 605.7L1369.3 602.4L1368.4 598L1368.4 594.8" stroke="#010004" stroke-width="1.9"/>
<path d="M1722.7 601L1726.5 607.4L1726.8 613.7L1731.4 618L1743.7 618.9L1748.3 618.9" stroke="#010004" stroke-width="1.2"/>
<path d="M1403.6 617.4L1402.8 612.2L1399.9 609.3" stroke="#010004" stroke-width="2.2"/>
<path d="M1411.7 606.1L1412.6 597.2L1420.7 593.6" stroke="#010004" stroke-width="1.5"/>
<path d="M1718.9 590.7L1723.9 587.5L1734.2 581.4L1745.5 579.1L1755.6 581.6L1760.7 589.9" stroke="#010004" stroke-width="2.4"/>
<path d="M1355.2 591.2L1342 588.2L1334.3 582.1L1323.1 580L1313 580.6L1301.3 579.6" stroke="#010004" stroke-width="0.8"/>
<path d="M1495.3 587.6L1505.4 593L1507.6 599.7" stroke="#010004" stroke-width="1.2"/>
<path d="M1725.2 601.3L1736.8 597.3L1748.3 597.9L1756.2 604" stroke="#010004" stroke-width="0.8"/>
<path d="M1574.6 579L1567.4 580.6L1561.1 582.8L1560.8 586L1558.9 589.9" stroke="#010004" stroke-width="1.5"/>
<path d="M1616.8 665.1L1607.2 663.4L1598.5 664.5L1588.4 664L1576.4 659.4L1572.7 652.3" stroke="#010004" stroke-width="1.4"/>
<path d="M1710.8 666.2L1697.4 666.6L1692.5 664.9L1684.6 660L1685.9 652.5L1689.7 646" stroke="#010004" stroke-width="1.3"/>
<path d="M1304.2 598.4L1314.3 596L1321 592.9" stroke="#010004" stroke-width="0.8"/>
<path d="M1474.1 621.3L1482.1 621.1L1491.3 620.3" stroke="#010004" stroke-width="3"/>
<path d="M1810.6 586L1801 581.5L1800 572L1795.7 566.4" stroke="#010004" stroke-width="4"/>
<path d="M1741.2 660.6L1730 655.2L1717 657.7L1707.5 655.8" stroke="#010004" stroke-width="2.1"/>
<path d="M1622 616.6L1616.8 621.4L1607.9 622.1" stroke="#010004" stroke-width="0.8"/>
<path d="M1688.6 581.2L1692.5 582.3L1695.8 585.6L1698.9 587.6" stroke="#010004" stroke-width="1"/>
<path d="M1716.1 613.1L1704.3 613.8L1698.7 617.6L1693.8 622.3" stroke="#010004" stroke-width="1.1"/>
<path d="M1288 648.4L1293.3 643.7L1306.1 642.3L1309.6 639.7" stroke="#010004" stroke-width="3"/>
<path d="M1437.1 675.3L1429.2 672.6L1416.6 675.6L1412.4 676.8" stroke="#010004" stroke-width="1"/>
<path d="M1579.4 594.8L1578.3 598.3L1578.6 604L1572.1 609.2L1558.2 609.3" stroke="#010004" stroke-width="1.1"/>
<path d="M1413.9 655.9L1419.8 661L1418.5 667.1L1412.9 670.5" stroke="#010004" stroke-width="1"/>
<path d="M1453.8 616.8L1459.6 621.1L1460.6 623.9L1456.5 628.2L1458 631.5L1452 636.3" stroke="#010004" stroke-width="2.1"/>
<path d="M1859.7 632.8L1865.1 625.8L1865.8 620.4L1868 617L1864.5 609.4" stroke="#010004" stroke-width="1"/>
<path d="M1788.4 583.7L1784.3 579.4L1788.6 573L1793.6 572.7" stroke="#010004" stroke-width="1.4"/>
<path d="M1295.2 600.6L1303.8 606.6L1300.7 615L1299.1 620.5L1295.4 622.8L1297.1 629.4" stroke="#010004" stroke-width="3.9"/>
<path d="M1439.8 624.4L1432.9 625.5L1424.5 627.7L1414.4 634.3L1407.3 639.5L1400 645.3" stroke="#010004" stroke-width="1.3"/>
<path d="M1756 634.5L1760.2 641.2L1762 649.2L1768.3 654.6L1779.8 654.6L1790.4 659.7" stroke="#010004" stroke-width="0.8"/>
<path d="M1477.2 637.1L1471.9 645.6L1466.9 647.7L1459.4 655.1" stroke="#010004" stroke-width="1.5"/>
<path d="M1687.1 599.5L1684.7 594.6L1678.6 586.6L1676.4 584.1L1672.6 580.8" stroke="#010004" stroke-width="2.9"/>
<path d="M1406.1 620.9L1409 623.1L1413 623.5L1422.4 620.4L1430.9 622.5L1433.5 628.1" stroke="#010004" stroke-width="0.8"/>
<path d="M1242 631.4L1250.6 630.5L1255.2 632.6L1264.1 632.2L1268.6 636.1" stroke="#010004" stroke-width="2.1"/>
<path d="M1722.1 623.8L1713.9 616.1L1709.8 615L1700.7 620.4" stroke="#010004" stroke-width="1"/>
<path d="M1660.3 670.2L1655.4 672.9L1655.8 678.1L1650.6 680.4L1645.2 679.2" stroke="#010004" stroke-width="3.2"/>
<path d="M1507.2 631.6L1512.3 631.5L1524.8 628.8" stroke="#010004" stroke-width="1.1"/>
<path d="M1542.3 592.8L1544.2 584.2L1538 577" stroke="#010004" stroke-width="1"/>
<path d="M1630.8 663.6L1629 669.7L1621.2 671.3L1613.3 666L1607 661.1L1603.7 658.1" stroke="#010004" stroke-width="2.6"/>
</g>
<g fill="none" stroke="#e0203c" stroke-opacity="0.55" stroke-width="0.9" filter="url(#soft2)">
<path d="M1636.5 613.1 Q1632 616.7 1616 615.7"/>
<path d="M1669 675.1 Q1667 687.4 1676.5 702"/>
<path d="M1317 606.8 Q1320.7 608.4 1323.7 612.5"/>
<path d="M1366.9 587.1 Q1363.1 594.9 1361.8 592.1"/>
<path d="M1277.6 596.7 Q1272.5 614.6 1268.5 622.3"/>
<path d="M1779.6 612.6 Q1781.2 624.2 1783.6 624"/>
<path d="M1713.3 582.1 Q1717.2 579.8 1720.4 587.3"/>
<path d="M1517.5 600.1 Q1501.1 603.9 1491 600.4"/>
<path d="M1630.1 673.3 Q1629.2 679 1636.6 684.7"/>
<path d="M1597.6 666 Q1598.5 682.6 1601 693"/>
<path d="M1367.4 576.9 Q1358.1 579.8 1350.3 584.7"/>
<path d="M1580.2 620.3 Q1576.3 629 1577.4 640.7"/>
<path d="M1274.9 629.9 Q1277.1 636.2 1281.3 637.3"/>
<path d="M1835.6 673.4 Q1831 671.7 1836.9 681.7"/>
<path d="M1445.3 635.8 Q1438.4 641.7 1432.5 637.8"/>
<path d="M1625.7 643.7 Q1623.1 650 1631.6 648.2"/>
<path d="M1824.8 663.5 Q1826.8 669.1 1822.6 682.9"/>
<path d="M1422.7 668 Q1430.9 673.1 1441.3 670.3"/>
<path d="M1387.6 673.7 Q1394.7 677.7 1407.3 687.3"/>
<path d="M1290.1 637.1 Q1291.6 649.5 1291.6 656.9"/>
<path d="M1854.2 570 Q1865.7 576.6 1872.6 573.2"/>
<path d="M1281.5 586.1 Q1289.7 593.5 1286.3 607.1"/>
<path d="M1462.6 574.5 Q1472.4 574.9 1477.6 585.2"/>
<path d="M1624.2 653.8 Q1624.5 660.4 1631.9 656.3"/>
<path d="M1565.5 626.3 Q1560.7 632.1 1561.3 630.9"/>
<path d="M1675.6 605 Q1665.8 608.2 1667.4 616.5"/>
<path d="M1535.5 579.8 Q1537.7 584.7 1543.2 583.1"/>
<path d="M1719.4 672.9 Q1718.6 672.9 1715.1 682.8"/>
<path d="M1538.2 650.2 Q1533.3 655.5 1530.9 656.5"/>
<path d="M1373.2 641.2 Q1367.2 653.2 1367.5 666.9"/>
<path d="M1359.1 614.1 Q1349.9 615.8 1340.1 629.2"/>
<path d="M1382.3 641.6 Q1377.3 657.1 1376.7 662.5"/>
<path d="M1564 659.6 Q1551.9 668.4 1546.3 671"/>
<path d="M1467 626.1 Q1469.6 626.7 1471.5 637.9"/>
<path d="M1761.1 652.5 Q1775.7 657.8 1778.6 672.8"/>
<path d="M1346 590.9 Q1355.4 596.5 1357.7 594.2"/>
</g>
<path d="M1233.3 535.3 L1233.3 547.3 L1237.3 547.4 L1241.3 547.3 L1244.5 548.4 L1247.7 549 L1250.8 549.2 L1254 547.4 L1257.2 548.1 L1260.4 548.5 L1263.6 550.5 L1266.8 549.2 L1269.9 550.3 L1273.1 551 L1276.3 550.8 L1279.5 551.5 L1282.7 552.6 L1285.8 552.7 L1289 553 L1292.2 553.4 L1295.4 553.4 L1298.6 554.7 L1301.8 553.9 L1304.9 555.2 L1308.1 554.7 L1311.3 555.8 L1314.4 555.9 L1317.5 555.8 L1320.7 556.2 L1323.8 555.4 L1326.9 557 L1330 556.4 L1333.2 557.5 L1336.3 555.7 L1339.4 557.4 L1342.5 557.7 L1345.7 556.4 L1348.8 556.7 L1351.9 556.7 L1355 557.6 L1358.2 557.5 L1361.3 557.8 L1364.4 559.3 L1367.5 559.4 L1370.5 558.4 L1373.6 559 L1376.7 559.9 L1379.8 560.4 L1382.8 561 L1385.9 561.7 L1389 560.4 L1392.1 561.1 L1395.1 561.2 L1398.2 563.4 L1401.3 562.8 L1404.4 563.7 L1407.5 562.5 L1410.5 562.6 L1413.6 563.9 L1416.7 564 L1419.8 562.3 L1422.8 562.9 L1425.9 563 L1429 563.7 L1432.1 563.8 L1435.1 563.3 L1438.2 564.8 L1441.3 563.8 L1444.3 563.3 L1447.3 564.3 L1450.3 562.5 L1453.3 562.9 L1456.3 564.7 L1459.3 562.4 L1462.3 562.4 L1465.3 562.8 L1468.3 563.7 L1471.3 562.4 L1474.3 562.3 L1477.3 563.7 L1480.3 563.7 L1483.3 563.7 L1486.3 562.3 L1489.3 562.7 L1492.3 562.5 L1495.3 563.5 L1498.3 564 L1501.3 562.8 L1504.4 563.5 L1507.5 562.5 L1510.7 562.3 L1513.8 562.4 L1516.9 562.9 L1520 562.2 L1523.2 561 L1526.3 562.1 L1529.4 560.8 L1532.5 561.7 L1535.7 562.2 L1538.8 561.6 L1541.9 560.6 L1545 561 L1548.2 561.9 L1551.3 561.3 L1554.4 561.6 L1557.5 560.2 L1560.5 560.2 L1563.6 560.9 L1566.7 560.7 L1569.8 560 L1572.8 559.9 L1575.9 561.7 L1579 560.6 L1582.1 560.4 L1585.1 560.4 L1588.2 560.2 L1591.3 560.6 L1594.4 560.5 L1597.5 560.6 L1600.5 561 L1603.6 560.4 L1606.7 560.5 L1609.8 559.2 L1612.8 560.5 L1615.9 560.7 L1619 559.7 L1622.1 559 L1625.1 560 L1628.2 560 L1631.3 559.3 L1634.3 559.2 L1637.4 558.7 L1640.4 559.1 L1643.5 560.1 L1646.5 560.9 L1649.6 559.3 L1652.6 558.9 L1655.6 559.8 L1658.7 560.2 L1661.7 559.4 L1664.8 560.5 L1667.8 559.2 L1670.9 559.3 L1673.9 561 L1677 560.1 L1680 561.3 L1683 560.7 L1686.1 561.7 L1689.1 561.1 L1692.2 561.2 L1695.2 560.6 L1698.3 560.9 L1701.3 561.3 L1704.4 562.2 L1707.5 562.5 L1710.5 562 L1713.6 562.2 L1716.7 563.4 L1719.8 561.5 L1722.8 562.6 L1725.9 562.9 L1729 561.9 L1732.1 564.2 L1735.1 564.6 L1738.2 564.3 L1741.3 564.9 L1744.4 564.9 L1747.5 565.1 L1750.5 565.5 L1753.6 565.3 L1756.7 563.8 L1759.8 565.4 L1762.8 564.2 L1765.9 566.4 L1769 566.3 L1772.1 566.5 L1775.1 565.3 L1778.2 566.3 L1781.3 566.3 L1784.4 566.7 L1787.5 566.9 L1790.5 569.3 L1793.6 568.5 L1796.7 569.9 L1799.8 569.7 L1802.8 570.5 L1805.9 571.6 L1809 572.8 L1812.1 573 L1815.1 572.6 L1818.2 573.8 L1821.3 574.3 L1824.4 575.4 L1827.4 576 L1830.5 575.2 L1833.6 574.8 L1836.6 575 L1839.7 576.5 L1842.8 576.1 L1845.8 577.8 L1848.9 578.1 L1852 577.4 L1855 578.4 L1858.1 578.3 L1861.2 579.5 L1864.2 578.9 L1867.3 579.3 L1870.5 578.9 L1873.8 579.3 L1873.8 535.3Z" fill="#020004" filter="url(#rag)"/>
<ellipse cx="1553.8" cy="555.1" rx="1.1" ry="0.6" fill="#2a2ae0" fill-opacity="0.8"/>
<ellipse cx="1528.1" cy="547.4" rx="1.1" ry="0.6" fill="#2a2ae0" fill-opacity="0.8"/>
<ellipse cx="1501.7" cy="555" rx="1.1" ry="0.6" fill="#2a2ae0" fill-opacity="0.8"/>
<ellipse cx="1255.2" cy="544.5" rx="1.1" ry="0.6" fill="#2a2ae0" fill-opacity="0.8"/>
<ellipse cx="1303.6" cy="546.3" rx="1.1" ry="0.6" fill="#2a2ae0" fill-opacity="0.8"/>
<ellipse cx="1773.9" cy="561.7" rx="1.1" ry="0.6" fill="#2a2ae0" fill-opacity="0.8"/>
<ellipse cx="1499.1" cy="554" rx="1.1" ry="0.6" fill="#2a2ae0" fill-opacity="0.8"/>
<ellipse cx="1561" cy="547.6" rx="1.1" ry="0.6" fill="#2a2ae0" fill-opacity="0.8"/>
<ellipse cx="1338.7" cy="550.3" rx="1.1" ry="0.6" fill="#2a2ae0" fill-opacity="0.8"/>
<ellipse cx="1526.4" cy="554.3" rx="1.1" ry="0.6" fill="#2a2ae0" fill-opacity="0.8"/>
<ellipse cx="1622.1" cy="552.1" rx="1.1" ry="0.6" fill="#2a2ae0" fill-opacity="0.8"/>
<ellipse cx="1515" cy="544.9" rx="1.1" ry="0.6" fill="#2a2ae0" fill-opacity="0.8"/>
<ellipse cx="1348.9" cy="553.5" rx="1.1" ry="0.6" fill="#2a2ae0" fill-opacity="0.8"/>
<ellipse cx="1393.1" cy="557.1" rx="1.1" ry="0.6" fill="#2a2ae0" fill-opacity="0.8"/>
<ellipse cx="1445.8" cy="547.9" rx="1.1" ry="0.6" fill="#2a2ae0" fill-opacity="0.8"/>
<ellipse cx="1354.9" cy="551.5" rx="1.1" ry="0.6" fill="#2a2ae0" fill-opacity="0.8"/>
<ellipse cx="1305.9" cy="551.5" rx="1.1" ry="0.6" fill="#2a2ae0" fill-opacity="0.8"/>
<ellipse cx="1570" cy="551.3" rx="1.1" ry="0.6" fill="#2a2ae0" fill-opacity="0.8"/>
<ellipse cx="1413.6" cy="546.8" rx="1.1" ry="0.6" fill="#2a2ae0" fill-opacity="0.8"/>
<ellipse cx="1388.1" cy="554.2" rx="1.1" ry="0.6" fill="#2a2ae0" fill-opacity="0.8"/>
<ellipse cx="1414.5" cy="560.1" rx="1.1" ry="0.6" fill="#2a2ae0" fill-opacity="0.8"/>
<ellipse cx="1461" cy="547.3" rx="1.1" ry="0.6" fill="#2a2ae0" fill-opacity="0.8"/>
<ellipse cx="1753" cy="558.6" rx="1.1" ry="0.6" fill="#2a2ae0" fill-opacity="0.8"/>
<ellipse cx="1593.3" cy="554.8" rx="1.1" ry="0.6" fill="#2a2ae0" fill-opacity="0.8"/>
<ellipse cx="1742.9" cy="550.1" rx="1.1" ry="0.6" fill="#2a2ae0" fill-opacity="0.8"/>
<ellipse cx="1712.3" cy="548.2" rx="1.1" ry="0.6" fill="#2a2ae0" fill-opacity="0.8"/>
<ellipse cx="1444.5" cy="560.4" rx="1.1" ry="0.6" fill="#2a2ae0" fill-opacity="0.8"/>
<ellipse cx="1613.3" cy="552.7" rx="1.1" ry="0.6" fill="#2a2ae0" fill-opacity="0.8"/>
<ellipse cx="1640.2" cy="544.6" rx="1.1" ry="0.6" fill="#2a2ae0" fill-opacity="0.8"/>
<ellipse cx="1394.8" cy="554.4" rx="1.1" ry="0.6" fill="#2a2ae0" fill-opacity="0.8"/>
<ellipse cx="1742" cy="557.6" rx="1.1" ry="0.6" fill="#2a2ae0" fill-opacity="0.8"/>
<ellipse cx="1631.2" cy="550.6" rx="1.1" ry="0.6" fill="#2a2ae0" fill-opacity="0.8"/>
<ellipse cx="1749.3" cy="559" rx="1.1" ry="0.6" fill="#2a2ae0" fill-opacity="0.8"/>
<ellipse cx="1694.3" cy="544.7" rx="1.1" ry="0.6" fill="#2a2ae0" fill-opacity="0.8"/>
<ellipse cx="1701.9" cy="551" rx="1.1" ry="0.6" fill="#2a2ae0" fill-opacity="0.8"/>
<ellipse cx="1384.4" cy="546.2" rx="1.1" ry="0.6" fill="#2a2ae0" fill-opacity="0.8"/>
<ellipse cx="1685.6" cy="545" rx="1.1" ry="0.6" fill="#2a2ae0" fill-opacity="0.8"/>
<ellipse cx="1821.3" cy="547" rx="1.1" ry="0.6" fill="#2a2ae0" fill-opacity="0.8"/>
<ellipse cx="1395.1" cy="550.8" rx="1.1" ry="0.6" fill="#2a2ae0" fill-opacity="0.8"/>
<ellipse cx="1332.5" cy="550.9" rx="1.1" ry="0.6" fill="#2a2ae0" fill-opacity="0.8"/>
<ellipse cx="1336.1" cy="549.3" rx="1.1" ry="0.6" fill="#2a2ae0" fill-opacity="0.8"/>
<ellipse cx="1393.2" cy="550.9" rx="1.1" ry="0.6" fill="#2a2ae0" fill-opacity="0.8"/>
<ellipse cx="1625.7" cy="549.8" rx="1.1" ry="0.6" fill="#2a2ae0" fill-opacity="0.8"/>
<ellipse cx="1479.1" cy="546.7" rx="1.1" ry="0.6" fill="#2a2ae0" fill-opacity="0.8"/>
<ellipse cx="1743.5" cy="553.9" rx="1.1" ry="0.6" fill="#2a2ae0" fill-opacity="0.8"/>
<ellipse cx="1511" cy="546.1" rx="1.1" ry="0.6" fill="#2a2ae0" fill-opacity="0.8"/>
<ellipse cx="1646.4" cy="546.3" rx="1.1" ry="0.6" fill="#2a2ae0" fill-opacity="0.8"/>
<ellipse cx="1760.4" cy="548.8" rx="1.1" ry="0.6" fill="#2a2ae0" fill-opacity="0.8"/>
<ellipse cx="1387.1" cy="556.1" rx="1.1" ry="0.6" fill="#2a2ae0" fill-opacity="0.8"/>
<ellipse cx="1360.4" cy="546.4" rx="1.1" ry="0.6" fill="#2a2ae0" fill-opacity="0.8"/>
<ellipse cx="1517.2" cy="556.1" rx="1.1" ry="0.6" fill="#2a2ae0" fill-opacity="0.8"/>
<ellipse cx="1829.4" cy="563.3" rx="1.1" ry="0.6" fill="#2a2ae0" fill-opacity="0.8"/>
<ellipse cx="1773.9" cy="552" rx="1.1" ry="0.6" fill="#2a2ae0" fill-opacity="0.8"/>
<ellipse cx="1366.2" cy="550" rx="1.1" ry="0.6" fill="#2a2ae0" fill-opacity="0.8"/>
<ellipse cx="1444.8" cy="548.3" rx="1.1" ry="0.6" fill="#2a2ae0" fill-opacity="0.8"/>
<ellipse cx="1732.7" cy="556.8" rx="1.1" ry="0.6" fill="#2a2ae0" fill-opacity="0.8"/>
</g>
<text x="1554.5" y="22.7" text-anchor="middle">Day 28 post 650 rads</text>
<text x="1554.5" y="394" text-anchor="middle">Day 28 post 650 rads</text>
<text transform="translate(1234 98.4) rotate(-90)" text-anchor="middle">PBS</text>
<text transform="translate(1234 242) rotate(-90)" text-anchor="middle">2µg SCGF</text>
<text transform="translate(1207.7 167.6) rotate(-90)" text-anchor="middle">Control</text>
<text transform="translate(1234 469.7) rotate(-90)" text-anchor="middle">PBS</text>
<text transform="translate(1234 611.6) rotate(-90)" text-anchor="middle">2µg SCGF</text>
<text transform="translate(1207.7 539.7) rotate(-90)" text-anchor="middle" font-style="italic">CDH5–MAPK</text>
<path d="M86.5 78.4 V266.5 H263.6" fill="none" stroke="#000" stroke-width="1.5"/>
<line x1="86.5" y1="266.5" x2="86.5" y2="273" stroke="#000" stroke-width="1.5"/>
<line x1="121.92" y1="266.5" x2="121.92" y2="273" stroke="#000" stroke-width="1.5"/>
<line x1="157.34" y1="266.5" x2="157.34" y2="273" stroke="#000" stroke-width="1.5"/>
<line x1="192.76" y1="266.5" x2="192.76" y2="273" stroke="#000" stroke-width="1.5"/>
<line x1="228.18" y1="266.5" x2="228.18" y2="273" stroke="#000" stroke-width="1.5"/>
<line x1="263.6" y1="266.5" x2="263.6" y2="273" stroke="#000" stroke-width="1.5"/>
<line x1="80" y1="266.5" x2="86.5" y2="266.5" stroke="#000" stroke-width="1.5"/>
<text x="72" y="272.2" text-anchor="end">0</text>
<line x1="80" y1="239.63" x2="86.5" y2="239.63" stroke="#000" stroke-width="1.5"/>
<text x="72" y="245.33" text-anchor="end">2</text>
<line x1="80" y1="212.76" x2="86.5" y2="212.76" stroke="#000" stroke-width="1.5"/>
<text x="72" y="218.46" text-anchor="end">4</text>
<line x1="80" y1="185.89" x2="86.5" y2="185.89" stroke="#000" stroke-width="1.5"/>
<text x="72" y="191.59" text-anchor="end">6</text>
<line x1="80" y1="159.01" x2="86.5" y2="159.01" stroke="#000" stroke-width="1.5"/>
<text x="72" y="164.71" text-anchor="end">8</text>
<line x1="80" y1="132.14" x2="86.5" y2="132.14" stroke="#000" stroke-width="1.5"/>
<text x="72" y="137.84" text-anchor="end">10</text>
<line x1="80" y1="105.27" x2="86.5" y2="105.27" stroke="#000" stroke-width="1.5"/>
<text x="72" y="110.97" text-anchor="end">12</text>
<line x1="80" y1="78.4" x2="86.5" y2="78.4" stroke="#000" stroke-width="1.5"/>
<text x="72" y="84.1" text-anchor="end">14</text>
<text x="104.21" y="293.7" text-anchor="middle">0</text>
<text x="139.63" y="293.7" text-anchor="middle">7</text>
<text x="175.05" y="293.7" text-anchor="middle">14</text>
<text x="210.47" y="293.7" text-anchor="middle">21</text>
<text x="245.89" y="293.7" text-anchor="middle">28</text>
<text x="175.05" y="316.7" text-anchor="middle">Days post 650 rads</text>
<text transform="translate(38.5 172.5) rotate(-90)" text-anchor="middle">White blood cells (×10<tspan font-size="11" dy="-6.5">3</tspan><tspan dy="6.5">/µL)</tspan></text>
<path d="M104.21 128.11 V98.55 M101.31 128.11 H107.11 M101.31 98.55 H107.11" stroke="#000" stroke-width="1.5" fill="none"/>
<path d="M175.05 258.44 V254.41 M172.15 258.44 H177.95 M172.15 254.41 H177.95" stroke="#000" stroke-width="1.5" fill="none"/>
<path d="M210.47 251.05 V241.64 M207.57 251.05 H213.37 M207.57 241.64 H213.37" stroke="#000" stroke-width="1.5" fill="none"/>
<path d="M245.89 237.61 V233.58 M242.99 237.61 H248.79 M242.99 233.58 H248.79" stroke="#000" stroke-width="1.5" fill="none"/>
<path d="M104.21 113.33 L139.63 261.8 L175.05 256.42 L210.47 246.35 L245.89 235.6" fill="none" stroke="#000" stroke-width="1.5"/>
<path d="M104.21 129.46 V98.55 M101.31 129.46 H107.11 M101.31 98.55 H107.11" stroke="#000" stroke-width="1.5" fill="none"/>
<path d="M139.63 238.96 V233.58 M136.73 238.96 H142.53 M136.73 233.58 H142.53" stroke="#000" stroke-width="1.5" fill="none"/>
<path d="M175.05 231.57 V226.19 M172.15 231.57 H177.95 M172.15 226.19 H177.95" stroke="#000" stroke-width="1.5" fill="none"/>
<path d="M210.47 224.18 V200.66 M207.57 224.18 H213.37 M207.57 200.66 H213.37" stroke="#000" stroke-width="1.5" fill="none"/>
<path d="M245.89 202.68 V187.9 M242.99 202.68 H248.79 M242.99 187.9 H248.79" stroke="#000" stroke-width="1.5" fill="none"/>
<path d="M104.21 113.33 L139.63 236.27 L175.05 228.88 L210.47 212.76 L245.89 194.62" fill="none" stroke="#000" stroke-width="1.5" stroke-dasharray="10.5 7.5"/>
<ellipse cx="104.21" cy="113.33" rx="3.8" ry="4.8" fill="#000"/>
<ellipse cx="139.63" cy="261.8" rx="3.8" ry="4.8" fill="#000"/>
<ellipse cx="175.05" cy="256.42" rx="3.8" ry="4.8" fill="#000"/>
<ellipse cx="210.47" cy="246.35" rx="3.8" ry="4.8" fill="#000"/>
<ellipse cx="245.89" cy="235.6" rx="3.8" ry="4.8" fill="#000"/>
<ellipse cx="104.21" cy="113.33" rx="3.2" ry="4.2" fill="#e6e6e6" stroke="#000" stroke-width="1.6"/>
<ellipse cx="139.63" cy="236.27" rx="3.2" ry="4.2" fill="#e6e6e6" stroke="#000" stroke-width="1.6"/>
<ellipse cx="175.05" cy="228.88" rx="3.2" ry="4.2" fill="#e6e6e6" stroke="#000" stroke-width="1.6"/>
<ellipse cx="210.47" cy="212.76" rx="3.2" ry="4.2" fill="#e6e6e6" stroke="#000" stroke-width="1.6"/>
<ellipse cx="245.89" cy="194.62" rx="3.2" ry="4.2" fill="#e6e6e6" stroke="#000" stroke-width="1.6"/>
<text x="140.63" y="229.1" font-size="21" text-anchor="middle" letter-spacing="2">**</text>
<text x="176.05" y="221" font-size="21" text-anchor="middle" letter-spacing="2">**</text>
<text x="211.47" y="197.5" font-size="21" text-anchor="middle" letter-spacing="2">**</text>
<text x="246.89" y="184.5" font-size="21" text-anchor="middle" letter-spacing="2">**</text>
<path d="M387.7 78.7 V267.2 H559.5" fill="none" stroke="#000" stroke-width="1.5"/>
<line x1="387.7" y1="267.2" x2="387.7" y2="273.7" stroke="#000" stroke-width="1.5"/>
<line x1="422.06" y1="267.2" x2="422.06" y2="273.7" stroke="#000" stroke-width="1.5"/>
<line x1="456.42" y1="267.2" x2="456.42" y2="273.7" stroke="#000" stroke-width="1.5"/>
<line x1="490.78" y1="267.2" x2="490.78" y2="273.7" stroke="#000" stroke-width="1.5"/>
<line x1="525.14" y1="267.2" x2="525.14" y2="273.7" stroke="#000" stroke-width="1.5"/>
<line x1="559.5" y1="267.2" x2="559.5" y2="273.7" stroke="#000" stroke-width="1.5"/>
<line x1="381.2" y1="267.2" x2="387.7" y2="267.2" stroke="#000" stroke-width="1.5"/>
<text x="373.2" y="272.9" text-anchor="end">0.0</text>
<line x1="381.2" y1="220.07" x2="387.7" y2="220.07" stroke="#000" stroke-width="1.5"/>
<text x="373.2" y="225.77" text-anchor="end">0.2</text>
<line x1="381.2" y1="172.95" x2="387.7" y2="172.95" stroke="#000" stroke-width="1.5"/>
<text x="373.2" y="178.65" text-anchor="end">0.4</text>
<line x1="381.2" y1="125.82" x2="387.7" y2="125.82" stroke="#000" stroke-width="1.5"/>
<text x="373.2" y="131.52" text-anchor="end">0.6</text>
<line x1="381.2" y1="78.7" x2="387.7" y2="78.7" stroke="#000" stroke-width="1.5"/>
<text x="373.2" y="84.4" text-anchor="end">0.8</text>
<text x="404.88" y="294.4" text-anchor="middle">0</text>
<text x="439.24" y="294.4" text-anchor="middle">7</text>
<text x="473.6" y="294.4" text-anchor="middle">14</text>
<text x="507.96" y="294.4" text-anchor="middle">21</text>
<text x="542.32" y="294.4" text-anchor="middle">28</text>
<text x="473.6" y="317.4" text-anchor="middle">Days post 650 rads</text>
<text transform="translate(336.5 174) rotate(-90)" text-anchor="middle">Neutrophils per µL (×10<tspan font-size="11" dy="-6.5">3</tspan><tspan dy="6.5">/µL)</tspan></text>
<path d="M404.88 178.84 V141.14 M401.98 178.84 H407.78 M401.98 141.14 H407.78" stroke="#000" stroke-width="1.5" fill="none"/>
<path d="M439.24 255.42 V248.35 M436.34 255.42 H442.14 M436.34 248.35 H442.14" stroke="#000" stroke-width="1.5" fill="none"/>
<path d="M473.6 243.64 V225.97 M470.7 243.64 H476.5 M470.7 225.97 H476.5" stroke="#000" stroke-width="1.5" fill="none"/>
<path d="M507.96 228.32 V198.87 M505.06 228.32 H510.86 M505.06 198.87 H510.86" stroke="#000" stroke-width="1.5" fill="none"/>
<path d="M542.32 222.43 V210.65 M539.42 222.43 H545.22 M539.42 210.65 H545.22" stroke="#000" stroke-width="1.5" fill="none"/>
<path d="M404.88 158.81 L439.24 251.88 L473.6 234.21 L507.96 213.01 L542.32 215.36" fill="none" stroke="#000" stroke-width="1.5"/>
<path d="M404.88 178.84 V141.14 M401.98 178.84 H407.78 M401.98 141.14 H407.78" stroke="#000" stroke-width="1.5" fill="none"/>
<path d="M439.24 217.72 V209.47 M436.34 217.72 H442.14 M436.34 209.47 H442.14" stroke="#000" stroke-width="1.5" fill="none"/>
<path d="M473.6 208.29 V171.77 M470.7 208.29 H476.5 M470.7 171.77 H476.5" stroke="#000" stroke-width="1.5" fill="none"/>
<path d="M507.96 194.16 V78.7 M505.06 194.16 H510.86 M505.06 78.7 H510.86" stroke="#000" stroke-width="1.5" fill="none"/>
<path d="M542.32 159.99 V124.65 M539.42 159.99 H545.22 M539.42 124.65 H545.22" stroke="#000" stroke-width="1.5" fill="none"/>
<path d="M404.88 158.81 L439.24 213.01 L473.6 189.44 L507.96 136.43 L542.32 141.14" fill="none" stroke="#000" stroke-width="1.5" stroke-dasharray="10.5 7.5"/>
<ellipse cx="404.88" cy="158.81" rx="2.6" ry="3.2" fill="#000"/>
<ellipse cx="439.24" cy="251.88" rx="2.6" ry="3.2" fill="#000"/>
<ellipse cx="473.6" cy="234.21" rx="2.6" ry="3.2" fill="#000"/>
<ellipse cx="507.96" cy="213.01" rx="2.6" ry="3.2" fill="#000"/>
<ellipse cx="542.32" cy="215.36" rx="2.6" ry="3.2" fill="#000"/>
<ellipse cx="404.88" cy="158.81" rx="2" ry="2.6" fill="#fff" stroke="#000" stroke-width="1.6"/>
<ellipse cx="439.24" cy="213.01" rx="2" ry="2.6" fill="#fff" stroke="#000" stroke-width="1.6"/>
<ellipse cx="473.6" cy="189.44" rx="2" ry="2.6" fill="#fff" stroke="#000" stroke-width="1.6"/>
<ellipse cx="507.96" cy="136.43" rx="2" ry="2.6" fill="#fff" stroke="#000" stroke-width="1.6"/>
<ellipse cx="542.32" cy="141.14" rx="2" ry="2.6" fill="#fff" stroke="#000" stroke-width="1.6"/>
<text x="440.24" y="186.8" font-size="21" text-anchor="middle" letter-spacing="2">***</text>
<text x="474.6" y="161.3" font-size="21" text-anchor="middle" letter-spacing="2">*</text>
<text x="543.32" y="122.2" font-size="21" text-anchor="middle" letter-spacing="2">***</text>
<path d="M664.2 77.5 V266.5 H838" fill="none" stroke="#000" stroke-width="1.5"/>
<line x1="664.2" y1="266.5" x2="664.2" y2="273" stroke="#000" stroke-width="1.5"/>
<line x1="698.96" y1="266.5" x2="698.96" y2="273" stroke="#000" stroke-width="1.5"/>
<line x1="733.72" y1="266.5" x2="733.72" y2="273" stroke="#000" stroke-width="1.5"/>
<line x1="768.48" y1="266.5" x2="768.48" y2="273" stroke="#000" stroke-width="1.5"/>
<line x1="803.24" y1="266.5" x2="803.24" y2="273" stroke="#000" stroke-width="1.5"/>
<line x1="838" y1="266.5" x2="838" y2="273" stroke="#000" stroke-width="1.5"/>
<line x1="657.7" y1="266.5" x2="664.2" y2="266.5" stroke="#000" stroke-width="1.5"/>
<text x="649.7" y="272.2" text-anchor="end">0</text>
<line x1="657.7" y1="239.5" x2="664.2" y2="239.5" stroke="#000" stroke-width="1.5"/>
<text x="649.7" y="245.2" text-anchor="end">2</text>
<line x1="657.7" y1="212.5" x2="664.2" y2="212.5" stroke="#000" stroke-width="1.5"/>
<text x="649.7" y="218.2" text-anchor="end">4</text>
<line x1="657.7" y1="185.5" x2="664.2" y2="185.5" stroke="#000" stroke-width="1.5"/>
<text x="649.7" y="191.2" text-anchor="end">6</text>
<line x1="657.7" y1="158.5" x2="664.2" y2="158.5" stroke="#000" stroke-width="1.5"/>
<text x="649.7" y="164.2" text-anchor="end">8</text>
<line x1="657.7" y1="131.5" x2="664.2" y2="131.5" stroke="#000" stroke-width="1.5"/>
<text x="649.7" y="137.2" text-anchor="end">10</text>
<line x1="657.7" y1="104.5" x2="664.2" y2="104.5" stroke="#000" stroke-width="1.5"/>
<text x="649.7" y="110.2" text-anchor="end">12</text>
<line x1="657.7" y1="77.5" x2="664.2" y2="77.5" stroke="#000" stroke-width="1.5"/>
<text x="649.7" y="83.2" text-anchor="end">14</text>
<text x="676.08" y="293.7" text-anchor="middle">0</text>
<text x="711.34" y="293.7" text-anchor="middle">7</text>
<text x="751.1" y="293.7" text-anchor="middle">14</text>
<text x="785.86" y="293.7" text-anchor="middle">21</text>
<text x="821.62" y="293.7" text-anchor="middle">28</text>
<text x="751.1" y="316.7" text-anchor="middle">Days post 650 rads</text>
<text transform="translate(617.5 171.5) rotate(-90)" text-anchor="middle">Red blood cells (×10<tspan font-size="11" dy="-6.5">6</tspan><tspan dy="6.5">/µL)</tspan></text>
<path d="M681.58 120.03 V104.5 M678.68 120.03 H684.48 M678.68 104.5 H684.48" stroke="#000" stroke-width="1.5" fill="none"/>
<path d="M716.34 152.43 V138.93 M713.44 152.43 H719.24 M713.44 138.93 H719.24" stroke="#000" stroke-width="1.5" fill="none"/>
<path d="M751.1 169.3 V158.5 M748.2 169.3 H754 M748.2 158.5 H754" stroke="#000" stroke-width="1.5" fill="none"/>
<path d="M785.86 161.88 V149.72 M782.96 161.88 H788.76 M782.96 149.72 H788.76" stroke="#000" stroke-width="1.5" fill="none"/>
<path d="M820.62 145 V136.22 M817.72 145 H823.52 M817.72 136.22 H823.52" stroke="#000" stroke-width="1.5" fill="none"/>
<path d="M681.58 112.6 L716.34 145.68 L751.1 163.9 L785.86 155.8 L820.62 140.95" fill="none" stroke="#000" stroke-width="1.5"/>
<path d="M681.58 120.03 V104.5 M678.68 120.03 H684.48 M678.68 104.5 H684.48" stroke="#000" stroke-width="1.5" fill="none"/>
<path d="M716.34 129.47 V122.72 M713.44 129.47 H719.24 M713.44 122.72 H719.24" stroke="#000" stroke-width="1.5" fill="none"/>
<path d="M751.1 140.28 V133.53 M748.2 140.28 H754 M748.2 133.53 H754" stroke="#000" stroke-width="1.5" fill="none"/>
<path d="M785.86 107.2 V101.8 M782.96 107.2 H788.76 M782.96 101.8 H788.76" stroke="#000" stroke-width="1.5" fill="none"/>
<path d="M820.62 105.85 V100.45 M817.72 105.85 H823.52 M817.72 100.45 H823.52" stroke="#000" stroke-width="1.5" fill="none"/>
<path d="M681.58 111.93 L716.34 126.1 L751.1 136.9 L785.86 104.5 L820.62 103.15" fill="none" stroke="#000" stroke-width="1.5" stroke-dasharray="10.5 7.5"/>
<ellipse cx="681.58" cy="112.6" rx="3.8" ry="4.8" fill="#000"/>
<ellipse cx="716.34" cy="145.68" rx="3.8" ry="4.8" fill="#000"/>
<ellipse cx="751.1" cy="163.9" rx="3.8" ry="4.8" fill="#000"/>
<ellipse cx="785.86" cy="155.8" rx="3.8" ry="4.8" fill="#000"/>
<ellipse cx="820.62" cy="140.95" rx="3.8" ry="4.8" fill="#000"/>
<ellipse cx="681.58" cy="111.93" rx="3.2" ry="4.2" fill="#e6e6e6" stroke="#000" stroke-width="1.6"/>
<ellipse cx="716.34" cy="126.1" rx="3.2" ry="4.2" fill="#e6e6e6" stroke="#000" stroke-width="1.6"/>
<ellipse cx="751.1" cy="136.9" rx="3.2" ry="4.2" fill="#e6e6e6" stroke="#000" stroke-width="1.6"/>
<ellipse cx="785.86" cy="104.5" rx="3.2" ry="4.2" fill="#e6e6e6" stroke="#000" stroke-width="1.6"/>
<ellipse cx="820.62" cy="103.15" rx="3.2" ry="4.2" fill="#e6e6e6" stroke="#000" stroke-width="1.6"/>
<text x="717.34" y="117.7" font-size="21" text-anchor="middle" letter-spacing="2">*</text>
<text x="752.1" y="130.2" font-size="21" text-anchor="middle" letter-spacing="2">**</text>
<text x="786.86" y="96.5" font-size="21" text-anchor="middle" letter-spacing="2">***</text>
<text x="821.62" y="94.7" font-size="21" text-anchor="middle" letter-spacing="2">**</text>
<path d="M950.7 77.5 V266.5 H1121.7" fill="none" stroke="#000" stroke-width="1.5"/>
<line x1="950.7" y1="266.5" x2="950.7" y2="273" stroke="#000" stroke-width="1.5"/>
<line x1="984.9" y1="266.5" x2="984.9" y2="273" stroke="#000" stroke-width="1.5"/>
<line x1="1019.1" y1="266.5" x2="1019.1" y2="273" stroke="#000" stroke-width="1.5"/>
<line x1="1053.3" y1="266.5" x2="1053.3" y2="273" stroke="#000" stroke-width="1.5"/>
<line x1="1087.5" y1="266.5" x2="1087.5" y2="273" stroke="#000" stroke-width="1.5"/>
<line x1="1121.7" y1="266.5" x2="1121.7" y2="273" stroke="#000" stroke-width="1.5"/>
<line x1="944.2" y1="266.5" x2="950.7" y2="266.5" stroke="#000" stroke-width="1.5"/>
<text x="936.2" y="272.2" text-anchor="end">0</text>
<line x1="944.2" y1="219.25" x2="950.7" y2="219.25" stroke="#000" stroke-width="1.5"/>
<text x="936.2" y="224.95" text-anchor="end">500</text>
<line x1="944.2" y1="172" x2="950.7" y2="172" stroke="#000" stroke-width="1.5"/>
<text x="936.2" y="177.7" text-anchor="end">1000</text>
<line x1="944.2" y1="124.75" x2="950.7" y2="124.75" stroke="#000" stroke-width="1.5"/>
<text x="936.2" y="130.45" text-anchor="end">1500</text>
<line x1="944.2" y1="77.5" x2="950.7" y2="77.5" stroke="#000" stroke-width="1.5"/>
<text x="936.2" y="83.2" text-anchor="end">2000</text>
<text x="967.8" y="293.7" text-anchor="middle">0</text>
<text x="1002" y="293.7" text-anchor="middle">7</text>
<text x="1036.2" y="293.7" text-anchor="middle">14</text>
<text x="1070.4" y="293.7" text-anchor="middle">21</text>
<text x="1104.6" y="293.7" text-anchor="middle">28</text>
<text x="1036.2" y="316.7" text-anchor="middle">Days post 650 rads</text>
<text transform="translate(885 172) rotate(-90)" text-anchor="middle">Platelets (×10<tspan font-size="11" dy="-6.5">3</tspan><tspan dy="6.5">/µL)</tspan></text>
<path d="M967.8 117.19 V98.29 M964.9 117.19 H970.7 M964.9 98.29 H970.7" stroke="#000" stroke-width="1.5" fill="none"/>
<path d="M1002 190.9 V173.89 M999.1 190.9 H1004.9 M999.1 173.89 H1004.9" stroke="#000" stroke-width="1.5" fill="none"/>
<path d="M1036.2 220.19 V194.68 M1033.3 220.19 H1039.1 M1033.3 194.68 H1039.1" stroke="#000" stroke-width="1.5" fill="none"/>
<path d="M1070.4 204.13 V189.95 M1067.5 204.13 H1073.3 M1067.5 189.95 H1073.3" stroke="#000" stroke-width="1.5" fill="none"/>
<path d="M1104.6 184.28 V170.11 M1101.7 184.28 H1107.5 M1101.7 170.11 H1107.5" stroke="#000" stroke-width="1.5" fill="none"/>
<path d="M967.8 107.74 L1002 182.39 L1036.2 207.91 L1070.4 197.51 L1104.6 177.67" fill="none" stroke="#000" stroke-width="1.5"/>
<path d="M967.8 117.19 V98.29 M964.9 117.19 H970.7 M964.9 98.29 H970.7" stroke="#000" stroke-width="1.5" fill="none"/>
<path d="M1002 131.37 V101.12 M999.1 131.37 H1004.9 M999.1 101.12 H1004.9" stroke="#000" stroke-width="1.5" fill="none"/>
<path d="M1036.2 196.57 V167.28 M1033.3 196.57 H1039.1 M1033.3 167.28 H1039.1" stroke="#000" stroke-width="1.5" fill="none"/>
<path d="M1070.4 161.61 V103.01 M1067.5 161.61 H1073.3 M1067.5 103.01 H1073.3" stroke="#000" stroke-width="1.5" fill="none"/>
<path d="M1104.6 168.22 V131.37 M1101.7 168.22 H1107.5 M1101.7 131.37 H1107.5" stroke="#000" stroke-width="1.5" fill="none"/>
<path d="M967.8 107.74 L1002 116.25 L1036.2 182.39 L1070.4 132.31 L1104.6 149.32" fill="none" stroke="#000" stroke-width="1.5" stroke-dasharray="10.5 7.5"/>
<ellipse cx="967.8" cy="107.74" rx="3.8" ry="4.8" fill="#000"/>
<ellipse cx="1002" cy="182.39" rx="3.8" ry="4.8" fill="#000"/>
<ellipse cx="1036.2" cy="207.91" rx="3.8" ry="4.8" fill="#000"/>
<ellipse cx="1070.4" cy="197.51" rx="3.8" ry="4.8" fill="#000"/>
<ellipse cx="1104.6" cy="177.67" rx="3.8" ry="4.8" fill="#000"/>
<ellipse cx="967.8" cy="107.74" rx="3.2" ry="4.2" fill="#e6e6e6" stroke="#000" stroke-width="1.6"/>
<ellipse cx="1002" cy="116.25" rx="3.2" ry="4.2" fill="#e6e6e6" stroke="#000" stroke-width="1.6"/>
<ellipse cx="1036.2" cy="182.39" rx="3.2" ry="4.2" fill="#e6e6e6" stroke="#000" stroke-width="1.6"/>
<ellipse cx="1070.4" cy="132.31" rx="3.2" ry="4.2" fill="#e6e6e6" stroke="#000" stroke-width="1.6"/>
<ellipse cx="1104.6" cy="149.32" rx="3.2" ry="4.2" fill="#e6e6e6" stroke="#000" stroke-width="1.6"/>
<text x="1003" y="97.4" font-size="21" text-anchor="middle" letter-spacing="2">**</text>
<text x="1037.2" y="163.7" font-size="21" text-anchor="middle" letter-spacing="2">*</text>
<text x="1071.4" y="99.2" font-size="21" text-anchor="middle" letter-spacing="2">*</text>
<text x="1105.6" y="127.9" font-size="21" text-anchor="middle" letter-spacing="2">*</text>
<path d="M86.6 450.8 V633.1 H258.9" fill="none" stroke="#000" stroke-width="1.5"/>
<line x1="86.6" y1="633.1" x2="86.6" y2="639.6" stroke="#000" stroke-width="1.5"/>
<line x1="121.06" y1="633.1" x2="121.06" y2="639.6" stroke="#000" stroke-width="1.5"/>
<line x1="155.52" y1="633.1" x2="155.52" y2="639.6" stroke="#000" stroke-width="1.5"/>
<line x1="189.98" y1="633.1" x2="189.98" y2="639.6" stroke="#000" stroke-width="1.5"/>
<line x1="224.44" y1="633.1" x2="224.44" y2="639.6" stroke="#000" stroke-width="1.5"/>
<line x1="258.9" y1="633.1" x2="258.9" y2="639.6" stroke="#000" stroke-width="1.5"/>
<line x1="80.1" y1="633.1" x2="86.6" y2="633.1" stroke="#000" stroke-width="1.5"/>
<text x="72.1" y="638.8" text-anchor="end">0</text>
<line x1="80.1" y1="602.72" x2="86.6" y2="602.72" stroke="#000" stroke-width="1.5"/>
<text x="72.1" y="608.42" text-anchor="end">2</text>
<line x1="80.1" y1="572.33" x2="86.6" y2="572.33" stroke="#000" stroke-width="1.5"/>
<text x="72.1" y="578.03" text-anchor="end">4</text>
<line x1="80.1" y1="541.95" x2="86.6" y2="541.95" stroke="#000" stroke-width="1.5"/>
<text x="72.1" y="547.65" text-anchor="end">6</text>
<line x1="80.1" y1="511.57" x2="86.6" y2="511.57" stroke="#000" stroke-width="1.5"/>
<text x="72.1" y="517.27" text-anchor="end">8</text>
<line x1="80.1" y1="481.18" x2="86.6" y2="481.18" stroke="#000" stroke-width="1.5"/>
<text x="72.1" y="486.88" text-anchor="end">10</text>
<line x1="80.1" y1="450.8" x2="86.6" y2="450.8" stroke="#000" stroke-width="1.5"/>
<text x="72.1" y="456.5" text-anchor="end">12</text>
<text x="103.83" y="660.3" text-anchor="middle">0</text>
<text x="138.29" y="660.3" text-anchor="middle">7</text>
<text x="172.75" y="660.3" text-anchor="middle">14</text>
<text x="207.21" y="660.3" text-anchor="middle">21</text>
<text x="241.67" y="660.3" text-anchor="middle">28</text>
<text x="172.75" y="683.3" text-anchor="middle">Days post 650 rads</text>
<text transform="translate(38 542) rotate(-90)" text-anchor="middle">White blood cells (×10<tspan font-size="11" dy="-6.5">3</tspan><tspan dy="6.5">/µL)</tspan></text>
<path d="M103.83 500.93 V482.7 M100.93 500.93 H106.73 M100.93 482.7 H106.73" stroke="#000" stroke-width="1.5" fill="none"/>
<path d="M241.67 619.43 V610.31 M238.77 619.43 H244.57 M238.77 610.31 H244.57" stroke="#000" stroke-width="1.5" fill="none"/>
<path d="M103.83 491.82 L138.29 630.82 L172.75 630.06 L207.21 629.3 L241.67 614.87" fill="none" stroke="#ee2a24" stroke-width="1.5"/>
<path d="M103.83 500.93 V482.7 M100.93 500.93 H106.73 M100.93 482.7 H106.73" stroke="#000" stroke-width="1.5" fill="none"/>
<path d="M241.67 604.24 V595.12 M238.77 604.24 H244.57 M238.77 595.12 H244.57" stroke="#000" stroke-width="1.5" fill="none"/>
<path d="M103.83 491.82 L138.29 620.95 L172.75 620.95 L207.21 620.19 L241.67 599.68" fill="none" stroke="#ee2a24" stroke-width="1.5" stroke-dasharray="10.5 7.5"/>
<ellipse cx="103.83" cy="491.82" rx="3.8" ry="4.8" fill="#ee2a24"/>
<ellipse cx="138.29" cy="630.82" rx="3.8" ry="4.8" fill="#ee2a24"/>
<ellipse cx="172.75" cy="630.06" rx="3.8" ry="4.8" fill="#ee2a24"/>
<ellipse cx="207.21" cy="629.3" rx="3.8" ry="4.8" fill="#ee2a24"/>
<ellipse cx="241.67" cy="614.87" rx="3.8" ry="4.8" fill="#ee2a24"/>
<ellipse cx="103.83" cy="491.82" rx="3.2" ry="4.2" fill="#fff" stroke="#ee2a24" stroke-width="1.6"/>
<ellipse cx="138.29" cy="620.95" rx="3.2" ry="4.2" fill="#fff" stroke="#ee2a24" stroke-width="1.6"/>
<ellipse cx="172.75" cy="620.95" rx="3.2" ry="4.2" fill="#fff" stroke="#ee2a24" stroke-width="1.6"/>
<ellipse cx="207.21" cy="620.19" rx="3.2" ry="4.2" fill="#fff" stroke="#ee2a24" stroke-width="1.6"/>
<ellipse cx="241.67" cy="599.68" rx="3.2" ry="4.2" fill="#fff" stroke="#ee2a24" stroke-width="1.6"/>
<text x="139.29" y="610.9" font-size="21" text-anchor="middle" letter-spacing="2">*</text>
<text x="173.75" y="610.9" font-size="21" text-anchor="middle" letter-spacing="2">*</text>
<text x="208.21" y="610.9" font-size="21" text-anchor="middle" letter-spacing="2">*</text>
<text x="242.67" y="589.8" font-size="21" text-anchor="middle" letter-spacing="2">*</text>
<path d="M390.5 444.2 V633.7 H563" fill="none" stroke="#000" stroke-width="1.5"/>
<line x1="390.5" y1="633.7" x2="390.5" y2="640.2" stroke="#000" stroke-width="1.5"/>
<line x1="425" y1="633.7" x2="425" y2="640.2" stroke="#000" stroke-width="1.5"/>
<line x1="459.5" y1="633.7" x2="459.5" y2="640.2" stroke="#000" stroke-width="1.5"/>
<line x1="494" y1="633.7" x2="494" y2="640.2" stroke="#000" stroke-width="1.5"/>
<line x1="528.5" y1="633.7" x2="528.5" y2="640.2" stroke="#000" stroke-width="1.5"/>
<line x1="563" y1="633.7" x2="563" y2="640.2" stroke="#000" stroke-width="1.5"/>
<line x1="384" y1="633.7" x2="390.5" y2="633.7" stroke="#000" stroke-width="1.5"/>
<text x="376" y="639.4" text-anchor="end">0.0</text>
<line x1="384" y1="586.33" x2="390.5" y2="586.33" stroke="#000" stroke-width="1.5"/>
<text x="376" y="592.03" text-anchor="end">0.2</text>
<line x1="384" y1="538.95" x2="390.5" y2="538.95" stroke="#000" stroke-width="1.5"/>
<text x="376" y="544.65" text-anchor="end">0.4</text>
<line x1="384" y1="491.58" x2="390.5" y2="491.58" stroke="#000" stroke-width="1.5"/>
<text x="376" y="497.28" text-anchor="end">0.6</text>
<line x1="384" y1="444.2" x2="390.5" y2="444.2" stroke="#000" stroke-width="1.5"/>
<text x="376" y="449.9" text-anchor="end">0.8</text>
<text x="407.75" y="660.9" text-anchor="middle">0</text>
<text x="442.25" y="660.9" text-anchor="middle">7</text>
<text x="476.75" y="660.9" text-anchor="middle">14</text>
<text x="511.25" y="660.9" text-anchor="middle">21</text>
<text x="545.75" y="660.9" text-anchor="middle">28</text>
<text x="476.75" y="683.9" text-anchor="middle">Days post 650 rads</text>
<text transform="translate(338 540.5) rotate(-90)" text-anchor="middle">Neutrophils per µL (×10<tspan font-size="11" dy="-6.5">3</tspan><tspan dy="6.5">/µL)</tspan></text>
<path d="M407.75 557.9 V542.5 M404.85 557.9 H410.65 M404.85 542.5 H410.65" stroke="#000" stroke-width="1.5" fill="none"/>
<path d="M442.25 626.59 V619.49 M439.35 626.59 H445.15 M439.35 619.49 H445.15" stroke="#000" stroke-width="1.5" fill="none"/>
<path d="M476.75 623.04 V617.12 M473.85 623.04 H479.65 M473.85 617.12 H479.65" stroke="#000" stroke-width="1.5" fill="none"/>
<path d="M511.25 625.41 V620.67 M508.35 625.41 H514.15 M508.35 620.67 H514.15" stroke="#000" stroke-width="1.5" fill="none"/>
<path d="M545.75 593.43 V578.03 M542.85 593.43 H548.65 M542.85 578.03 H548.65" stroke="#000" stroke-width="1.5" fill="none"/>
<path d="M407.75 549.61 L442.25 623.04 L476.75 619.96 L511.25 623.04 L545.75 585.14" fill="none" stroke="#ee2a24" stroke-width="1.5"/>
<path d="M407.75 557.9 V542.5 M404.85 557.9 H410.65 M404.85 542.5 H410.65" stroke="#000" stroke-width="1.5" fill="none"/>
<path d="M442.25 612.38 V602.91 M439.35 612.38 H445.15 M439.35 602.91 H445.15" stroke="#000" stroke-width="1.5" fill="none"/>
<path d="M476.75 601.72 V559.08 M473.85 601.72 H479.65 M473.85 559.08 H479.65" stroke="#000" stroke-width="1.5" fill="none"/>
<path d="M511.25 605.28 V594.62 M508.35 605.28 H514.15 M508.35 594.62 H514.15" stroke="#000" stroke-width="1.5" fill="none"/>
<path d="M545.75 574.48 V559.08 M542.85 574.48 H548.65 M542.85 559.08 H548.65" stroke="#000" stroke-width="1.5" fill="none"/>
<path d="M407.75 549.61 L442.25 607.64 L476.75 579.22 L511.25 599.35 L545.75 566.19" fill="none" stroke="#ee2a24" stroke-width="1.5" stroke-dasharray="10.5 7.5"/>
<ellipse cx="407.75" cy="549.61" rx="2.6" ry="3.2" fill="#ee2a24"/>
<ellipse cx="442.25" cy="623.04" rx="2.6" ry="3.2" fill="#ee2a24"/>
<ellipse cx="476.75" cy="619.96" rx="2.6" ry="3.2" fill="#ee2a24"/>
<ellipse cx="511.25" cy="623.04" rx="2.6" ry="3.2" fill="#ee2a24"/>
<ellipse cx="545.75" cy="585.14" rx="2.6" ry="3.2" fill="#ee2a24"/>
<ellipse cx="407.75" cy="549.61" rx="2" ry="2.6" fill="#fff" stroke="#ee2a24" stroke-width="1.6"/>
<ellipse cx="442.25" cy="607.64" rx="2" ry="2.6" fill="#fff" stroke="#ee2a24" stroke-width="1.6"/>
<ellipse cx="476.75" cy="579.22" rx="2" ry="2.6" fill="#fff" stroke="#ee2a24" stroke-width="1.6"/>
<ellipse cx="511.25" cy="599.35" rx="2" ry="2.6" fill="#fff" stroke="#ee2a24" stroke-width="1.6"/>
<ellipse cx="545.75" cy="566.19" rx="2" ry="2.6" fill="#fff" stroke="#ee2a24" stroke-width="1.6"/>
<text x="443.25" y="576.3" font-size="21" text-anchor="middle" letter-spacing="2">**</text>
<text x="477.75" y="540" font-size="21" text-anchor="middle" letter-spacing="2">*</text>
<text x="512.25" y="574.3" font-size="21" text-anchor="middle" letter-spacing="2">*</text>
<path d="M664.7 451.9 V632.7 H837" fill="none" stroke="#000" stroke-width="1.5"/>
<line x1="664.7" y1="632.7" x2="664.7" y2="639.2" stroke="#000" stroke-width="1.5"/>
<line x1="699.16" y1="632.7" x2="699.16" y2="639.2" stroke="#000" stroke-width="1.5"/>
<line x1="733.62" y1="632.7" x2="733.62" y2="639.2" stroke="#000" stroke-width="1.5"/>
<line x1="768.08" y1="632.7" x2="768.08" y2="639.2" stroke="#000" stroke-width="1.5"/>
<line x1="802.54" y1="632.7" x2="802.54" y2="639.2" stroke="#000" stroke-width="1.5"/>
<line x1="837" y1="632.7" x2="837" y2="639.2" stroke="#000" stroke-width="1.5"/>
<line x1="658.2" y1="632.7" x2="664.7" y2="632.7" stroke="#000" stroke-width="1.5"/>
<text x="650.2" y="638.4" text-anchor="end">0</text>
<line x1="658.2" y1="602.57" x2="664.7" y2="602.57" stroke="#000" stroke-width="1.5"/>
<text x="650.2" y="608.27" text-anchor="end">2</text>
<line x1="658.2" y1="572.43" x2="664.7" y2="572.43" stroke="#000" stroke-width="1.5"/>
<text x="650.2" y="578.13" text-anchor="end">4</text>
<line x1="658.2" y1="542.3" x2="664.7" y2="542.3" stroke="#000" stroke-width="1.5"/>
<text x="650.2" y="548" text-anchor="end">6</text>
<line x1="658.2" y1="512.17" x2="664.7" y2="512.17" stroke="#000" stroke-width="1.5"/>
<text x="650.2" y="517.87" text-anchor="end">8</text>
<line x1="658.2" y1="482.03" x2="664.7" y2="482.03" stroke="#000" stroke-width="1.5"/>
<text x="650.2" y="487.73" text-anchor="end">10</text>
<line x1="658.2" y1="451.9" x2="664.7" y2="451.9" stroke="#000" stroke-width="1.5"/>
<text x="650.2" y="457.6" text-anchor="end">12</text>
<text x="683.93" y="659.9" text-anchor="middle">0</text>
<text x="716.39" y="659.9" text-anchor="middle">7</text>
<text x="753.85" y="659.9" text-anchor="middle">14</text>
<text x="787.31" y="659.9" text-anchor="middle">21</text>
<text x="821.77" y="659.9" text-anchor="middle">28</text>
<text x="750.85" y="682.9" text-anchor="middle">Days post 650 rads</text>
<text transform="translate(620 542.5) rotate(-90)" text-anchor="middle">Red blood cells (×10<tspan font-size="11" dy="-6.5">6</tspan><tspan dy="6.5">/µL)</tspan></text>
<path d="M681.93 479.02 V464.71 M679.03 479.02 H684.83 M679.03 464.71 H684.83" stroke="#000" stroke-width="1.5" fill="none"/>
<path d="M716.39 491.07 V479.02 M713.49 491.07 H719.29 M713.49 479.02 H719.29" stroke="#000" stroke-width="1.5" fill="none"/>
<path d="M750.85 555.86 V546.07 M747.95 555.86 H753.75 M747.95 546.07 H753.75" stroke="#000" stroke-width="1.5" fill="none"/>
<path d="M785.31 585.99 V556.61 M782.41 585.99 H788.21 M782.41 556.61 H788.21" stroke="#000" stroke-width="1.5" fill="none"/>
<path d="M819.77 518.19 V503.88 M816.87 518.19 H822.67 M816.87 503.88 H822.67" stroke="#000" stroke-width="1.5" fill="none"/>
<path d="M681.93 471.49 L716.39 485.05 L750.85 551.34 L785.31 571.68 L819.77 511.41" fill="none" stroke="#ee2a24" stroke-width="1.5"/>
<path d="M681.93 479.02 V464.71 M679.03 479.02 H684.83 M679.03 464.71 H684.83" stroke="#000" stroke-width="1.5" fill="none"/>
<path d="M716.39 499.36 V490.32 M713.49 499.36 H719.29 M713.49 490.32 H719.29" stroke="#000" stroke-width="1.5" fill="none"/>
<path d="M750.85 532.51 V512.17 M747.95 532.51 H753.75 M747.95 512.17 H753.75" stroke="#000" stroke-width="1.5" fill="none"/>
<path d="M785.31 492.58 V480.53 M782.41 492.58 H788.21 M782.41 480.53 H788.21" stroke="#000" stroke-width="1.5" fill="none"/>
<path d="M819.77 479.02 V466.97 M816.87 479.02 H822.67 M816.87 466.97 H822.67" stroke="#000" stroke-width="1.5" fill="none"/>
<path d="M681.93 471.49 L716.39 494.84 L750.85 522.71 L785.31 486.55 L819.77 472.99" fill="none" stroke="#ee2a24" stroke-width="1.5" stroke-dasharray="10.5 7.5"/>
<ellipse cx="681.93" cy="471.49" rx="3.8" ry="4.8" fill="#ee2a24"/>
<ellipse cx="716.39" cy="485.05" rx="3.8" ry="4.8" fill="#ee2a24"/>
<ellipse cx="750.85" cy="551.34" rx="3.8" ry="4.8" fill="#ee2a24"/>
<ellipse cx="785.31" cy="571.68" rx="3.8" ry="4.8" fill="#ee2a24"/>
<ellipse cx="819.77" cy="511.41" rx="3.8" ry="4.8" fill="#ee2a24"/>
<ellipse cx="681.93" cy="471.49" rx="3.2" ry="4.2" fill="#fff" stroke="#ee2a24" stroke-width="1.6"/>
<ellipse cx="716.39" cy="494.84" rx="3.2" ry="4.2" fill="#fff" stroke="#ee2a24" stroke-width="1.6"/>
<ellipse cx="750.85" cy="522.71" rx="3.2" ry="4.2" fill="#fff" stroke="#ee2a24" stroke-width="1.6"/>
<ellipse cx="785.31" cy="486.55" rx="3.2" ry="4.2" fill="#fff" stroke="#ee2a24" stroke-width="1.6"/>
<ellipse cx="819.77" cy="472.99" rx="3.2" ry="4.2" fill="#fff" stroke="#ee2a24" stroke-width="1.6"/>
<text x="751.85" y="509.3" font-size="21" text-anchor="middle" letter-spacing="2">*</text>
<text x="786.31" y="476.3" font-size="21" text-anchor="middle" letter-spacing="2">***</text>
<text x="820.77" y="461.3" font-size="21" text-anchor="middle" letter-spacing="2">**</text>
<path d="M951 451.7 V633.2 H1123" fill="none" stroke="#000" stroke-width="1.5"/>
<line x1="951" y1="633.2" x2="951" y2="639.7" stroke="#000" stroke-width="1.5"/>
<line x1="985.4" y1="633.2" x2="985.4" y2="639.7" stroke="#000" stroke-width="1.5"/>
<line x1="1019.8" y1="633.2" x2="1019.8" y2="639.7" stroke="#000" stroke-width="1.5"/>
<line x1="1054.2" y1="633.2" x2="1054.2" y2="639.7" stroke="#000" stroke-width="1.5"/>
<line x1="1088.6" y1="633.2" x2="1088.6" y2="639.7" stroke="#000" stroke-width="1.5"/>
<line x1="1123" y1="633.2" x2="1123" y2="639.7" stroke="#000" stroke-width="1.5"/>
<line x1="944.5" y1="633.2" x2="951" y2="633.2" stroke="#000" stroke-width="1.5"/>
<text x="936.5" y="638.9" text-anchor="end">0</text>
<line x1="944.5" y1="587.83" x2="951" y2="587.83" stroke="#000" stroke-width="1.5"/>
<text x="936.5" y="593.53" text-anchor="end">500</text>
<line x1="944.5" y1="542.45" x2="951" y2="542.45" stroke="#000" stroke-width="1.5"/>
<text x="936.5" y="548.15" text-anchor="end">1000</text>
<line x1="944.5" y1="497.08" x2="951" y2="497.08" stroke="#000" stroke-width="1.5"/>
<text x="936.5" y="502.78" text-anchor="end">1500</text>
<line x1="944.5" y1="451.7" x2="951" y2="451.7" stroke="#000" stroke-width="1.5"/>
<text x="936.5" y="457.4" text-anchor="end">2000</text>
<text x="970.7" y="660.4" text-anchor="middle">0</text>
<text x="1003.8" y="660.4" text-anchor="middle">7</text>
<text x="1040.5" y="660.4" text-anchor="middle">14</text>
<text x="1074.4" y="660.4" text-anchor="middle">21</text>
<text x="1108.1" y="660.4" text-anchor="middle">28</text>
<text x="1037" y="683.4" text-anchor="middle">Days post 650 rads</text>
<text transform="translate(885.5 542) rotate(-90)" text-anchor="middle">Platelets (×10<tspan font-size="11" dy="-6.5">3</tspan><tspan dy="6.5">/µL)</tspan></text>
<path d="M968.2 515.23 V500.71 M965.3 515.23 H971.1 M965.3 500.71 H971.1" stroke="#000" stroke-width="1.5" fill="none"/>
<path d="M1002.6 566.95 V559.69 M999.7 566.95 H1005.5 M999.7 559.69 H1005.5" stroke="#000" stroke-width="1.5" fill="none"/>
<path d="M1105.8 585.1 V573.31 M1102.9 585.1 H1108.7 M1102.9 573.31 H1108.7" stroke="#000" stroke-width="1.5" fill="none"/>
<path d="M968.2 507.97 L1002.6 563.32 L1037 627.75 L1071.4 618.68 L1105.8 579.66" fill="none" stroke="#ee2a24" stroke-width="1.5"/>
<path d="M968.2 515.23 V500.71 M965.3 515.23 H971.1 M965.3 500.71 H971.1" stroke="#000" stroke-width="1.5" fill="none"/>
<path d="M1002.6 519.76 V504.34 M999.7 519.76 H1005.5 M999.7 504.34 H1005.5" stroke="#000" stroke-width="1.5" fill="none"/>
<path d="M1037 608.7 V592.36 M1034.1 608.7 H1039.9 M1034.1 592.36 H1039.9" stroke="#000" stroke-width="1.5" fill="none"/>
<path d="M1071.4 574.21 V556.97 M1068.5 574.21 H1074.3 M1068.5 556.97 H1074.3" stroke="#000" stroke-width="1.5" fill="none"/>
<path d="M1105.8 556.06 V543.36 M1102.9 556.06 H1108.7 M1102.9 543.36 H1108.7" stroke="#000" stroke-width="1.5" fill="none"/>
<path d="M968.2 507.97 L1002.6 512.5 L1037 600.53 L1071.4 566.05 L1105.8 549.71" fill="none" stroke="#ee2a24" stroke-width="1.5" stroke-dasharray="10.5 7.5"/>
<ellipse cx="968.2" cy="507.97" rx="3.8" ry="4.8" fill="#ee2a24"/>
<ellipse cx="1002.6" cy="563.32" rx="3.8" ry="4.8" fill="#ee2a24"/>
<ellipse cx="1037" cy="627.75" rx="3.8" ry="4.8" fill="#ee2a24"/>
<ellipse cx="1071.4" cy="618.68" rx="3.8" ry="4.8" fill="#ee2a24"/>
<ellipse cx="1105.8" cy="579.66" rx="3.8" ry="4.8" fill="#ee2a24"/>
<ellipse cx="968.2" cy="507.97" rx="3.2" ry="4.2" fill="#fff" stroke="#ee2a24" stroke-width="1.6"/>
<ellipse cx="1002.6" cy="512.5" rx="3.2" ry="4.2" fill="#fff" stroke="#ee2a24" stroke-width="1.6"/>
<ellipse cx="1037" cy="600.53" rx="3.2" ry="4.2" fill="#fff" stroke="#ee2a24" stroke-width="1.6"/>
<ellipse cx="1071.4" cy="566.05" rx="3.2" ry="4.2" fill="#fff" stroke="#ee2a24" stroke-width="1.6"/>
<ellipse cx="1105.8" cy="549.71" rx="3.2" ry="4.2" fill="#fff" stroke="#ee2a24" stroke-width="1.6"/>
<text x="1003.6" y="500.9" font-size="21" text-anchor="middle" letter-spacing="2">**</text>
<text x="1038" y="589.9" font-size="21" text-anchor="middle" letter-spacing="2">*</text>
<text x="1072.4" y="552.3" font-size="21" text-anchor="middle" letter-spacing="2">***</text>
<text x="1106.8" y="540" font-size="21" text-anchor="middle" letter-spacing="2">**</text>
<line x1="87" y1="33.6" x2="110.6" y2="33.6" stroke="#000" stroke-width="1.5"/>
<circle cx="99.1" cy="33.6" r="4.3" fill="#000"/>
<text x="115" y="39.1" font-size="14">Control + PBS</text>
<line x1="87" y1="57.2" x2="110.6" y2="57.2" stroke="#000" stroke-width="1.5"/>
<circle cx="99.1" cy="57.2" r="3.5" fill="#e6e6e6" stroke="#000" stroke-width="1.6"/>
<text x="115" y="62.2" font-size="14">Control + 2 µg SCGF</text>
<line x1="88.7" y1="406" x2="112" y2="406" stroke="#ee2a24" stroke-width="1.5"/>
<circle cx="100.4" cy="406" r="4.3" fill="#ee2a24"/>
<text x="116" y="411.2" font-size="14"><tspan font-style="italic">CDH5–MAPK</tspan> + PBS</text>
<line x1="88.7" y1="427.2" x2="112" y2="427.2" stroke="#ee2a24" stroke-width="1.5"/>
<circle cx="100.4" cy="427.2" r="3.5" fill="#fff" stroke="#ee2a24" stroke-width="1.6"/>
<text x="116" y="432.4" font-size="14"><tspan font-style="italic">CDH5–MAPK</tspan> + 2 µg SCGF</text>
<rect x="82.8" y="931.41" width="20.6" height="112.09" fill="#000"/>
<rect x="124" y="889.8" width="18.8" height="153.7" fill="#a3a2a8" stroke="#000" stroke-width="1.8"/>
<rect x="163.4" y="974.57" width="20.6" height="68.93" fill="#ff0000"/>
<rect x="204.5" y="940.59" width="19" height="102.91" fill="#fde0e2" stroke="#ff0000" stroke-width="1.6"/>
<path d="M93.1 950.74 V912.09 M88.6 912.09 H97.6 M88.6 950.74 H97.6" stroke="#000" stroke-width="1.6" fill="none"/>
<path d="M133.4 915.96 V861.85 M128.9 861.85 H137.9 M128.9 915.96 H137.9" stroke="#000" stroke-width="1.6" fill="none"/>
<path d="M173.7 978.44 V970.71 M169.2 970.71 H178.2 M169.2 978.44 H178.2" stroke="#000" stroke-width="1.6" fill="none"/>
<path d="M214 948.81 V930.77 M209.5 930.77 H218.5 M209.5 948.81 H218.5" stroke="#000" stroke-width="1.6" fill="none"/>
<circle cx="93.1" cy="821.91" r="3.7" fill="rgba(206,206,206,0.52)" stroke="#000" stroke-width="1.5"/>
<circle cx="93.1" cy="922.4" r="3.7" fill="rgba(206,206,206,0.52)" stroke="#000" stroke-width="1.5"/>
<circle cx="86.6" cy="949.45" r="3.7" fill="rgba(206,206,206,0.52)" stroke="#000" stroke-width="1.5"/>
<circle cx="93.1" cy="944.3" r="3.7" fill="rgba(206,206,206,0.52)" stroke="#000" stroke-width="1.5"/>
<circle cx="99.4" cy="944.3" r="3.7" fill="rgba(206,206,206,0.52)" stroke="#000" stroke-width="1.5"/>
<circle cx="93.1" cy="961.05" r="3.7" fill="rgba(206,206,206,0.52)" stroke="#000" stroke-width="1.5"/>
<circle cx="93.1" cy="975.22" r="3.7" fill="rgba(206,206,206,0.52)" stroke="#000" stroke-width="1.5"/>
<circle cx="133.4" cy="812.89" r="3.7" fill="rgba(206,206,206,0.52)" stroke="#000" stroke-width="1.5"/>
<circle cx="133.4" cy="891.48" r="3.7" fill="rgba(206,206,206,0.52)" stroke="#000" stroke-width="1.5"/>
<circle cx="133.4" cy="918.53" r="3.7" fill="rgba(206,206,206,0.52)" stroke="#000" stroke-width="1.5"/>
<circle cx="133.4" cy="932.7" r="3.7" fill="rgba(206,206,206,0.52)" stroke="#000" stroke-width="1.5"/>
<circle cx="167.4" cy="967.75" r="3.7" fill="rgba(206,206,206,0.52)" stroke="#000" stroke-width="1.5"/>
<circle cx="180" cy="967.75" r="3.7" fill="rgba(206,206,206,0.52)" stroke="#000" stroke-width="1.5"/>
<circle cx="173.7" cy="976.51" r="3.7" fill="rgba(206,206,206,0.52)" stroke="#000" stroke-width="1.5"/>
<circle cx="173.7" cy="985.52" r="3.7" fill="rgba(206,206,206,0.52)" stroke="#000" stroke-width="1.5"/>
<circle cx="207.7" cy="910.8" r="3.7" fill="rgba(206,206,206,0.52)" stroke="#000" stroke-width="1.5"/>
<circle cx="220.3" cy="904.36" r="3.7" fill="rgba(206,206,206,0.52)" stroke="#000" stroke-width="1.5"/>
<circle cx="207.7" cy="944.3" r="3.7" fill="rgba(206,206,206,0.52)" stroke="#000" stroke-width="1.5"/>
<circle cx="220.3" cy="944.3" r="3.7" fill="rgba(206,206,206,0.52)" stroke="#000" stroke-width="1.5"/>
<circle cx="207.7" cy="954.61" r="3.7" fill="rgba(206,206,206,0.52)" stroke="#000" stroke-width="1.5"/>
<circle cx="220.3" cy="953.32" r="3.7" fill="rgba(206,206,206,0.52)" stroke="#000" stroke-width="1.5"/>
<circle cx="214" cy="964.91" r="3.7" fill="rgba(206,206,206,0.52)" stroke="#000" stroke-width="1.5"/>
<path d="M63.1 811.6 V1043.5 H244.9" fill="none" stroke="#000" stroke-width="1.5"/>
<line x1="56.6" y1="1043.5" x2="63.1" y2="1043.5" stroke="#000" stroke-width="1.5"/>
<text x="48.6" y="1049.2" text-anchor="end">0</text>
<line x1="56.6" y1="1004.85" x2="63.1" y2="1004.85" stroke="#000" stroke-width="1.5"/>
<text x="48.6" y="1010.55" text-anchor="end">3</text>
<line x1="56.6" y1="966.2" x2="63.1" y2="966.2" stroke="#000" stroke-width="1.5"/>
<text x="48.6" y="971.9" text-anchor="end">6</text>
<line x1="56.6" y1="927.55" x2="63.1" y2="927.55" stroke="#000" stroke-width="1.5"/>
<text x="48.6" y="933.25" text-anchor="end">9</text>
<line x1="56.6" y1="888.9" x2="63.1" y2="888.9" stroke="#000" stroke-width="1.5"/>
<text x="48.6" y="894.6" text-anchor="end">12</text>
<line x1="56.6" y1="850.25" x2="63.1" y2="850.25" stroke="#000" stroke-width="1.5"/>
<text x="48.6" y="855.95" text-anchor="end">15</text>
<line x1="56.6" y1="811.6" x2="63.1" y2="811.6" stroke="#000" stroke-width="1.5"/>
<text x="48.6" y="817.3" text-anchor="end">18</text>
<line x1="93.1" y1="1043.5" x2="93.1" y2="1050" stroke="#000" stroke-width="1.5"/>
<line x1="133.4" y1="1043.5" x2="133.4" y2="1050" stroke="#000" stroke-width="1.5"/>
<line x1="173.7" y1="1043.5" x2="173.7" y2="1050" stroke="#000" stroke-width="1.5"/>
<line x1="214" y1="1043.5" x2="214" y2="1050" stroke="#000" stroke-width="1.5"/>
<text transform="translate(18.3 927.5) rotate(-90)" text-anchor="middle">Total cells (×10<tspan font-size="11" dy="-7">6</tspan><tspan dy="7">)/femur</tspan></text>
<line x1="89.4" y1="802" x2="133.7" y2="802" stroke="#000" stroke-width="1.5"/>
<text x="112.55" y="801.5" font-size="21" text-anchor="middle" letter-spacing="2">*</text>
<line x1="170.5" y1="890" x2="214.9" y2="890" stroke="#000" stroke-width="1.5"/>
<text x="193.7" y="888.4" font-size="21" text-anchor="middle" letter-spacing="2">*</text>
<text transform="translate(98.7 1058) rotate(-90)" text-anchor="end">PBS</text>
<text transform="translate(139 1058) rotate(-90)" text-anchor="end">SCGF</text>
<text transform="translate(179.3 1058) rotate(-90)" text-anchor="end">PBS</text>
<text transform="translate(219.6 1058) rotate(-90)" text-anchor="end">SCGF</text>
<line x1="153.3" y1="1043.5" x2="153.3" y2="1089.5" stroke="#000" stroke-width="1.3"/>
<text x="106.4" y="1122.6" text-anchor="middle">Control</text>
<text x="206" y="1122.6" text-anchor="middle" font-style="italic">CDH5–MAPK</text>
<text x="157.5" y="776" text-anchor="middle">Day 28 post 650 rads</text>
<rect x="348.35" y="989.55" width="22.5" height="53.95" fill="#000"/>
<rect x="394.65" y="990.45" width="20.7" height="53.05" fill="#a3a2a8" stroke="#000" stroke-width="1.8"/>
<rect x="439.05" y="1008.82" width="22.5" height="34.68" fill="#ff0000"/>
<rect x="484.85" y="981.88" width="20.9" height="61.62" fill="#fde0e2" stroke="#ff0000" stroke-width="1.6"/>
<path d="M359.6 991.87 V987.24 M355.1 987.24 H364.1 M355.1 991.87 H364.1" stroke="#000" stroke-width="1.6" fill="none"/>
<path d="M405 1007.66 V971.83 M400.5 971.83 H409.5 M400.5 1007.66 H409.5" stroke="#000" stroke-width="1.6" fill="none"/>
<path d="M450.3 1027.32 V991.09 M445.8 991.09 H454.8 M445.8 1027.32 H454.8" stroke="#000" stroke-width="1.6" fill="none"/>
<path d="M495.3 1009.21 V952.95 M490.8 952.95 H499.8 M490.8 1009.21 H499.8" stroke="#000" stroke-width="1.6" fill="none"/>
<circle cx="359.6" cy="969.52" r="3.7" fill="rgba(206,206,206,0.52)" stroke="#000" stroke-width="1.5"/>
<circle cx="359.6" cy="981.85" r="3.7" fill="rgba(206,206,206,0.52)" stroke="#000" stroke-width="1.5"/>
<circle cx="352.1" cy="991.09" r="3.7" fill="rgba(206,206,206,0.52)" stroke="#000" stroke-width="1.5"/>
<circle cx="367.4" cy="990.02" r="3.7" fill="rgba(206,206,206,0.52)" stroke="#000" stroke-width="1.5"/>
<circle cx="359.6" cy="1001.11" r="3.7" fill="rgba(206,206,206,0.52)" stroke="#000" stroke-width="1.5"/>
<circle cx="352.1" cy="1010.36" r="3.7" fill="rgba(206,206,206,0.52)" stroke="#000" stroke-width="1.5"/>
<circle cx="367.4" cy="1010.36" r="3.7" fill="rgba(206,206,206,0.52)" stroke="#000" stroke-width="1.5"/>
<circle cx="405" cy="940.54" r="3.7" fill="rgba(206,206,206,0.52)" stroke="#000" stroke-width="1.5"/>
<circle cx="405" cy="988.01" r="3.7" fill="rgba(206,206,206,0.52)" stroke="#000" stroke-width="1.5"/>
<circle cx="405" cy="1004.97" r="3.7" fill="rgba(206,206,206,0.52)" stroke="#000" stroke-width="1.5"/>
<circle cx="405" cy="1025.77" r="3.7" fill="rgba(206,206,206,0.52)" stroke="#000" stroke-width="1.5"/>
<circle cx="450.3" cy="955.18" r="3.7" fill="rgba(206,206,206,0.52)" stroke="#000" stroke-width="1.5"/>
<circle cx="443.1" cy="1028.24" r="3.7" fill="rgba(206,206,206,0.52)" stroke="#000" stroke-width="1.5"/>
<circle cx="450.3" cy="1025.77" r="3.7" fill="rgba(206,206,206,0.52)" stroke="#000" stroke-width="1.5"/>
<circle cx="457.8" cy="1026.55" r="3.7" fill="rgba(206,206,206,0.52)" stroke="#000" stroke-width="1.5"/>
<circle cx="495.3" cy="815.69" r="3.7" fill="rgba(206,206,206,0.52)" stroke="#000" stroke-width="1.5"/>
<circle cx="495.3" cy="990.71" r="3.7" fill="rgba(206,206,206,0.52)" stroke="#000" stroke-width="1.5"/>
<circle cx="487.8" cy="1001.88" r="3.7" fill="rgba(206,206,206,0.52)" stroke="#000" stroke-width="1.5"/>
<circle cx="503.1" cy="999.19" r="3.7" fill="rgba(206,206,206,0.52)" stroke="#000" stroke-width="1.5"/>
<circle cx="503.1" cy="1011.13" r="3.7" fill="rgba(206,206,206,0.52)" stroke="#000" stroke-width="1.5"/>
<circle cx="487.8" cy="1018.07" r="3.7" fill="rgba(206,206,206,0.52)" stroke="#000" stroke-width="1.5"/>
<circle cx="495.3" cy="1030.63" r="3.7" fill="rgba(206,206,206,0.52)" stroke="#000" stroke-width="1.5"/>
<path d="M337.8 812.3 V1043.5 H518.5" fill="none" stroke="#000" stroke-width="1.5"/>
<line x1="331.3" y1="1043.5" x2="337.8" y2="1043.5" stroke="#000" stroke-width="1.5"/>
<text x="323.3" y="1049.2" text-anchor="end">0</text>
<line x1="331.3" y1="1004.97" x2="337.8" y2="1004.97" stroke="#000" stroke-width="1.5"/>
<text x="323.3" y="1010.67" text-anchor="end">50</text>
<line x1="331.3" y1="966.43" x2="337.8" y2="966.43" stroke="#000" stroke-width="1.5"/>
<text x="323.3" y="972.13" text-anchor="end">100</text>
<line x1="331.3" y1="927.9" x2="337.8" y2="927.9" stroke="#000" stroke-width="1.5"/>
<text x="323.3" y="933.6" text-anchor="end">150</text>
<line x1="331.3" y1="889.37" x2="337.8" y2="889.37" stroke="#000" stroke-width="1.5"/>
<text x="323.3" y="895.07" text-anchor="end">200</text>
<line x1="331.3" y1="850.83" x2="337.8" y2="850.83" stroke="#000" stroke-width="1.5"/>
<text x="323.3" y="856.53" text-anchor="end">250</text>
<line x1="331.3" y1="812.3" x2="337.8" y2="812.3" stroke="#000" stroke-width="1.5"/>
<text x="323.3" y="818" text-anchor="end">300</text>
<line x1="359.6" y1="1043.5" x2="359.6" y2="1050" stroke="#000" stroke-width="1.5"/>
<line x1="405" y1="1043.5" x2="405" y2="1050" stroke="#000" stroke-width="1.5"/>
<line x1="450.3" y1="1043.5" x2="450.3" y2="1050" stroke="#000" stroke-width="1.5"/>
<line x1="495.3" y1="1043.5" x2="495.3" y2="1050" stroke="#000" stroke-width="1.5"/>
<text transform="translate(286.5 928.5) rotate(-90)" text-anchor="middle">HSCs/×10<tspan font-size="11" dy="-7">6</tspan><tspan dy="7"> WBM</tspan></text>
<line x1="361.3" y1="928.6" x2="405" y2="928.6" stroke="#000" stroke-width="1.5"/>
<text x="385.15" y="924" text-anchor="middle">n.s.</text>
<line x1="453.4" y1="804.8" x2="498.7" y2="804.8" stroke="#000" stroke-width="1.5"/>
<text x="478.05" y="800.5" text-anchor="middle">n.s.</text>
<text transform="translate(365.2 1058) rotate(-90)" text-anchor="end">PBS</text>
<text transform="translate(410.6 1058) rotate(-90)" text-anchor="end">SCGF</text>
<text transform="translate(455.9 1058) rotate(-90)" text-anchor="end">PBS</text>
<text transform="translate(500.9 1058) rotate(-90)" text-anchor="end">SCGF</text>
<line x1="426.4" y1="1043.5" x2="426.4" y2="1089.5" stroke="#000" stroke-width="1.3"/>
<text x="378.7" y="1122.6" text-anchor="middle">Control</text>
<text x="478" y="1122.6" text-anchor="middle" font-style="italic">CDH5–MAPK</text>
<text x="434.6" y="776.5" text-anchor="middle">Day 28 post 650 rads</text>
<rect x="622.85" y="1006.77" width="22.5" height="36.73" fill="#000"/>
<rect x="668.85" y="907.97" width="20.7" height="135.53" fill="#a3a2a8" stroke="#000" stroke-width="1.8"/>
<rect x="713.25" y="1033.93" width="22.5" height="9.57" fill="#ff0000"/>
<rect x="759.75" y="898.3" width="20.9" height="145.2" fill="#fde0e2" stroke="#ff0000" stroke-width="1.6"/>
<path d="M634.1 1015.1 V998.13 M629.6 998.13 H638.6 M629.6 1015.1 H638.6" stroke="#000" stroke-width="1.6" fill="none"/>
<path d="M679.2 917.26 V897.81 M674.7 897.81 H683.7 M674.7 917.26 H683.7" stroke="#000" stroke-width="1.6" fill="none"/>
<path d="M724.5 1038.56 V1029.3 M720 1029.3 H729 M720 1038.56 H729" stroke="#000" stroke-width="1.6" fill="none"/>
<path d="M770.2 911.08 V882.68 M765.7 882.68 H774.7 M765.7 911.08 H774.7" stroke="#000" stroke-width="1.6" fill="none"/>
<circle cx="634.1" cy="945.34" r="3.7" fill="rgba(206,206,206,0.52)" stroke="#000" stroke-width="1.5"/>
<circle cx="626.3" cy="998.13" r="3.7" fill="rgba(206,206,206,0.52)" stroke="#000" stroke-width="1.5"/>
<circle cx="641.6" cy="996.58" r="3.7" fill="rgba(206,206,206,0.52)" stroke="#000" stroke-width="1.5"/>
<circle cx="634.1" cy="1006.46" r="3.7" fill="rgba(206,206,206,0.52)" stroke="#000" stroke-width="1.5"/>
<circle cx="626.3" cy="1011.09" r="3.7" fill="rgba(206,206,206,0.52)" stroke="#000" stroke-width="1.5"/>
<circle cx="641.6" cy="1009.55" r="3.7" fill="rgba(206,206,206,0.52)" stroke="#000" stroke-width="1.5"/>
<circle cx="626.3" cy="1020.35" r="3.7" fill="rgba(206,206,206,0.52)" stroke="#000" stroke-width="1.5"/>
<circle cx="641.6" cy="1020.35" r="3.7" fill="rgba(206,206,206,0.52)" stroke="#000" stroke-width="1.5"/>
<circle cx="626.3" cy="1030.54" r="3.7" fill="rgba(206,206,206,0.52)" stroke="#000" stroke-width="1.5"/>
<circle cx="641.6" cy="1029.61" r="3.7" fill="rgba(206,206,206,0.52)" stroke="#000" stroke-width="1.5"/>
<circle cx="679.2" cy="852.44" r="3.7" fill="rgba(206,206,206,0.52)" stroke="#000" stroke-width="1.5"/>
<circle cx="671.4" cy="896.27" r="3.7" fill="rgba(206,206,206,0.52)" stroke="#000" stroke-width="1.5"/>
<circle cx="679.2" cy="890.09" r="3.7" fill="rgba(206,206,206,0.52)" stroke="#000" stroke-width="1.5"/>
<circle cx="686.7" cy="892.87" r="3.7" fill="rgba(206,206,206,0.52)" stroke="#000" stroke-width="1.5"/>
<circle cx="671.4" cy="909.85" r="3.7" fill="rgba(206,206,206,0.52)" stroke="#000" stroke-width="1.5"/>
<circle cx="686.7" cy="904.6" r="3.7" fill="rgba(206,206,206,0.52)" stroke="#000" stroke-width="1.5"/>
<circle cx="679.2" cy="917.26" r="3.7" fill="rgba(206,206,206,0.52)" stroke="#000" stroke-width="1.5"/>
<circle cx="679.2" cy="932.69" r="3.7" fill="rgba(206,206,206,0.52)" stroke="#000" stroke-width="1.5"/>
<circle cx="679.2" cy="961.7" r="3.7" fill="rgba(206,206,206,0.52)" stroke="#000" stroke-width="1.5"/>
<circle cx="724.5" cy="1001.21" r="3.7" fill="rgba(206,206,206,0.52)" stroke="#000" stroke-width="1.5"/>
<circle cx="724.5" cy="1019.12" r="3.7" fill="rgba(206,206,206,0.52)" stroke="#000" stroke-width="1.5"/>
<circle cx="717.3" cy="1036.71" r="3.7" fill="rgba(206,206,206,0.52)" stroke="#000" stroke-width="1.5"/>
<circle cx="724.5" cy="1031.46" r="3.7" fill="rgba(206,206,206,0.52)" stroke="#000" stroke-width="1.5"/>
<circle cx="731.7" cy="1036.71" r="3.7" fill="rgba(206,206,206,0.52)" stroke="#000" stroke-width="1.5"/>
<circle cx="724.5" cy="1040.1" r="3.7" fill="rgba(206,206,206,0.52)" stroke="#000" stroke-width="1.5"/>
<circle cx="717.3" cy="1041.65" r="3.7" fill="rgba(206,206,206,0.52)" stroke="#000" stroke-width="1.5"/>
<circle cx="731.7" cy="1041.65" r="3.7" fill="rgba(206,206,206,0.52)" stroke="#000" stroke-width="1.5"/>
<circle cx="762.7" cy="839.47" r="3.7" fill="rgba(206,206,206,0.52)" stroke="#000" stroke-width="1.5"/>
<circle cx="777.7" cy="838.85" r="3.7" fill="rgba(206,206,206,0.52)" stroke="#000" stroke-width="1.5"/>
<circle cx="762.7" cy="866.94" r="3.7" fill="rgba(206,206,206,0.52)" stroke="#000" stroke-width="1.5"/>
<circle cx="777.7" cy="866.33" r="3.7" fill="rgba(206,206,206,0.52)" stroke="#000" stroke-width="1.5"/>
<circle cx="770.2" cy="888.55" r="3.7" fill="rgba(206,206,206,0.52)" stroke="#000" stroke-width="1.5"/>
<circle cx="762.7" cy="906.45" r="3.7" fill="rgba(206,206,206,0.52)" stroke="#000" stroke-width="1.5"/>
<circle cx="777.7" cy="900.28" r="3.7" fill="rgba(206,206,206,0.52)" stroke="#000" stroke-width="1.5"/>
<circle cx="770.2" cy="946.27" r="3.7" fill="rgba(206,206,206,0.52)" stroke="#000" stroke-width="1.5"/>
<circle cx="762.7" cy="962.32" r="3.7" fill="rgba(206,206,206,0.52)" stroke="#000" stroke-width="1.5"/>
<circle cx="777.7" cy="955.53" r="3.7" fill="rgba(206,206,206,0.52)" stroke="#000" stroke-width="1.5"/>
<path d="M611.6 812 V1043.5 H793" fill="none" stroke="#000" stroke-width="1.5"/>
<line x1="605.1" y1="1043.5" x2="611.6" y2="1043.5" stroke="#000" stroke-width="1.5"/>
<text x="597.1" y="1049.2" text-anchor="end">0</text>
<line x1="605.1" y1="997.2" x2="611.6" y2="997.2" stroke="#000" stroke-width="1.5"/>
<text x="597.1" y="1002.9" text-anchor="end">15</text>
<line x1="605.1" y1="950.9" x2="611.6" y2="950.9" stroke="#000" stroke-width="1.5"/>
<text x="597.1" y="956.6" text-anchor="end">30</text>
<line x1="605.1" y1="904.6" x2="611.6" y2="904.6" stroke="#000" stroke-width="1.5"/>
<text x="597.1" y="910.3" text-anchor="end">45</text>
<line x1="605.1" y1="858.3" x2="611.6" y2="858.3" stroke="#000" stroke-width="1.5"/>
<text x="597.1" y="864" text-anchor="end">60</text>
<line x1="605.1" y1="812" x2="611.6" y2="812" stroke="#000" stroke-width="1.5"/>
<text x="597.1" y="817.7" text-anchor="end">75</text>
<line x1="634.1" y1="1043.5" x2="634.1" y2="1050" stroke="#000" stroke-width="1.5"/>
<line x1="679.2" y1="1043.5" x2="679.2" y2="1050" stroke="#000" stroke-width="1.5"/>
<line x1="724.5" y1="1043.5" x2="724.5" y2="1050" stroke="#000" stroke-width="1.5"/>
<line x1="770.2" y1="1043.5" x2="770.2" y2="1050" stroke="#000" stroke-width="1.5"/>
<text transform="translate(565.5 928) rotate(-90)" text-anchor="middle">% CD45.2 engraftment</text>
<line x1="639" y1="837.9" x2="683.2" y2="837.9" stroke="#000" stroke-width="1.5"/>
<text x="662.1" y="838.3" font-size="21" text-anchor="middle" letter-spacing="2">***</text>
<line x1="726.9" y1="822.9" x2="771.2" y2="822.9" stroke="#000" stroke-width="1.5"/>
<text x="750.05" y="823.3" font-size="21" text-anchor="middle" letter-spacing="2">***</text>
<text transform="translate(639.7 1058) rotate(-90)" text-anchor="end">PBS</text>
<text transform="translate(684.8 1058) rotate(-90)" text-anchor="end">SCGF</text>
<text transform="translate(730.1 1058) rotate(-90)" text-anchor="end">PBS</text>
<text transform="translate(775.8 1058) rotate(-90)" text-anchor="end">SCGF</text>
<line x1="701" y1="1043.5" x2="701" y2="1089.5" stroke="#000" stroke-width="1.3"/>
<text x="650" y="1122.6" text-anchor="middle">Control</text>
<text x="748.4" y="1122.6" text-anchor="middle" font-style="italic">CDH5–MAPK</text>
<text x="678" y="760.5" text-anchor="middle">16 weeks post transplant</text>
<text x="678" y="776.5" text-anchor="middle">(primary transplant)</text>
<rect x="923.25" y="1013.02" width="19.7" height="30.78" fill="#000"/>
<rect x="946.55" y="984.02" width="17.9" height="59.78" fill="#a3a2a8" stroke="#000" stroke-width="1.8"/>
<rect x="968.15" y="962.99" width="19.7" height="80.81" fill="#ff0000"/>
<rect x="991.45" y="972.38" width="18.1" height="71.42" fill="#fde0e2" stroke="#ff0000" stroke-width="1.6"/>
<rect x="1022.55" y="914.74" width="19.7" height="129.06" fill="#000"/>
<rect x="1046.55" y="926.6" width="17.9" height="117.2" fill="#a3a2a8" stroke="#000" stroke-width="1.8"/>
<rect x="1067.65" y="894.62" width="19.7" height="149.18" fill="#ff0000"/>
<rect x="1090.95" y="932.71" width="18.1" height="111.09" fill="#fde0e2" stroke="#ff0000" stroke-width="1.6"/>
<rect x="1122.55" y="934.58" width="19.7" height="109.22" fill="#000"/>
<rect x="1146.05" y="954.72" width="17.9" height="89.08" fill="#a3a2a8" stroke="#000" stroke-width="1.8"/>
<rect x="1167.35" y="998.22" width="19.7" height="45.58" fill="#ff0000"/>
<rect x="1190.65" y="962.02" width="18.1" height="81.78" fill="#fde0e2" stroke="#ff0000" stroke-width="1.6"/>
<path d="M933.1 1019.53 V1006.21 M929.1 1006.21 H937.1 M929.1 1019.53 H937.1" stroke="#000" stroke-width="1.6" fill="none"/>
<path d="M955.5 991.41 V974.54 M951.5 974.54 H959.5 M951.5 991.41 H959.5" stroke="#000" stroke-width="1.6" fill="none"/>
<path d="M978 981.94 V944.64 M974 944.64 H982 M974 981.94 H982" stroke="#000" stroke-width="1.6" fill="none"/>
<path d="M1000.5 979.57 V962.99 M996.5 962.99 H1004.5 M996.5 979.57 H1004.5" stroke="#000" stroke-width="1.6" fill="none"/>
<path d="M1032.4 925.4 V904.38 M1028.4 904.38 H1036.4 M1028.4 925.4 H1036.4" stroke="#000" stroke-width="1.6" fill="none"/>
<path d="M1055.5 933.69 V918 M1051.5 918 H1059.5 M1051.5 933.69 H1059.5" stroke="#000" stroke-width="1.6" fill="none"/>
<path d="M1077.5 912.97 V874.78 M1073.5 874.78 H1081.5 M1073.5 912.97 H1081.5" stroke="#000" stroke-width="1.6" fill="none"/>
<path d="M1100 941.68 V921.55 M1096 921.55 H1104 M1096 941.68 H1104" stroke="#000" stroke-width="1.6" fill="none"/>
<path d="M1132.4 946.12 V922.74 M1128.4 922.74 H1136.4 M1128.4 946.12 H1136.4" stroke="#000" stroke-width="1.6" fill="none"/>
<path d="M1155 959.44 V947.3 M1151 947.3 H1159 M1151 959.44 H1159" stroke="#000" stroke-width="1.6" fill="none"/>
<path d="M1177.2 1011.24 V983.71 M1173.2 983.71 H1181.2 M1173.2 1011.24 H1181.2" stroke="#000" stroke-width="1.6" fill="none"/>
<path d="M1199.7 968.91 V953.22 M1195.7 953.22 H1203.7 M1195.7 968.91 H1203.7" stroke="#000" stroke-width="1.6" fill="none"/>
<circle cx="933.1" cy="963.58" r="2.3" fill="rgba(255,255,255,0.55)" stroke="#000" stroke-width="1.3"/>
<circle cx="926.6" cy="999.1" r="2.3" fill="rgba(255,255,255,0.55)" stroke="#000" stroke-width="1.3"/>
<circle cx="933.1" cy="1003.84" r="2.3" fill="rgba(255,255,255,0.55)" stroke="#000" stroke-width="1.3"/>
<circle cx="939.6" cy="999.1" r="2.3" fill="rgba(255,255,255,0.55)" stroke="#000" stroke-width="1.3"/>
<circle cx="926.6" cy="1021.01" r="2.3" fill="rgba(255,255,255,0.55)" stroke="#000" stroke-width="1.3"/>
<circle cx="933.1" cy="1028.7" r="2.3" fill="rgba(255,255,255,0.55)" stroke="#000" stroke-width="1.3"/>
<circle cx="926.6" cy="1031.37" r="2.3" fill="rgba(255,255,255,0.55)" stroke="#000" stroke-width="1.3"/>
<circle cx="939.6" cy="1031.37" r="2.3" fill="rgba(255,255,255,0.55)" stroke="#000" stroke-width="1.3"/>
<circle cx="939.6" cy="1021.01" r="2.3" fill="rgba(255,255,255,0.55)" stroke="#000" stroke-width="1.3"/>
<circle cx="955.5" cy="932.8" r="2.3" fill="rgba(255,255,255,0.55)" stroke="#000" stroke-width="1.3"/>
<circle cx="955.5" cy="963.58" r="2.3" fill="rgba(255,255,255,0.55)" stroke="#000" stroke-width="1.3"/>
<circle cx="955.5" cy="967.14" r="2.3" fill="rgba(255,255,255,0.55)" stroke="#000" stroke-width="1.3"/>
<circle cx="949" cy="983.12" r="2.3" fill="rgba(255,255,255,0.55)" stroke="#000" stroke-width="1.3"/>
<circle cx="962" cy="983.12" r="2.3" fill="rgba(255,255,255,0.55)" stroke="#000" stroke-width="1.3"/>
<circle cx="955.5" cy="990.52" r="2.3" fill="rgba(255,255,255,0.55)" stroke="#000" stroke-width="1.3"/>
<circle cx="955.5" cy="998.22" r="2.3" fill="rgba(255,255,255,0.55)" stroke="#000" stroke-width="1.3"/>
<circle cx="955.5" cy="1008.58" r="2.3" fill="rgba(255,255,255,0.55)" stroke="#000" stroke-width="1.3"/>
<circle cx="955.5" cy="1018.94" r="2.3" fill="rgba(255,255,255,0.55)" stroke="#000" stroke-width="1.3"/>
<circle cx="978" cy="957.66" r="2.3" fill="rgba(255,255,255,0.55)" stroke="#000" stroke-width="1.3"/>
<circle cx="971.5" cy="959.44" r="2.3" fill="rgba(255,255,255,0.55)" stroke="#000" stroke-width="1.3"/>
<circle cx="984.5" cy="959.44" r="2.3" fill="rgba(255,255,255,0.55)" stroke="#000" stroke-width="1.3"/>
<circle cx="978" cy="983.12" r="2.3" fill="rgba(255,255,255,0.55)" stroke="#000" stroke-width="1.3"/>
<circle cx="971.5" cy="1002.66" r="2.3" fill="rgba(255,255,255,0.55)" stroke="#000" stroke-width="1.3"/>
<circle cx="978" cy="1002.66" r="2.3" fill="rgba(255,255,255,0.55)" stroke="#000" stroke-width="1.3"/>
<circle cx="984.5" cy="1002.66" r="2.3" fill="rgba(255,255,255,0.55)" stroke="#000" stroke-width="1.3"/>
<circle cx="971.5" cy="1019.82" r="2.3" fill="rgba(255,255,255,0.55)" stroke="#000" stroke-width="1.3"/>
<circle cx="984.5" cy="1017.46" r="2.3" fill="rgba(255,255,255,0.55)" stroke="#000" stroke-width="1.3"/>
<circle cx="978" cy="865.61" r="2.3" fill="rgba(255,255,255,0.55)" stroke="#000" stroke-width="1.3"/>
<circle cx="978" cy="849.92" r="2.3" fill="rgba(255,255,255,0.55)" stroke="#000" stroke-width="1.3"/>
<circle cx="1000.5" cy="932.5" r="2.3" fill="rgba(255,255,255,0.55)" stroke="#000" stroke-width="1.3"/>
<circle cx="993.5" cy="956.18" r="2.3" fill="rgba(255,255,255,0.55)" stroke="#000" stroke-width="1.3"/>
<circle cx="998.2" cy="956.18" r="2.3" fill="rgba(255,255,255,0.55)" stroke="#000" stroke-width="1.3"/>
<circle cx="1002.8" cy="956.18" r="2.3" fill="rgba(255,255,255,0.55)" stroke="#000" stroke-width="1.3"/>
<circle cx="1007.5" cy="956.18" r="2.3" fill="rgba(255,255,255,0.55)" stroke="#000" stroke-width="1.3"/>
<circle cx="1000.5" cy="979.57" r="2.3" fill="rgba(255,255,255,0.55)" stroke="#000" stroke-width="1.3"/>
<circle cx="1000.5" cy="1012.13" r="2.3" fill="rgba(255,255,255,0.55)" stroke="#000" stroke-width="1.3"/>
<circle cx="1000.5" cy="1024.56" r="2.3" fill="rgba(255,255,255,0.55)" stroke="#000" stroke-width="1.3"/>
<circle cx="1032.4" cy="874.78" r="2.3" fill="rgba(255,255,255,0.55)" stroke="#000" stroke-width="1.3"/>
<circle cx="1025.9" cy="893.14" r="2.3" fill="rgba(255,255,255,0.55)" stroke="#000" stroke-width="1.3"/>
<circle cx="1038.9" cy="893.14" r="2.3" fill="rgba(255,255,255,0.55)" stroke="#000" stroke-width="1.3"/>
<circle cx="1032.4" cy="905.86" r="2.3" fill="rgba(255,255,255,0.55)" stroke="#000" stroke-width="1.3"/>
<circle cx="1025.9" cy="912.97" r="2.3" fill="rgba(255,255,255,0.55)" stroke="#000" stroke-width="1.3"/>
<circle cx="1038.9" cy="912.97" r="2.3" fill="rgba(255,255,255,0.55)" stroke="#000" stroke-width="1.3"/>
<circle cx="1032.4" cy="940.5" r="2.3" fill="rgba(255,255,255,0.55)" stroke="#000" stroke-width="1.3"/>
<circle cx="1032.4" cy="969.21" r="2.3" fill="rgba(255,255,255,0.55)" stroke="#000" stroke-width="1.3"/>
<circle cx="1032.4" cy="925.4" r="2.3" fill="rgba(255,255,255,0.55)" stroke="#000" stroke-width="1.3"/>
<circle cx="1055.5" cy="881.89" r="2.3" fill="rgba(255,255,255,0.55)" stroke="#000" stroke-width="1.3"/>
<circle cx="1049" cy="908.82" r="2.3" fill="rgba(255,255,255,0.55)" stroke="#000" stroke-width="1.3"/>
<circle cx="1062" cy="908.82" r="2.3" fill="rgba(255,255,255,0.55)" stroke="#000" stroke-width="1.3"/>
<circle cx="1055.5" cy="921.55" r="2.3" fill="rgba(255,255,255,0.55)" stroke="#000" stroke-width="1.3"/>
<circle cx="1047.5" cy="940.5" r="2.3" fill="rgba(255,255,255,0.55)" stroke="#000" stroke-width="1.3"/>
<circle cx="1055.5" cy="940.5" r="2.3" fill="rgba(255,255,255,0.55)" stroke="#000" stroke-width="1.3"/>
<circle cx="1063.5" cy="940.5" r="2.3" fill="rgba(255,255,255,0.55)" stroke="#000" stroke-width="1.3"/>
<circle cx="1055.5" cy="952.63" r="2.3" fill="rgba(255,255,255,0.55)" stroke="#000" stroke-width="1.3"/>
<circle cx="1077.5" cy="846.07" r="2.3" fill="rgba(255,255,255,0.55)" stroke="#000" stroke-width="1.3"/>
<circle cx="1077.5" cy="851.7" r="2.3" fill="rgba(255,255,255,0.55)" stroke="#000" stroke-width="1.3"/>
<circle cx="1077.5" cy="885.44" r="2.3" fill="rgba(255,255,255,0.55)" stroke="#000" stroke-width="1.3"/>
<circle cx="1077.5" cy="911.19" r="2.3" fill="rgba(255,255,255,0.55)" stroke="#000" stroke-width="1.3"/>
<circle cx="1077.5" cy="927.77" r="2.3" fill="rgba(255,255,255,0.55)" stroke="#000" stroke-width="1.3"/>
<circle cx="1077.5" cy="947.3" r="2.3" fill="rgba(255,255,255,0.55)" stroke="#000" stroke-width="1.3"/>
<circle cx="1072.5" cy="978.38" r="2.3" fill="rgba(255,255,255,0.55)" stroke="#000" stroke-width="1.3"/>
<circle cx="1082.5" cy="977.5" r="2.3" fill="rgba(255,255,255,0.55)" stroke="#000" stroke-width="1.3"/>
<circle cx="1100" cy="870.64" r="2.3" fill="rgba(255,255,255,0.55)" stroke="#000" stroke-width="1.3"/>
<circle cx="1100" cy="895.5" r="2.3" fill="rgba(255,255,255,0.55)" stroke="#000" stroke-width="1.3"/>
<circle cx="1093.5" cy="912.97" r="2.3" fill="rgba(255,255,255,0.55)" stroke="#000" stroke-width="1.3"/>
<circle cx="1106.5" cy="912.97" r="2.3" fill="rgba(255,255,255,0.55)" stroke="#000" stroke-width="1.3"/>
<circle cx="1100" cy="923.33" r="2.3" fill="rgba(255,255,255,0.55)" stroke="#000" stroke-width="1.3"/>
<circle cx="1100" cy="942.27" r="2.3" fill="rgba(255,255,255,0.55)" stroke="#000" stroke-width="1.3"/>
<circle cx="1092.5" cy="950.86" r="2.3" fill="rgba(255,255,255,0.55)" stroke="#000" stroke-width="1.3"/>
<circle cx="1107.5" cy="950.86" r="2.3" fill="rgba(255,255,255,0.55)" stroke="#000" stroke-width="1.3"/>
<circle cx="1092.5" cy="963.58" r="2.3" fill="rgba(255,255,255,0.55)" stroke="#000" stroke-width="1.3"/>
<circle cx="1100" cy="963.58" r="2.3" fill="rgba(255,255,255,0.55)" stroke="#000" stroke-width="1.3"/>
<circle cx="1107.5" cy="963.58" r="2.3" fill="rgba(255,255,255,0.55)" stroke="#000" stroke-width="1.3"/>
<circle cx="1132.4" cy="881.89" r="2.3" fill="rgba(255,255,255,0.55)" stroke="#000" stroke-width="1.3"/>
<circle cx="1132.4" cy="886.92" r="2.3" fill="rgba(255,255,255,0.55)" stroke="#000" stroke-width="1.3"/>
<circle cx="1126.4" cy="912.97" r="2.3" fill="rgba(255,255,255,0.55)" stroke="#000" stroke-width="1.3"/>
<circle cx="1138.4" cy="912.97" r="2.3" fill="rgba(255,255,255,0.55)" stroke="#000" stroke-width="1.3"/>
<circle cx="1132.4" cy="931.32" r="2.3" fill="rgba(255,255,255,0.55)" stroke="#000" stroke-width="1.3"/>
<circle cx="1132.4" cy="952.04" r="2.3" fill="rgba(255,255,255,0.55)" stroke="#000" stroke-width="1.3"/>
<circle cx="1132.4" cy="960.92" r="2.3" fill="rgba(255,255,255,0.55)" stroke="#000" stroke-width="1.3"/>
<circle cx="1132.4" cy="981.94" r="2.3" fill="rgba(255,255,255,0.55)" stroke="#000" stroke-width="1.3"/>
<circle cx="1155" cy="924.22" r="2.3" fill="rgba(255,255,255,0.55)" stroke="#000" stroke-width="1.3"/>
<circle cx="1155" cy="935.17" r="2.3" fill="rgba(255,255,255,0.55)" stroke="#000" stroke-width="1.3"/>
<circle cx="1155" cy="942.27" r="2.3" fill="rgba(255,255,255,0.55)" stroke="#000" stroke-width="1.3"/>
<circle cx="1149" cy="952.63" r="2.3" fill="rgba(255,255,255,0.55)" stroke="#000" stroke-width="1.3"/>
<circle cx="1161" cy="952.63" r="2.3" fill="rgba(255,255,255,0.55)" stroke="#000" stroke-width="1.3"/>
<circle cx="1155" cy="962.99" r="2.3" fill="rgba(255,255,255,0.55)" stroke="#000" stroke-width="1.3"/>
<circle cx="1155" cy="971.58" r="2.3" fill="rgba(255,255,255,0.55)" stroke="#000" stroke-width="1.3"/>
<circle cx="1155" cy="982.82" r="2.3" fill="rgba(255,255,255,0.55)" stroke="#000" stroke-width="1.3"/>
<circle cx="1177.2" cy="891.06" r="2.3" fill="rgba(255,255,255,0.55)" stroke="#000" stroke-width="1.3"/>
<circle cx="1177.2" cy="969.21" r="2.3" fill="rgba(255,255,255,0.55)" stroke="#000" stroke-width="1.3"/>
<circle cx="1177.2" cy="980.16" r="2.3" fill="rgba(255,255,255,0.55)" stroke="#000" stroke-width="1.3"/>
<circle cx="1172.2" cy="1001.77" r="2.3" fill="rgba(255,255,255,0.55)" stroke="#000" stroke-width="1.3"/>
<circle cx="1177.2" cy="1011.24" r="2.3" fill="rgba(255,255,255,0.55)" stroke="#000" stroke-width="1.3"/>
<circle cx="1172.2" cy="1025.15" r="2.3" fill="rgba(255,255,255,0.55)" stroke="#000" stroke-width="1.3"/>
<circle cx="1182.2" cy="1025.15" r="2.3" fill="rgba(255,255,255,0.55)" stroke="#000" stroke-width="1.3"/>
<circle cx="1177.2" cy="1032.85" r="2.3" fill="rgba(255,255,255,0.55)" stroke="#000" stroke-width="1.3"/>
<circle cx="1177.2" cy="1038.18" r="2.3" fill="rgba(255,255,255,0.55)" stroke="#000" stroke-width="1.3"/>
<circle cx="1199.7" cy="918.89" r="2.3" fill="rgba(255,255,255,0.55)" stroke="#000" stroke-width="1.3"/>
<circle cx="1199.7" cy="939.61" r="2.3" fill="rgba(255,255,255,0.55)" stroke="#000" stroke-width="1.3"/>
<circle cx="1194.7" cy="944.05" r="2.3" fill="rgba(255,255,255,0.55)" stroke="#000" stroke-width="1.3"/>
<circle cx="1204.7" cy="944.05" r="2.3" fill="rgba(255,255,255,0.55)" stroke="#000" stroke-width="1.3"/>
<circle cx="1199.7" cy="952.63" r="2.3" fill="rgba(255,255,255,0.55)" stroke="#000" stroke-width="1.3"/>
<circle cx="1194.7" cy="963.58" r="2.3" fill="rgba(255,255,255,0.55)" stroke="#000" stroke-width="1.3"/>
<circle cx="1204.7" cy="963.58" r="2.3" fill="rgba(255,255,255,0.55)" stroke="#000" stroke-width="1.3"/>
<circle cx="1199.7" cy="969.21" r="2.3" fill="rgba(255,255,255,0.55)" stroke="#000" stroke-width="1.3"/>
<circle cx="1199.7" cy="984.3" r="2.3" fill="rgba(255,255,255,0.55)" stroke="#000" stroke-width="1.3"/>
<circle cx="1199.7" cy="991.41" r="2.3" fill="rgba(255,255,255,0.55)" stroke="#000" stroke-width="1.3"/>
<path d="M912.9 836.6 V1043.8 H1220.3" fill="none" stroke="#000" stroke-width="1.5"/>
<line x1="906.4" y1="1043.8" x2="912.9" y2="1043.8" stroke="#000" stroke-width="1.5"/>
<text x="898.4" y="1049.5" text-anchor="end">0</text>
<line x1="906.4" y1="1014.2" x2="912.9" y2="1014.2" stroke="#000" stroke-width="1.5"/>
<text x="898.4" y="1019.9" text-anchor="end">10</text>
<line x1="906.4" y1="984.6" x2="912.9" y2="984.6" stroke="#000" stroke-width="1.5"/>
<text x="898.4" y="990.3" text-anchor="end">20</text>
<line x1="906.4" y1="955" x2="912.9" y2="955" stroke="#000" stroke-width="1.5"/>
<text x="898.4" y="960.7" text-anchor="end">30</text>
<line x1="906.4" y1="925.4" x2="912.9" y2="925.4" stroke="#000" stroke-width="1.5"/>
<text x="898.4" y="931.1" text-anchor="end">40</text>
<line x1="906.4" y1="895.8" x2="912.9" y2="895.8" stroke="#000" stroke-width="1.5"/>
<text x="898.4" y="901.5" text-anchor="end">50</text>
<line x1="906.4" y1="866.2" x2="912.9" y2="866.2" stroke="#000" stroke-width="1.5"/>
<text x="898.4" y="871.9" text-anchor="end">60</text>
<line x1="906.4" y1="836.6" x2="912.9" y2="836.6" stroke="#000" stroke-width="1.5"/>
<text x="898.4" y="842.3" text-anchor="end">70</text>
<line x1="966.8" y1="1043.8" x2="966.8" y2="1050.3" stroke="#000" stroke-width="1.5"/>
<line x1="1066.6" y1="1043.8" x2="1066.6" y2="1050.3" stroke="#000" stroke-width="1.5"/>
<line x1="1165.8" y1="1043.8" x2="1165.8" y2="1050.3" stroke="#000" stroke-width="1.5"/>
<text transform="translate(849 940.5) rotate(-90)" text-anchor="middle">Lineage composition</text>
<line x1="936.4" y1="923.3" x2="951.6" y2="923.3" stroke="#000" stroke-width="1.5"/>
<text x="946" y="918" text-anchor="middle">n.s.</text>
<line x1="979.6" y1="841.4" x2="995.1" y2="841.4" stroke="#000" stroke-width="1.5"/>
<text x="989.35" y="838.3" text-anchor="middle">n.s.</text>
<line x1="1035.5" y1="868" x2="1050" y2="868" stroke="#000" stroke-width="1.5"/>
<text x="1044.75" y="864.5" text-anchor="middle">n.s.</text>
<line x1="1081" y1="840.4" x2="1096" y2="840.4" stroke="#000" stroke-width="1.5"/>
<text x="1090.5" y="837.3" text-anchor="middle">n.s.</text>
<line x1="1133.3" y1="876.6" x2="1149.5" y2="876.6" stroke="#000" stroke-width="1.5"/>
<text x="1143.4" y="873.3" text-anchor="middle">n.s.</text>
<line x1="1178.2" y1="883.5" x2="1192.7" y2="883.5" stroke="#000" stroke-width="1.5"/>
<text x="1186.45" y="884.2" font-size="21" text-anchor="middle" letter-spacing="2">*</text>
<text transform="translate(867.5 943.5) rotate(-90)" text-anchor="middle">(% of CD45.2)</text>
<text x="1051" y="759.5" text-anchor="middle">16 weeks post transplant</text>
<text x="1051" y="775" text-anchor="middle">(primary transplant)</text>
<rect x="944" y="788.5" width="10.4" height="9" fill="#000"/>
<rect x="944.7" y="804.7" width="9" height="8" fill="#d6d6d6" stroke="#000" stroke-width="1.4"/>
<rect x="1064.2" y="788.5" width="10.4" height="9" fill="#ee1c25"/>
<rect x="1064.9" y="804.7" width="9" height="8" fill="#fde0e2" stroke="#ff0000" stroke-width="1.4"/>
<text x="959.5" y="799" font-size="14">PBS CNTL</text>
<text x="959.5" y="814" font-size="14">SCGF CNTL</text>
<text x="1079.4" y="799" font-size="14">PBS <tspan font-style="italic">CDH5–MAPK</tspan></text>
<text x="1079.4" y="814" font-size="14">SCGF <tspan font-style="italic">CDH5–MAPK</tspan></text>
<text x="966.4" y="1071.8" text-anchor="middle">GR1<tspan font-size="10" dy="-6">+</tspan><tspan dy="6"> CD11B</tspan><tspan font-size="10" dy="-6">+</tspan></text>
<text x="966.4" y="1087.3" text-anchor="middle">Myeloid cells</text>
<text x="1066.6" y="1071.8" text-anchor="middle">B220<tspan font-size="10" dy="-6">+</tspan></text>
<text x="1066.6" y="1087.3" text-anchor="middle">B cells</text>
<text x="1165.8" y="1071.8" text-anchor="middle">CD3<tspan font-size="10" dy="-6">+</tspan></text>
<text x="1165.8" y="1087.3" text-anchor="middle">T cells</text>
<rect x="1320.9" y="975.81" width="22.8" height="68.49" fill="#000"/>
<rect x="1367" y="933.81" width="21" height="110.49" fill="#a3a2a8" stroke="#000" stroke-width="1.8"/>
<rect x="1457.8" y="935.26" width="21.2" height="109.04" fill="#fde0e2" stroke="#ff0000" stroke-width="1.6"/>
<path d="M1332.3 999.07 V952.04 M1327.8 952.04 H1336.8 M1327.8 999.07 H1336.8" stroke="#000" stroke-width="1.6" fill="none"/>
<path d="M1377.5 965.47 V899.05 M1373 899.05 H1382 M1373 965.47 H1382" stroke="#000" stroke-width="1.6" fill="none"/>
<path d="M1468.4 959.53 V907.84 M1463.9 907.84 H1472.9 M1463.9 959.53 H1472.9" stroke="#000" stroke-width="1.6" fill="none"/>
<circle cx="1332.3" cy="900.86" r="3.7" fill="rgba(206,206,206,0.52)" stroke="#000" stroke-width="1.5"/>
<circle cx="1332.3" cy="952.04" r="3.7" fill="rgba(206,206,206,0.52)" stroke="#000" stroke-width="1.5"/>
<circle cx="1332.3" cy="972.45" r="3.7" fill="rgba(206,206,206,0.52)" stroke="#000" stroke-width="1.5"/>
<circle cx="1325" cy="1026.21" r="3.7" fill="rgba(206,206,206,0.52)" stroke="#000" stroke-width="1.5"/>
<circle cx="1339.9" cy="1024.14" r="3.7" fill="rgba(206,206,206,0.52)" stroke="#000" stroke-width="1.5"/>
<circle cx="1377.5" cy="829.27" r="3.7" fill="rgba(206,206,206,0.52)" stroke="#000" stroke-width="1.5"/>
<circle cx="1377.5" cy="878.38" r="3.7" fill="rgba(206,206,206,0.52)" stroke="#000" stroke-width="1.5"/>
<circle cx="1377.5" cy="965.73" r="3.7" fill="rgba(206,206,206,0.52)" stroke="#000" stroke-width="1.5"/>
<circle cx="1369.9" cy="995.97" r="3.7" fill="rgba(206,206,206,0.52)" stroke="#000" stroke-width="1.5"/>
<circle cx="1385.1" cy="992.35" r="3.7" fill="rgba(206,206,206,0.52)" stroke="#000" stroke-width="1.5"/>
<circle cx="1415.5" cy="1043.52" r="3.7" fill="rgba(206,206,206,0.52)" stroke="#000" stroke-width="1.5"/>
<circle cx="1420.5" cy="1043.52" r="3.7" fill="rgba(206,206,206,0.52)" stroke="#000" stroke-width="1.5"/>
<circle cx="1430" cy="1043.52" r="3.7" fill="rgba(206,206,206,0.52)" stroke="#000" stroke-width="1.5"/>
<circle cx="1468.4" cy="883.55" r="3.7" fill="rgba(206,206,206,0.52)" stroke="#000" stroke-width="1.5"/>
<circle cx="1468.4" cy="903.19" r="3.7" fill="rgba(206,206,206,0.52)" stroke="#000" stroke-width="1.5"/>
<circle cx="1468.4" cy="911.98" r="3.7" fill="rgba(206,206,206,0.52)" stroke="#000" stroke-width="1.5"/>
<circle cx="1468.4" cy="942.99" r="3.7" fill="rgba(206,206,206,0.52)" stroke="#000" stroke-width="1.5"/>
<circle cx="1468.4" cy="1029.31" r="3.7" fill="rgba(206,206,206,0.52)" stroke="#000" stroke-width="1.5"/>
<path d="M1310.2 811.7 V1044.3 H1490.9" fill="none" stroke="#000" stroke-width="1.5"/>
<line x1="1303.7" y1="1044.3" x2="1310.2" y2="1044.3" stroke="#000" stroke-width="1.5"/>
<text x="1295.7" y="1050" text-anchor="end">0</text>
<line x1="1303.7" y1="1005.53" x2="1310.2" y2="1005.53" stroke="#000" stroke-width="1.5"/>
<text x="1295.7" y="1011.23" text-anchor="end">15</text>
<line x1="1303.7" y1="966.77" x2="1310.2" y2="966.77" stroke="#000" stroke-width="1.5"/>
<text x="1295.7" y="972.47" text-anchor="end">30</text>
<line x1="1303.7" y1="928" x2="1310.2" y2="928" stroke="#000" stroke-width="1.5"/>
<text x="1295.7" y="933.7" text-anchor="end">45</text>
<line x1="1303.7" y1="889.23" x2="1310.2" y2="889.23" stroke="#000" stroke-width="1.5"/>
<text x="1295.7" y="894.93" text-anchor="end">60</text>
<line x1="1303.7" y1="850.47" x2="1310.2" y2="850.47" stroke="#000" stroke-width="1.5"/>
<text x="1295.7" y="856.17" text-anchor="end">75</text>
<line x1="1303.7" y1="811.7" x2="1310.2" y2="811.7" stroke="#000" stroke-width="1.5"/>
<text x="1295.7" y="817.4" text-anchor="end">90</text>
<line x1="1332.3" y1="1044.3" x2="1332.3" y2="1050.8" stroke="#000" stroke-width="1.5"/>
<line x1="1377.5" y1="1044.3" x2="1377.5" y2="1050.8" stroke="#000" stroke-width="1.5"/>
<line x1="1423.5" y1="1044.3" x2="1423.5" y2="1050.8" stroke="#000" stroke-width="1.5"/>
<line x1="1468.4" y1="1044.3" x2="1468.4" y2="1050.8" stroke="#000" stroke-width="1.5"/>
<text transform="translate(1263.5 927.6) rotate(-90)" text-anchor="middle">% CD45.2 engraftment</text>
<line x1="1331.2" y1="818" x2="1377.5" y2="818" stroke="#000" stroke-width="1.5"/>
<text x="1356.35" y="812.7" text-anchor="middle">n.s.</text>
<text transform="translate(1337.9 1058.8) rotate(-90)" text-anchor="end">PBS</text>
<text transform="translate(1383.1 1058.8) rotate(-90)" text-anchor="end">SCGF</text>
<text transform="translate(1429.1 1058.8) rotate(-90)" text-anchor="end">PBS</text>
<text transform="translate(1474 1058.8) rotate(-90)" text-anchor="end">SCGF</text>
<line x1="1400.4" y1="1044.3" x2="1400.4" y2="1090.3" stroke="#000" stroke-width="1.3"/>
<text x="1350" y="1122.6" text-anchor="middle">Control</text>
<text x="1448" y="1122.6" text-anchor="middle" font-style="italic">CDH5–MAPK</text>
<text transform="translate(1431 976.8) rotate(-90)" text-anchor="middle">No engraftment</text>
<text x="1396" y="763.3" text-anchor="middle">16 weeks post transplant</text>
<text x="1396" y="779.5" text-anchor="middle">(secondary transplant)</text>
<rect x="1600.2" y="927.47" width="20" height="116.43" fill="#000"/>
<rect x="1623.4" y="998.36" width="18.2" height="45.54" fill="#a3a2a8" stroke="#000" stroke-width="1.8"/>
<rect x="1668.4" y="996.6" width="18.4" height="47.3" fill="#fde0e2" stroke="#ff0000" stroke-width="1.6"/>
<rect x="1699.7" y="954.34" width="20" height="89.56" fill="#000"/>
<rect x="1722.9" y="905.15" width="18.2" height="138.75" fill="#a3a2a8" stroke="#000" stroke-width="1.8"/>
<rect x="1767.8" y="929.93" width="18.4" height="113.97" fill="#fde0e2" stroke="#ff0000" stroke-width="1.6"/>
<rect x="1799.8" y="990.16" width="20" height="53.74" fill="#000"/>
<rect x="1823.3" y="925.05" width="18.2" height="118.85" fill="#a3a2a8" stroke="#000" stroke-width="1.8"/>
<rect x="1867.4" y="929.93" width="18.4" height="113.97" fill="#fde0e2" stroke="#ff0000" stroke-width="1.6"/>
<path d="M1610.2 951.02 V903.25 M1606.2 903.25 H1614.2 M1606.2 951.02 H1614.2" stroke="#000" stroke-width="1.6" fill="none"/>
<path d="M1632.5 1013.05 V980.87 M1628.5 980.87 H1636.5 M1628.5 1013.05 H1636.5" stroke="#000" stroke-width="1.6" fill="none"/>
<path d="M1677.6 1012.06 V977.56 M1673.6 977.56 H1681.6 M1673.6 1012.06 H1681.6" stroke="#000" stroke-width="1.6" fill="none"/>
<path d="M1709.7 977.56 V929.13 M1705.7 929.13 H1713.7 M1705.7 977.56 H1713.7" stroke="#000" stroke-width="1.6" fill="none"/>
<path d="M1732 927.47 V880.03 M1728 880.03 H1736 M1728 927.47 H1736" stroke="#000" stroke-width="1.6" fill="none"/>
<path d="M1777 957.99 V897.28 M1773 897.28 H1781 M1773 957.99 H1781" stroke="#000" stroke-width="1.6" fill="none"/>
<path d="M1809.8 1004.09 V976.23 M1805.8 976.23 H1813.8 M1805.8 1004.09 H1813.8" stroke="#000" stroke-width="1.6" fill="none"/>
<path d="M1832.4 936.09 V911.88 M1828.4 911.88 H1836.4 M1828.4 936.09 H1836.4" stroke="#000" stroke-width="1.6" fill="none"/>
<path d="M1876.6 941.73 V915.53 M1872.6 915.53 H1880.6 M1872.6 941.73 H1880.6" stroke="#000" stroke-width="1.6" fill="none"/>
<circle cx="1610.2" cy="843.88" r="3" fill="rgba(206,206,206,0.52)" stroke="#000" stroke-width="1.5"/>
<circle cx="1610.2" cy="904.25" r="3" fill="rgba(206,206,206,0.52)" stroke="#000" stroke-width="1.5"/>
<circle cx="1610.2" cy="944.72" r="3" fill="rgba(206,206,206,0.52)" stroke="#000" stroke-width="1.5"/>
<circle cx="1610.2" cy="967.27" r="3" fill="rgba(206,206,206,0.52)" stroke="#000" stroke-width="1.5"/>
<circle cx="1610.2" cy="973.24" r="3" fill="rgba(206,206,206,0.52)" stroke="#000" stroke-width="1.5"/>
<circle cx="1623.5" cy="960.31" r="3" fill="rgba(206,206,206,0.52)" stroke="#000" stroke-width="1.5"/>
<circle cx="1641.5" cy="960.31" r="3" fill="rgba(206,206,206,0.52)" stroke="#000" stroke-width="1.5"/>
<circle cx="1632.5" cy="1006.08" r="3" fill="rgba(206,206,206,0.52)" stroke="#000" stroke-width="1.5"/>
<circle cx="1632.5" cy="1017.69" r="3" fill="rgba(206,206,206,0.52)" stroke="#000" stroke-width="1.5"/>
<circle cx="1632.5" cy="1040.91" r="3" fill="rgba(206,206,206,0.52)" stroke="#000" stroke-width="1.5"/>
<circle cx="1670.6" cy="965.62" r="3" fill="rgba(206,206,206,0.52)" stroke="#000" stroke-width="1.5"/>
<circle cx="1684.6" cy="959.64" r="3" fill="rgba(206,206,206,0.52)" stroke="#000" stroke-width="1.5"/>
<circle cx="1677.6" cy="976.89" r="3" fill="rgba(206,206,206,0.52)" stroke="#000" stroke-width="1.5"/>
<circle cx="1677.6" cy="1032.95" r="3" fill="rgba(206,206,206,0.52)" stroke="#000" stroke-width="1.5"/>
<circle cx="1677.6" cy="1040.91" r="3" fill="rgba(206,206,206,0.52)" stroke="#000" stroke-width="1.5"/>
<circle cx="1702.2" cy="953.34" r="3" fill="rgba(206,206,206,0.52)" stroke="#000" stroke-width="1.5"/>
<circle cx="1709.7" cy="866.43" r="3" fill="rgba(206,206,206,0.52)" stroke="#000" stroke-width="1.5"/>
<circle cx="1709.7" cy="978.55" r="3" fill="rgba(206,206,206,0.52)" stroke="#000" stroke-width="1.5"/>
<circle cx="1709.7" cy="1024.66" r="3" fill="rgba(206,206,206,0.52)" stroke="#000" stroke-width="1.5"/>
<circle cx="1717.2" cy="949.36" r="3" fill="rgba(206,206,206,0.52)" stroke="#000" stroke-width="1.5"/>
<circle cx="1732" cy="828.95" r="3" fill="rgba(206,206,206,0.52)" stroke="#000" stroke-width="1.5"/>
<circle cx="1732" cy="869.75" r="3" fill="rgba(206,206,206,0.52)" stroke="#000" stroke-width="1.5"/>
<circle cx="1732" cy="919.84" r="3" fill="rgba(206,206,206,0.52)" stroke="#000" stroke-width="1.5"/>
<circle cx="1724.5" cy="950.02" r="3" fill="rgba(206,206,206,0.52)" stroke="#000" stroke-width="1.5"/>
<circle cx="1739" cy="949.36" r="3" fill="rgba(206,206,206,0.52)" stroke="#000" stroke-width="1.5"/>
<circle cx="1777" cy="846.2" r="3" fill="rgba(206,206,206,0.52)" stroke="#000" stroke-width="1.5"/>
<circle cx="1777" cy="875.72" r="3" fill="rgba(206,206,206,0.52)" stroke="#000" stroke-width="1.5"/>
<circle cx="1777" cy="939.74" r="3" fill="rgba(206,206,206,0.52)" stroke="#000" stroke-width="1.5"/>
<circle cx="1777" cy="964.95" r="3" fill="rgba(206,206,206,0.52)" stroke="#000" stroke-width="1.5"/>
<circle cx="1777" cy="1014.05" r="3" fill="rgba(206,206,206,0.52)" stroke="#000" stroke-width="1.5"/>
<circle cx="1809.8" cy="936.42" r="3" fill="rgba(206,206,206,0.52)" stroke="#000" stroke-width="1.5"/>
<circle cx="1809.8" cy="993.48" r="3" fill="rgba(206,206,206,0.52)" stroke="#000" stroke-width="1.5"/>
<circle cx="1802.8" cy="1001.77" r="3" fill="rgba(206,206,206,0.52)" stroke="#000" stroke-width="1.5"/>
<circle cx="1816.8" cy="1005.09" r="3" fill="rgba(206,206,206,0.52)" stroke="#000" stroke-width="1.5"/>
<circle cx="1802.8" cy="1009.73" r="3" fill="rgba(206,206,206,0.52)" stroke="#000" stroke-width="1.5"/>
<circle cx="1832.4" cy="876.72" r="3" fill="rgba(206,206,206,0.52)" stroke="#000" stroke-width="1.5"/>
<circle cx="1825.4" cy="938.08" r="3" fill="rgba(206,206,206,0.52)" stroke="#000" stroke-width="1.5"/>
<circle cx="1832.4" cy="934.77" r="3" fill="rgba(206,206,206,0.52)" stroke="#000" stroke-width="1.5"/>
<circle cx="1839.4" cy="929.13" r="3" fill="rgba(206,206,206,0.52)" stroke="#000" stroke-width="1.5"/>
<circle cx="1839.4" cy="938.08" r="3" fill="rgba(206,206,206,0.52)" stroke="#000" stroke-width="1.5"/>
<circle cx="1876.6" cy="905.91" r="3" fill="rgba(206,206,206,0.52)" stroke="#000" stroke-width="1.5"/>
<circle cx="1869.6" cy="919.84" r="3" fill="rgba(206,206,206,0.52)" stroke="#000" stroke-width="1.5"/>
<circle cx="1876.6" cy="917.19" r="3" fill="rgba(206,206,206,0.52)" stroke="#000" stroke-width="1.5"/>
<circle cx="1883.6" cy="919.84" r="3" fill="rgba(206,206,206,0.52)" stroke="#000" stroke-width="1.5"/>
<circle cx="1876.6" cy="980.21" r="3" fill="rgba(206,206,206,0.52)" stroke="#000" stroke-width="1.5"/>
<path d="M1589.1 811.7 V1043.9 H1898" fill="none" stroke="#000" stroke-width="1.5"/>
<line x1="1582.6" y1="1043.9" x2="1589.1" y2="1043.9" stroke="#000" stroke-width="1.5"/>
<text x="1574.6" y="1049.6" text-anchor="end">0</text>
<line x1="1582.6" y1="1010.73" x2="1589.1" y2="1010.73" stroke="#000" stroke-width="1.5"/>
<text x="1574.6" y="1016.43" text-anchor="end">10</text>
<line x1="1582.6" y1="977.56" x2="1589.1" y2="977.56" stroke="#000" stroke-width="1.5"/>
<text x="1574.6" y="983.26" text-anchor="end">20</text>
<line x1="1582.6" y1="944.39" x2="1589.1" y2="944.39" stroke="#000" stroke-width="1.5"/>
<text x="1574.6" y="950.09" text-anchor="end">30</text>
<line x1="1582.6" y1="911.21" x2="1589.1" y2="911.21" stroke="#000" stroke-width="1.5"/>
<text x="1574.6" y="916.91" text-anchor="end">40</text>
<line x1="1582.6" y1="878.04" x2="1589.1" y2="878.04" stroke="#000" stroke-width="1.5"/>
<text x="1574.6" y="883.74" text-anchor="end">50</text>
<line x1="1582.6" y1="844.87" x2="1589.1" y2="844.87" stroke="#000" stroke-width="1.5"/>
<text x="1574.6" y="850.57" text-anchor="end">60</text>
<line x1="1582.6" y1="811.7" x2="1589.1" y2="811.7" stroke="#000" stroke-width="1.5"/>
<text x="1574.6" y="817.4" text-anchor="end">70</text>
<line x1="1643.4" y1="1043.9" x2="1643.4" y2="1050.4" stroke="#000" stroke-width="1.5"/>
<line x1="1742.9" y1="1043.9" x2="1742.9" y2="1050.4" stroke="#000" stroke-width="1.5"/>
<line x1="1842.8" y1="1043.9" x2="1842.8" y2="1050.4" stroke="#000" stroke-width="1.5"/>
<text transform="translate(1526 928) rotate(-90)" text-anchor="middle">Lineage composition</text>
<line x1="1611.3" y1="831.8" x2="1630.6" y2="831.8" stroke="#000" stroke-width="1.5"/>
<text x="1621.95" y="831" font-size="21" text-anchor="middle" letter-spacing="2">*</text>
<line x1="1711.5" y1="820.7" x2="1730.8" y2="820.7" stroke="#000" stroke-width="1.5"/>
<text x="1723.15" y="817" text-anchor="middle">n.s.</text>
<line x1="1810.3" y1="865" x2="1831" y2="865" stroke="#000" stroke-width="1.5"/>
<text x="1821.65" y="864.3" font-size="21" text-anchor="middle" letter-spacing="2">**</text>
<text transform="translate(1546.5 931) rotate(-90)" text-anchor="middle">(% of CD45.2)</text>
<text x="1727.7" y="762" font-size="17.7" text-anchor="middle">16 weeks post transplant</text>
<text x="1727.7" y="778.6" font-size="17.7" text-anchor="middle">(secondary transplant)</text>
<text x="1643.4" y="1069.5" text-anchor="middle">GR1<tspan font-size="10" dy="-6">+</tspan><tspan dy="6"> CD11B</tspan><tspan font-size="10" dy="-6">+</tspan></text>
<text x="1643.4" y="1085.7" text-anchor="middle">Myeloid cells</text>
<text x="1742.9" y="1069.5" text-anchor="middle">B220<tspan font-size="10" dy="-6">+</tspan></text>
<text x="1742.9" y="1085.7" text-anchor="middle">B cells</text>
<text x="1842.8" y="1069.5" text-anchor="middle">CD3<tspan font-size="10" dy="-6">+</tspan></text>
<text x="1842.8" y="1085.7" text-anchor="middle">T cells</text>
<text x="20" y="22" font-size="40" font-weight="bold">a</text>
<text x="18.5" y="395.5" font-size="40" font-weight="bold">b</text>
<text x="1193.7" y="22.1" font-size="40" font-weight="bold">c</text>
<text x="1193.2" y="394.8" font-size="40" font-weight="bold">d</text>
<text x="-0.5" y="760" font-size="40" font-weight="bold">e</text>
<text x="270.5" y="760" font-size="40" font-weight="bold">f</text>
<text x="549.5" y="760" font-size="40" font-weight="bold">g</text>
<text x="835" y="760.5" font-size="40" font-weight="bold">h</text>
<text x="1254.5" y="759.5" font-size="40" font-weight="bold">i</text>
<text x="1512.5" y="759.5" font-size="40" font-weight="bold">j</text>
</svg>
</body></html>
